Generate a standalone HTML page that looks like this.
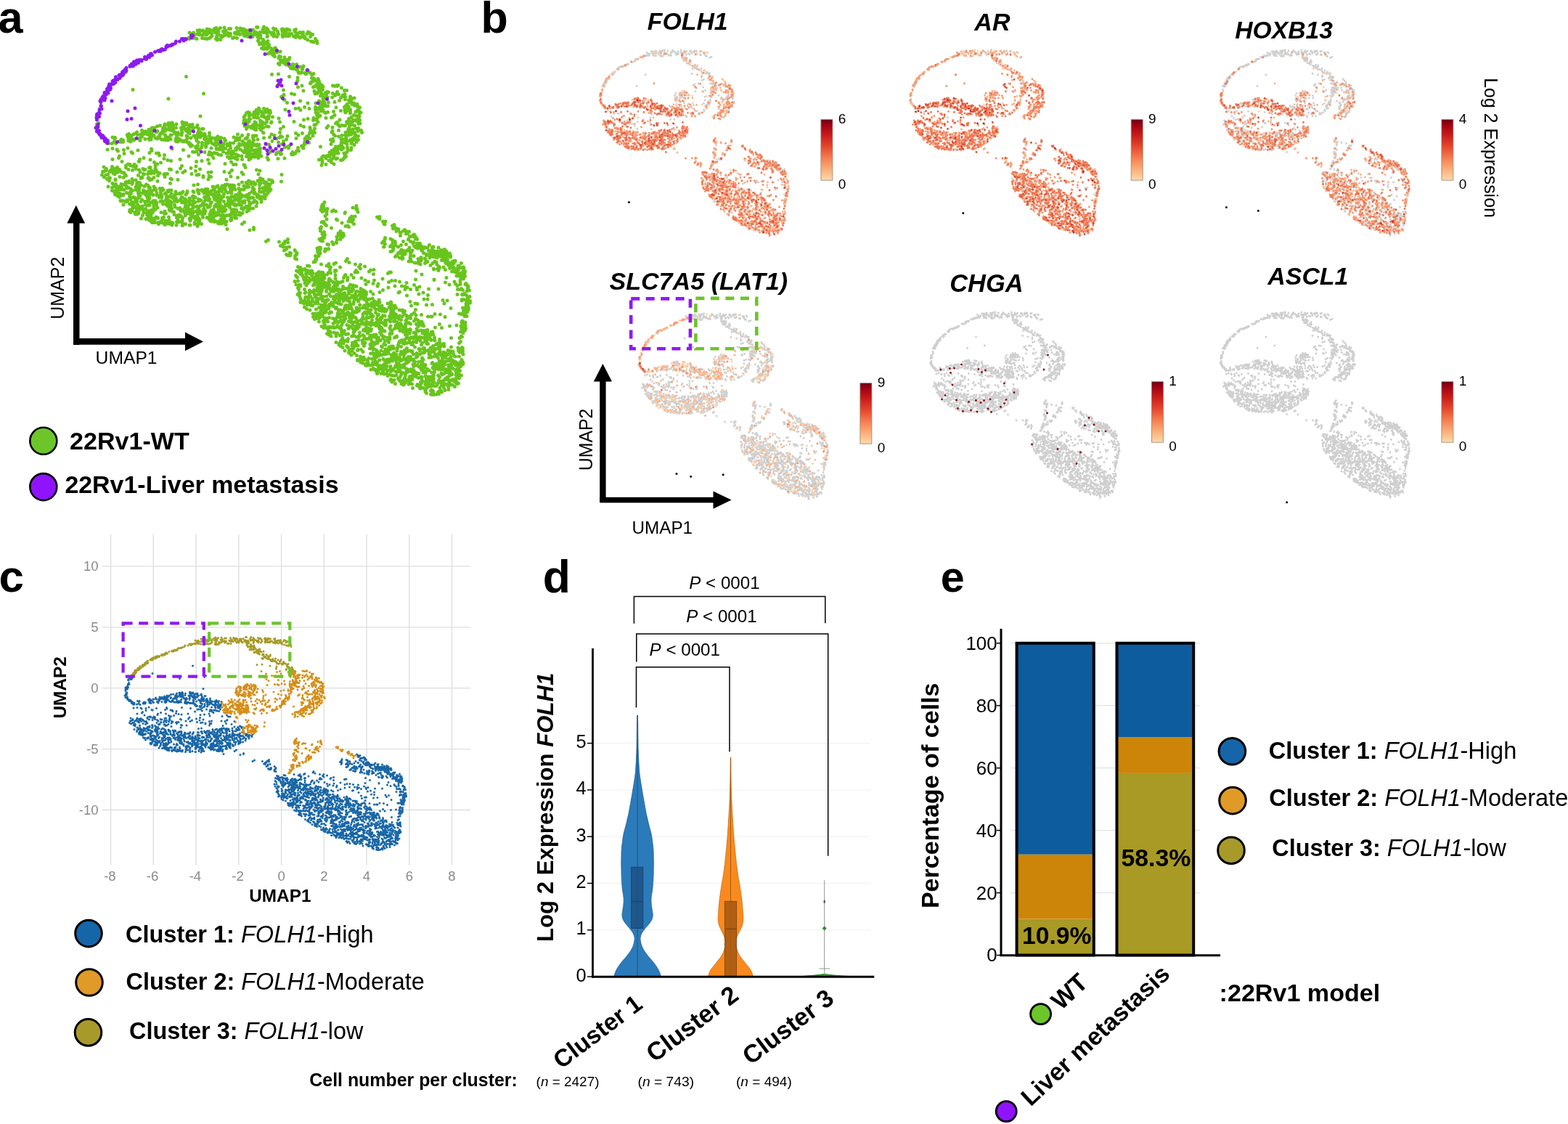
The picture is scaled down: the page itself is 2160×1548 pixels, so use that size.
<!DOCTYPE html>
<html><head><meta charset="utf-8"><title>Figure</title>
<style>html,body{margin:0;padding:0;background:#fff;}svg{display:block;}</style></head>
<body><svg width="2160" height="1548" viewBox="0 0 2160 1548" font-family="&quot;Liberation Sans&quot;, Arial, sans-serif">
<defs><linearGradient id="cbg" x1="0" y1="0" x2="0" y2="1">
<stop offset="0" stop-color="#6A0010"/><stop offset="0.08" stop-color="#9E0014"/><stop offset="0.25" stop-color="#C81A18"/>
<stop offset="0.45" stop-color="#E5482E"/><stop offset="0.62" stop-color="#F47A4E"/><stop offset="0.8" stop-color="#FAAA74"/>
<stop offset="1" stop-color="#FDDAAA"/></linearGradient></defs>
<rect width="2160" height="1548" fill="#fff"/>
<g id="pa" fill="none" stroke-linecap="round">
<path transform="scale(0.5)" stroke="#68C51C" stroke-width="10.0" d="M522 90h0m4 3h0m7-3h0m3 5h0m7-1h0m1-10h0m5 7h0m1-8h0m7 2h0m1-1h0m1 0h0m2 2h0m2 4h0m1 4h0m2-4h0m2 4h0m2-1h0m0-13h0m1 5h0m2 7h0m1-4h0m2 0h0m1-7h0m6 11h0m2-8h0m6-5h0m2 11h0m1-12h0m0 5h0m1-1h0m1-5h0m2 12h0m2 3h0m0-5h0m1-5h0m0 10h0m1-7h0m5-8h0m8 10h0m0-1h0m3-10h0m1 13h0m1 6h0m2-11h0m7 7h0m2-12h0m4 14h0m0-14h0m12 11h0m0 2h0m5-15h0m0 17h0m1-5h0m2-3h0m0 2h0m2 0h0m0 6h0m4 1h0m1-17h0m2 4h0m1 1h0m0-4h0m3 11h0m3-10h0m1 6h0m5-3h0m1 10h0m5-2h0m3-8h0m2 9h0m0-2h0m3-2h0m6-6h0m4 9h0m2 4h0m1-7h0m1 7h0m2-20h0m3 0h0m0 17h0m6-3h0m0 6h0m8-12h0m1 6h0m0-1h0m0-8h0m2-6h0m1 15h0m2 0h0m2-3h0m3-8h0m1 15h0m2-11h0m4 6h0m7 2h0m0 5h0m4-17h0m1 13h0m2 4h0m0-13h0m4-2h0m0 1h0m5 6h0m1 5h0m1 2h0m10-11h0m0-3h0m1 7h0m2-7h0m2 5h0m3-1h0m0 9h0m1-2h0m2-4h0m2-7h0m3 1h0m3 12h0m2-10h0m5 10h0m8-10h0m2 5h0m2-7h0m3 13h0m4-3h0m5-2h0m2 1h0m6-1h0m11 4h0m3-5h0m5 3h0m7 4h0m-341 9h0m0 0h0m2 3h0m8-9h0m3 7h0m3-1h0m6 3h0m8-11h0m0 0h0m7 9h0m1-9h0m5 10h0m2 0h0m4-10h0m2 11h0m6-2h0m4-3h0m3-3h0m11 8h0m2-6h0m1 9h0m0-11h0m4 9h0m6-10h0m0 11h0m2-9h0m3 1h0m0 0h0m1-1h0m3-3h0m0 1h0m5-2h0m8 3h0m1-3h0m3 2h0m7 7h0m4-2h0m8 2h0m19-8h0m2 2h0m9 2h0m10-4h0m1 0h0m2 4h0m14 1h0m1 0h0m0-5h0m0 0h0m0 15h0m1-13h0m0 15h0m1-15h0m0 6h0m1-4h0m1 1h0m3 2h0m0-6h0m4 19h0m3-8h0m1 8h0m4-1h0m6-15h0m0 16h0m1-17h0m1 13h0m16-13h0m9 1h0m15-5h0m1 5h0m8-2h0m5 0h0m5 0h0m12 1h0m2 0h0m2-1h0m2 4h0m7-3h0m4 4h0m6-3h0m1-5h0m3 1h0m2 6h0m2-1h0m1 4h0m7 4h0m7-9h0m2 13h0m4 1h0m3 1h0m5-9h0m4 6h0m1 6h0m-433 19h0m11-2h0m10-9h0m253-5h0m3-1h0m3 12h0m5-8h0m1-4h0m0 14h0m4-3h0m4-11h0m1 10h0m0 4h0m3-12h0m2 5h0m0-5h0m4 20h0m1-10h0m4 9h0m1-1h0m0-3h0m5-5h0m1 1h0m1 6h0m1-8h0m2 10h0m11 0h0m-34 6h0m2-1h0m9-1h0m0 2h0m3 4h0m4-5h0m1 9h0m7-12h0m0 0h0m4 16h0m1-5h0m4 1h0m0 10h0m4 0h0m3 1h0m4-9h0m5 7h0m7-2h0m0 1h0m2-5h0m-31 16h0m3 3h0m5-7h0m8 3h0m5 4h0m3-9h0m0 5h0m1 0h0m4 6h0m1 2h0m4 1h0m0 5h0m2-5h0m2 3h0m1-4h0m1-5h0m0 12h0m3 0h0m1-3h0m5 1h0m1-10h0m9 7h0m7 7h0m1-4h0m2-5h0m-489 17h0m166 12h0m236-6h0m18-1h0m30 7h0m20-19h0m2 0h0m1 22h0m2-15h0m1 2h0m0-1h0m2 0h0m4 1h0m2-2h0m9 2h0m0 0h0m1 2h0m2 1h0m3-11h0m0 6h0m1 0h0m1-5h0m6 6h0m4 5h0m1 10h0m2-10h0m3-2h0m-100 33h0m55-12h0m1-2h0m12 14h0m23-6h0m2-4h0m0 3h0m6-10h0m0-1h0m2 21h0m0-16h0m0-7h0m3 21h0m1-15h0m4 10h0m2-2h0m1-13h0m1 11h0m0-9h0m0 3h0m1 16h0m1-14h0m2 6h0m6 5h0m3 4h0m27-3h0m5 1h0m7-2h0m0 2h0m3-2h0m-566 12h0m195 11h0m220-10h0m1 13h0m0 1h0m21-4h0m8 2h0m10-20h0m15 10h0m27-10h0m3 11h0m2 7h0m5-3h0m1 2h0m2-15h0m3 6h0m3-4h0m1 9h0m1-12h0m1 15h0m0 3h0m4-12h0m0 15h0m7-6h0m3 5h0m2-8h0m4 1h0m12 3h0m6 6h0m2-3h0m4-7h0m4 7h0m8-18h0m3 20h0m5-13h0m0 1h0m1 10h0m5-11h0m-677 32h0m186-9h0m311-5h0m1-1h0m7 9h0m1 0h0m7 8h0m36-5h0m21 6h0m22 0h0m9-6h0m2 8h0m1-5h0m1-17h0m7 9h0m0 7h0m1-11h0m1 4h0m2 9h0m0-12h0m1 17h0m1-18h0m6-1h0m3 14h0m10-14h0m7 13h0m13-4h0m4-8h0m5-3h0m7 1h0m0 7h0m5 13h0m5-11h0m2 6h0m2-15h0m0-1h0m3 5h0m0 7h0m1-7h0m1 16h0m5-3h0m1-14h0m8 17h0m-708 10h0m403 14h0m5-2h0m4 2h0m12-2h0m4 2h0m2-8h0m0 7h0m6-2h0m1-10h0m1 2h0m1 5h0m5 2h0m7-8h0m0 0h0m2 11h0m1-3h0m6-6h0m1 7h0m2 1h0m0 1h0m1-3h0m4-2h0m1 5h0m41-8h0m28-3h0m9-1h0m5 5h0m11-8h0m13 4h0m17-4h0m0 7h0m1 8h0m3-10h0m3 11h0m0-10h0m0-3h0m3 1h0m1-3h0m4 5h0m1 5h0m1-17h0m1 10h0m1-11h0m0 4h0m0 11h0m2 0h0m2-11h0m2 17h0m1-21h0m2 23h0m2-19h0m4 0h0m0 17h0m16-2h0m7-11h0m13 9h0m10-10h0m1 8h0m1 5h0m1 2h0m0-18h0m1 11h0m2-10h0m2-3h0m0 15h0m2-9h0m2-2h0m4 12h0m0-4h0m11-14h0m1 3h0m1-1h0m2 18h0m4-3h0m1-13h0m1 3h0m3 2h0m0 9h0m2-10h0m3 14h0m-442 10h0m120 3h0m0 9h0m3-14h0m1 12h0m8 5h0m2 0h0m0-16h0m0 9h0m1-16h0m2 16h0m1-11h0m9-2h0m0 8h0m3-4h0m0 3h0m0-9h0m5 11h0m0-11h0m4 1h0m0 10h0m6 8h0m1 3h0m3-15h0m1-6h0m1 3h0m4 3h0m2 3h0m6 6h0m3-8h0m2 6h0m1-7h0m3-8h0m7 10h0m17 4h0m42 9h0m27-5h0m11-3h0m15 4h0m1-6h0m7 5h0m2-3h0m0 0h0m0-10h0m2-5h0m1 11h0m2-5h0m4 1h0m16 6h0m15-1h0m3-2h0m6-5h0m14 13h0m22 4h0m3-7h0m1 6h0m3-21h0m3 11h0m4 7h0m1 1h0m2-14h0m5 13h0m0 2h0m2-13h0m3 16h0m2-13h0m1 4h0m2-6h0m0-8h0m1 19h0m-724 11h0m5-3h0m119 20h0m19-2h0m8-4h0m1-1h0m6 5h0m1-5h0m7-4h0m8-2h0m8 7h0m0 0h0m0 5h0m2-5h0m2-7h0m1-4h0m0 16h0m2-4h0m1 3h0m2 0h0m4-12h0m1-6h0m2 12h0m1 6h0m0-17h0m1 18h0m1-11h0m0-7h0m1 10h0m1 4h0m2-12h0m1-4h0m1 2h0m0 9h0m2 4h0m0 5h0m0-13h0m8 7h0m1-10h0m13 10h0m1 6h0m1-3h0m1-19h0m1 5h0m0 0h0m1-3h0m1 9h0m1 5h0m3-7h0m0 10h0m0-16h0m3 20h0m2-20h0m0 3h0m0 0h0m1 13h0m4-1h0m1-7h0m3-3h0m5 6h0m2-7h0m4 9h0m9-2h0m0-1h0m1-4h0m3 9h0m10 1h0m3 0h0m111-16h0m3 8h0m1-10h0m0 10h0m4 8h0m2-13h0m3 7h0m0-1h0m7 1h0m1 3h0m2-2h0m1 2h0m2-8h0m1 5h0m2 6h0m0-8h0m2-11h0m2 3h0m1 19h0m0-20h0m1 16h0m2-9h0m8-1h0m0 8h0m0 1h0m2-1h0m1 6h0m2-4h0m1-11h0m0 10h0m1-17h0m3 15h0m4-11h0m5 8h0m0-12h0m5 13h0m7-11h0m1-2h0m23 0h0m2 19h0m8-6h0m47-4h0m9 4h0m17 2h0m1 5h0m11-12h0m1 10h0m3-11h0m6-7h0m24 16h0m4-5h0m12 4h0m9-11h0m3-3h0m2 0h0m2 7h0m1 15h0m3-11h0m6-3h0m7 1h0m2 0h0m4-10h0m2 2h0m1 1h0m2 17h0m1-19h0m1 15h0m1-7h0m3 14h0m1-17h0m2 2h0m2-8h0m1 20h0m5-10h0m4 8h0m6-1h0m1-12h0m2-1h0m2 0h0m3 19h0m-725 3h0m40 16h0m6 5h0m1-4h0m0 2h0m34-10h0m0 2h0m2 5h0m2-9h0m3 12h0m1-8h0m2 2h0m5 8h0m1-12h0m2-2h0m8-5h0m0 4h0m2 3h0m3 11h0m6-4h0m0-8h0m2 4h0m1-6h0m0 9h0m0-9h0m4-4h0m1 5h0m0-2h0m1 2h0m3-7h0m0 21h0m1-21h0m1 2h0m4 6h0m2-8h0m2 4h0m0 16h0m1-12h0m1 3h0m0-4h0m2-8h0m0 6h0m2-7h0m1 18h0m0-5h0m1-5h0m3-7h0m3 12h0m4 7h0m3-16h0m2 18h0m1-21h0m3 16h0m2-1h0m1-4h0m0 8h0m3-13h0m4 0h0m0-4h0m2 0h0m6 9h0m0-11h0m1 19h0m6-2h0m4 2h0m2 2h0m1 1h0m1 0h0m0-11h0m2 0h0m2-12h0m6 3h0m1 4h0m4 14h0m0-15h0m0 16h0m1-12h0m0 9h0m2-1h0m0-3h0m2-10h0m2 4h0m2 14h0m6-11h0m1-6h0m0 1h0m1-2h0m12 9h0m1-13h0m0 22h0m2-5h0m1-14h0m4 4h0m0-4h0m3-4h0m1 20h0m4-20h0m4 14h0m4 0h0m1 5h0m2 3h0m1 0h0m3-15h0m0 8h0m2-14h0m1 7h0m1-6h0m0 15h0m3 1h0m1-8h0m0-1h0m0 6h0m1-9h0m7 8h0m2-5h0m0 14h0m1-14h0m0 8h0m2 5h0m1 0h0m0-6h0m0 3h0m10-13h0m0 8h0m3 6h0m5 0h0m7 1h0m6-2h0m2-3h0m3 7h0m0-3h0m6-1h0m9 3h0m26-4h0m8 2h0m3-10h0m5 10h0m7-7h0m9 9h0m2 0h0m3-3h0m3-8h0m13 3h0m0 5h0m2-3h0m2-2h0m5 0h0m19-9h0m1 1h0m1 14h0m16-2h0m5-8h0m8 3h0m6 9h0m7-3h0m2-14h0m2 10h0m4 2h0m15-2h0m23-8h0m1 14h0m6-9h0m11-5h0m7 15h0m4-4h0m0-1h0m1 6h0m4-9h0m4-7h0m1-2h0m0 16h0m2-16h0m1-3h0m1 3h0m4-1h0m0 10h0m1-13h0m1 2h0m3 2h0m47-1h0m2-3h0m1 22h0m2-13h0m4 4h0m10 2h0m7 7h0m2-10h0m9-1h0m1-7h0m1 15h0m1 0h0m4-18h0m2 10h0m0-11h0m1 2h0m1 5h0m2 3h0m1-11h0m1 6h0m2-5h0m0 9h0m0-10h0m0 4h0m1 2h0m1-5h0m2 21h0m1-16h0m4 12h0m0-13h0m1 17h0m1-4h0m0-7h0m7-10h0m1 14h0m10-10h0m-704 21h0m1 8h0m4-7h0m1 8h0m9 0h0m6-4h0m5 4h0m11-6h0m2 2h0m2-7h0m3 4h0m2 3h0m0-5h0m15-2h0m0 4h0m2-1h0m4 3h0m9-4h0m17 1h0m26-2h0m4-1h0m29 0h0m5 1h0m7 1h0m5 0h0m3-2h0m19 3h0m2 3h0m1-5h0m3 0h0m1 5h0m3-6h0m4 2h0m5 4h0m3-2h0m2 2h0m4-3h0m0 1h0m3 3h0m6 6h0m0-4h0m2 2h0m1 2h0m1 6h0m3-1h0m1-2h0m10 4h0m3-1h0m0-15h0m3 13h0m2-9h0m8 15h0m1-5h0m1-9h0m0 6h0m10 6h0m0-5h0m0-7h0m1-6h0m0 15h0m5-18h0m1 10h0m1-10h0m3 6h0m3-4h0m4 9h0m5 3h0m3-2h0m1-12h0m1 17h0m0-12h0m1 0h0m1-1h0m0 5h0m2 4h0m3 0h0m3 10h0m3-5h0m0-14h0m1 14h0m1-6h0m1 0h0m3 6h0m1 3h0m1-8h0m0-1h0m4-8h0m1-1h0m5 10h0m0 4h0m5 0h0m0 0h0m3 1h0m0-8h0m9 0h0m6-7h0m1-1h0m4 18h0m1-20h0m1 23h0m0-22h0m2 17h0m1-6h0m0-11h0m5 14h0m4-10h0m3 4h0m2 7h0m2-4h0m1 10h0m4-7h0m0-3h0m4 5h0m1 3h0m0-6h0m0-8h0m1 6h0m1-8h0m1 14h0m0-11h0m3 4h0m2 11h0m2-6h0m1-6h0m0 3h0m2-11h0m1 11h0m0 3h0m0-14h0m8 16h0m1-4h0m2-14h0m1 16h0m3-1h0m0-1h0m19-1h0m8 1h0m9-9h0m17 3h0m10 5h0m4-8h0m0 5h0m3 12h0m5-22h0m3 20h0m5-2h0m24 5h0m10-5h0m2 1h0m5-4h0m1-4h0m1-6h0m4 5h0m3-4h0m1-6h0m3 9h0m32 11h0m28-19h0m1 12h0m3-8h0m3 0h0m7 15h0m2 0h0m7-1h0m2-1h0m0 3h0m4-12h0m1 6h0m1-7h0m1 12h0m1-20h0m6 9h0m3-5h0m3 0h0m0 9h0m1 9h0m7-18h0m2-3h0m2 22h0m0-12h0m2-4h0m6 8h0m2-14h0m4 6h0m5-6h0m-691 27h0m14-3h0m12 3h0m3 4h0m4 14h0m12-17h0m1 10h0m10-15h0m10 11h0m3 3h0m15-8h0m32 7h0m5-11h0m1 5h0m13 7h0m6 0h0m2 6h0m14-1h0m21-17h0m31 3h0m15 17h0m11-12h0m4 1h0m5-11h0m2 10h0m5 8h0m1-15h0m16 8h0m11 7h0m2-7h0m5-11h0m0 14h0m2 6h0m6-7h0m3 1h0m3-13h0m1 2h0m1 12h0m4 3h0m3-14h0m2-1h0m2 16h0m4-17h0m2 8h0m6-9h0m0 0h0m3 13h0m6 0h0m0-8h0m5-6h0m2 15h0m0-3h0m0 6h0m1 2h0m2-11h0m2 0h0m1 6h0m0-5h0m6-9h0m2 4h0m0 12h0m2 2h0m1 3h0m4-1h0m4-17h0m4 18h0m3-14h0m3 4h0m2-4h0m0 0h0m3-6h0m1 9h0m0-10h0m1 22h0m0-15h0m0-7h0m0 12h0m3 6h0m0-2h0m1-16h0m2 7h0m2 2h0m3 5h0m0 5h0m3-18h0m0 3h0m4 11h0m1-10h0m0 17h0m2-16h0m1 15h0m2-15h0m0 4h0m0 11h0m1-2h0m1-15h0m1 1h0m0 12h0m1-1h0m1-2h0m2 8h0m0-18h0m1 11h0m2-3h0m1-11h0m1 16h0m1-5h0m0-5h0m1-7h0m3 21h0m19-13h0m5 2h0m2-8h0m15 14h0m1-4h0m6-2h0m5-1h0m0 7h0m2-1h0m20-16h0m8 16h0m2 2h0m1-7h0m5 5h0m3-2h0m0 0h0m0 0h0m3-6h0m6 0h0m12-8h0m1 0h0m54 22h0m3 0h0m8 0h0m0-1h0m2 1h0m5 1h0m0-11h0m0 6h0m2-6h0m2-1h0m2-4h0m0 3h0m2 6h0m0 2h0m3-3h0m0 5h0m1 3h0m0-20h0m2 4h0m0 5h0m0 0h0m1-9h0m1 7h0m0 3h0m1-1h0m0 2h0m5-10h0m0 5h0m2 5h0m1-13h0m1 0h0m7 3h0m5-4h0m2 14h0m2 3h0m3 5h0m2-10h0m3-6h0m1 0h0m8-1h0m-657 26h0m17-4h0m9 10h0m17 7h0m5 1h0m12 0h0m13-8h0m0-1h0m2-5h0m11-4h0m18 5h0m11 7h0m8 5h0m10-4h0m9-11h0m10 4h0m9 2h0m25-4h0m45 6h0m15-2h0m17-3h0m3 10h0m12-15h0m32 16h0m7-19h0m5 4h0m1-1h0m2-2h0m2 2h0m0 11h0m6-12h0m0 19h0m5-17h0m1-3h0m0 1h0m1 19h0m4-14h0m13 0h0m5 15h0m2 1h0m11-23h0m1 8h0m0-6h0m1-2h0m2 5h0m1-5h0m1 4h0m2-4h0m8 0h0m2 0h0m6 0h0m3 3h0m24-1h0m3 6h0m27-3h0m18-1h0m95 4h0m7 15h0m1-21h0m1 8h0m0 6h0m10 5h0m0-17h0m8 6h0m5-1h0m2-2h0m0 8h0m6-13h0m0 1h0m1 17h0m6-14h0m3-2h0m10 5h0m2 0h0m3-1h0m1-1h0m4-6h0m1 1h0m0-2h0m-667 41h0m3-13h0m1 12h0m3-2h0m3-5h0m0 4h0m9 4h0m3-4h0m3-3h0m1 7h0m0-14h0m1 3h0m2 15h0m4-11h0m0 6h0m0-6h0m1 2h0m0-3h0m4 4h0m0 0h0m2-8h0m1 14h0m5-8h0m2 4h0m1 1h0m4 3h0m6 1h0m1 3h0m4-17h0m0-6h0m7 11h0m5-11h0m6 13h0m1-11h0m6 2h0m2-4h0m0 9h0m1-7h0m8 10h0m3 6h0m8-9h0m1 14h0m2-11h0m3-1h0m7 12h0m3-6h0m1-11h0m3-1h0m1 12h0m1 5h0m1-8h0m0 1h0m8 6h0m2-7h0m1-6h0m0-8h0m2 12h0m5 7h0m5 2h0m15 2h0m6 0h0m6-13h0m4 1h0m17 7h0m9-10h0m4-7h0m3 18h0m6-4h0m16-8h0m2 16h0m11-8h0m1-13h0m11 8h0m23 9h0m8-1h0m36-1h0m14 3h0m6-6h0m1-1h0m27 6h0m10-14h0m31 7h0m9 2h0m-435 12h0m6 6h0m5-6h0m3 11h0m2-12h0m3 13h0m1 4h0m0-8h0m2 0h0m13-10h0m2 16h0m0-2h0m12-7h0m10 2h0m6-7h0m1 2h0m0 17h0m7 2h0m1-4h0m0 4h0m9-10h0m1 10h0m0-4h0m9-3h0m4 6h0m3-19h0m4 20h0m3-12h0m2-3h0m2 1h0m5-9h0m11 11h0m1-2h0m4 7h0m2-2h0m3 0h0m6-5h0m10 10h0m1-15h0m17-4h0m2 7h0m16 5h0m3 2h0m17 1h0m52-13h0m6-1h0m12 4h0m0 3h0m14 6h0m2-9h0m5 2h0m43 8h0m12-9h0m19 3h0m12 13h0m3-22h0m8 23h0m7-5h0m4 2h0m4 3h0m6-1h0m11-4h0m2-18h0m2 21h0m3-4h0m0-6h0m2 2h0m3 3h0m2-2h0m7 7h0m0 1h0m10-7h0m8 2h0m2 5h0m0-2h0m24 0h0m1-19h0m-478 33h0m11 3h0m0 8h0m1-20h0m2 2h0m4 7h0m2 11h0m1-18h0m2 15h0m0-10h0m4 2h0m2 8h0m1-3h0m0 2h0m5-10h0m1 9h0m0-13h0m0 15h0m1-5h0m4-8h0m3 14h0m3-17h0m1 4h0m3 6h0m0 2h0m1-4h0m6 4h0m5 3h0m2 4h0m1-18h0m1 18h0m9-10h0m0 8h0m3-12h0m0-1h0m0-4h0m1 4h0m0 14h0m3-6h0m1 3h0m1 1h0m0 5h0m1-9h0m1-8h0m4 0h0m6 14h0m1 1h0m2-12h0m1 14h0m4-19h0m5 3h0m0 16h0m2-10h0m3 4h0m0-4h0m2 7h0m9-10h0m0 9h0m3-4h0m1 0h0m2 5h0m10-5h0m2 1h0m1 7h0m4-8h0m0 1h0m3 3h0m12 2h0m5-1h0m2-19h0m3 19h0m44 3h0m16 0h0m2-17h0m10 13h0m1-15h0m2 16h0m9-1h0m1 3h0m1-1h0m6 1h0m2-5h0m6 6h0m0-6h0m10 5h0m4-12h0m0 0h0m2 9h0m3 1h0m4-9h0m5-3h0m2 15h0m2-7h0m1 2h0m4-4h0m2 9h0m1-15h0m1 7h0m3-7h0m1 5h0m3-8h0m0 7h0m0 0h0m1 8h0m0-13h0m1 16h0m4-19h0m2 1h0m5 6h0m2-5h0m0 16h0m0-7h0m0 0h0m3 0h0m0 5h0m2-14h0m5 1h0m0 3h0m2 7h0m1 1h0m10-14h0m0 11h0m3 3h0m7 0h0m4 0h0m0-10h0m4 3h0m2 1h0m4-8h0m3 7h0m7-8h0m4 18h0m0-9h0m1 7h0m3-2h0m2-13h0m0-2h0m2 1h0m11 20h0m0-8h0m0-9h0m3-5h0m6 13h0m4-14h0m1 12h0m1 9h0m3-1h0m0-12h0m2-8h0m1 5h0m0 7h0m1 7h0m1-10h0m1 6h0m2 5h0m1-3h0m0-5h0m1 10h0m1-18h0m0-1h0m2 15h0m-430 8h0m1 6h0m1-4h0m3 2h0m2 5h0m0-7h0m0-1h0m0-1h0m2 5h0m1 0h0m3 8h0m0-11h0m3 7h0m1-4h0m6 3h0m1-3h0m9-4h0m1 20h0m5-18h0m2 8h0m2-12h0m0 20h0m0-2h0m2-14h0m1 12h0m6-2h0m4 2h0m1 5h0m1-2h0m1-1h0m0 4h0m1-4h0m5-15h0m1 6h0m0 7h0m1-3h0m1-2h0m0-9h0m2 9h0m5 10h0m2-18h0m1-2h0m7 5h0m1 2h0m2-5h0m0 5h0m2 7h0m0-16h0m0 1h0m3 12h0m2 0h0m1 5h0m1-12h0m4-4h0m0 4h0m5 3h0m10 1h0m0-6h0m0 4h0m7 8h0m1-5h0m3-8h0m2 12h0m0-5h0m1 4h0m8-9h0m5-2h0m0 9h0m0 5h0m3-1h0m0-16h0m1 0h0m0 23h0m5-11h0m4 3h0m0-10h0m6 13h0m1-5h0m3-5h0m1 15h0m1-6h0m0-17h0m1 20h0m2-14h0m9-2h0m0 2h0m2 14h0m3-5h0m0-11h0m2 12h0m1-16h0m7 20h0m1-12h0m3-4h0m7 14h0m0 2h0m9-6h0m0-2h0m1 4h0m2-3h0m0-12h0m4 15h0m8-15h0m1 20h0m1-16h0m3 17h0m11-18h0m1-3h0m0 14h0m4 1h0m0 7h0m1 0h0m2-14h0m2-5h0m0 10h0m2-2h0m3 8h0m1-17h0m0-2h0m5 6h0m4 0h0m2 1h0m0 4h0m1 5h0m0 2h0m2 3h0m1-22h0m1 1h0m1 11h0m2 8h0m0-6h0m2-2h0m0-3h0m4 10h0m0-12h0m5 8h0m1 5h0m2-7h0m2 2h0m2-1h0m0-1h0m2-6h0m0 0h0m10 9h0m1-13h0m6 20h0m1-5h0m0 0h0m1-16h0m1 12h0m1-10h0m3 10h0m7 5h0m0-8h0m1-2h0m2 13h0m6 1h0m0-9h0m1 5h0m0-14h0m2-4h0m2 8h0m1-2h0m1 10h0m4-6h0m4 1h0m6 2h0m2-5h0m4 13h0m1-9h0m2-8h0m1 11h0m3 1h0m3-17h0m3 16h0m3-11h0m2-3h0m5 6h0m1 7h0m1-2h0m0 0h0m1-5h0m4 4h0m2 7h0m3-18h0m1 21h0m1-8h0m2-14h0m6 13h0m0-6h0m0 10h0m1 2h0m3-9h0m5-6h0m-406 21h0m4 1h0m2-1h0m2 11h0m5-10h0m2 2h0m4-2h0m6 8h0m6 2h0m0-8h0m2 18h0m1-3h0m0 2h0m1-15h0m2 0h0m0 8h0m2-9h0m4 15h0m2-18h0m0-1h0m0 0h0m2 10h0m4 5h0m5-13h0m2 16h0m2 3h0m0-6h0m7-13h0m1 9h0m1 11h0m5-9h0m0-11h0m1-3h0m1 13h0m1-13h0m1 13h0m2 0h0m2-7h0m7-4h0m2 8h0m1-9h0m0 16h0m0 5h0m3-19h0m1-1h0m0-1h0m1 9h0m2 2h0m1-5h0m2 13h0m8-17h0m4-2h0m3 9h0m0-6h0m7-4h0m2 1h0m0 10h0m2-6h0m1 10h0m0-5h0m2-2h0m0 2h0m0 0h0m1 5h0m3-8h0m0 10h0m0 0h0m0-9h0m2-6h0m2 14h0m1-9h0m1 16h0m7-21h0m1 10h0m1 6h0m4-18h0m2 3h0m2 19h0m5-22h0m1 21h0m5-17h0m0 2h0m5-4h0m1 4h0m3 12h0m1-7h0m0-8h0m4 12h0m1-12h0m2 12h0m0 5h0m2-15h0m4 6h0m1-10h0m6 13h0m0-3h0m1 9h0m0-11h0m1-8h0m1 2h0m2 14h0m2-12h0m6 11h0m0 3h0m1-2h0m2 4h0m0-4h0m0-15h0m5 13h0m2-15h0m4 10h0m3 4h0m0-1h0m0-6h0m1 16h0m3-23h0m4 12h0m3 7h0m3-19h0m2 18h0m2-4h0m1-5h0m1-3h0m2-1h0m8 11h0m3 0h0m1-5h0m0 6h0m1-3h0m1-1h0m1-1h0m0-11h0m3 15h0m2-14h0m0 5h0m1 11h0m2-10h0m1-7h0m3 18h0m1-3h0m6-13h0m0 18h0m4-9h0m1 3h0m3-1h0m3-7h0m1-7h0m2 11h0m2 8h0m2-13h0m1-4h0m1 8h0m2-8h0m3 7h0m3-9h0m1 0h0m1 14h0m2-3h0m1 3h0m8-12h0m0 8h0m1 2h0m6 10h0m0-9h0m1-10h0m3 3h0m3 15h0m2-20h0m0 5h0m4 10h0m3 4h0m5-2h0m1-1h0m0-4h0m0-9h0m1 4h0m1 14h0m0-11h0m8 11h0m0-16h0m4-6h0m5 16h0m0-12h0m2 3h0m12-3h0m166 18h0m0-3h0m1-3h0m1-4h0m3-1h0m1 12h0m0-4h0m2-14h0m8 18h0m70-3h0m9 3h0m1-3h0m0 3h0m0-8h0m-625 15h0m1-4h0m2 7h0m3-5h0m8 5h0m2 5h0m4-11h0m1 11h0m2-14h0m1 6h0m1 2h0m0 3h0m0-7h0m1-4h0m2 1h0m8 16h0m2-13h0m1 6h0m9-1h0m0 3h0m0 4h0m2-11h0m2 14h0m1-11h0m0 6h0m5-10h0m0 19h0m1-5h0m0-15h0m1 8h0m3-3h0m0 2h0m2-4h0m6-5h0m2 21h0m14-13h0m7 13h0m0 1h0m2-12h0m0 1h0m1-6h0m3 6h0m8 10h0m1-21h0m2 3h0m6 2h0m5 2h0m1 7h0m7 4h0m1 2h0m1-1h0m2 3h0m0-5h0m1-2h0m3 2h0m1-1h0m0-17h0m1 3h0m2 17h0m0-14h0m4-2h0m1-2h0m5 8h0m1 8h0m0-11h0m2 8h0m0-2h0m1-2h0m1-10h0m3 0h0m2 2h0m1 7h0m0 2h0m1-10h0m0-1h0m2 12h0m0-9h0m3 10h0m0 3h0m0-2h0m0-7h0m2 15h0m1-23h0m0 13h0m2-1h0m3 11h0m1-2h0m1-14h0m5 13h0m3-16h0m0 14h0m1-7h0m0-2h0m0 14h0m2-21h0m1 8h0m1-5h0m1 7h0m0-8h0m2 8h0m3-2h0m3 7h0m1 6h0m1-16h0m1-1h0m0-6h0m0 14h0m0-8h0m2-3h0m1 9h0m2-7h0m4 18h0m7-1h0m1-8h0m2-5h0m2 6h0m0 2h0m0-13h0m1 12h0m2 4h0m2-9h0m1-10h0m0 20h0m1-16h0m0 1h0m0 2h0m5 10h0m0-4h0m0-2h0m3-1h0m2 5h0m1-4h0m1-3h0m1-3h0m0-5h0m0-1h0m2 2h0m0 2h0m0 12h0m3 1h0m4-10h0m1-3h0m3 12h0m0 4h0m1 3h0m3-17h0m2 13h0m1-17h0m3 15h0m7 0h0m2-2h0m3 0h0m1-13h0m1 7h0m4-4h0m1-4h0m0 1h0m1 11h0m1 2h0m0 6h0m2-14h0m0 8h0m1-6h0m1 7h0m1-14h0m1 4h0m7 10h0m1-6h0m2 6h0m6-5h0m2-10h0m10 6h0m3-7h0m2 0h0m1 3h0m198-1h0m4 5h0m5-3h0m3 15h0m4-18h0m0 6h0m0 7h0m15-8h0m4-3h0m6 3h0m25 5h0m1-2h0m18 11h0m9 0h0m4-19h0m2-1h0m2 8h0m53 14h0m7-1h0m-657 5h0m13 1h0m4-1h0m4 3h0m1-4h0m1 3h0m3 5h0m0-8h0m2 0h0m2 12h0m2-4h0m1 4h0m0-2h0m1-9h0m1 5h0m0 3h0m2-7h0m0 4h0m1 6h0m8-13h0m0 1h0m1 12h0m1 4h0m5-6h0m3 2h0m1-6h0m1 5h0m0-7h0m0-5h0m1 4h0m0-1h0m3 12h0m3 4h0m1-2h0m2-9h0m4 8h0m1 0h0m0 0h0m2 0h0m1-6h0m1-4h0m4 11h0m4 3h0m0-7h0m2 1h0m10 6h0m1-20h0m0 11h0m3 1h0m0-11h0m0 4h0m0 3h0m4 3h0m8 10h0m0-14h0m0 6h0m1-12h0m0 20h0m8-4h0m11-15h0m0 0h0m0 0h0m0 18h0m2 0h0m0-12h0m1-4h0m11 13h0m0-3h0m0 0h0m3-9h0m5 18h0m1-23h0m0 15h0m1 0h0m0 3h0m1-17h0m0 8h0m1-7h0m1 8h0m0 5h0m1-9h0m5 11h0m16-17h0m6 5h0m3 4h0m2 0h0m2-9h0m1 2h0m3 7h0m0-7h0m3 9h0m3-2h0m7 5h0m0 1h0m2-2h0m1-3h0m0-1h0m1 7h0m3 0h0m0-6h0m1-7h0m1 6h0m1-5h0m1 11h0m1-8h0m1-7h0m1 9h0m1 4h0m1 1h0m0-10h0m1-3h0m4 18h0m2-9h0m11-5h0m1 2h0m1-7h0m1 5h0m10-5h0m3 1h0m16 16h0m6-5h0m213 0h0m4 0h0m0-1h0m2 0h0m1 4h0m2 2h0m4 4h0m1-17h0m27 0h0m2 2h0m13 8h0m10 9h0m6-1h0m2-12h0m3-4h0m1-5h0m4 6h0m1 4h0m1 0h0m3-6h0m2 12h0m69-15h0m2 1h0m9 7h0m3 7h0m2 1h0m2-8h0m19 12h0m5-3h0m-460 12h0m62 3h0m11-7h0m0 5h0m183-3h0m1 7h0m1-6h0m1-5h0m3 19h0m5-5h0m2 8h0m18-19h0m19 15h0m4 4h0m1-8h0m1-2h0m1 10h0m6-4h0m1 1h0m15-19h0m122 5h0m2-1h0m2-4h0m5 12h0m2-7h0m2 3h0m1-2h0m1 1h0m4 8h0m2 1h0m7-5h0m4-3h0m2 3h0m2 8h0m0 0h0m1-6h0m3 5h0m4-5h0m12 9h0m2-1h0m-408 19h0m6-4h0m30 5h0m11 5h0m3 0h0m2-6h0m5-1h0m2 2h0m1-7h0m0 9h0m87-9h0m4-1h0m0 5h0m1-6h0m4 7h0m1-15h0m3 6h0m22 12h0m11 0h0m1 2h0m1-17h0m1 8h0m9-1h0m0-7h0m5 1h0m1-3h0m3-1h0m106 20h0m2-2h0m2-3h0m2-1h0m2-8h0m0 3h0m15 0h0m5 3h0m1 8h0m1-2h0m5-2h0m1 3h0m14-19h0m8 16h0m14-5h0m0-1h0m4-8h0m0 0h0m2 1h0m0 13h0m3-14h0m4 19h0m2-3h0m3-13h0m0-5h0m2 9h0m2-3h0m2 4h0m0 12h0m6-1h0m2 1h0m-384 6h0m7 3h0m3 10h0m6-4h0m0-5h0m8-1h0m15 9h0m1 2h0m61-7h0m1 7h0m4-9h0m0 0h0m2 9h0m2-6h0m0-3h0m12 10h0m1-6h0m4 1h0m2-14h0m3 13h0m0-1h0m0-11h0m13-1h0m139 7h0m1 0h0m3-8h0m14 7h0m1 14h0m2-17h0m2 16h0m2-12h0m1 4h0m0 5h0m1-5h0m0-5h0m6-3h0m7 4h0m6 13h0m2 0h0m0-18h0m1 13h0m3 3h0m3 3h0m2-3h0m5-18h0m0 0h0m3 18h0m2-3h0m3 1h0m1-7h0m4 13h0m1 0h0m3-5h0m5-12h0m5 4h0m2-5h0m3 7h0m1-1h0m2-6h0m2 5h0m1-5h0m1 5h0m3-4h0m0 10h0m2 1h0m0 2h0m2-6h0m1-3h0m2 2h0m2-1h0m0-2h0m7 1h0m1 1h0m3 8h0m2-16h0m3 18h0m1-2h0m0 4h0m4-9h0m0-4h0m3-2h0m1 11h0m5 2h0m5-1h0m1 1h0m0 1h0m2-12h0m4 12h0m3-4h0m0-1h0m1 2h0m7-3h0m2-1h0m5 5h0m-441 9h0m2 1h0m1 1h0m2 0h0m5-7h0m0 8h0m1-3h0m1-3h0m12 14h0m0-7h0m3-4h0m1 0h0m0 13h0m1-17h0m51 8h0m0 11h0m2-8h0m0 8h0m1-4h0m4-16h0m2 9h0m4-7h0m71 21h0m4-6h0m132-6h0m3-3h0m2 1h0m3-8h0m4 13h0m2-12h0m5 15h0m1-12h0m0 3h0m1 7h0m6-13h0m0 2h0m14 10h0m1-12h0m0 6h0m0-8h0m0 17h0m9-8h0m12 8h0m4 6h0m1-2h0m3 1h0m0-9h0m1 3h0m6-15h0m4 15h0m2 4h0m1-16h0m1 3h0m8-2h0m1 6h0m0 3h0m1-10h0m1-2h0m1 4h0m0-6h0m1 0h0m4 0h0m1 10h0m1-8h0m1 2h0m0 8h0m2-7h0m1 4h0m0-2h0m1-2h0m0 4h0m2-9h0m3 14h0m0-4h0m0-10h0m0 2h0m1-1h0m4 6h0m0-3h0m1 3h0m3 3h0m1-2h0m2-2h0m1 15h0m0-16h0m1 14h0m1-18h0m2 19h0m0-8h0m0 5h0m1-9h0m1-1h0m0-2h0m1 13h0m1 5h0m0-22h0m0 12h0m3-6h0m0-3h0m1-3h0m0 22h0m2-8h0m0-11h0m0-4h0m2 20h0m3-12h0m0-1h0m3-5h0m2 6h0m0 4h0m10 11h0m3-1h0m-433 17h0m5 6h0m2-4h0m6 6h0m5-2h0m1 2h0m0-2h0m7-9h0m5 1h0m12-11h0m4-1h0m17 7h0m15 4h0m6 2h0m0-7h0m3 16h0m2-7h0m9-9h0m5-3h0m12 12h0m25-13h0m17 5h0m10 7h0m4-6h0m0 11h0m12-6h0m25 9h0m96-23h0m8 0h0m9 4h0m9-2h0m0 0h0m0 3h0m2 0h0m4 3h0m13-3h0m7-4h0m8 10h0m6-6h0m3 15h0m0 2h0m3-22h0m0 1h0m4 1h0m2 7h0m1 12h0m4-7h0m1 5h0m1-3h0m11 0h0m5 7h0m1-18h0m4 0h0m0-3h0m3 8h0m3-4h0m1 13h0m1-11h0m0-4h0m4 7h0m2-5h0m0 2h0m1-8h0m1 18h0m1-1h0m0-13h0m1 2h0m0-4h0m0 15h0m2 5h0m2-22h0m5 20h0m3-8h0m1 11h0m2-10h0m1 5h0m5-13h0m3 12h0m0 1h0m3-2h0m1 2h0m-463 21h0m2-13h0m2 18h0m3-15h0m3 0h0m3 6h0m3-3h0m0-4h0m1 8h0m1 2h0m2 4h0m2 5h0m5-3h0m0 1h0m1-13h0m0 2h0m2 8h0m3-17h0m4 22h0m0-14h0m2-6h0m2 7h0m3-8h0m0 13h0m3-6h0m1 13h0m6-4h0m3-7h0m0-1h0m5 8h0m0-3h0m1-10h0m0 7h0m2-1h0m5-5h0m1 14h0m2-6h0m2 3h0m0-10h0m3 7h0m1 8h0m7-10h0m4-5h0m6 1h0m12-4h0m0-3h0m1 22h0m0-9h0m2-13h0m21 20h0m3-6h0m2-2h0m6 8h0m10-8h0m6 8h0m4-15h0m2 0h0m1-5h0m4 5h0m11 16h0m21-18h0m4-4h0m8 11h0m40-2h0m4-3h0m4 0h0m69-4h0m16 10h0m46-11h0m22 20h0m15-17h0m6-4h0m2 5h0m3-1h0m2 3h0m0 9h0m2-8h0m1 2h0m0 1h0m0-8h0m2 9h0m4 6h0m0-1h0m2-8h0m2 11h0m3-14h0m0 10h0m1-12h0m1 1h0m4 4h0m1 8h0m0-13h0m0-1h0m-469 28h0m4 9h0m5-10h0m3 11h0m4 0h0m0 3h0m10-17h0m2 9h0m4 6h0m0-2h0m1-11h0m3 7h0m1-1h0m4-4h0m1-3h0m6-2h0m3 16h0m1-15h0m1 1h0m1 9h0m0 3h0m3-15h0m1 0h0m2 7h0m2 3h0m2 7h0m1-9h0m1-9h0m0 9h0m3 3h0m1 3h0m0-14h0m3 19h0m1-11h0m3 13h0m1-18h0m1 8h0m2 3h0m3 6h0m1-10h0m1 8h0m2 3h0m2-2h0m1 2h0m3-18h0m0 7h0m1-11h0m1 17h0m1-12h0m3 0h0m6 4h0m0 14h0m4-6h0m1-7h0m2 1h0m3-3h0m1 5h0m0-4h0m1 8h0m4-7h0m4 0h0m6-3h0m1 14h0m12-17h0m5 18h0m3-6h0m8 4h0m0-2h0m7 2h0m2 1h0m24-17h0m2 11h0m7-7h0m13 5h0m3-9h0m9 16h0m2-6h0m12-14h0m17 9h0m8-4h0m9 15h0m1-15h0m12 3h0m6 12h0m9 1h0m4-10h0m21 6h0m4-15h0m11 20h0m40-20h0m0 1h0m31 7h0m11 6h0m14-8h0m3 6h0m5 5h0m8-4h0m0-11h0m0 7h0m9-11h0m5 15h0m2-2h0m2 4h0m3 2h0m1 4h0m-470 20h0m1-18h0m1 19h0m1-15h0m1 9h0m1 4h0m0-1h0m2-2h0m12-10h0m1 10h0m2-2h0m10 3h0m0 6h0m1-7h0m0-7h0m5 4h0m7-5h0m0 7h0m2 6h0m3-11h0m3 11h0m1-20h0m2 9h0m2-5h0m0 14h0m2-18h0m4 22h0m0-14h0m0-8h0m0 14h0m1-3h0m2-4h0m3-7h0m9 11h0m1-7h0m6-2h0m1 16h0m1-16h0m3 6h0m1 2h0m2-2h0m4-6h0m1 9h0m2-3h0m4 15h0m0-22h0m2 18h0m2-11h0m3-4h0m1 1h0m2 12h0m0-2h0m2 2h0m3-10h0m2 11h0m2-14h0m3-1h0m0 13h0m1-14h0m1 19h0m1-6h0m4 8h0m0-20h0m7 12h0m0 2h0m0-8h0m1-9h0m7 11h0m1-4h0m0 15h0m1-20h0m1 4h0m0-5h0m1 4h0m6 14h0m1-6h0m3-3h0m7 10h0m1-8h0m1 0h0m1 10h0m0 0h0m1-19h0m2 9h0m3 7h0m1-7h0m0 4h0m0-9h0m3 3h0m1-1h0m2 8h0m3 2h0m0-6h0m12-2h0m7 7h0m18-5h0m9-6h0m15-7h0m28 14h0m3-2h0m15-7h0m5 17h0m1-22h0m9 5h0m17-4h0m1 5h0m5 12h0m12-4h0m13 7h0m2-17h0m27 0h0m52 15h0m1-14h0m7 0h0m3-2h0m2 16h0m1 1h0m0 0h0m1-13h0m1 13h0m3-3h0m6 4h0m1-11h0m0 0h0m3-7h0m0-3h0m4 8h0m-467 17h0m2 16h0m0-10h0m1 8h0m0-6h0m3 5h0m5 6h0m2-8h0m1 7h0m1-15h0m1-2h0m1 12h0m0 2h0m1-13h0m3 17h0m1 2h0m1-9h0m1-7h0m0 6h0m4 7h0m2-18h0m1 16h0m3-3h0m1-6h0m7-7h0m0 16h0m0 3h0m2-19h0m0 18h0m2-9h0m3 6h0m0-9h0m1 13h0m3-13h0m5 0h0m5 6h0m0-8h0m1-4h0m5 20h0m3-5h0m0-5h0m1-11h0m4 10h0m1 0h0m3 13h0m4-23h0m2 17h0m4 2h0m2-11h0m1-7h0m2 9h0m1 6h0m2-15h0m2 16h0m2-16h0m2 18h0m0-19h0m0 6h0m1 14h0m0-13h0m2-4h0m1 9h0m0-11h0m1 20h0m1-15h0m2-4h0m1 20h0m3-16h0m3 7h0m2-11h0m0 4h0m3 0h0m0 0h0m4-3h0m0 6h0m1 2h0m1-8h0m0 6h0m1 3h0m5 3h0m2-10h0m1 18h0m8-2h0m0-4h0m0-14h0m1 12h0m1-8h0m6 1h0m1-8h0m4 14h0m5-7h0m5-6h0m4 0h0m1 7h0m4 2h0m0 0h0m1-7h0m4 15h0m2-9h0m2 14h0m3-15h0m6 10h0m2-12h0m2 13h0m3-6h0m7 4h0m0 1h0m3 4h0m3-12h0m2 7h0m22 3h0m9-4h0m1 4h0m52-5h0m14 5h0m6 1h0m18-13h0m10 0h0m13 15h0m29-12h0m4 9h0m8-8h0m40 0h0m1-3h0m5 0h0m6 12h0m1-8h0m0-1h0m3-6h0m1 2h0m1 11h0m2-17h0m0 10h0m2-11h0m1 17h0m0-5h0m-456 17h0m6 5h0m2-11h0m7 14h0m2-14h0m2 1h0m3 1h0m10 10h0m6 11h0m2-16h0m1 15h0m3-15h0m0 13h0m1-4h0m1-16h0m4 1h0m1 6h0m2 14h0m0-9h0m1 0h0m2-12h0m0 15h0m1-10h0m0 16h0m2-3h0m0-16h0m2 10h0m6-2h0m1 13h0m0-19h0m3 16h0m0-18h0m3 18h0m2-19h0m3 0h0m1 3h0m6 6h0m2-3h0m4 15h0m1-9h0m3 2h0m3-1h0m6 8h0m2-6h0m3-6h0m2-7h0m1 8h0m1-10h0m3 5h0m1-4h0m0 20h0m1-2h0m2 2h0m0-21h0m1 9h0m0-2h0m6-2h0m3 16h0m0-9h0m5 8h0m5-4h0m2-9h0m1 12h0m0-12h0m5 5h0m1 3h0m2-16h0m0 10h0m1-10h0m8 8h0m3-6h0m0 4h0m1-4h0m1 18h0m0 2h0m1-20h0m2 18h0m0-11h0m4 0h0m3 7h0m0 1h0m2 5h0m0-20h0m2-2h0m0 18h0m0 0h0m3-5h0m2-10h0m1 0h0m6-2h0m1 7h0m3 4h0m0 9h0m5-21h0m2 12h0m2-1h0m1-7h0m1 11h0m6-13h0m0 15h0m1-9h0m5 7h0m1-4h0m1 7h0m0-7h0m3 4h0m0 2h0m1-2h0m1-1h0m7-7h0m4-6h0m1 2h0m0 9h0m0 2h0m0 8h0m1-2h0m0-7h0m0-8h0m1 12h0m2-4h0m3 8h0m0-8h0m1 9h0m0-19h0m3-1h0m3 6h0m9 6h0m6 1h0m3-1h0m2 8h0m2-2h0m2-3h0m18-15h0m8 20h0m4-9h0m30-13h0m67 9h0m33-1h0m2 9h0m4-3h0m1-2h0m1 5h0m1-4h0m0-9h0m0 14h0m3 2h0m1-7h0m0 5h0m1-17h0m1 12h0m1-4h0m-429 15h0m1 9h0m4 6h0m0-13h0m1 4h0m1-3h0m0-3h0m0 9h0m1-7h0m0 6h0m3-4h0m1 9h0m3-7h0m2 16h0m1-19h0m0 9h0m5-8h0m3 4h0m1-5h0m2 17h0m1-1h0m2 1h0m1-8h0m5 6h0m1-5h0m2 9h0m4-11h0m10 2h0m0 0h0m5 3h0m4-3h0m1 8h0m2-11h0m1-6h0m5-4h0m0 10h0m1 11h0m4-3h0m0-10h0m6 13h0m2-3h0m0 3h0m1-9h0m0-7h0m0-2h0m1-2h0m1 5h0m1 8h0m3-13h0m1 0h0m4 2h0m1 18h0m1-19h0m1 9h0m2-4h0m0 1h0m2 3h0m1 4h0m4-14h0m1 7h0m5 2h0m0 13h0m3-10h0m5 7h0m9-1h0m0-2h0m2 5h0m2-10h0m0 3h0m1-14h0m0 7h0m8 7h0m3-6h0m0 14h0m0-23h0m5 11h0m6-5h0m2-4h0m1 7h0m0 9h0m3-11h0m10 7h0m1 1h0m1-10h0m3-3h0m2 18h0m3-3h0m1-6h0m1 3h0m0-2h0m2-1h0m3-6h0m5 1h0m1 12h0m1 5h0m2-5h0m7-1h0m2-10h0m2 15h0m1-13h0m1 5h0m0-14h0m2 1h0m2 2h0m4 18h0m0-10h0m2-7h0m1 14h0m2-15h0m1-1h0m1 7h0m0-2h0m1 2h0m1 1h0m5 5h0m2-9h0m4 11h0m3-9h0m7-6h0m3 17h0m2-13h0m0-1h0m1 10h0m4-6h0m6-3h0m0 7h0m4-11h0m6 18h0m4-6h0m1-10h0m5 14h0m8 4h0m2-19h0m1 19h0m17-14h0m8 0h0m3 0h0m8-7h0m15 1h0m13 7h0m39-9h0m6 1h0m1 22h0m2-3h0m3-18h0m3 5h0m1-4h0m5 4h0m-400 28h0m6 4h0m1-13h0m2 5h0m5 8h0m4 3h0m0-5h0m0 0h0m1 10h0m1-9h0m3-2h0m3 2h0m6-1h0m0-10h0m3-2h0m0 14h0m3-1h0m4-2h0m1-2h0m2-9h0m4 14h0m5-6h0m0 9h0m1 4h0m1-16h0m2-6h0m5 23h0m7-16h0m4 10h0m2-7h0m3 3h0m2-13h0m2 0h0m2 1h0m1 7h0m1 10h0m1-18h0m5 20h0m1-9h0m4-10h0m1 16h0m0-11h0m2 5h0m1-5h0m1 6h0m6-8h0m4 0h0m2 18h0m1-1h0m0-1h0m2 3h0m1-21h0m2 16h0m0-11h0m1 16h0m2-8h0m4-10h0m0 11h0m4-15h0m0 22h0m1-5h0m3-10h0m1 11h0m0-18h0m6 3h0m0 1h0m5-3h0m2 7h0m1-9h0m2 6h0m0-2h0m2 5h0m3-3h0m1 8h0m1 4h0m2-18h0m1 13h0m3 3h0m1-15h0m1 20h0m1-19h0m4 3h0m1 2h0m3-5h0m0 6h0m11 7h0m2-5h0m0 10h0m4 2h0m7-5h0m3-9h0m4-8h0m1 15h0m1-3h0m3-6h0m1 4h0m2 13h0m0-20h0m0 5h0m0 11h0m2-15h0m1 1h0m2 5h0m3 11h0m2-5h0m5-7h0m0 8h0m0-3h0m0-9h0m2-2h0m1 17h0m3 2h0m0-20h0m2 21h0m1-22h0m1 19h0m1 1h0m2-2h0m1 2h0m0-17h0m16 1h0m1 13h0m1 5h0m3-12h0m0 12h0m1-22h0m1 4h0m6 17h0m1-15h0m2-4h0m2 4h0m0-3h0m2 19h0m0-13h0m7 12h0m4-1h0m21-7h0m12-9h0m6 10h0m22-5h0m19-2h0m12 2h0m1 2h0m0-1h0m1 6h0m0 5h0m1-20h0m3 12h0m1 5h0m3-10h0m1 13h0m0-22h0m1 8h0m0-8h0m1 16h0m-382 15h0m3 0h0m2 3h0m3-9h0m1 2h0m0 2h0m2 9h0m8-10h0m6 3h0m0 7h0m0-8h0m4 0h0m7 6h0m4-10h0m1 21h0m1-14h0m1 10h0m0-17h0m0-2h0m2 3h0m1 0h0m6 6h0m6 12h0m0-13h0m10 6h0m5-11h0m0 8h0m1 2h0m2-12h0m5 15h0m6-1h0m1-2h0m2-9h0m0 10h0m9-3h0m3 11h0m0-8h0m5 7h0m4-20h0m1 4h0m0 1h0m0 16h0m3-2h0m2-2h0m1 0h0m0-1h0m1-5h0m1 7h0m0-19h0m1 21h0m2-5h0m0-4h0m6 4h0m1-6h0m5 0h0m2 10h0m1-3h0m4 1h0m4-14h0m1 0h0m3 6h0m3-10h0m0 13h0m1 7h0m5-20h0m0 16h0m0-16h0m9 18h0m2 4h0m3 0h0m0-4h0m0-9h0m1-3h0m2-1h0m1 2h0m2-1h0m7 12h0m6-4h0m0 2h0m18-14h0m6 8h0m1-7h0m1 17h0m3-4h0m1 2h0m0-10h0m5 15h0m1-17h0m0 0h0m0 15h0m4-4h0m4 0h0m2 3h0m1-16h0m4 10h0m1-9h0m1 5h0m2 8h0m1 0h0m4 1h0m0-19h0m2 17h0m2-1h0m4 2h0m2 0h0m1-12h0m4-3h0m3 12h0m0-6h0m0 14h0m2-1h0m0-5h0m3-11h0m1-4h0m0 8h0m0 12h0m3-6h0m1 6h0m0-13h0m4 11h0m1-9h0m2-8h0m1 3h0m3-4h0m2 8h0m3 13h0m0 0h0m0-5h0m14 5h0m32-4h0m23 0h0m3-17h0m2 12h0m2 2h0m3-11h0m-350 26h0m8 7h0m1-4h0m1-1h0m2 8h0m0-7h0m1-7h0m5 18h0m2-11h0m3-7h0m1 0h0m2 0h0m3 14h0m3-13h0m1 18h0m0-2h0m11-5h0m1 3h0m0-10h0m0 4h0m1 7h0m0-2h0m4 2h0m1-13h0m3-2h0m0 12h0m1-6h0m5 6h0m2-16h0m10 2h0m1 8h0m4 7h0m1-6h0m2-3h0m14 6h0m0-2h0m3 10h0m1-8h0m0-10h0m2 2h0m1 13h0m0-5h0m1-1h0m4-1h0m2-4h0m0 2h0m3-1h0m2-9h0m1 9h0m5-7h0m3 0h0m3 16h0m2 2h0m5-9h0m3-8h0m1 11h0m3-12h0m5 1h0m1 4h0m1 13h0m6-2h0m1 4h0m3-4h0m1 1h0m12 3h0m2-7h0m2-6h0m2-5h0m1 3h0m3 12h0m2-18h0m4 9h0m2-6h0m1 7h0m1-6h0m0-5h0m6 23h0m0-14h0m7-5h0m2 4h0m4 5h0m3 0h0m2-8h0m4 15h0m4-13h0m0-4h0m1-1h0m1-2h0m9 3h0m3 11h0m2-5h0m4 14h0m2 0h0m2-18h0m5 6h0m0-4h0m3 4h0m7 11h0m1 1h0m1-22h0m5 16h0m5-15h0m3 11h0m5-1h0m0-2h0m3 8h0m0-3h0m2-8h0m3 11h0m5-6h0m4-1h0m1 7h0m19 2h0m19 2h0m3-13h0m4-4h0m3 18h0m1-2h0m-323 9h0m11 5h0m1-5h0m1 7h0m3-10h0m2 4h0m0 11h0m2-13h0m3-5h0m3 13h0m7 6h0m2-14h0m1-2h0m7 19h0m2-19h0m5 6h0m19-9h0m2 14h0m6-1h0m0-11h0m0 10h0m0-12h0m1 0h0m3 20h0m1-18h0m2 14h0m0 2h0m2-6h0m2-7h0m2 4h0m1 11h0m1-6h0m1 6h0m2-6h0m5-8h0m2 12h0m1-1h0m5-2h0m1-6h0m0 7h0m3-14h0m2 13h0m0-5h0m3-8h0m1 8h0m0-4h0m1 0h0m1 7h0m1-8h0m3-4h0m4 17h0m0-17h0m4 16h0m1 4h0m2-21h0m0 12h0m5 9h0m2-5h0m2-10h0m9 10h0m2-7h0m3 7h0m5-8h0m0 11h0m1-14h0m3 7h0m1-8h0m0 4h0m1-1h0m1-2h0m2 3h0m3 15h0m4-17h0m1 17h0m1 0h0m4-13h0m1-3h0m3 9h0m8-1h0m1-2h0m1 10h0m4-7h0m1-15h0m3 5h0m0 10h0m1-14h0m7 10h0m2-11h0m2 8h0m0 2h0m4-5h0m6-1h0m3 7h0m0 3h0m2-5h0m1 8h0m3-9h0m0 0h0m1-9h0m5 9h0m2-1h0m0 14h0m2-21h0m1 15h0m3-15h0m3 22h0m2-8h0m1 0h0m3-14h0m0 9h0m0 6h0m0-2h0m1-7h0m4 11h0m2 2h0m1-3h0m0-2h0m3-5h0m1 10h0m4 1h0m1-8h0m0 4h0m1-2h0m4 2h0m1-12h0m2 1h0m2 8h0m3-7h0m1 16h0m3-11h0m3-4h0m1 7h0m3 6h0m3 1h0m8-16h0m2 16h0m0 0h0m1-12h0m2-7h0m1 7h0m6-2h0m0-8h0m1 16h0m-291 15h0m0 2h0m5-2h0m4 7h0m0-8h0m0 5h0m5 5h0m3-16h0m0 8h0m4-2h0m1 13h0m0 3h0m3 1h0m1-7h0m1 1h0m1-7h0m1 6h0m2 5h0m0-18h0m3 19h0m6 0h0m0-17h0m2 10h0m5-13h0m2 18h0m0-10h0m3-10h0m0 17h0m2-2h0m2 8h0m4-15h0m1 15h0m0-15h0m10-3h0m1 15h0m3-11h0m2 8h0m1-6h0m0 6h0m1 4h0m0 2h0m3-17h0m3 7h0m2 1h0m1-8h0m5-3h0m3 7h0m3-9h0m1-1h0m2 6h0m5 6h0m1-4h0m0 12h0m1-15h0m1-5h0m0 17h0m1 4h0m2-18h0m1 16h0m0 2h0m2-20h0m2 9h0m1 13h0m5-16h0m3 14h0m1-19h0m0 21h0m1-1h0m1-3h0m4-10h0m1 7h0m0-12h0m5 9h0m1-12h0m0 10h0m5-4h0m2-1h0m5 14h0m0-11h0m1-3h0m3 10h0m1-4h0m0 10h0m4-22h0m3 22h0m3-9h0m8-2h0m0 9h0m2-18h0m1 14h0m2-9h0m4 14h0m2 0h0m10-20h0m6-1h0m2 17h0m2-2h0m4 8h0m1 0h0m5-5h0m5-16h0m3 9h0m2 7h0m0-7h0m2 0h0m1 1h0m3 2h0m0 7h0m1-19h0m0 6h0m2 2h0m2 4h0m1 5h0m2 1h0m2-19h0m2 10h0m6 11h0m0-1h0m1-16h0m2 5h0m5 9h0m2-10h0m0 5h0m0-6h0m1 9h0m0-1h0m1-6h0m1 0h0m6 12h0m0-9h0m4 3h0m3 7h0m6-3h0m0-6h0m3-3h0m1-4h0m2 13h0m1-7h0m1 5h0m-254 16h0m7-3h0m1 2h0m4 1h0m2 4h0m3-3h0m0 7h0m0 3h0m3-10h0m0 4h0m1-11h0m1 0h0m2-2h0m2 7h0m2 12h0m1-14h0m2-7h0m2 5h0m0 11h0m2-12h0m1 6h0m0 12h0m1 0h0m0 0h0m1-18h0m0 0h0m3 4h0m1 2h0m1 10h0m1-19h0m1 12h0m5-1h0m4-7h0m0-4h0m1 14h0m3-3h0m3 0h0m1-4h0m5-7h0m1-1h0m1 16h0m2 1h0m0-14h0m1-3h0m3 11h0m0 5h0m4-4h0m1-8h0m1 12h0m1-13h0m5 16h0m0-15h0m2-2h0m2-1h0m1 2h0m3 17h0m2-12h0m1 9h0m0-2h0m2-2h0m0-4h0m1 8h0m1-1h0m3-2h0m4-5h0m1 6h0m4-4h0m1-1h0m1 12h0m2-10h0m0-11h0m0 18h0m0 4h0m1-8h0m3 5h0m2 2h0m1-3h0m0 1h0m2 2h0m1-2h0m4 1h0m0-19h0m5 4h0m2 5h0m5-8h0m0 5h0m0 10h0m0-16h0m5 13h0m0-11h0m0 13h0m1 2h0m1-2h0m5-8h0m1 3h0m3 0h0m7 6h0m3-13h0m4 4h0m1 8h0m3-17h0m0 3h0m0 5h0m4-5h0m3 6h0m1-9h0m0 4h0m3-2h0m3 8h0m1-5h0m1 15h0m4-17h0m2 6h0m0 1h0m1 12h0m2-14h0m0 1h0m0 3h0m3 5h0m3-8h0m1 9h0m0-6h0m4-2h0m0-10h0m2 10h0m1-1h0m1 6h0m4-13h0m1 20h0m4-14h0m7 7h0m3-7h0m1 5h0m0 3h0m4-7h0m0 11h0m3-7h0m2-12h0m-201 26h0m5-3h0m3 15h0m1-2h0m0 0h0m2-11h0m1 18h0m0-5h0m5-12h0m1 12h0m6-13h0m5 9h0m1 0h0m1 1h0m2 5h0m1-10h0m3-6h0m1 21h0m2-1h0m0-4h0m6-5h0m2-5h0m1 14h0m0-21h0m2 17h0m4-2h0m4-3h0m0 5h0m0-3h0m2 2h0m0-11h0m1 17h0m1-7h0m2-9h0m0-1h0m3 8h0m4-9h0m5 0h0m2 2h0m6 3h0m5-2h0m1 13h0m3 2h0m0-16h0m0 5h0m0-2h0m1 8h0m9 2h0m0-15h0m3 7h0m1-5h0m3 0h0m0 0h0m1 14h0m0-8h0m1-4h0m1-2h0m1 5h0m0-5h0m2 3h0m2 7h0m3-11h0m1 12h0m1 6h0m1-9h0m2-3h0m0-9h0m1 19h0m11-19h0m2 19h0m0-5h0m2-9h0m2 11h0m2 1h0m2 4h0m1-23h0m4 16h0m2-1h0m3-4h0m5-4h0m1 7h0m0-3h0m4 3h0m1 4h0m0-15h0m1-3h0m3 16h0m3-16h0m3 13h0m3 5h0m0-1h0m5 6h0m0-23h0m1 18h0m0-9h0m1 13h0m4-18h0m2-4h0m1 10h0m6-8h0m-182 23h0m17 0h0m5 3h0m2-1h0m13-1h0m9 0h0m2 11h0m12-7h0m1-3h0m2 4h0m2 1h0m3 5h0m1 1h0m1-11h0m3 9h0m6 1h0m3 3h0m1 7h0m0-20h0m1 15h0m3-6h0m2-2h0m2-5h0m0 4h0m1-6h0m3 0h0m3 17h0m0-12h0m2 10h0m3-12h0m1 15h0m2-14h0m7 0h0m3-5h0m0-1h0m4 21h0m3-10h0m3 8h0m2-15h0m6 7h0m2-9h0m0-2h0m1 2h0m0 16h0m7-17h0m2 7h0m1 8h0m0 0h0m3-17h0m2 4h0m5 0h0m7 5h0m7-8h0m3-1h0m-88 27h0m12 3h0m3 1h0m3-6h0m3 6h0m6-1h0m5-6h0m2 5h0m8-5h0"/>
<path transform="scale(0.5)" stroke="#8C1AF2" stroke-width="10.0" d="M690 83h0m-207 36h0m2-5h0m10 0h0m6-7h0m4 0h0m1 5h0m1-4h0m4-1h0m0 2h0m2-1h0m14-4h0m0-6h0m1 0h0m1 1h0m1-2h0m1 2h0m135 13h0m24-10h0m-263 41h0m8-3h0m3 1h0m4 0h0m0-3h0m4-3h0m3 3h0m6-2h0m0 0h0m3-8h0m3 1h0m0-4h0m8 0h0m1 1h0m5-4h0m0 1h0m1 0h0m287 16h0m-386 27h0m5 1h0m1-1h0m1-1h0m4 2h0m1-1h0m1-1h0m9-3h0m0-5h0m4 6h0m1-5h0m5-5h0m2 1h0m0 4h0m3-4h0m1-6h0m1 4h0m1-4h0m2 4h0m311-3h0m-385 42h0m3-4h0m10-6h0m0 2h0m4-1h0m1-3h0m0-3h0m0 6h0m1-4h0m3 4h0m1-8h0m1-4h0m4 3h0m1 4h0m7-4h0m9-5h0m406 8h0m23 7h0m-500 31h0m0-2h0m9-5h0m2 8h0m0-3h0m1-6h0m2 4h0m4-2h0m0-9h0m0 4h0m0 4h0m1-1h0m1-5h0m1-5h0m0 3h0m0 6h0m2-10h0m1 3h0m3-3h0m2-1h0m499-1h0m-548 46h0m1 0h0m1-7h0m3 0h0m0 4h0m3-3h0m3-9h0m2-2h0m1 9h0m4-11h0m1 7h0m1-10h0m5 2h0m440 19h0m2-16h0m2 10h0m4-6h0m2-6h0m2 16h0m40-6h0m-528 25h0m0 2h0m3 2h0m2 1h0m0-7h0m2-8h0m1 4h0m2 7h0m1-13h0m1 1h0m0 3h0m0-3h0m3 3h0m1-3h0m1-1h0m-29 35h0m2 3h0m0-7h0m4-6h0m2-2h0m0-1h0m1 10h0m2-11h0m1 12h0m2-6h0m18 8h0m471-7h0m29 13h0m68 0h0m25-11h0m-628 37h0m1-8h0m4-11h0m1 1h0m1 8h0m72 6h0m20-8h0m424 9h0m-530 17h0m1-6h0m0-3h0m0 15h0m0-9h0m1-7h0m2 0h0m2 8h0m1-1h0m1-9h0m1 0h0m75 17h0m12-2h0m436-10h0m-534 35h0m3-3h0m0 3h0m0-1h0m3-1h0m0-7h0m117 3h0m289-4h0m-409 20h0m0-1h0m2 0h0m2 1h0m1 4h0m1-6h0m0 6h0m1 1h0m0 3h0m4 4h0m0-3h0m2 8h0m2-6h0m3 3h0m2 3h0m0 2h0m4 1h0m85-1h0m50-21h0m107 2h0m224 19h0m-469 4h0m1 4h0m2-2h0m4 0h0m1 4h0m0 3h0m27-3h0m149 15h0m136-15h0m124 5h0m12 10h0m24-4h0m14-4h0m20-1h0m45-6h0m-293 27h0m174-10h0m8 6h0m2 10h0m14-8h0m8-6h0m16 2h0"/>
</g>
<g fill="#000">
<rect x="101" y="305" width="8.5" height="170"/>
<polygon points="92.4,307.5 117.1,307.5 104.8,282.7"/>
<rect x="101" y="466" width="157" height="8.7"/>
<polygon points="255,457.6 255,483.2 280,470.4"/>
</g>
<text x="88.2" y="439.7" font-size="24.98" transform="rotate(-90 88.2 439.7)">UMAP2</text>
<text x="131.6" y="500.8" font-size="24.67">UMAP1</text>
<circle cx="59.8" cy="607.3" r="18.5" fill="#6CC62A" stroke="#000" stroke-width="2.6"/>
<circle cx="59.8" cy="670.6" r="18.5" fill="#9013FE" stroke="#000" stroke-width="2.6"/>
<text x="96.1" y="618.5" font-size="34.05" font-weight="bold">22Rv1-WT</text>
<text x="89.4" y="678.7" font-size="33.94" font-weight="bold">22Rv1-Liver metastasis</text>
<text x="-2.6" y="45.1" font-size="61.27" font-weight="bold">a</text>
<g fill="none" stroke-linecap="round">
<path transform="scale(0.5)" stroke="#CFCFCF" stroke-width="5.8" d="M1794 142h0m3 0h0m3 1h0m1-1h0m1 1h0m5 0h0m0-3h0m11 0h0m1 1h0m1 0h0m3 2h0m2-4h0m5 4h0m1-5h0m9 2h0m10 3h0m3-4h0m1 2h0m4 2h0m10-1h0m8-4h0m9 2h0m0 2h0m4 1h0m3-2h0m9 0h0m2-1h0m0 1h0m8 1h0m2-2h0m1 3h0m4-3h0m1 1h0m9 1h0m-178 22h0m2 1h0m0-2h0m4 0h0m3-1h0m13-8h0m2 2h0m0-2h0m3 0h0m1 0h0m3-1h0m1 1h0m0-9h0m3 4h0m0 0h0m1 1h0m1 0h0m0-1h0m1 4h0m2-5h0m7 0h0m0 0h0m3 5h0m1-4h0m3 4h0m1-8h0m2 2h0m0 7h0m1-8h0m1-2h0m5 6h0m0-4h0m5 8h0m2-3h0m0 4h0m0-5h0m1-4h0m0 0h0m4 9h0m3-5h0m1-6h0m1 1h0m1 3h0m5 2h0m2-1h0m4 4h0m2-1h0m3-5h0m1-2h0m0 8h0m2-9h0m10 3h0m3-1h0m0 5h0m2-5h0m3 3h0m6-5h0m3 2h0m0 5h0m0-2h0m1 1h0m0 8h0m1-13h0m0 6h0m0 10h0m1-9h0m2 15h0m0-8h0m2-15h0m1 19h0m0-4h0m2-1h0m3-7h0m0-1h0m0 9h0m1 3h0m1 0h0m4-14h0m3 2h0m5-6h0m1 3h0m6-3h0m7 6h0m10 1h0m0-1h0m2 2h0m9-4h0m1 1h0m2 2h0m1 3h0m3 1h0m1-11h0m7 15h0m5-2h0m-260 34h0m2-1h0m1-1h0m2-1h0m0-2h0m4-2h0m4-1h0m3 2h0m0-2h0m0 0h0m6-1h0m5-4h0m0 2h0m2-4h0m2 1h0m9-6h0m2 0h0m7-3h0m0 1h0m142-1h0m1 6h0m6-3h0m3 7h0m1-8h0m1 2h0m5 17h0m2-5h0m2-1h0m1 1h0m1 4h0m4-3h0m1 3h0m2 3h0m0-9h0m0 1h0m11 6h0m-256 24h0m4-5h0m0 6h0m5-10h0m2 2h0m2-6h0m0 2h0m1 2h0m1-5h0m1-1h0m0 2h0m3-2h0m7-6h0m2 0h0m74 14h0m128-3h0m27-6h0m0 11h0m2-7h0m0 0h0m1 0h0m9 2h0m1-3h0m1-2h0m3 3h0m2 3h0m2-1h0m1 7h0m0-8h0m1 10h0m0-3h0m6 6h0m1-2h0m-301 21h0m2-5h0m0 4h0m0-4h0m2 7h0m1-5h0m1-6h0m2 4h0m0-6h0m0-3h0m1 5h0m0-2h0m1-6h0m82 20h0m156-2h0m4-3h0m0 0h0m10-2h0m10-9h0m5-2h0m12-3h0m4 5h0m2 9h0m3 0h0m5 3h0m3-1h0m1 4h0m3 0h0m14-5h0m4 0h0m3 5h0m2-2h0m-335 17h0m199 12h0m3-6h0m10 6h0m1-7h0m1 6h0m0-5h0m2 6h0m2-5h0m0-3h0m5 6h0m0-6h0m1 3h0m0 2h0m2 2h0m2-7h0m4 7h0m0-6h0m0 0h0m1-1h0m23-3h0m21-12h0m6 9h0m15 0h0m2 2h0m1 6h0m1 0h0m0 3h0m1-9h0m0-2h0m5 4h0m1-12h0m1 1h0m5 6h0m1-6h0m4 21h0m28 0h0m0-23h0m8 5h0m3 13h0m0-8h0m2 6h0m-366 26h0m0-6h0m2 6h0m85-7h0m11-1h0m24 7h0m7 0h0m12 5h0m64-11h0m2 4h0m2 8h0m1-21h0m0 9h0m1-6h0m5 5h0m1 2h0m2-7h0m1 12h0m0-11h0m6-2h0m1 1h0m2 1h0m1 14h0m12 2h0m42-1h0m3-18h0m0 9h0m8 9h0m1-5h0m3 4h0m1-2h0m1-8h0m1 4h0m3-13h0m26 7h0m2-2h0m2 3h0m9 1h0m2-5h0m3-4h0m0 18h0m1 3h0m0-18h0m1 19h0m2-3h0m10-12h0m1 0h0m0-5h0m3 14h0m-355 18h0m1-4h0m7 11h0m29-13h0m12-3h0m57 7h0m9 1h0m21-5h0m23 10h0m9 0h0m3-1h0m6-11h0m3 4h0m12 15h0m6-13h0m2 0h0m5-2h0m0-6h0m1 0h0m5 5h0m0 14h0m28-10h0m5-8h0m9 16h0m6 5h0m13-8h0m0 0h0m6-12h0m0 8h0m0-9h0m2 7h0m1-8h0m1 9h0m5-9h0m26 11h0m4 7h0m1 0h0m9-6h0m7-9h0m2 17h0m5-4h0m0-6h0m-324 21h0m8-6h0m10-2h0m2 1h0m24 19h0m13-16h0m16 8h0m35 0h0m3-9h0m19 1h0m20-3h0m13 5h0m0 11h0m11 0h0m9-13h0m11 1h0m14 5h0m11-8h0m7 0h0m16 1h0m2-1h0m2-1h0m37 6h0m7-2h0m1 0h0m2-2h0m6-1h0m1-2h0m10 10h0m5-7h0m0 4h0m-324 36h0m17-15h0m27 2h0m6 6h0m9-7h0m7 0h0m6 1h0m1 4h0m8 9h0m1-19h0m34 1h0m3 19h0m2-13h0m6 2h0m56-3h0m1 16h0m29-5h0m-209 17h0m6 4h0m33-9h0m9 11h0m25-10h0m1 12h0m8 2h0m18-14h0m8 7h0m8-6h0m16 1h0m1 15h0m39-9h0m34-12h0m-174 29h0m1 5h0m20 8h0m38-12h0m11-6h0m3-2h0m8 17h0m2-15h0m19 21h0m11-19h0m17 17h0m132-7h0m35 3h0m7-11h0m0 0h0m-251 23h0m204-4h0m25 17h0m3-1h0m0 3h0m4-14h0m66 4h0m-151 21h0m46 10h0m2-5h0m1 5h0m2-15h0m7 13h0m2-7h0m6-3h0m2 3h0m70 3h0m11-2h0m20-1h0m6 15h0m9-16h0m2 6h0m5 3h0m16-5h0m15 12h0m3-6h0m0 3h0m-182 4h0m29 20h0m27 3h0m120-18h0m10 5h0m5 7h0m1-6h0m1 7h0m3 5h0m2-10h0m5-3h0m5 12h0m-226 5h0m2 6h0m14 14h0m2-18h0m8 15h0m20-17h0m16 7h0m1-4h0m80 12h0m3 2h0m4 2h0m54-6h0m11 1h0m1 5h0m1-20h0m13 19h0m-208 8h0m13 8h0m2 7h0m0 2h0m10-17h0m12 6h0m16 1h0m11 9h0m1-11h0m9 7h0m4 3h0m5-1h0m2-17h0m16 20h0m6-1h0m68-3h0m31-17h0m5 16h0m0-3h0m-194 16h0m30-4h0m23 12h0m24 7h0m9-19h0m4 15h0m2-4h0m26-10h0m21 9h0m43-4h0m-192 20h0m7 4h0m2 3h0m0-9h0m32-2h0m41 7h0m3 2h0m9 2h0m5 6h0m18 0h0m9-7h0m4-2h0m2 0h0m6-8h0m17 20h0m39-9h0m-148 15h0m2 8h0m23-8h0m3 19h0m11-8h0m2-9h0m7 2h0m18 7h0m18 2h0m30 7h0m17-10h0m0 8h0m-114 11h0m18 5h0m6-10h0m1 5h0m1-7h0m32 16h0m12 4h0m8-4h0m19-5h0m5-4h0m9 1h0m14 5h0m3-4h0m-72 19h0m38 9h0m29-3h0"/>
<path transform="scale(0.5)" stroke="#FCD0A8" stroke-width="5.8" d="M1801 142h0m2 11h0m7-9h0m27 2h0m43 5h0m41-4h0m29-1h0m-204 24h0m140-2h0m36 12h0m-236 24h0m3 1h0m1-4h0m241-7h0m8 6h0m19 12h0m-299 26h0m14-16h0m292 6h0m4 10h0m25-16h0m-118 36h0m3-7h0m15 7h0m41-7h0m29-7h0m35 12h0m21-7h0m-368 29h0m2 4h0m215-4h0m38-14h0m2 20h0m38-19h0m3 19h0m10-19h0m54 22h0m-336 10h0m178-1h0m7-5h0m1 15h0m70-18h0m7 18h0m2-13h0m54 13h0m-262 28h0m3-6h0m225-6h0m23-10h0m10 10h0m2-9h0m-299 48h0m71 9h0m78 8h0m124 22h0m2-9h0m1-1h0m-181 24h0m176-6h0m85 31h0m49 5h0m12-3h0m1 12h0m4-2h0m-166 14h0m58 3h0m138-5h0m11 15h0m4-1h0m-223 25h0m2-5h0m17-16h0m34 10h0m14 11h0m151-16h0m-135 39h0m7-9h0m64 6h0m17-6h0m50-6h0m8-6h0m-198 39h0m31-1h0m7-7h0m11 7h0m67 1h0m-124 11h0m45 13h0m7 1h0m7-10h0m20-5h0m12 21h0m17-21h0m29 16h0m-93 12h0m15 16h0m25-15h0m16 0h0m36 3h0m26 7h0m7-14h0m7 9h0m-107 27h0m47-8h0m65 0h0m-41 33h0m5-8h0"/>
<path transform="scale(0.5)" stroke="#FAB28A" stroke-width="5.8" d="M1931 141h0m-174 22h0m7-6h0m55-12h0m11 4h0m51-1h0m5 13h0m1-16h0m3 16h0m0 5h0m11 1h0m1-1h0m36-21h0m3 0h0m-239 44h0m10-5h0m0 0h0m8-3h0m177-6h0m10 6h0m8-2h0m7 12h0m-233 13h0m232 2h0m5-14h0m7 20h0m7-18h0m12 20h0m10-2h0m-300 23h0m2 4h0m13-22h0m284-1h0m0 6h0m4 1h0m1 6h0m3 9h0m5-11h0m16-9h0m6 14h0m2-6h0m1 5h0m0 3h0m10 3h0m-355 22h0m1-1h0m218 3h0m0-3h0m2-1h0m11-6h0m1 6h0m11 5h0m39-9h0m21 3h0m1-13h0m2 20h0m1-11h0m2-10h0m3 9h0m0-6h0m4 0h0m2 2h0m12-5h0m2 7h0m6 5h0m7 2h0m0-3h0m0-5h0m3 1h0m3 5h0m0 3h0m7-10h0m3 0h0m2 7h0m-364 23h0m0-11h0m3 21h0m2 0h0m50-3h0m13-1h0m23 0h0m9-6h0m18 3h0m2-2h0m9 8h0m3-9h0m74-7h0m3 3h0m20 6h0m1-1h0m24-8h0m47 13h0m4-16h0m22 15h0m2 5h0m5-17h0m2 11h0m2-5h0m3-2h0m5 10h0m4-14h0m0 12h0m4 5h0m0-5h0m10-17h0m4 19h0m-363 5h0m1 2h0m6 4h0m3 4h0m88-11h0m7 9h0m1-3h0m19-2h0m2 11h0m1 8h0m2 0h0m60-7h0m3-4h0m4-12h0m3 14h0m6 8h0m4-1h0m0-4h0m1-3h0m6-13h0m5 21h0m8-10h0m5-9h0m10 2h0m8 7h0m3 5h0m4-16h0m60 5h0m2 17h0m1-18h0m0 3h0m3-7h0m2 15h0m2 6h0m2-4h0m3 2h0m0-15h0m1 5h0m0-10h0m1 6h0m3 4h0m3-2h0m0 9h0m8-12h0m3-2h0m0-1h0m4 4h0m-338 41h0m25-4h0m17 4h0m19-22h0m45 21h0m15-10h0m17-11h0m41-1h0m21 0h0m11 7h0m14-6h0m21 1h0m44 3h0m1 0h0m8-5h0m4 2h0m3-2h0m1 1h0m7 10h0m5-5h0m3-6h0m-333 37h0m3-10h0m16-1h0m2 1h0m14 13h0m10 2h0m7 5h0m8-20h0m1-1h0m20 3h0m132 10h0m-192 29h0m1-1h0m4 2h0m1-19h0m4 11h0m8 5h0m6-15h0m1 9h0m2 5h0m6-6h0m11 8h0m15-10h0m5 14h0m17-6h0m9 3h0m9-14h0m14 16h0m3-19h0m2 8h0m10 4h0m7 5h0m1 2h0m7-22h0m8 2h0m0 13h0m0-13h0m1 0h0m5 14h0m5 0h0m3-6h0m11 3h0m1 9h0m2-7h0m9-2h0m5-6h0m7-2h0m2-1h0m-179 29h0m5-6h0m1 12h0m8-4h0m1 8h0m4-8h0m26-8h0m1 7h0m4-9h0m1 3h0m6 12h0m22 5h0m5-12h0m1 4h0m16 1h0m6 0h0m0-11h0m8 20h0m1-2h0m1 1h0m1-4h0m3-16h0m13 17h0m17-9h0m103-3h0m0-3h0m2-3h0m2 5h0m3 4h0m40 7h0m2-12h0m-268 21h0m5 1h0m43 0h0m27-1h0m34 1h0m3-2h0m7 11h0m100-2h0m1-9h0m0 16h0m1 2h0m2-5h0m0 9h0m3-18h0m17 12h0m2-4h0m17-12h0m58 3h0m6 8h0m3 8h0m8-3h0m5 3h0m9 2h0m-181 16h0m0-2h0m2-8h0m1 19h0m3-1h0m9-2h0m29-1h0m4 1h0m3-17h0m3 14h0m80-11h0m14-5h0m4 4h0m7 13h0m4-14h0m6 13h0m6-1h0m21-4h0m8 0h0m1 5h0m6 1h0m5 4h0m0-6h0m3 6h0m1-2h0m-207 7h0m4 19h0m2 0h0m7-3h0m2 4h0m14-18h0m3-5h0m4 23h0m10 0h0m1-8h0m2 0h0m54 7h0m42-20h0m28 4h0m3-3h0m16-2h0m5 1h0m2 18h0m6-15h0m3-3h0m3 8h0m2 3h0m3-12h0m7 21h0m5-6h0m4 0h0m-225 26h0m8-18h0m4 7h0m4-4h0m0 6h0m1-9h0m6 1h0m0-1h0m2 3h0m1-2h0m4 22h0m1-4h0m3-1h0m15 2h0m19-1h0m1-3h0m8 2h0m13-8h0m5 2h0m20 11h0m54-22h0m9 21h0m40-22h0m4 15h0m9-1h0m-233 14h0m2 7h0m6 6h0m1-7h0m3 9h0m3-16h0m9 15h0m4-7h0m3 9h0m2-12h0m3 11h0m1 4h0m1-7h0m2-3h0m13-13h0m4 11h0m1 8h0m8-7h0m0-5h0m4 8h0m2 4h0m1-18h0m3 15h0m2-11h0m3 3h0m3 12h0m5-16h0m1 5h0m2 4h0m0 8h0m0-17h0m6 16h0m26-2h0m3 3h0m38-2h0m14-13h0m41-1h0m13-4h0m4 8h0m0-1h0m-215 31h0m6-1h0m0-7h0m7 11h0m4-1h0m12-16h0m5 12h0m2-10h0m3 17h0m2-6h0m8-2h0m3-5h0m1 2h0m6-9h0m2 23h0m8-2h0m4-21h0m3 21h0m2-10h0m2 6h0m6 3h0m1 2h0m5-7h0m3-5h0m1-6h0m10-2h0m1 4h0m2-3h0m5 17h0m4-9h0m8 12h0m3-2h0m4-10h0m24 1h0m48 9h0m4-12h0m0-7h0m0 18h0m1-17h0m0 2h0m2 1h0m-195 30h0m12-9h0m8 6h0m2 9h0m6-18h0m1 12h0m14-10h0m7 12h0m1-7h0m0 0h0m5 4h0m0 9h0m5-2h0m1-12h0m0 11h0m8 3h0m4-10h0m3-1h0m3 0h0m2-9h0m15 15h0m4 8h0m5-14h0m9-2h0m0 13h0m0-1h0m9 3h0m9-10h0m6 7h0m2 0h0m2-1h0m1-4h0m1 7h0m0-10h0m41-2h0m1-4h0m0 2h0m0-6h0m3 5h0m2-5h0m-170 30h0m8 7h0m4-2h0m1-1h0m0-10h0m1 5h0m2 0h0m25 3h0m1 0h0m0-3h0m1 13h0m1 3h0m10-4h0m2 5h0m6-13h0m0 4h0m2-14h0m0 7h0m3 10h0m1-8h0m3 5h0m5-7h0m1-3h0m7-2h0m18 14h0m11-3h0m2-2h0m8 10h0m2-16h0m2 8h0m3-10h0m3 13h0m1-10h0m1 3h0m3 8h0m1-1h0m4-1h0m11 1h0m6-9h0m2 13h0m4-13h0m1 6h0m0-4h0m-132 17h0m8 10h0m5 2h0m2-3h0m1-1h0m0-9h0m6 19h0m5-5h0m4-4h0m10-2h0m3 2h0m2-2h0m17-2h0m1 12h0m0 4h0m2 0h0m8-21h0m1 12h0m4 3h0m1 0h0m9-12h0m15 5h0m10 3h0m2-3h0m8 6h0m0-3h0m0-8h0m6-3h0m-84 31h0m1-1h0m3 2h0m7-7h0m27 10h0m3-11h0m4 10h0m7-7h0m1-5h0m3 11h0m0-4h0m4 8h0m1-5h0m4-6h0m0 6h0m1 8h0m5-7h0"/>
<path transform="scale(0.5)" stroke="#F5936C" stroke-width="5.8" d="M1769 158h0m6-4h0m58-6h0m46 2h0m22 17h0m15-17h0m-193 29h0m16-9h0m-62 42h0m261-11h0m17 9h0m-287 14h0m3-7h0m131 13h0m113 9h0m14-8h0m28-12h0m14 17h0m1-7h0m9 6h0m4-2h0m14 5h0m5 1h0m3-5h0m5 2h0m-358 26h0m2 1h0m1-1h0m0-6h0m2-9h0m219 16h0m9 0h0m4-8h0m27-13h0m45-2h0m1 21h0m2-7h0m5 2h0m28-3h0m7-1h0m3-7h0m4 1h0m2 15h0m1-7h0m1-5h0m2 12h0m-366 3h0m4 20h0m39 3h0m14-1h0m9 0h0m2-3h0m4-1h0m1 2h0m1 3h0m0-1h0m2-4h0m3 0h0m14 1h0m5-3h0m2-9h0m2 0h0m1 10h0m4-3h0m0-4h0m4 11h0m0 2h0m2-3h0m1 2h0m4-8h0m1 7h0m1-1h0m6-11h0m0-1h0m3 12h0m12-10h0m10 12h0m69-7h0m7-1h0m8-7h0m8-1h0m56 13h0m3-19h0m25 20h0m23-2h0m1-2h0m1-6h0m2 7h0m1 1h0m0 2h0m1-14h0m1 15h0m4-18h0m-350 27h0m0-3h0m0 1h0m1 4h0m3 1h0m11-6h0m1 8h0m2 9h0m5-11h0m4 12h0m6-18h0m18 0h0m15 0h0m0-3h0m5 3h0m5-1h0m6 4h0m9-2h0m3 15h0m8-18h0m26 17h0m1 5h0m1-22h0m2 18h0m2-16h0m0-2h0m7 4h0m0 9h0m0-4h0m4 1h0m10 3h0m0-8h0m1 13h0m0-11h0m2 4h0m5-9h0m3 9h0m0 5h0m9-2h0m1 3h0m7 0h0m1 2h0m4-14h0m5 16h0m5 1h0m0-11h0m4 0h0m0 11h0m0-15h0m4 3h0m1 1h0m0-11h0m1 13h0m6 0h0m8-10h0m7 9h0m2 10h0m3-15h0m3-8h0m34 22h0m11-17h0m39 18h0m1-7h0m3 4h0m3-5h0m0 1h0m2-6h0m6-2h0m4-8h0m2 8h0m1-2h0m6-1h0m4-4h0m-354 43h0m26-7h0m5 5h0m12-2h0m1 4h0m1-1h0m0 4h0m5-11h0m1-2h0m5-3h0m15 7h0m3-13h0m10 8h0m25 10h0m51-16h0m13 3h0m1-5h0m4 3h0m6 3h0m4-3h0m11-4h0m1 3h0m4 6h0m5-4h0m1 1h0m1-1h0m2-2h0m1-1h0m5 3h0m24 3h0m9 0h0m52 6h0m1-3h0m12 3h0m4-9h0m0 11h0m3-7h0m-326 22h0m3-5h0m2-1h0m5 10h0m2-10h0m2 2h0m4 20h0m1-3h0m1-19h0m0 21h0m2 1h0m2-23h0m6 11h0m3 6h0m4-1h0m0 2h0m11 4h0m1-3h0m3 2h0m7-21h0m6 3h0m4 10h0m4-12h0m2-1h0m31 14h0m7-10h0m19 3h0m20-4h0m19 19h0m8-13h0m11 11h0m5-3h0m9-2h0m15 6h0m2-8h0m0 6h0m2-5h0m1-1h0m1 5h0m4 0h0m1 5h0m4-3h0m-220 9h0m7 3h0m2 2h0m1-7h0m3 1h0m8 14h0m2-9h0m3 0h0m1 12h0m0-18h0m0 2h0m3 9h0m1 7h0m1-6h0m1 3h0m0-14h0m2 15h0m1-18h0m1 2h0m1 5h0m0-6h0m6 3h0m4 6h0m1-5h0m1 0h0m1-5h0m1 0h0m1 21h0m1-18h0m3 15h0m1-15h0m2 19h0m1-19h0m1 18h0m0-11h0m0-3h0m4 4h0m2-6h0m2-4h0m1 2h0m3 14h0m2-6h0m0 3h0m1-10h0m1 18h0m2-1h0m0-10h0m2-8h0m5 7h0m3-1h0m4 9h0m3 2h0m0 1h0m1-7h0m0-9h0m4 5h0m0 6h0m5 0h0m1-1h0m4-3h0m2-6h0m14 2h0m1-4h0m1 9h0m3-8h0m1 6h0m3 9h0m1-15h0m1 15h0m1-21h0m2 10h0m0-6h0m4 15h0m4 0h0m1-5h0m0 2h0m3-14h0m1 8h0m0 4h0m3-9h0m7 17h0m1-14h0m0-4h0m0 9h0m2 10h0m8-14h0m0 9h0m1-11h0m5 14h0m9-6h0m0-6h0m5-9h0m2 19h0m3 2h0m1-8h0m3-1h0m2 6h0m5-5h0m1-8h0m1 6h0m3-9h0m2 1h0m0 3h0m0-6h0m77 21h0m-280 4h0m11 0h0m0 8h0m5 5h0m1-9h0m4 6h0m7 1h0m0-3h0m5 2h0m1-2h0m1 12h0m0-7h0m3 5h0m0-7h0m2 11h0m2-20h0m0 3h0m4-6h0m1 5h0m5 6h0m1 11h0m1-2h0m3-8h0m2 11h0m2-23h0m3 3h0m10 16h0m1-2h0m1 4h0m2-6h0m1-10h0m6 7h0m1-12h0m1 12h0m3-7h0m1 15h0m0-13h0m0 5h0m1 1h0m0 7h0m2-6h0m1-7h0m1-7h0m0 13h0m2 4h0m5-5h0m0-1h0m0-2h0m0 7h0m1 4h0m1 0h0m1-11h0m2 3h0m2 6h0m1-17h0m1 7h0m4 10h0m5-17h0m2 18h0m1-2h0m0 3h0m1-11h0m0 3h0m5-11h0m1 10h0m1-4h0m1 2h0m0 6h0m3-5h0m0-6h0m0 17h0m5-20h0m0 9h0m3 5h0m6-8h0m3 0h0m0 1h0m1 9h0m1-7h0m0-8h0m1 9h0m1 8h0m0-11h0m0 2h0m4 5h0m5-8h0m1-2h0m7-1h0m1-3h0m103-1h0m1 8h0m16 1h0m13 2h0m7 8h0m9-12h0m0-5h0m1 4h0m28 12h0m3-1h0m-308 8h0m1 2h0m2-3h0m3 1h0m8 2h0m1-3h0m4 5h0m19-2h0m6 2h0m41-5h0m4 3h0m2-1h0m0 0h0m4-2h0m131 13h0m6 6h0m0-16h0m26 17h0m0-3h0m6-11h0m1-6h0m8 3h0m42 1h0m11 2h0m2 3h0m3 4h0m3-2h0m2 4h0m11 2h0m4 4h0m2-1h0m4 2h0m0-2h0m-207 8h0m18 0h0m9-1h0m8 17h0m6-3h0m1 5h0m32-10h0m8 2h0m5 0h0m76-9h0m14 0h0m0 11h0m7 4h0m4-2h0m0-3h0m0-7h0m2 9h0m4 4h0m1-13h0m3-7h0m0 0h0m3 2h0m0 17h0m16-10h0m1 4h0m3-1h0m0-1h0m2 11h0m3-6h0m6-3h0m1 6h0m1 1h0m1 1h0m1-4h0m4 5h0m3 0h0m0-7h0m1 1h0m2 3h0m1 3h0m1-8h0m2 8h0m2-2h0m-184 11h0m2-7h0m3 21h0m11-8h0m3-3h0m2 8h0m7 2h0m0-1h0m28 2h0m8-5h0m6-3h0m36 9h0m6-22h0m11 2h0m21 6h0m2-2h0m1 5h0m7-7h0m3 3h0m3-6h0m4-2h0m3 0h0m0 8h0m2 0h0m1 4h0m0 6h0m3-1h0m2-16h0m5 3h0m2 6h0m1-3h0m5 4h0m0-2h0m3 1h0m1-2h0m2 12h0m1 2h0m5-3h0m6 2h0m-230 14h0m1 9h0m3-4h0m0-15h0m4 4h0m5 0h0m4 4h0m5-2h0m1 9h0m5-3h0m1-5h0m1 12h0m0 2h0m1-8h0m2 4h0m0-13h0m3 9h0m3-1h0m2 6h0m0-17h0m3 14h0m5-4h0m4 1h0m2 1h0m11-11h0m1-1h0m1 19h0m8 2h0m1-3h0m11 1h0m7-6h0m11-14h0m1 8h0m11-1h0m8 12h0m5-10h0m5 0h0m9 8h0m4 5h0m17-3h0m4-1h0m48-7h0m2 3h0m6-2h0m1-13h0m3 23h0m2-23h0m6 19h0m-229 23h0m1 5h0m0-20h0m2 12h0m0 1h0m3-2h0m0 0h0m2-14h0m0 17h0m1 3h0m0-12h0m1-6h0m0 14h0m5 0h0m4 0h0m0-4h0m2 11h0m2-23h0m0 12h0m1-5h0m0-6h0m2 10h0m5-9h0m6-2h0m0 8h0m1 9h0m2 4h0m1-20h0m2 15h0m1-8h0m2 0h0m1 9h0m0-9h0m0 3h0m2-6h0m0 9h0m0-10h0m1 15h0m1-10h0m1-4h0m1 6h0m3-2h0m0 2h0m1 0h0m0-8h0m0 18h0m1-1h0m1-10h0m10 0h0m4-9h0m4 1h0m5 0h0m1-1h0m3 4h0m7-4h0m1 21h0m2-4h0m5-1h0m7 4h0m13 2h0m39-18h0m39 9h0m20 0h0m1-8h0m2 6h0m6 5h0m0 3h0m-216 12h0m1 5h0m3-3h0m0-1h0m5 10h0m1-9h0m1-4h0m3 4h0m1-4h0m0-4h0m1 19h0m1-15h0m0-3h0m1 2h0m5 9h0m6 8h0m6-1h0m0-14h0m2-3h0m6 0h0m1 15h0m1-10h0m1-8h0m4-1h0m0 19h0m3 1h0m0-6h0m1 2h0m1 4h0m1 1h0m4-16h0m1 9h0m1 9h0m6-5h0m1 4h0m5-16h0m2 14h0m1 3h0m2-16h0m1-2h0m3 8h0m4 8h0m1-15h0m2 5h0m1-9h0m1-1h0m1 17h0m1-1h0m3 4h0m0-21h0m3 11h0m0 12h0m0-18h0m8 8h0m2-8h0m1 5h0m1-3h0m1 12h0m0-5h0m0-7h0m1 3h0m3 2h0m6 11h0m8-7h0m0-5h0m10 7h0m2-3h0m1 8h0m3-2h0m1 2h0m22-14h0m7 14h0m35-20h0m3 9h0m2-12h0m-195 36h0m1 1h0m2-3h0m3-7h0m2 1h0m3 12h0m1-15h0m7 19h0m1-12h0m7 15h0m1-18h0m4 11h0m3-11h0m2 4h0m1 13h0m0-20h0m1 15h0m3-2h0m1 0h0m4 7h0m2-3h0m3-13h0m0 2h0m3-4h0m2 4h0m1 9h0m0-12h0m0 9h0m1-14h0m1 15h0m3-2h0m4 5h0m4 3h0m1 0h0m4-3h0m10-14h0m0 7h0m1-5h0m1 2h0m11-8h0m7 23h0m1-18h0m1 5h0m1 7h0m1-5h0m11-1h0m0 4h0m2 6h0m0-16h0m5 17h0m2-5h0m2-16h0m1 9h0m1 6h0m0-3h0m0 7h0m1-1h0m1-12h0m1 7h0m3-1h0m5-3h0m2 10h0m24-2h0m8-18h0m8 3h0m-170 23h0m15 15h0m12 3h0m3-18h0m3 3h0m9 10h0m2 8h0m1-20h0m0 0h0m2 7h0m1 8h0m0-17h0m3 0h0m1 18h0m0-3h0m1 3h0m10-5h0m8-6h0m12 8h0m1-3h0m4 9h0m1-20h0m2 10h0m0 11h0m1-22h0m1 11h0m2 9h0m2-1h0m2-6h0m0-11h0m4 4h0m10-6h0m2 8h0m5-9h0m3 15h0m0 1h0m2 2h0m1-5h0m3 0h0m6-11h0m3-2h0m0 12h0m2 6h0m4 1h0m4-2h0m2-5h0m6 0h0m4 8h0m5-6h0m2 0h0m-141 10h0m2 2h0m4-1h0m4 7h0m1-3h0m3 3h0m8 6h0m0-7h0m2 11h0m1 2h0m1-6h0m4 6h0m4-13h0m1 4h0m0 9h0m1-15h0m1 0h0m2 18h0m5-6h0m1 5h0m1-7h0m2 7h0m2-12h0m1 12h0m1-4h0m0-8h0m2 4h0m2 1h0m1 2h0m0-7h0m3-10h0m2 7h0m1 3h0m1 9h0m1-2h0m0-4h0m1-8h0m1 9h0m2 2h0m6-15h0m1 14h0m1-10h0m2 14h0m2 0h0m4-7h0m4-1h0m0 2h0m0-13h0m6 15h0m7-11h0m2 18h0m2-9h0m2-3h0m4-4h0m0-4h0m1 0h0m1 17h0m1-15h0m3 2h0m0 14h0m1-6h0m1 3h0m2 1h0m0-5h0m2 1h0m1 9h0m1-2h0m3-17h0m0-3h0m1 1h0m4 6h0m6-1h0m2-7h0m2 6h0m-99 25h0m1-2h0m2 0h0m6-2h0m1 0h0m5 3h0m3-3h0m0-2h0m6 9h0m4 0h0m1 6h0m6-4h0m2 0h0m0-10h0m1 11h0m2 3h0m0-9h0m0 4h0m2-11h0m5 18h0m2-18h0m1 14h0m1-13h0m0-1h0m0 10h0m0-7h0m3 10h0m3-1h0m0-3h0m0-5h0m0 18h0m2-19h0m5 7h0m9 1h0m0-7h0m1 7h0m3-9h0m2 16h0m2-9h0m6-3h0m3 2h0m-34 17h0"/>
<path transform="scale(0.5)" stroke="#EE7452" stroke-width="5.8" d="M1879 153h0m-225 105h0m357-15h0m-357 33h0m1-3h0m1 10h0m48 4h0m12-2h0m1 1h0m2-3h0m5 3h0m4-1h0m2 0h0m13 0h0m2 0h0m1-4h0m2-7h0m0-2h0m10-2h0m1 6h0m1 5h0m12 4h0m2-14h0m13 11h0m6-5h0m0-1h0m2 2h0m1 5h0m2 3h0m5 0h0m7-1h0m163-7h0m44 4h0m-354 8h0m4 5h0m12-3h0m4 18h0m3-14h0m4 1h0m0-2h0m6-7h0m4 4h0m1-3h0m0 8h0m10 12h0m5-21h0m5 5h0m8 1h0m0 13h0m12-19h0m8 3h0m3 0h0m2 1h0m2 1h0m7 2h0m6-2h0m5 3h0m0 13h0m1-12h0m3-2h0m6 8h0m2-1h0m7 1h0m0-7h0m2 2h0m5 0h0m5-5h0m0-4h0m5 5h0m4-2h0m4 0h0m0 8h0m5-8h0m2 16h0m4-5h0m0 4h0m1-7h0m2-4h0m1 11h0m6-8h0m3 11h0m1 0h0m1 1h0m7-8h0m7-5h0m4 3h0m3 3h0m11-1h0m1-2h0m2 0h0m0 6h0m2-1h0m26 5h0m2 0h0m98-2h0m2-12h0m-342 38h0m8-3h0m4 3h0m3-2h0m18-5h0m48-12h0m22 18h0m22-3h0m12-19h0m6 3h0m3-2h0m5 0h0m22 0h0m1 2h0m3 4h0m5-2h0m22-3h0m6 4h0m32-4h0m69 4h0m-311 25h0m0-7h0m2 6h0m2 9h0m5-10h0m10-3h0m1 20h0m5-16h0m2 1h0m9 13h0m7 1h0m0-4h0m4-14h0m1 9h0m5-6h0m4 0h0m4 7h0m2-12h0m8 15h0m39-14h0m35 7h0m10 13h0m8 0h0m1-19h0m14 19h0m34-5h0m2-16h0m0 11h0m8 11h0m2-2h0m2-7h0m-218 11h0m4 4h0m2 4h0m1 3h0m2-9h0m1 5h0m2 2h0m1-9h0m14 14h0m2 6h0m1 1h0m3-6h0m1 3h0m3-8h0m1-5h0m4 2h0m4 12h0m3-13h0m0 13h0m1-2h0m1-5h0m0 0h0m4-3h0m5 10h0m0-18h0m7 18h0m1-12h0m1 6h0m2 6h0m19-2h0m1 2h0m9 2h0m2-2h0m2-12h0m9 7h0m1-2h0m0 7h0m6-3h0m1-8h0m4-5h0m0 2h0m5 12h0m4 1h0m1-2h0m7-1h0m2-3h0m1-13h0m1 13h0m2 9h0m1-6h0m3-10h0m3 7h0m1-12h0m2 5h0m2 8h0m1-6h0m4 0h0m5 10h0m1-15h0m0 9h0m5 8h0m3-9h0m0 4h0m3-3h0m1 0h0m4-1h0m2 6h0m6-11h0m1-1h0m1 4h0m1-6h0m1 4h0m2 7h0m4-8h0m0-4h0m3 11h0m1-6h0m4 9h0m2-15h0m3 3h0m-194 20h0m1 8h0m3-2h0m1-2h0m0 1h0m12-1h0m1 1h0m5 15h0m2 0h0m0-7h0m3-12h0m1 22h0m2-4h0m1-7h0m2 10h0m6-3h0m6 0h0m3-6h0m0-3h0m2-10h0m0 13h0m3-13h0m1 18h0m0 4h0m2-13h0m5 2h0m1 3h0m3 3h0m2-2h0m0 4h0m2-12h0m2 10h0m0-7h0m7 4h0m1-7h0m5 14h0m3-19h0m1 16h0m2-15h0m0 7h0m4 9h0m0-15h0m1 4h0m3-6h0m3 13h0m1-13h0m0 8h0m0 4h0m0-4h0m2 3h0m2-12h0m2 3h0m8 19h0m1-13h0m3-9h0m2 2h0m0 10h0m1-6h0m5 2h0m0-7h0m2 15h0m3-1h0m5-1h0m2 7h0m1-3h0m5-5h0m1 1h0m4-15h0m4 6h0m2 6h0m10-6h0m0-6h0m100 3h0m79 17h0m-315 5h0m1 0h0m12 0h0m5 3h0m10-2h0m6-2h0m1 1h0m6 4h0m17-2h0m5-1h0m2-2h0m3 3h0m13-3h0m12 3h0m2-3h0m9 11h0m217-11h0m1 3h0m18 7h0m11 2h0m2 5h0m10 1h0m-180 22h0m9 3h0m64-13h0m75 12h0m0-7h0m0-11h0m4 11h0m1 2h0m28-8h0m2-5h0m1 12h0m1-11h0m5 9h0m4 10h0m4 1h0m2-8h0m5 4h0m10-5h0m1 11h0m13 0h0m3 0h0m-210 19h0m4 1h0m3-1h0m4 2h0m19-9h0m2 12h0m46-3h0m7-8h0m50-12h0m0 0h0m17 7h0m4 0h0m6 13h0m4-10h0m3-8h0m5 8h0m19 4h0m7-10h0m5-1h0m9 6h0m5 8h0m7-1h0m-227 30h0m7-15h0m4 3h0m1 4h0m8-5h0m12-7h0m3 13h0m5 3h0m2-10h0m6 11h0m5-7h0m2 10h0m3-9h0m3 5h0m12-16h0m3 15h0m33 1h0m15-18h0m9 18h0m61 4h0m27-21h0m5 20h0m3-14h0m-229 20h0m3 12h0m9 5h0m1-9h0m1-4h0m3 14h0m4-18h0m3 10h0m1-7h0m22 11h0m1 5h0m1-14h0m2-1h0m3 11h0m1-7h0m1-3h0m11 4h0m0 1h0m0 10h0m1-2h0m3-11h0m5 9h0m9-12h0m0 4h0m0-4h0m3 1h0m2 4h0m18 4h0m77 4h0m15-7h0m-177 24h0m1-1h0m1 3h0m8-15h0m5 2h0m7 4h0m2 9h0m0 0h0m2 6h0m2-6h0m6 4h0m4-12h0m2 10h0m4-10h0m1-1h0m1 4h0m7 10h0m4-14h0m6 16h0m3-13h0m2-2h0m2-6h0m4 3h0m0 1h0m7 17h0m5-6h0m3-13h0m10 0h0m5 16h0m1-16h0m1 5h0m11-5h0m2 0h0m3 4h0m5 3h0m5 12h0m5-15h0m5 10h0m4 2h0m2 3h0m14-10h0m18 1h0m27-1h0m2-7h0m-187 22h0m9 8h0m2-7h0m1 10h0m2-7h0m0-6h0m4 21h0m2 0h0m0-9h0m6-10h0m7 20h0m13-15h0m1-8h0m3 9h0m2 10h0m3 0h0m11-2h0m1-14h0m0 2h0m1 5h0m1-7h0m1 11h0m9 4h0m1 1h0m1 1h0m9-20h0m2 4h0m10 17h0m1-20h0m0 13h0m23-14h0m54 23h0m2-7h0m-176 8h0m23 6h0m28 9h0m4 1h0m2-5h0m0-10h0m1 12h0m7-6h0m2-5h0m6 13h0m4 7h0m3-17h0m0 16h0m1-1h0m5 1h0m2 1h0m1-1h0m9-9h0m0-1h0m5 1h0m1 8h0m3-17h0m8 14h0m7-9h0m1 0h0m4-6h0m1 0h0m3 12h0m1-7h0m1 6h0m0-4h0m6 8h0m9 5h0m2-20h0m3 17h0m1-3h0m-119 12h0m0-4h0m3 5h0m3 1h0m0-6h0m10 8h0m5 8h0m2-8h0m3-7h0m5 16h0m2 3h0m11-18h0m5 15h0m3 0h0m6-6h0m2-2h0m3-8h0m2 16h0m1-14h0m6 11h0m2-4h0m2 9h0m1 0h0m2-11h0m2 2h0m9 13h0m3-10h0m6 5h0m1-7h0m4-2h0m3 4h0m1-4h0m3 5h0m2 7h0m2-19h0m1 2h0m1 3h0m0 8h0m2-13h0m8-1h0m1 4h0m8 16h0m2-6h0m-96 13h0m20 3h0m8-7h0m0 0h0m7 0h0m8 5h0m11-3h0m0-2h0m1 19h0m1-1h0m12-3h0m12-2h0m11-7h0"/>
<path transform="scale(0.5)" stroke="#DD4D38" stroke-width="5.8" d="M1749 282h0m15-5h0m34 10h0m-129 21h0m5-9h0m5-6h0m26 2h0m7-2h0m14 0h0m23-5h0m5 6h0m10-3h0m18 10h0m10-8h0m19 4h0m4 2h0m5 7h0m1-8h0m1-8h0m2 3h0m11 7h0m26 7h0m11 3h0m-197 25h0m68-9h0m98-14h0m8 3h0m13 2h0m-192 42h0m9-23h0m123 10h0m7-6h0m1 5h0m28-5h0m17 0h0m-162 40h0m7-3h0m0-1h0m20-10h0m68 17h0m7-4h0m23-1h0m6-8h0m15-10h0m1 15h0m6-12h0m16 11h0m25-13h0m-163 25h0m41 14h0m12-6h0m11-5h0m7 18h0m3-10h0m5-7h0m7 12h0m8-15h0m2 0h0m21 11h0m167 10h0m-43 38h0m22-10h0m100 11h0m-120 45h0m1-8h0m0 5h0m23 4h0m3 10h0m129-14h0m-152 35h0m6-15h0m87 13h0m98-5h0m-200 19h0m4 2h0m9 9h0m15-16h0m12 5h0m58 9h0m16 5h0m-100 5h0m107 0h0m2 3h0m13 7h0m10-5h0m7 8h0m-34 26h0m3-8h0m74 10h0m-98 19h0m32-1h0m3 2h0m35-6h0m-19 24h0m22 11h0m8-21h0"/>
<path transform="scale(0.5)" stroke="#BC2A25" stroke-width="5.8" d="M1756 276h0m-59 30h0m11 24h0m27 0h0m368 310h0"/>
</g>
<rect x="1130.9" y="164.7" width="16" height="83.5" fill="url(#cbg)" stroke="#9a8070" stroke-width="0.8"/>
<text x="1154.8" y="170.3" font-size="19.01">6</text>
<text x="1154.8" y="259.8" font-size="19.01">0</text>
<g fill="none" stroke-linecap="round">
<path transform="scale(0.5)" stroke="#CFCFCF" stroke-width="5.8" d="M2655 142h0m1 0h0m1 1h0m15-3h0m2 1h0m3 2h0m32-2h0m13 1h0m18-2h0m15 1h0m2 0h0m11-1h0m5 0h0m1 1h0m11 0h0m-178 22h0m20-9h0m3 0h0m6-1h0m7 0h0m8-5h0m8-3h0m3 2h0m6 3h0m5-5h0m3 10h0m0-5h0m10-5h0m5 1h0m3 3h0m9 4h0m13-6h0m2-1h0m0 5h0m15-2h0m2 2h0m3 16h0m2-23h0m2 14h0m3-7h0m7-3h0m5 18h0m14-16h0m5-3h0m9 5h0m7-7h0m3 0h0m3 6h0m12 8h0m-253 31h0m7-6h0m7 1h0m175-11h0m6 1h0m4-5h0m20 13h0m0-3h0m-232 20h0m0 4h0m246-3h0m-276 37h0m8-14h0m3-1h0m291-7h0m0 6h0m3 1h0m1 10h0m-309 30h0m1-1h0m3-11h0m232 5h0m1-1h0m1 3h0m68 2h0m0-20h0m1 9h0m4-4h0m-314 32h0m0-11h0m2 10h0m0 7h0m0-10h0m204 2h0m12-1h0m3 7h0m9-2h0m25 5h0m46 0h0m3-6h0m2-13h0m0 0h0m-299 26h0m2-1h0m1 1h0m5 6h0m13 11h0m10 1h0m165-21h0m14 14h0m41-2h0m15 11h0m77-2h0m-247 15h0m147-10h0m26-1h0m44 4h0m25 2h0m-335 19h0m230 12h0m-70 26h0m41 1h0m106 4h0m-268 12h0m60-5h0m27-1h0m4 1h0m9 6h0m171 4h0m-229 11h0m221 9h0m2 7h0m4 2h0m2-14h0m98 5h0m13 7h0m40 25h0m12 5h0m-174 1h0m23 20h0m150-16h0m15 16h0m-217 15h0m9-2h0m20-8h0m27 21h0m3-9h0m1 10h0m-8 17h0m34 4h0m116-7h0m6 1h0m23-2h0m-132 26h0m11 8h0m21-14h0m96 0h0m-172 17h0m56 0h0m38 4h0m-26 33h0m9-9h0m10 16h0m4-19h0m-41 34h0m16-1h0m38 3h0m52 9h0m-63 4h0m41 0h0"/>
<path transform="scale(0.5)" stroke="#FCD0A8" stroke-width="5.8" d="M2651 142h0m4 1h0m31-5h0m8 2h0m45 2h0m4 1h0m25 0h0m-157 20h0m8-6h0m10-3h0m11-5h0m1 0h0m1 1h0m13 3h0m1-4h0m7-5h0m0 2h0m1-2h0m11 7h0m2-5h0m4 9h0m3-11h0m8 6h0m5 3h0m24-7h0m11 0h0m6 13h0m45-8h0m11-3h0m4 6h0m7-8h0m-251 45h0m3-2h0m13-6h0m15-6h0m15-7h0m141-2h0m21 21h0m2-5h0m9 4h0m-239 26h0m7-10h0m6-4h0m2-2h0m244 2h0m12 1h0m12 12h0m-298 16h0m0 4h0m8-16h0m0 5h0m293 7h0m-312 30h0m2-1h0m223-3h0m4 0h0m75-6h0m3 8h0m-308 21h0m1 4h0m215-4h0m82 2h0m39-7h0m15-3h0m-345 19h0m7 6h0m321 9h0m-266 31h0m241-13h0m-249 32h0m-15 7h0m9 17h0m15-7h0m117-9h0m50 9h0m-62 23h0m147-4h0m-5 18h0m-8 43h0m9-2h0m84-10h0m-93 77h0m32 7h0m69 2h0m-54 5h0m-30 24h0m185 9h0m-42 18h0"/>
<path transform="scale(0.5)" stroke="#FAB28A" stroke-width="5.8" d="M2648 142h0m32-3h0m4 4h0m20 0h0m4-4h0m5 4h0m18-5h0m15 3h0m11-1h0m9 2h0m17 0h0m-177 23h0m8-3h0m18-8h0m1 0h0m18-6h0m7 5h0m1 0h0m3 1h0m6-8h0m9 0h0m7 4h0m1-1h0m2-1h0m12 4h0m4-7h0m2-1h0m29 7h0m1-6h0m1 7h0m4 11h0m0-4h0m1-14h0m0 16h0m4 0h0m0-2h0m10 8h0m5-23h0m7 0h0m29 5h0m6 6h0m0-11h0m12 13h0m-256 32h0m1-1h0m8-4h0m3-1h0m5-2h0m6-3h0m0 2h0m14-9h0m2 0h0m7-2h0m154 3h0m8 11h0m2 1h0m1-5h0m4 6h0m2 6h0m1 0h0m-246 22h0m9-9h0m3 2h0m2-1h0m0-1h0m1-3h0m0-2h0m1-1h0m235-6h0m4 2h0m3 14h0m1-7h0m6-7h0m12 10h0m1-1h0m1 7h0m1-8h0m0 7h0m2 3h0m5 3h0m-300 19h0m2 5h0m0-10h0m1 7h0m4-7h0m1-6h0m0-3h0m0 5h0m254 5h0m9-9h0m24 9h0m8-2h0m3 8h0m1 2h0m25-16h0m4 4h0m0 5h0m10 6h0m-352 19h0m202 7h0m15-2h0m0 1h0m0-4h0m3 0h0m3-7h0m5 9h0m2-9h0m1 6h0m4 5h0m7 0h0m36-11h0m24 5h0m3 7h0m2-19h0m1-2h0m6 3h0m3 2h0m27 6h0m6 4h0m6-10h0m4-2h0m3 4h0m-366 15h0m1 18h0m2 2h0m0-2h0m1 5h0m2 0h0m60-1h0m47-2h0m96-5h0m2-4h0m1-6h0m0-3h0m10 4h0m5-2h0m4 2h0m55 15h0m8-20h0m3 19h0m6-10h0m2-7h0m41 7h0m4 8h0m1-17h0m0 18h0m1 3h0m0 1h0m2 0h0m0-5h0m10-17h0m2 7h0m0-5h0m3 17h0m-357 12h0m2-1h0m1 4h0m9-2h0m87 0h0m23 14h0m75-20h0m6 18h0m12 1h0m54-22h0m6 18h0m3-13h0m2-2h0m0-1h0m1 7h0m47-4h0m1 15h0m0-10h0m3 8h0m4-10h0m12-5h0m-322 23h0m12 17h0m10-9h0m22 12h0m189-20h0m1 1h0m43 2h0m2 0h0m7-5h0m0 3h0m4-1h0m5-2h0m7 11h0m2-1h0m2-9h0m4-1h0m-333 37h0m3-10h0m4 0h0m6 19h0m5-20h0m17 14h0m16-16h0m9 3h0m1-1h0m4 3h0m40-1h0m21 16h0m7-11h0m54 8h0m25-2h0m1 4h0m7-2h0m-193 9h0m3 7h0m1 4h0m2-4h0m1 12h0m4-6h0m2-11h0m5 8h0m3 5h0m10-16h0m2 3h0m0 18h0m9 0h0m15-17h0m5-1h0m16 2h0m14 7h0m0 0h0m20-2h0m4-3h0m1 13h0m0-15h0m5 9h0m8 7h0m7-22h0m8 13h0m1-5h0m7 10h0m3-2h0m0-7h0m5 12h0m23-9h0m2-5h0m1 11h0m5-5h0m-170 26h0m7-6h0m2 12h0m0-2h0m0-8h0m28-8h0m2 0h0m6-2h0m15-1h0m10 0h0m2 17h0m2 4h0m2-5h0m6-4h0m15 5h0m5-14h0m4 4h0m0 8h0m4 6h0m3-3h0m14-10h0m3 0h0m1 11h0m14-9h0m3-9h0m100 6h0m4-1h0m2 10h0m2-9h0m-196 20h0m45-1h0m2-2h0m6 2h0m25 1h0m3-2h0m110 18h0m1-5h0m1 9h0m19-6h0m76-7h0m7 2h0m-158 19h0m3 7h0m0-2h0m15 8h0m29-3h0m2-5h0m1 8h0m1-18h0m2 1h0m7 5h0m79 3h0m11-10h0m12 17h0m14 2h0m15-10h0m8 2h0m19 4h0m-189 27h0m12-10h0m4-4h0m17 18h0m0-8h0m99-13h0m47-1h0m5 1h0m14 8h0m3 0h0m5 7h0m12-7h0m1 12h0m4-1h0m-222 3h0m9 9h0m3 7h0m2-11h0m4-2h0m3 17h0m2-1h0m18-16h0m3 11h0m16 5h0m2-3h0m4 6h0m3-4h0m13-8h0m13-1h0m12 14h0m17-13h0m38-9h0m9 21h0m40-22h0m1 22h0m5-16h0m-226 22h0m28 7h0m2 9h0m6 3h0m1-7h0m3-3h0m2 9h0m2-14h0m10 9h0m19-16h0m7 7h0m0 4h0m9-3h0m1 12h0m1-8h0m1-9h0m6 8h0m1-11h0m24 17h0m39 0h0m17-6h0m49-6h0m9-6h0m-215 39h0m6-8h0m35 7h0m7 0h0m1-2h0m3-3h0m12 9h0m21 2h0m9-10h0m4 11h0m31 0h0m4-10h0m0 4h0m24-3h0m10-3h0m38 12h0m3-1h0m1-15h0m0 4h0m1-6h0m-201 23h0m18 2h0m2 12h0m25-1h0m6-13h0m0 14h0m6-2h0m1-7h0m7-3h0m5 13h0m12-7h0m23 5h0m17-8h0m1 12h0m10-11h0m2 0h0m12 6h0m0 5h0m47-18h0m1 4h0m4-4h0m-170 30h0m14-6h0m28 5h0m1 3h0m1 10h0m1 3h0m2-1h0m7-15h0m14 11h0m0-8h0m9-2h0m24 0h0m6 2h0m16 12h0m5-8h0m6 3h0m1-16h0m4 17h0m8-6h0m7 5h0m3 4h0m10-7h0m-144 11h0m17 14h0m11-3h0m1-10h0m10 14h0m5-4h0m13 0h0m9-6h0m10 18h0m3 0h0m8-21h0m14 3h0m1-1h0m5 9h0m9-3h0m25-3h0m-82 26h0m1-3h0m10-3h0m17 12h0m8-1h0m17-14h0m2 7h0m6 4h0m3-7h0m2 14h0m5-7h0m2-5h0"/>
<path transform="scale(0.5)" stroke="#F5936C" stroke-width="5.8" d="M2662 143h0m0-3h0m12 1h0m-69 23h0m5-1h0m14-5h0m5-2h0m8-11h0m3 4h0m4-1h0m30 6h0m29-7h0m21 2h0m5-5h0m3 7h0m1-1h0m0 8h0m1-8h0m1-2h0m0 13h0m11-11h0m1 12h0m1 0h0m6-12h0m2 17h0m5-20h0m13 3h0m-214 36h0m6-2h0m1-1h0m10-1h0m7-6h0m10-6h0m9-2h0m150 3h0m3 7h0m6 3h0m7 7h0m17 1h0m-255 23h0m4-4h0m9-6h0m12-10h0m3 0h0m202 11h0m26-6h0m0 15h0m2-11h0m10 2h0m3-5h0m4 16h0m4-4h0m1 2h0m6 0h0m-301 23h0m6-4h0m1-6h0m3-8h0m6 0h0m76 20h0m49-7h0m148-14h0m5 5h0m2-2h0m3 11h0m8 8h0m0-6h0m3 4h0m0-7h0m3-2h0m12 4h0m3-13h0m1 13h0m3 5h0m2-4h0m0 2h0m4 0h0m12 2h0m-357 22h0m0 4h0m5-15h0m202 10h0m11-1h0m0 7h0m2-6h0m1 0h0m0 6h0m3 0h0m5-5h0m0 3h0m3 1h0m1-7h0m0 8h0m4-8h0m1 1h0m44-16h0m1 13h0m5-4h0m16-6h0m1 8h0m2 6h0m1-6h0m2 10h0m2-7h0m0-3h0m2-10h0m2 1h0m5 6h0m9-6h0m2 7h0m7 5h0m5-1h0m1 3h0m0-8h0m0 8h0m4-7h0m3 5h0m0-2h0m1-12h0m1 5h0m0 18h0m5-17h0m3 1h0m2 11h0m0-4h0m2 2h0m-367 20h0m43 11h0m13-3h0m0 2h0m12-3h0m1 0h0m3-1h0m1 2h0m0 3h0m0-1h0m2-4h0m3 0h0m11-7h0m2 8h0m10-6h0m5 1h0m5 9h0m7-9h0m0 2h0m1 5h0m5-4h0m1-9h0m4 14h0m3-9h0m11 9h0m8 0h0m56-16h0m13-1h0m7 9h0m1-9h0m2 9h0m4-7h0m9-1h0m10-6h0m2 6h0m33-3h0m0 9h0m10 7h0m3-1h0m1-18h0m0 19h0m26-1h0m2 5h0m3-15h0m2-2h0m2 11h0m1-5h0m3-2h0m5 10h0m2-15h0m2 11h0m1-12h0m5 2h0m1 15h0m3 2h0m1-20h0m-351 25h0m1 2h0m15-3h0m18 0h0m6 2h0m11-2h0m15 0h0m0-3h0m6 3h0m5-1h0m6 4h0m9-2h0m2-4h0m1 19h0m7-13h0m7 3h0m12-5h0m1 11h0m4 8h0m2-5h0m3-17h0m4 2h0m21 3h0m0 2h0m1 11h0m19-4h0m1 3h0m7 2h0m0-13h0m2 9h0m3-4h0m4-4h0m2 6h0m3 9h0m3-5h0m1-6h0m0 10h0m0-14h0m1 1h0m3 8h0m2-16h0m0 0h0m4 0h0m2 13h0m0-8h0m0 14h0m9-16h0m7 9h0m1-10h0m3 5h0m7-3h0m2 5h0m9 7h0m3-16h0m20 14h0m1 0h0m6-4h0m0-6h0m3 5h0m6-9h0m25 11h0m0-6h0m1 17h0m2-18h0m0 3h0m1 11h0m2 0h0m0 4h0m0-22h0m1 15h0m2 4h0m0 2h0m2-4h0m2-3h0m2-2h0m0-13h0m1 6h0m3 4h0m2-6h0m2 13h0m1-17h0m3 6h0m1 5h0m1 6h0m1-8h0m1-4h0m2-3h0m5 4h0m0-5h0m-354 43h0m16 3h0m5-15h0m10 10h0m8-18h0m3 16h0m1 4h0m1 3h0m1-4h0m4-7h0m7-5h0m9 13h0m5-6h0m3-13h0m1 15h0m2-15h0m32 18h0m13 3h0m11-19h0m4 9h0m14-8h0m3-3h0m6 2h0m13 3h0m2-5h0m4 3h0m17-4h0m9 9h0m10-4h0m1-5h0m12 7h0m13-6h0m3 7h0m60-1h0m1 4h0m0 3h0m8-9h0m5 9h0m3-9h0m0-3h0m1-2h0m0 0h0m2 1h0m8 9h0m4-4h0m0-3h0m-338 28h0m5-6h0m5 10h0m3-10h0m5 22h0m2-3h0m1-19h0m2 22h0m2-23h0m3 3h0m3 8h0m0-7h0m3 13h0m4-1h0m11 6h0m0-3h0m4 2h0m7 2h0m10-10h0m4-12h0m2-1h0m12 5h0m43-4h0m1 6h0m40 15h0m8-13h0m11 11h0m6-14h0m8 9h0m14 6h0m3-8h0m1 1h0m1-1h0m2 5h0m4 0h0m1 5h0m3-3h0m-220 9h0m8 3h0m1 2h0m1-7h0m1 11h0m2-10h0m1 16h0m1-1h0m5 2h0m2-3h0m4-2h0m1-13h0m1 2h0m2 9h0m4 4h0m1 1h0m2-16h0m0-2h0m1 7h0m0-5h0m6 2h0m1 0h0m4 6h0m1-5h0m0 0h0m3-5h0m4 18h0m2 0h0m0-15h0m2 19h0m1-19h0m1 7h0m0-3h0m4 4h0m1-6h0m1 8h0m2-12h0m1 2h0m2 5h0m1 9h0m1-6h0m0 3h0m2 8h0m1 0h0m0-5h0m1 4h0m7-2h0m4-10h0m4 9h0m0-9h0m1 7h0m1 5h0m1-1h0m1-6h0m4-4h0m0 6h0m2-11h0m0 14h0m3-4h0m0 1h0m5-11h0m1 1h0m6 0h0m8 15h0m1-17h0m1-2h0m1 11h0m3-8h0m1 6h0m3 11h0m2-23h0m2 10h0m1-6h0m2 9h0m2 6h0m2 1h0m2-1h0m1-5h0m2-12h0m1 12h0m1-4h0m2-5h0m7 10h0m0-13h0m1 20h0m1-20h0m0 2h0m2 19h0m3-7h0m4 2h0m0-4h0m2-7h0m1 3h0m11 3h0m1-4h0m1 6h0m0 7h0m1-7h0m3-15h0m2 3h0m3 18h0m1-8h0m1 0h0m7-11h0m3 3h0m2 0h0m2-1h0m1-2h0m1 1h0m0-3h0m1 6h0m-204 19h0m12 0h0m5 13h0m4-3h0m1 1h0m0-3h0m5-6h0m1 9h0m0-3h0m5 2h0m3 3h0m2 5h0m1-7h0m1-1h0m1 12h0m2-20h0m0 3h0m3-6h0m7 11h0m1 8h0m0 3h0m1-2h0m2-8h0m3 11h0m1-23h0m2 0h0m5 10h0m7 9h0m0-2h0m1 4h0m3-6h0m0-10h0m0 11h0m7-4h0m2 0h0m2-7h0m1 7h0m1 8h0m0-13h0m0 13h0m1-7h0m1 1h0m2-7h0m1 6h0m5 4h0m1-15h0m0 7h0m1 3h0m0-1h0m1 9h0m0 3h0m1-14h0m0 0h0m1 4h0m4 5h0m1-17h0m1 7h0m3 10h0m5-17h0m1 13h0m1 5h0m0 4h0m1-3h0m1-8h0m1-3h0m2 5h0m3-13h0m1 10h0m0-8h0m1 1h0m1 5h0m2 12h0m1 2h0m0-19h0m1 18h0m3-12h0m1-9h0m1 1h0m1 13h0m6 7h0m1-15h0m3 0h0m1 10h0m1-7h0m0 9h0m0-8h0m2-1h0m4 5h0m5-8h0m1-2h0m7-1h0m101 0h0m1-1h0m0-2h0m3 7h0m3 2h0m26 1h0m6 8h0m3-2h0m5 0h0m1-11h0m1-1h0m0 1h0m32 11h0m-308 10h0m0-2h0m3-1h0m4 2h0m6 1h0m1-3h0m0 3h0m5 2h0m35 1h0m1-3h0m34 0h0m1-1h0m5-2h0m32 12h0m98 1h0m2-12h0m2 0h0m2 2h0m22 10h0m5 4h0m3-11h0m8-5h0m56 5h0m3-2h0m6 7h0m3 9h0m10-3h0m3 3h0m1 1h0m1-1h0m5 2h0m2 0h0m-209 6h0m25 12h0m5-12h0m1 19h0m3-1h0m0-2h0m6-3h0m2 5h0m32-10h0m1 5h0m7-3h0m2 1h0m3-1h0m5-9h0m1 3h0m68-2h0m1-1h0m15 11h0m2-11h0m5 15h0m4-12h0m1 9h0m2-13h0m2 17h0m3-4h0m2-16h0m5 15h0m8-3h0m3-1h0m7 1h0m2 10h0m4-14h0m1 12h0m3-7h0m0-2h0m1 7h0m0-8h0m1 10h0m0-4h0m2 5h0m4-4h0m1 5h0m3 0h0m0-1h0m2-2h0m2 2h0m1-2h0m2 0h0m1-3h0m-211 10h0m4 19h0m2 0h0m10 1h0m12-15h0m5 14h0m3-11h0m1 12h0m10-12h0m2 8h0m1-4h0m6 6h0m28 1h0m0-10h0m7 5h0m12 5h0m30 1h0m36-3h0m5-14h0m2-3h0m16-3h0m3 0h0m3 12h0m2 8h0m5-15h0m1 0h0m1-1h0m1-2h0m2 5h0m0 3h0m3 3h0m3-2h0m0-2h0m1-8h0m4 10h0m0-4h0m1 11h0m1 4h0m1 0h0m1 1h0m2-4h0m0-6h0m2 3h0m4 0h0m-229 28h0m4-4h0m0 2h0m2-15h0m1 2h0m2 17h0m3-5h0m4-10h0m3-4h0m2-3h0m5 1h0m0-1h0m3 22h0m1-21h0m1 13h0m2 9h0m2-9h0m3 4h0m2 1h0m4-3h0m9 4h0m2-8h0m8-1h0m3-9h0m1 19h0m2-11h0m7 13h0m1-3h0m21-8h0m7-11h0m13 7h0m8 12h0m5-10h0m18 8h0m3 2h0m5 2h0m8-2h0m54-5h0m7 0h0m0-15h0m0 13h0m6-13h0m2 14h0m3 7h0m-233 14h0m5 12h0m1-6h0m0-7h0m1 5h0m3 4h0m3-16h0m0 14h0m1 3h0m0-12h0m6 8h0m1 2h0m2-2h0m2-11h0m0 18h0m4-22h0m1 10h0m1-3h0m3 11h0m2-17h0m2 11h0m2 7h0m2-20h0m3 21h0m1-20h0m3 7h0m1-8h0m2 11h0m2-6h0m0 9h0m1-3h0m1-2h0m1-4h0m3 4h0m0 2h0m1-8h0m1 8h0m0 0h0m0 10h0m1-14h0m1 3h0m0 2h0m4 3h0m1 4h0m4-3h0m0-6h0m3-5h0m2-4h0m9 1h0m0 2h0m1 17h0m0-20h0m2 20h0m0-11h0m1-5h0m5 15h0m3 2h0m0-5h0m7 0h0m7 4h0m13 2h0m36-4h0m2-14h0m13 1h0m41-1h0m6 9h0m1-8h0m6-5h0m1 19h0m2-11h0m1-1h0m-218 24h0m3 2h0m6 0h0m0 4h0m6 4h0m0-12h0m0-4h0m0 19h0m2-15h0m2 11h0m0-2h0m4-1h0m1-8h0m8-5h0m5 12h0m0-9h0m1-1h0m3 17h0m9-1h0m3-5h0m1 6h0m1 1h0m0-14h0m2 0h0m3-2h0m0 9h0m1-14h0m2 23h0m6-9h0m3 7h0m3-1h0m1-20h0m1 23h0m2-2h0m2-10h0m1 2h0m0 4h0m5 4h0m8-6h0m4-11h0m1 7h0m0-6h0m8-3h0m1 4h0m3 8h0m0-11h0m1 16h0m4-6h0m0 7h0m4-9h0m2 12h0m6 0h0m1-12h0m11 7h0m3 5h0m3-2h0m17-9h0m12 11h0m35-11h0m1-9h0m0-1h0m3 4h0m-195 30h0m2 1h0m9-10h0m9 6h0m1 9h0m0-10h0m6-8h0m2 23h0m0-11h0m6-12h0m1 5h0m5 12h0m3-2h0m1 0h0m6-8h0m0-1h0m2 0h0m3 5h0m0 9h0m3-15h0m1 13h0m0-4h0m1-14h0m0 6h0m8 12h0m0 2h0m3 1h0m5-12h0m0 9h0m3-9h0m0 0h0m2 13h0m0-22h0m5 4h0m1 2h0m2 2h0m4 9h0m6-16h0m1 22h0m5-14h0m3 1h0m3 2h0m2 8h0m8-5h0m1-4h0m1 11h0m5-5h0m1 5h0m1-22h0m1 12h0m0 5h0m4-1h0m0-3h0m0 7h0m2-13h0m3 12h0m0-6h0m2 5h0m1-4h0m1 7h0m0-10h0m2-1h0m2 10h0m23-2h0m8-18h0m6 9h0m1-2h0m3-1h0m-160 32h0m3-2h0m2-1h0m0-6h0m1 1h0m1 0h0m6 4h0m3 10h0m5 1h0m9-6h0m3-6h0m0-6h0m1 0h0m2 7h0m1 8h0m0-17h0m3 18h0m1-3h0m5 2h0m2 5h0m5-13h0m1 4h0m2-14h0m0 7h0m4 1h0m2-2h0m0 8h0m7-10h0m3 12h0m1-3h0m4 9h0m0-20h0m0 11h0m3-1h0m0-11h0m5 19h0m2-17h0m7 13h0m0-1h0m8-14h0m2 8h0m1 4h0m2-2h0m4 5h0m2 2h0m1-5h0m3 0h0m4-10h0m3 13h0m1-10h0m1 3h0m1 3h0m2 6h0m1-2h0m0-14h0m5 13h0m2 2h0m5 3h0m10-13h0m2 13h0m1-6h0m3-5h0m0-2h0m-138 18h0m5 4h0m0 3h0m1-6h0m3 6h0m8 6h0m0-7h0m2 7h0m0 4h0m2-4h0m2-4h0m2 2h0m3-5h0m1 13h0m0 0h0m1 0h0m1-18h0m1 5h0m12 3h0m2 12h0m0-4h0m1-9h0m1 5h0m2 1h0m2-6h0m0 1h0m3-10h0m1 7h0m1 3h0m1 9h0m0-13h0m2 11h0m9-10h0m1 12h0m1-14h0m4 14h0m5-7h0m1 2h0m5 2h0m0 1h0m1 0h0m3-2h0m8 7h0m7-11h0m2-9h0m1 17h0m0-17h0m7 15h0m4-3h0m0-6h0m1 5h0m3-3h0m0-4h0m1-2h0m1-2h0m5 11h0m1 3h0m0-11h0m2 8h0m4-11h0m2 4h0m-99 25h0m0-2h0m3 0h0m6-2h0m4 5h0m4 2h0m7-6h0m5 12h0m10 0h0m1-9h0m1-7h0m6 7h0m2-7h0m1 0h0m0 3h0m1-2h0m0 9h0m0 3h0m2-11h0m1 11h0m2-1h0m1-3h0m0 13h0m1-10h0m5-2h0m2-5h0m4 6h0m3 4h0m1-4h0m0-1h0m4-8h0m0 8h0m3-1h0m10-1h0m1 2h0"/>
<path transform="scale(0.5)" stroke="#EE7452" stroke-width="5.8" d="M2637 154h0m4-4h0m47-2h0m57 18h0m39-16h0m-206 29h0m167-11h0m31 14h0m-143 24h0m143 0h0m16-5h0m9-1h0m-36 35h0m3-3h0m15-1h0m42 5h0m11-1h0m4-2h0m14 5h0m5 1h0m2-5h0m-129 24h0m39-6h0m45 0h0m6 1h0m3 3h0m45 5h0m1-7h0m2 7h0m0-11h0m-314 37h0m12-1h0m2-3h0m9 2h0m3 0h0m12 0h0m3-2h0m3-11h0m2 8h0m3-9h0m0 3h0m1-3h0m1 10h0m3-5h0m0-6h0m2 11h0m0-7h0m4 11h0m3 1h0m5-2h0m2-6h0m4-5h0m4 11h0m2-3h0m9-4h0m0-1h0m1-2h0m2 9h0m2 3h0m5 0h0m59-13h0m2 14h0m7-11h0m1 3h0m13 5h0m64 1h0m24-7h0m7 6h0m7-14h0m15 12h0m3-8h0m1 7h0m1 1h0m0 2h0m1 0h0m8-2h0m2-10h0m3 9h0m-354 18h0m0-4h0m12-3h0m1 7h0m3 11h0m3-13h0m13-5h0m2 5h0m4-2h0m5 14h0m6-21h0m10 5h0m2 1h0m1 13h0m19-19h0m4 3h0m1 3h0m2-1h0m8 2h0m2-6h0m3 4h0m6 3h0m0 13h0m12-7h0m6 1h0m0-7h0m0 15h0m3-13h0m0 9h0m3-18h0m2 9h0m3-5h0m2 0h0m0 9h0m0-4h0m4 1h0m0-5h0m1 3h0m8-5h0m0 8h0m1 2h0m1-4h0m1 2h0m1-10h0m1 2h0m3 11h0m0-12h0m3 14h0m1-5h0m2 7h0m0-11h0m3 4h0m8 10h0m0 1h0m1-20h0m2 15h0m5-3h0m0-9h0m5 16h0m3 0h0m3-9h0m2 3h0m0-7h0m1 14h0m5-12h0m0 1h0m2 2h0m0-7h0m1-6h0m3 12h0m0 2h0m3 4h0m10-7h0m5 11h0m15 0h0m11-5h0m14 4h0m57-6h0m2-6h0m7-2h0m5 0h0m2 13h0m5-16h0m-345 42h0m7 0h0m0-3h0m4 3h0m4-2h0m7-8h0m14-12h0m32 17h0m5-14h0m7 5h0m23 13h0m21-3h0m12-19h0m6 3h0m3-2h0m22 0h0m6 0h0m0-1h0m1 3h0m2 4h0m3-1h0m0 1h0m5-3h0m7 13h0m4-12h0m0-5h0m1 3h0m4 1h0m4-2h0m0 3h0m2 1h0m0-1h0m2-2h0m1-1h0m1 4h0m5-1h0m10 5h0m17-8h0m1 0h0m5 6h0m13-6h0m49 4h0m6 10h0m3-7h0m-320 22h0m3 16h0m2-8h0m4 4h0m1-14h0m10-3h0m1 20h0m5-16h0m6 12h0m4 2h0m7 1h0m0-4h0m5-14h0m1 9h0m4-6h0m5 0h0m1-3h0m0 9h0m3 1h0m1-12h0m12 4h0m7 5h0m8-10h0m10 14h0m43-5h0m0-5h0m3 5h0m1-6h0m17 19h0m1-19h0m48 14h0m2-5h0m8 11h0m1-2h0m-216 4h0m4 9h0m1-5h0m2 4h0m1 3h0m2-9h0m1 5h0m3-7h0m5 19h0m7-3h0m4 4h0m2 0h0m2-5h0m1 3h0m3-8h0m0-9h0m0 4h0m5 2h0m3-2h0m3 1h0m1 11h0m1-5h0m1 0h0m1 3h0m2-6h0m5 10h0m1-18h0m7 6h0m0 12h0m3 0h0m7-14h0m3 6h0m7-1h0m3 9h0m10 2h0m3-14h0m9 7h0m0 8h0m1-10h0m0 7h0m7-1h0m4-15h0m3 5h0m3 9h0m4 1h0m1-2h0m3 4h0m3-5h0m2 2h0m1-18h0m2 13h0m2 9h0m0-12h0m3 6h0m1-10h0m2 7h0m1-12h0m5 13h0m1-6h0m4 0h0m4 10h0m1-15h0m1 0h0m5 17h0m2-9h0m1 4h0m2-3h0m2 0h0m3 2h0m1-3h0m7-5h0m1-1h0m2 14h0m0-10h0m1-2h0m3 7h0m4-8h0m0-4h0m3 11h0m1-6h0m3-6h0m6 3h0m-194 28h0m0-8h0m4 6h0m0-2h0m0 1h0m5 0h0m2 2h0m6-3h0m1 1h0m4 15h0m2-18h0m0 11h0m1 7h0m4 3h0m1-4h0m2-7h0m1 8h0m1 2h0m5-17h0m0 14h0m9-6h0m1-3h0m1 3h0m1-13h0m4 18h0m1-9h0m6 5h0m0-3h0m4 6h0m1 2h0m1-4h0m3-7h0m1 9h0m5-7h0m1 4h0m3-12h0m3-2h0m1 21h0m3-19h0m0 3h0m1 13h0m1-8h0m6 10h0m0-12h0m2-6h0m4 13h0m1-13h0m0 8h0m0-4h0m1 7h0m3-12h0m1 3h0m3 14h0m6 5h0m0-13h0m1-7h0m3-2h0m2 12h0m1-6h0m4-5h0m1 7h0m1 8h0m3-1h0m6-1h0m2 4h0m0-5h0m1 7h0m5-7h0m0-12h0m1 13h0m4-15h0m3 6h0m2 6h0m10-12h0m103 0h0m45 7h0m0-5h0m1 4h0m28 12h0m-313 7h0m2 0h0m11 0h0m5 3h0m11-2h0m5 3h0m1-5h0m1 1h0m6 4h0m10 0h0m12-3h0m17-2h0m13 3h0m2-3h0m167 18h0m3-1h0m0 3h0m1 0h0m5-14h0m2-6h0m7 3h0m42 0h0m1 1h0m12 5h0m9 6h0m7-3h0m2 5h0m10 1h0m2 2h0m-189 8h0m15 15h0m42-5h0m22-10h0m1 2h0m74 5h0m1-11h0m4 13h0m0-8h0m10 13h0m1-3h0m7-7h0m0 0h0m3-7h0m3 2h0m0 20h0m4-18h0m3 7h0m2-11h0m4 9h0m3 6h0m1-2h0m2-2h0m2 9h0m2-8h0m9 7h0m7-8h0m3 4h0m1 1h0m3 6h0m0-8h0m3 8h0m1-2h0m3 2h0m2 0h0m-209 19h0m4 1h0m2-1h0m5 2h0m10-20h0m2 1h0m9 22h0m5-9h0m13 6h0m28 0h0m0 3h0m6-11h0m6 2h0m43-13h0m1-1h0m1 0h0m8 3h0m8 4h0m14 2h0m2 3h0m1-10h0m6 8h0m1-5h0m2 3h0m11 0h0m3 10h0m2-4h0m2-13h0m9 2h0m8 7h0m0-2h0m1 1h0m13 12h0m0-5h0m4 6h0m-232 24h0m3-21h0m8 4h0m0 5h0m2 4h0m8 9h0m0-14h0m0-2h0m5 6h0m2-5h0m1 12h0m2-2h0m1-13h0m0 7h0m1-10h0m1 2h0m0 5h0m2 6h0m1-2h0m2-11h0m1 16h0m3-10h0m5 4h0m0 7h0m4-6h0m4 0h0m6 5h0m2-15h0m5 3h0m4-4h0m3 15h0m11 4h0m6-6h0m17 3h0m15-18h0m9 18h0m14 5h0m20-4h0m21-10h0m5 13h0m23-10h0m5-10h0m0-1h0m4 20h0m4-14h0m6 12h0m-235 8h0m2 12h0m4 3h0m2-15h0m1 13h0m2 4h0m1-6h0m1 0h0m1-7h0m0-7h0m3 21h0m0-19h0m0 14h0m7-3h0m1-7h0m5 1h0m0-7h0m6 20h0m6-15h0m3 12h0m2 0h0m1 5h0m0-14h0m3-1h0m1-2h0m1 3h0m1 0h0m0 3h0m2-7h0m0 4h0m0 11h0m9 1h0m1-7h0m0 10h0m1-11h0m0 9h0m4-11h0m5 9h0m8-17h0m1 5h0m0 0h0m2 1h0m3 4h0m13 6h0m5-2h0m1 3h0m3-17h0m15 20h0m1-4h0m5 3h0m94-8h0m6-12h0m2 16h0m3 0h0m0-3h0m-219 23h0m4-4h0m2 6h0m1-7h0m2 11h0m2-9h0m2 0h0m3-7h0m2 2h0m1-3h0m7 4h0m2 16h0m0-7h0m0 0h0m2 6h0m2-6h0m3 6h0m0-18h0m0 4h0m6 0h0m1-3h0m1 15h0m1-10h0m0 8h0m1-16h0m3 5h0m0 2h0m0-1h0m2-7h0m3 20h0m1-4h0m2 4h0m6 3h0m5-1h0m2 0h0m0-13h0m5-3h0m0-5h0m3 3h0m0 1h0m1 2h0m1-2h0m5 17h0m3-16h0m2 10h0m1-5h0m1-9h0m1 16h0m0-17h0m1 2h0m1 14h0m2 4h0m0-21h0m3 23h0m4-20h0m3 14h0m2-4h0m1-10h0m1-1h0m0 3h0m1 5h0m1-3h0m1 0h0m0 3h0m1 7h0m3-5h0m3-9h0m1 19h0m2-19h0m2 4h0m5 3h0m11-3h0m2 8h0m0-12h0m3 14h0m2 6h0m2-4h0m2 3h0m32-9h0m29-8h0m1 7h0m2-12h0m-201 28h0m6 8h0m3-2h0m0 1h0m1-8h0m3 0h0m6 8h0m4 3h0m1-13h0m1 6h0m0 13h0m4 2h0m1 0h0m1-9h0m3-8h0m3-2h0m2 13h0m4 7h0m0-14h0m2 13h0m0-20h0m9 20h0m2-3h0m1-11h0m2 0h0m2 1h0m2 10h0m1-2h0m0-9h0m2 11h0m4-6h0m8-3h0m0-5h0m1-2h0m0 18h0m2-7h0m1-7h0m7 11h0m3 2h0m0-9h0m8-11h0m13 23h0m0-2h0m1-18h0m1 3h0m1 11h0m0 0h0m9-7h0m3 3h0m1-8h0m1 16h0m8-21h0m1 8h0m3 11h0m12 1h0m37 3h0m3-20h0m-177 21h0m6 2h0m16 15h0m1-11h0m14-4h0m2 3h0m11 18h0m1-8h0m3-13h0m1 14h0m1-15h0m1 10h0m1-10h0m7 6h0m2 6h0m0-11h0m2 2h0m4 11h0m4 7h0m0-16h0m3 14h0m0 1h0m6 0h0m1 1h0m8-4h0m2-8h0m0 2h0m1-1h0m0 12h0m1-11h0m2 9h0m5-7h0m1-11h0m15 5h0m1 0h0m3-6h0m0-2h0m4 15h0m1-8h0m2 6h0m5 4h0m4 5h0m6 0h0m2-3h0m0-17h0m2 17h0m1-3h0m4-4h0m2 0h0m4 0h0m-129 16h0m0-2h0m1-2h0m2 5h0m4 1h0m9 2h0m6 8h0m1 4h0m1-12h0m5 12h0m3-3h0m3-12h0m1 0h0m2 18h0m0-23h0m5 22h0m0-5h0m1-2h0m5 2h0m1-7h0m2 7h0m4 0h0m3-6h0m2-2h0m2-8h0m1 12h0m1 1h0m2-11h0m1 13h0m2 0h0m3-2h0m0-13h0m1 14h0m1 1h0m3 3h0m2-11h0m1 12h0m0-10h0m6 1h0m0 2h0m1-13h0m2 23h0m3-10h0m6 5h0m1-7h0m5-2h0m3 4h0m1-4h0m1 1h0m1 4h0m0-8h0m3-2h0m0 3h0m0 14h0m1-19h0m1 2h0m0 16h0m1-6h0m0-8h0m0 9h0m1-8h0m2 6h0m0-11h0m1 16h0m3 3h0m4-20h0m0 4h0m4 3h0m5 13h0m2-12h0m2-9h0m-88 27h0m9-2h0m1 6h0m8-7h0m0 0h0m1 10h0m6-10h0m1 12h0m3 1h0m2-2h0m2-6h0m4 5h0m1 8h0m5-16h0m0-2h0m2 19h0m1-1h0m2-14h0m4 9h0m5 2h0m13 3h0m11-12h0m-34 19h0"/>
<path transform="scale(0.5)" stroke="#DD4D38" stroke-width="5.8" d="M2733 153h0m35 79h0m1 7h0m25-20h0m-21 23h0m58 0h0m4 21h0m31-20h0m6 6h0m-301 36h0m7 1h0m21-1h0m1-4h0m2-7h0m2 8h0m14-5h0m8 8h0m15-3h0m9-4h0m3 9h0m12-2h0m86 1h0m-222 13h0m11-3h0m5 1h0m0-2h0m6-7h0m0 18h0m5-17h0m11 4h0m4-3h0m5 3h0m20-5h0m8 3h0m5 1h0m10-1h0m11 6h0m2-2h0m5 6h0m0-3h0m2 5h0m8-10h0m13 0h0m0-4h0m9 3h0m9 1h0m1 15h0m4-1h0m1-4h0m1-3h0m5 3h0m2-1h0m2-3h0m3 11h0m15-12h0m5 2h0m10 10h0m7-9h0m2 5h0m20-18h0m5 23h0m5-21h0m36-1h0m-248 39h0m8 2h0m36-4h0m4-10h0m45 8h0m26-11h0m29 16h0m1-14h0m1 2h0m-183 19h0m3 6h0m10-6h0m14 7h0m25-1h0m20 10h0m9-10h0m9 13h0m20-17h0m25 8h0m21 12h0m22 0h0m14 0h0m22-21h0m-193 33h0m14 5h0m4 7h0m15-2h0m3 0h0m41-2h0m31-1h0m0-8h0m5-3h0m33 0h0m5-6h0m1 15h0m7-3h0m41 4h0m3-15h0m-163 24h0m27 21h0m11-6h0m4-9h0m2 3h0m7-3h0m16 12h0m3-6h0m5 1h0m17-11h0m47 3h0m120 3h0m60 11h0m-257 7h0m7-3h0m3 3h0m36 8h0m173-11h0m62 13h0m-155 14h0m147 15h0m1-9h0m3 2h0m20 4h0m11-15h0m2 7h0m9 13h0m7-3h0m3 0h0m12 6h0m-38 8h0m9 3h0m1-3h0m15-5h0m9 6h0m28 9h0m-213 14h0m9 2h0m128 9h0m66-2h0m18 7h0m-214 12h0m7-8h0m10 9h0m24 6h0m6-7h0m25 0h0m19 9h0m81 0h0m17-2h0m-179 19h0m0-1h0m6-6h0m4-6h0m6 19h0m17 0h0m12-9h0m12-4h0m11 1h0m35 12h0m24-3h0m5 6h0m30-10h0m-145 15h0m1 5h0m15-4h0m36-4h0m8 15h0m10 2h0m1-14h0m13 16h0m4-8h0m9-7h0m3-4h0m8 1h0m0 13h0m25-4h0m0-9h0m7 15h0m46 0h0m-147 10h0m30 11h0m1 6h0m44-7h0m1 8h0m11-3h0m13-15h0m2 12h0m3-5h0m9-7h0m30 12h0m0 6h0m-131 4h0m5 7h0m14-6h0m14 14h0m4-13h0m3 20h0m19-5h0m8-7h0m2 9h0m2 0h0m29-9h0m21-9h0m10 14h0m-96 13h0m25 6h0m14 2h0m0-10h0m32 19h0m4-17h0m4-4h0m1 13h0"/>
<path transform="scale(0.5)" stroke="#BC2A25" stroke-width="5.8" d="M2611 276h0m17-5h0m-105 37h0m7-2h0m3-13h0m136 6h0m5 7h0m41 1h0m-64 36h0m42-3h0m17 0h0m-78 40h0m274 28h0m79 65h0m25 24h0m-52 143h0"/>
</g>
<rect x="1558.2" y="164.7" width="16" height="83.5" fill="url(#cbg)" stroke="#9a8070" stroke-width="0.8"/>
<text x="1582.1" y="170.3" font-size="19.01">9</text>
<text x="1582.1" y="259.8" font-size="19.01">0</text>
<g fill="none" stroke-linecap="round">
<path transform="scale(0.5)" stroke="#CFCFCF" stroke-width="5.8" d="M3504 142h0m3 0h0m3 1h0m1-1h0m0 0h0m1 1h0m5 0h0m0-3h0m11 0h0m1 1h0m1 0h0m3 2h0m2-4h0m5 4h0m1-5h0m9 2h0m10 3h0m3-4h0m1 2h0m4 2h0m10-1h0m8-4h0m9 2h0m0 2h0m4 1h0m3-2h0m9 0h0m2-1h0m0 1h0m8 1h0m2-2h0m1 3h0m4-3h0m1 1h0m9 1h0m3-1h0m-181 23h0m2 1h0m0-2h0m4 0h0m1 0h0m2-1h0m5-5h0m8-3h0m2 2h0m0-2h0m1 0h0m2 0h0m1 0h0m3-1h0m1 1h0m0-9h0m3 4h0m0 0h0m1 1h0m1 0h0m0-1h0m1 4h0m2-5h0m7 0h0m0 0h0m3 5h0m1-4h0m2 4h0m1 0h0m1-8h0m2 2h0m0 7h0m1-8h0m1-2h0m1 0h0m4 6h0m0-4h0m5 8h0m0-9h0m2 6h0m0 4h0m0-5h0m1-4h0m0 0h0m4 9h0m3-5h0m1-6h0m0 5h0m1-4h0m1 3h0m1 0h0m4 2h0m0-4h0m2 3h0m4 4h0m2-1h0m3-5h0m1 6h0m2-9h0m10 3h0m3-1h0m0 5h0m2-5h0m3 3h0m6-5h0m3 2h0m0 5h0m0-2h0m1 1h0m0 3h0m1-2h0m0-6h0m0 6h0m0 10h0m1-13h0m0 4h0m2 15h0m0-8h0m2-15h0m1 17h0m0-2h0m1-14h0m1 13h0m2 3h0m0 5h0m1-15h0m0-1h0m0 9h0m1 3h0m1 0h0m4-14h0m3 2h0m1 17h0m0 0h0m1-1h0m3-22h0m1 3h0m6-3h0m4 6h0m3 0h0m2-3h0m8 4h0m0-1h0m2 2h0m7-7h0m2 3h0m1-3h0m2 6h0m1 3h0m3 1h0m1-11h0m2 2h0m5 13h0m5-2h0m-260 34h0m2-1h0m0-1h0m3-1h0m0-2h0m4-2h0m3 0h0m0 0h0m1-1h0m3 2h0m0-2h0m0 0h0m4-2h0m2 1h0m1-3h0m4-1h0m0 2h0m2-4h0m2 1h0m9-6h0m6-1h0m3-2h0m0 1h0m137-1h0m5 0h0m1 6h0m5 1h0m1-4h0m3 7h0m1-8h0m1 2h0m4 9h0m3 3h0m2-1h0m1 1h0m1 4h0m1-9h0m3 6h0m1 3h0m2 3h0m0-9h0m0 1h0m1 8h0m0-11h0m10 9h0m-255 23h0m3-4h0m0 6h0m6-10h0m1 2h0m2-1h0m0-3h0m0 2h0m1 0h0m0-3h0m1-2h0m1-1h0m0 2h0m3-2h0m7-6h0m2 0h0m74 14h0m128-3h0m15 3h0m5-14h0m5 2h0m2 3h0m0 15h0m0-4h0m2-7h0m0 0h0m1 0h0m2 0h0m1-1h0m1-6h0m6 6h0m1-2h0m5 16h0m0-10h0m2-1h0m1 7h0m0 0h0m0-8h0m1 10h0m0-3h0m2 3h0m4 3h0m1-2h0m-304 25h0m3-4h0m0 1h0m2-6h0m0 4h0m0 6h0m0-10h0m2 7h0m2-11h0m0-1h0m2-1h0m0-3h0m1-3h0m0 6h0m1-6h0m1 5h0m4-5h0m77 20h0m156-2h0m4-3h0m0 0h0m1 7h0m9-9h0m15-11h0m12-3h0m4 5h0m2-2h0m0 11h0m3 0h0m1-14h0m4 7h0m0 5h0m0 5h0m1-4h0m3 9h0m0 0h0m0-2h0m2 0h0m1-7h0m9 6h0m9-17h0m3 18h0m1-14h0m2 10h0m2-6h0m1 5h0m0 3h0m5 5h0m5-2h0m3-1h0m-353 11h0m1 4h0m202 6h0m11 4h0m0-3h0m2-1h0m1 1h0m2 0h0m0-3h0m1-4h0m4 4h0m3 7h0m0-11h0m1 6h0m1-2h0m4 1h0m1-1h0m1 3h0m49-9h0m15 0h0m0 7h0m1-13h0m1 8h0m1 12h0m0-6h0m1 0h0m0-5h0m0 8h0m1-9h0m0-2h0m0-9h0m1 2h0m0 2h0m0 17h0m2-7h0m1-9h0m1 8h0m1-12h0m1 1h0m1 3h0m0 11h0m4-8h0m1-6h0m9 0h0m2 7h0m12 4h0m0 3h0m1 0h0m0-8h0m3 1h0m3 8h0m0-5h0m2 11h0m0-23h0m5 6h0m0 1h0m2 14h0m1-14h0m0-2h0m1 4h0m2 9h0m0-8h0m1-1h0m1 7h0m-362 31h0m45 0h0m5-3h0m1 2h0m9 0h0m2-3h0m4-1h0m17-7h0m7 7h0m4-11h0m0 3h0m7 7h0m0-7h0m12 11h0m0-5h0m1 4h0m6-12h0m8 10h0m7-8h0m2 9h0m64-13h0m0 5h0m4 12h0m1-12h0m1-6h0m3 9h0m2-4h0m1 2h0m2-7h0m1 12h0m0-11h0m5 8h0m3 1h0m2 5h0m3-13h0m8-1h0m11-6h0m1 6h0m1 14h0m33-17h0m8 18h0m0-1h0m1-4h0m1 3h0m2 1h0m1-2h0m0-18h0m0 19h0m1-9h0m1 4h0m2-11h0m1-2h0m0 0h0m13 13h0m7 6h0m1-2h0m2 5h0m3-15h0m2-2h0m2 3h0m0 8h0m2-5h0m7-2h0m1 10h0m1-15h0m2 13h0m1-12h0m0 13h0m1 3h0m0-12h0m0-6h0m2 13h0m1 6h0m0-3h0m6-17h0m0 20h0m5-15h0m-355 20h0m3 3h0m7 4h0m1 7h0m5-7h0m2 9h0m15-2h0m3-14h0m4 1h0m11-2h0m1-3h0m5 5h0m5 0h0m3 14h0m1-19h0m24 6h0m2-1h0m1-5h0m8 6h0m1-5h0m7 8h0m1 12h0m15 2h0m4 0h0m2-13h0m10-9h0m6 8h0m8 5h0m0-8h0m1 12h0m2-16h0m2 3h0m6 7h0m3 7h0m10 3h0m1-19h0m3 4h0m5 5h0m0-6h0m4-6h0m1 22h0m1-12h0m1 4h0m2 5h0m1 4h0m0-11h0m3 10h0m1 1h0m3-6h0m1-3h0m1-13h0m1 6h0m0-6h0m4 0h0m2 13h0m3 8h0m8-10h0m4 1h0m1-10h0m1 20h0m9-18h0m2 5h0m5-8h0m4 15h0m5 1h0m6 5h0m8-23h0m1 22h0m4-7h0m0 0h0m2 3h0m2-13h0m2-2h0m0 8h0m0-9h0m1 3h0m1 4h0m1-8h0m1 9h0m30-4h0m2 17h0m1-18h0m0 3h0m2 11h0m1 0h0m0-18h0m1 15h0m3 4h0m3-4h0m2 4h0m0-7h0m0-3h0m0-5h0m2 1h0m1 12h0m3-10h0m2 0h0m1 13h0m1-21h0m2 8h0m1 13h0m0-15h0m1 11h0m1-8h0m4-7h0m4-1h0m-354 43h0m16 3h0m5-15h0m5 5h0m3-11h0m2 16h0m6-2h0m7 4h0m6-8h0m6-5h0m2 16h0m16-22h0m1 15h0m34 3h0m20 0h0m3-16h0m28 0h0m13 3h0m22 11h0m4-12h0m5 4h0m0-5h0m5 1h0m2 0h0m2-2h0m2 2h0m1-5h0m11 7h0m2 3h0m11-8h0m3 6h0m3-6h0m1 0h0m5 6h0m11-5h0m2-1h0m2-1h0m38 10h0m2-6h0m4 0h0m1 0h0m3-5h0m2 14h0m4-9h0m0-5h0m2 0h0m7 11h0m1-1h0m4-4h0m0-5h0m1 2h0m0 4h0m-338 24h0m3-5h0m2-1h0m1-1h0m2 6h0m1 17h0m1-20h0m0 12h0m5-10h0m3 18h0m1-3h0m5-20h0m2 22h0m0-20h0m2 1h0m2 8h0m3-4h0m4 11h0m5 2h0m0-4h0m10 5h0m2-9h0m4-6h0m1 17h0m0-17h0m4 0h0m1 6h0m1-9h0m8-2h0m2-1h0m2 16h0m10-6h0m1-5h0m18 9h0m7-10h0m3-2h0m16 5h0m9 3h0m10-1h0m10 13h0m9-19h0m9 6h0m15-5h0m1 13h0m3 5h0m21-1h0m2-8h0m2 1h0m1-1h0m6 8h0m0 2h0m-216 2h0m7 7h0m6-7h0m5 19h0m6-19h0m1 15h0m2-1h0m3-1h0m2 1h0m0 3h0m1-2h0m0-12h0m4-1h0m1 5h0m0-5h0m0 3h0m3 11h0m6-6h0m1 0h0m1-5h0m1 12h0m0-12h0m1-5h0m1 0h0m1 21h0m2-12h0m3-6h0m4 7h0m5 9h0m1-14h0m5 3h0m1 9h0m4 0h0m9-7h0m3 7h0m1 2h0m6 1h0m0 1h0m1-16h0m4 14h0m10-7h0m2-6h0m6 12h0m8-10h0m2-6h0m0 15h0m2-7h0m1-5h0m1 6h0m0 7h0m1-2h0m1-9h0m1 15h0m5-19h0m0 11h0m0 1h0m7 4h0m0-4h0m0-6h0m1 12h0m0-3h0m1-3h0m1-10h0m4-5h0m1-1h0m3 14h0m1-6h0m4-6h0m1 0h0m0 2h0m0 9h0m4 5h0m1-2h0m0-4h0m5 8h0m0-11h0m0 9h0m0-4h0m1-7h0m2 4h0m0 4h0m3-3h0m9 3h0m5-10h0m0-5h0m2 19h0m0-16h0m3 18h0m1-8h0m3-7h0m0-4h0m7 11h0m2-2h0m3-9h0m1 2h0m1-4h0m-203 25h0m11 0h0m6 4h0m3 2h0m1 4h0m0-2h0m7 3h0m5 8h0m0-18h0m1 7h0m1 12h0m3-9h0m19-2h0m2-10h0m0 23h0m3-23h0m2 3h0m1 6h0m5 2h0m1-10h0m3 15h0m2 3h0m0 2h0m2-6h0m0 1h0m0-9h0m8 3h0m2-3h0m4 13h0m1-20h0m2 7h0m1 6h0m1 5h0m2-15h0m2 14h0m2 2h0m0-10h0m0 7h0m3-7h0m1-7h0m3 13h0m6 3h0m1-14h0m2 14h0m3 5h0m2-3h0m1-8h0m1-2h0m1-7h0m2 0h0m4 6h0m0 6h0m3-5h0m0 13h0m1-21h0m2 15h0m2-7h0m8 12h0m1-8h0m3-7h0m1 10h0m1-15h0m1 13h0m1 4h0m0-9h0m7-4h0m2 6h0m110-9h0m1-2h0m1-1h0m1 8h0m0-2h0m2 10h0m1-6h0m0 4h0m1-7h0m1-1h0m11 3h0m13 2h0m7 8h0m2-2h0m5 0h0m3-11h0m-285 19h0m1 0h0m7 0h0m1 2h0m5-2h0m14 1h0m6-2h0m7 5h0m5-2h0m17 3h0m0-4h0m5 1h0m13-3h0m16 3h0m2-1h0m5 9h0m21-8h0m109 10h0m1-3h0m2 9h0m0-18h0m2-1h0m0 14h0m0 9h0m1-4h0m0-16h0m2 2h0m19 8h0m4 4h0m1 3h0m0-3h0m6-11h0m6-5h0m3 2h0m53 3h0m6 4h0m13 7h0m12 5h0m-179 16h0m0-2h0m6 7h0m0 3h0m38-3h0m0-2h0m2-5h0m0 0h0m2 2h0m0 6h0m1-18h0m5 15h0m2-2h0m8-10h0m6 1h0m75-6h0m4 11h0m0 5h0m1-3h0m2-8h0m8 3h0m7 0h0m0 0h0m3-7h0m3 2h0m0 17h0m18 0h0m2-8h0m2 9h0m3-4h0m6-3h0m1 3h0m6 1h0m2 5h0m2 0h0m0-7h0m5-1h0m4 6h0m5 2h0m-210 19h0m0 4h0m4-3h0m3-1h0m12-9h0m2-1h0m2-3h0m3-5h0m4 11h0m7 3h0m3 9h0m1-8h0m1 4h0m1-4h0m6 6h0m0-1h0m36-8h0m12 10h0m36-21h0m19 6h0m15-1h0m1 6h0m10-4h0m7-8h0m3 0h0m2 8h0m1-6h0m0 10h0m0 6h0m9-14h0m1 0h0m2 6h0m1-3h0m1 3h0m2 3h0m2-2h0m8 11h0m1 1h0m1-6h0m7-1h0m4 5h0m-231 25h0m2-6h0m0 2h0m5-11h0m0 2h0m1 13h0m2-5h0m1-12h0m8-5h0m2 16h0m5-3h0m1-5h0m0-7h0m1 21h0m0-21h0m3 19h0m1 3h0m0-11h0m1-8h0m0 5h0m2 6h0m1 3h0m6-10h0m9 5h0m4 9h0m3-9h0m6-10h0m2 18h0m4-2h0m3-17h0m1 21h0m1-1h0m11-1h0m11-9h0m8-3h0m4 9h0m15-18h0m5 10h0m5 0h0m9 8h0m4 5h0m21-4h0m20-10h0m6 13h0m22-10h0m5-11h0m0 21h0m1-20h0m4 19h0m4-21h0m5 21h0m-232 18h0m4 3h0m1-1h0m0 6h0m9-21h0m7 11h0m1-7h0m3 5h0m3-10h0m2 10h0m3 8h0m11-2h0m1-16h0m0 21h0m2-6h0m1-9h0m3 11h0m0-7h0m1 0h0m2 0h0m2-6h0m5 6h0m0-8h0m2 7h0m0 2h0m1 0h0m5 7h0m1-18h0m7 11h0m1-4h0m7 0h0m1-4h0m1 8h0m2 9h0m0-11h0m9 12h0m7-5h0m54 1h0m17-12h0m0 6h0m27 2h0m21-1h0m8 4h0m3-3h0m-215 20h0m8 0h0m2-10h0m0 10h0m1-4h0m5 9h0m1 4h0m4-13h0m3 9h0m1 7h0m1-1h0m2-20h0m3 6h0m7 0h0m0 13h0m4-19h0m4-1h0m2 12h0m1 8h0m4 0h0m10 2h0m2-8h0m7-14h0m1 23h0m4-12h0m2 2h0m7 9h0m1-20h0m2 16h0m0-15h0m2 12h0m2-15h0m2 4h0m1 7h0m9-8h0m1 2h0m1-3h0m1 5h0m1 12h0m0-12h0m1 3h0m3 10h0m4-17h0m2 20h0m0-20h0m6 20h0m7-1h0m5-4h0m0-11h0m2 8h0m1 8h0m4 0h0m18-11h0m4-3h0m7 14h0m7-10h0m27-1h0m1-3h0m0-7h0m1 1h0m0 2h0m2 7h0m-203 14h0m3 2h0m7 8h0m12-11h0m3 3h0m1 10h0m2-5h0m1 11h0m1-2h0m7-6h0m5 4h0m5-7h0m1-7h0m4 13h0m0 1h0m1-1h0m5-1h0m2-6h0m1-8h0m3 11h0m0-2h0m2 10h0m2-2h0m0-3h0m1 4h0m1-12h0m0 9h0m8 5h0m4 1h0m0-11h0m3-1h0m1 9h0m2-9h0m6 10h0m2-8h0m1 0h0m0-5h0m1 2h0m4 9h0m2-17h0m5 23h0m7 0h0m1-20h0m1 7h0m1-4h0m0 11h0m13-4h0m6 9h0m3-22h0m1 1h0m8 12h0m1 5h0m2 3h0m0-10h0m2-1h0m3 10h0m23-2h0m-154 8h0m3 5h0m12 10h0m1-6h0m0-10h0m6 1h0m22 21h0m1-20h0m2 7h0m1 8h0m2-17h0m1 12h0m1 6h0m1 0h0m4-1h0m1-11h0m1 16h0m4-19h0m2 6h0m2-10h0m0 7h0m3 10h0m3-11h0m8 16h0m2-6h0m5 2h0m1-16h0m2 9h0m2 1h0m2 9h0m1-9h0m1 8h0m3-17h0m5 13h0m1-1h0m3-6h0m4-8h0m3 12h0m2-2h0m2-11h0m5 18h0m1-5h0m6 4h0m3-15h0m0 14h0m5 2h0m1-1h0m1-1h0m2 3h0m2-4h0m1 1h0m1 1h0m1-6h0m4 1h0m0 8h0m3-8h0m1 4h0m3 4h0m3-13h0m4 7h0m2-7h0m1 6h0m-136 17h0m0-6h0m4 2h0m4 12h0m6-7h0m3 1h0m0 12h0m3-19h0m2 19h0m1-8h0m2 5h0m2-6h0m0 9h0m2-18h0m2 13h0m0-15h0m5 17h0m2-15h0m5 20h0m1-12h0m11-4h0m1 13h0m1-2h0m0-16h0m0 12h0m1-8h0m1 9h0m1-11h0m1 13h0m6-15h0m1 14h0m0-5h0m0 9h0m3 0h0m2-11h0m2 12h0m3-18h0m1 12h0m2-1h0m2 3h0m4-1h0m0-2h0m6 5h0m0-13h0m1-1h0m2 18h0m8-20h0m1 0h0m2 2h0m3 2h0m0-2h0m1 10h0m0-7h0m1 10h0m1-15h0m3 6h0m1 15h0m1-10h0m2-7h0m6 2h0m2 8h0m0-3h0m2 0h0m0 8h0m4-21h0m2 6h0m-99 25h0m1-2h0m12 4h0m2-3h0m2 4h0m7-7h0m3-3h0m7 0h0m5 16h0m3-11h0m5 2h0m2-7h0m2 1h0m6 11h0m0-8h0m0 18h0m1-10h0m4 1h0m7-2h0m0 10h0m4-17h0m0 11h0m4-13h0m1 2h0m3 5h0m9-3h0m-34 19h0"/>
<path transform="scale(0.5)" stroke="#FCD0A8" stroke-width="5.8" d="M3618 189h0m42 12h0m-91 62h0m25-3h0m8 2h0m45-22h0m-283 42h0m100-5h0m111-11h0m74 19h0m83-1h0m-353 15h0m71-9h0m18 17h0m6-10h0m238 8h0m-288 17h0m211-8h0m38 8h0m14-7h0m-249 24h0m1-1h0m4 41h0m12-17h0m25 8h0m34-5h0m36 17h0m8 10h0m18-7h0m100 6h0m123 37h0m-157 24h0m123-13h0m79 22h0m28 17h0m-148 20h0m145-3h0m2-9h0m-217 28h0m24-2h0m58 13h0m37 2h0m-47 1h0m70 21h0m28-9h0m-130 16h0m41 2h0m90 13h0m-111 19h0m6-8h0m28 3h0m5 12h0m7-15h0m85-4h0m-60 33h0m76 19h0"/>
<path transform="scale(0.5)" stroke="#FAB28A" stroke-width="5.8" d="M3559 145h0m30 13h0m7 5h0m-144 8h0m203 32h0m17 9h0m-160 18h0m132-9h0m38 15h0m2-9h0m12 4h0m9 3h0m-341 25h0m220 3h0m24 0h0m18-10h0m19-1h0m32 0h0m6-4h0m20 7h0m7-1h0m6 1h0m12 0h0m-366 24h0m3 4h0m67 1h0m5 3h0m18-3h0m15-5h0m4 9h0m7-9h0m6 3h0m6 5h0m3-9h0m76 2h0m19-11h0m3 2h0m58 6h0m5-11h0m48 9h0m9-9h0m0 17h0m2 5h0m2-5h0m10-17h0m1 2h0m-359 24h0m6 4h0m21 2h0m59-3h0m38-2h0m2 11h0m1 8h0m5-5h0m2-17h0m4 2h0m0-2h0m50 19h0m1-4h0m7-8h0m7-5h0m1 15h0m2-6h0m1-3h0m2 12h0m50-20h0m61 11h0m7 4h0m2 6h0m6-12h0m0-10h0m4 10h0m11-5h0m3-2h0m4 3h0m-313 37h0m4 4h0m26-9h0m1 8h0m50 0h0m15-10h0m51-8h0m7-4h0m46 1h0m65 4h0m13-3h0m1 0h0m2-2h0m1 1h0m10 9h0m5-10h0m-333 37h0m5-12h0m2 2h0m6 19h0m32-4h0m7-18h0m14 5h0m57-4h0m11 8h0m79 6h0m7 2h0m-199 27h0m5 1h0m1-19h0m4 11h0m2-4h0m13 3h0m15-8h0m3 15h0m4-15h0m15 11h0m2 8h0m2-1h0m2-18h0m22 2h0m0 14h0m3-3h0m5-4h0m1-7h0m7 1h0m17 14h0m1-15h0m13 8h0m7-9h0m8 3h0m10 8h0m3-6h0m3 11h0m23-9h0m2-5h0m0 11h0m7-13h0m2-1h0m-174 23h0m9 8h0m1 8h0m4-8h0m13 11h0m4-10h0m9-9h0m6 1h0m14-4h0m6 13h0m2 1h0m2-14h0m2 17h0m2 4h0m5-12h0m1 4h0m2-1h0m3-11h0m10 0h0m1 13h0m1 5h0m5-16h0m8 1h0m19 6h0m17 0h0m2-6h0m101 0h0m49 1h0m0 1h0m-268 20h0m5 1h0m43 0h0m27-1h0m12-2h0m25 1h0m7 11h0m101 5h0m23 0h0m10-11h0m73 6h0m-158 19h0m4-3h0m1 19h0m11-1h0m37-19h0m7 5h0m77-3h0m1 6h0m12-10h0m8 19h0m3-2h0m1-3h0m2 2h0m1-13h0m3 17h0m3-4h0m6-1h0m12-4h0m2-2h0m7 2h0m8 7h0m1-8h0m1 10h0m10-5h0m3 7h0m4-6h0m-210 10h0m15 20h0m17-1h0m4 1h0m47-11h0m62-10h0m26 7h0m5-6h0m16-2h0m13 4h0m3-3h0m6 8h0m1-1h0m1-8h0m3 16h0m2-10h0m-211 20h0m5-3h0m4 7h0m4-4h0m0 6h0m5-4h0m2-4h0m0-1h0m2 3h0m2 11h0m10 5h0m12 1h0m0-17h0m2 11h0m8-3h0m6-1h0m25 0h0m12-9h0m12 7h0m32 10h0m7 4h0m16-21h0m9 21h0m40-22h0m-220 28h0m2 7h0m10 8h0m3-16h0m1 5h0m8 10h0m2-6h0m1-7h0m4 15h0m6 3h0m1-7h0m2-3h0m2 7h0m0 2h0m2-22h0m7 8h0m2-8h0m1 17h0m2-3h0m2 5h0m5-10h0m1 2h0m0 10h0m6-6h0m6 1h0m2-11h0m6 15h0m6-11h0m1 12h0m1-8h0m0-9h0m6 16h0m0-8h0m2-11h0m1 16h0m26 4h0m38-2h0m64-13h0m8-6h0m-215 39h0m6-1h0m0-7h0m11 10h0m17-4h0m2-10h0m12 11h0m4 6h0m0-13h0m0-5h0m6 12h0m7 4h0m4 3h0m6-7h0m11 6h0m13 1h0m8-15h0m2-3h0m5 10h0m19-2h0m0 4h0m71-7h0m5 12h0m1-15h0m2 1h0m-195 30h0m3 1h0m1-11h0m8 1h0m1 13h0m15-16h0m8 0h0m1 15h0m6-13h0m8 5h0m0 0h0m6-3h0m3 1h0m1-5h0m1 17h0m20-17h0m1 22h0m5-18h0m12-3h0m15 6h0m0 13h0m0-1h0m9 3h0m3-14h0m2 9h0m4-5h0m3 4h0m0-3h0m3 1h0m5 0h0m42-5h0m1-4h0m0-4h0m2 10h0m3-10h0m-158 35h0m2-7h0m2 1h0m8 14h0m5 1h0m13-15h0m1 13h0m1 3h0m18-8h0m6-5h0m3 5h0m5-7h0m1-3h0m8 9h0m4-12h0m34 12h0m2-8h0m2 8h0m3-10h0m3 13h0m1-10h0m1 3h0m27 11h0m5-11h0m-144 15h0m10 8h0m1-3h0m16 6h0m1-1h0m25-1h0m3 6h0m2-6h0m17-2h0m1 16h0m1-18h0m1 18h0m14-6h0m14-4h0m4-2h0m6-1h0m12 0h0m8-5h0m4 2h0m2-5h0m-94 27h0m11 3h0m28 7h0m8-1h0m1-14h0m0 13h0m3-11h0m11 3h0m1-5h0m8 11h0m4-1h0m1 8h0m5-7h0"/>
<path transform="scale(0.5)" stroke="#F5936C" stroke-width="5.8" d="M3589 150h0m62-1h0m-238 40h0m-27 24h0m9-9h0m-15 25h0m259 2h0m32-9h0m7 10h0m17 1h0m5-2h0m9 7h0m8-4h0m-352 24h0m1 5h0m1-1h0m0-6h0m215 7h0m1-7h0m1 1h0m2 6h0m2 0h0m5-2h0m1-3h0m3 5h0m4-8h0m1 1h0m26-14h0m19 11h0m72-8h0m2-2h0m5 11h0m3 7h0m-366 3h0m1 13h0m0-11h0m3 16h0m0 5h0m39 0h0m21-1h0m7 0h0m2-2h0m1 3h0m2-5h0m1 3h0m2-3h0m11 3h0m3-2h0m2-11h0m3 8h0m4-9h0m1 10h0m2-11h0m1 6h0m5 9h0m2-1h0m1 2h0m7-8h0m5-5h0m3 11h0m2-3h0m9-5h0m3 10h0m2 0h0m6 0h0m69-7h0m9-10h0m2 9h0m104-8h0m16 10h0m4 2h0m0 2h0m1-14h0m8 12h0m1-10h0m-359 17h0m5 5h0m0-3h0m1 5h0m2 3h0m1-4h0m10 2h0m1-6h0m4 19h0m8-1h0m6-18h0m8 4h0m6 14h0m19-18h0m5 0h0m20 1h0m41 15h0m9-14h0m0 9h0m0-4h0m4 1h0m9 1h0m2 7h0m0-11h0m2 4h0m5-9h0m3 9h0m0 5h0m2-9h0m7 7h0m1 3h0m7 0h0m4-3h0m8 7h0m6-13h0m1-1h0m4 3h0m1 1h0m1 2h0m1-13h0m5 5h0m0 14h0m1-1h0m7-15h0m12 4h0m3-8h0m8 23h0m3-11h0m42-11h0m31 22h0m6-5h0m1-3h0m9-11h0m7 7h0m-333 33h0m4 3h0m3-2h0m20-21h0m2 1h0m2 15h0m2 3h0m20 1h0m12-19h0m1 3h0m6 5h0m1-5h0m62-1h0m4 1h0m3-3h0m17 0h0m3 0h0m4 3h0m6 2h0m0 1h0m15-7h0m1 3h0m10 3h0m4-4h0m5 3h0m85 9h0m0-7h0m17 9h0m3-7h0m-316 26h0m10-10h0m2 22h0m3-21h0m6 2h0m2 13h0m4-1h0m11 6h0m1-3h0m4-16h0m16-2h0m0 12h0m26 6h0m38 1h0m19-17h0m19 19h0m19-2h0m7-14h0m7 9h0m14 2h0m2-5h0m1 7h0m4-1h0m4 0h0m5 2h0m-220 9h0m4 0h0m2 4h0m1 3h0m2-2h0m1-7h0m0 11h0m0-6h0m2 2h0m1-6h0m2 15h0m6-1h0m2-9h0m4 12h0m0-18h0m0 2h0m3 17h0m3-4h0m2 1h0m1-18h0m1 10h0m1-9h0m5 3h0m1 0h0m1 1h0m4 1h0m0 13h0m2-7h0m9 10h0m2-1h0m0-14h0m4 4h0m3 2h0m2-10h0m0 16h0m5-8h0m1-7h0m1 18h0m2-11h0m6 8h0m4-10h0m4 9h0m1-2h0m3-2h0m2 7h0m2-11h0m0 6h0m6-1h0m6-3h0m7-4h0m6 13h0m3-8h0m9 7h0m1-21h0m2 10h0m2 3h0m2 6h0m8-17h0m1 8h0m0 4h0m0-1h0m3-7h0m7 9h0m0-13h0m0 13h0m3 8h0m3-20h0m2 15h0m14-4h0m0-3h0m3 2h0m1-4h0m0 13h0m2-7h0m2-9h0m2 3h0m4 5h0m1-1h0m8-11h0m3 3h0m6-2h0m0 3h0m-195 18h0m3 9h0m2-4h0m3 9h0m5-2h0m5-7h0m1 10h0m1-6h0m5 2h0m2 3h0m1-13h0m1 22h0m1-4h0m2 4h0m2-20h0m0 3h0m4-6h0m1 5h0m1 14h0m4-8h0m2 8h0m0 1h0m7-20h0m2 18h0m0 4h0m4-12h0m4 4h0m3 5h0m1-2h0m4-9h0m0-3h0m6 7h0m2 2h0m0-2h0m3-7h0m1 15h0m0-13h0m0 5h0m12 0h0m0-1h0m0-9h0m0 2h0m1 16h0m0 3h0m0-15h0m6 10h0m1-8h0m0 0h0m1-2h0m1 5h0m11 4h0m1-8h0m3 5h0m1-13h0m1 0h0m1 10h0m0-8h0m1 4h0m0 0h0m1-3h0m3 17h0m1 0h0m0-12h0m1 13h0m1-4h0m2-17h0m1 1h0m2 13h0m6 6h0m0-14h0m3 1h0m2 11h0m1-8h0m5 4h0m5-8h0m1-2h0m9-5h0m148 2h0m32 15h0m-305 7h0m2 1h0m9 2h0m1-3h0m4 5h0m6 0h0m60-5h0m2 0h0m4 2h0m137-1h0m29 19h0m8-20h0m4 0h0m58 10h0m1-6h0m6 7h0m3 9h0m10-3h0m4 4h0m2-1h0m6 2h0m-209 6h0m18 0h0m17 16h0m6-3h0m34 0h0m7-3h0m5 0h0m7-6h0m4-4h0m64 2h0m15-1h0m11 13h0m10-17h0m0 14h0m11-3h0m3 1h0m5 3h0m1-2h0m3-1h0m2 10h0m4-14h0m1 12h0m4-9h0m3 10h0m1-4h0m4 5h0m4-1h0m2-2h0m1 2h0m1-2h0m3 0h0m-206 26h0m9-3h0m15-19h0m10 23h0m8-12h0m11 9h0m26 2h0m1-2h0m0 3h0m7-6h0m6-3h0m36 9h0m8-23h0m9 3h0m22 7h0m9-5h0m13 3h0m5 12h0m0-6h0m3-13h0m19 17h0m0 2h0m1 2h0m4-9h0m1 6h0m1-3h0m3-6h0m1 6h0m1 5h0m3 1h0m-233 13h0m1 9h0m7-15h0m9 4h0m5-2h0m1 16h0m7-3h0m3-2h0m0-13h0m1-3h0m1 17h0m1-5h0m3-1h0m2-11h0m1 16h0m2-2h0m5-4h0m6 0h0m3 1h0m5 5h0m4-16h0m6 14h0m4 4h0m18-5h0m24 8h0m7-3h0m9-2h0m18 2h0m13 0h0m54-5h0m7-15h0m8 14h0m-225 13h0m2 12h0m3-4h0m1-4h0m1-7h0m0 17h0m1 3h0m1-4h0m5 0h0m4 0h0m2 7h0m2-23h0m6 20h0m2-18h0m2 11h0m4-5h0m1 9h0m2 4h0m5-16h0m1 3h0m1 0h0m2-3h0m0-1h0m0 4h0m1 11h0m1-10h0m5 2h0m2 9h0m1-13h0m1 16h0m1-2h0m3-11h0m5 0h0m4-9h0m4 1h0m1 5h0m4-5h0m1-1h0m3 4h0m10 13h0m7 1h0m5 2h0m9-3h0m5 0h0m5 3h0m33-16h0m33 8h0m20-8h0m7 1h0m2 6h0m4-11h0m4 8h0m0-1h0m-218 24h0m1 5h0m3-4h0m4-1h0m1 11h0m1-9h0m1-4h0m4-4h0m1 16h0m0 3h0m1-15h0m1-1h0m1-3h0m4 12h0m3-8h0m9 15h0m2-17h0m7 10h0m0 5h0m1-10h0m5 10h0m3-5h0m1 2h0m2-7h0m0 12h0m2-14h0m2-2h0m1 1h0m3 17h0m6-14h0m6 11h0m2-15h0m1 16h0m1-16h0m3 12h0m4 4h0m3-5h0m0-5h0m4 6h0m3 4h0m1-11h0m2 13h0m0-18h0m3-2h0m5 10h0m1-11h0m2 8h0m2 4h0m2 3h0m2-5h0m4-1h0m5-4h0m5 4h0m0-1h0m16 11h0m3-2h0m14-7h0m44 9h0m4-18h0m5-3h0m-195 32h0m2 3h0m4-8h0m12 4h0m0-6h0m2 7h0m7 15h0m8-18h0m2 18h0m1-1h0m1-5h0m8 5h0m5-16h0m0 2h0m2 12h0m3-12h0m6 5h0m4 5h0m2-17h0m2 20h0m1-11h0m1-7h0m5 6h0m17 6h0m9-6h0m3-4h0m0 9h0m3 3h0m0-5h0m9-2h0m2 1h0m0 4h0m2-7h0m0 13h0m0-16h0m7 12h0m3-7h0m1 10h0m1-1h0m1-12h0m1 12h0m2-3h0m8 4h0m32-20h0m6 7h0m2-4h0m1 3h0m-155 24h0m8 4h0m9-5h0m9 10h0m2-6h0m1-6h0m2-1h0m1 14h0m0-15h0m4 15h0m9-3h0m2 1h0m3 1h0m5-7h0m2-3h0m6 16h0m5-8h0m3-11h0m1 20h0m3-10h0m0 0h0m0 11h0m6-3h0m2-6h0m0-11h0m4 4h0m12 2h0m8 6h0m0 1h0m2-9h0m1 14h0m3-8h0m9-13h0m0 12h0m12 0h0m-122 16h0m0-4h0m0 2h0m3 3h0m1-4h0m8 7h0m6 4h0m2 2h0m1 2h0m1 2h0m1-4h0m1 0h0m8 6h0m0-13h0m1 13h0m1-15h0m1 0h0m1 2h0m1 16h0m2-8h0m2-4h0m2 11h0m1-7h0m4-5h0m1 7h0m1 1h0m2-4h0m3 3h0m0-7h0m3-10h0m2 7h0m1 3h0m4 7h0m11 2h0m3 0h0m4-7h0m4-1h0m0-11h0m2 17h0m1 6h0m19-13h0m1-4h0m2 13h0m1-12h0m2-5h0m2 13h0m3 3h0m0-5h0m2 1h0m5-10h0m0-3h0m1 1h0m11 7h0m-87 18h0m1 0h0m8 0h0m6 1h0m5 12h0m9-3h0m2 3h0m0-9h0m0 4h0m2-11h0m5 18h0m4-8h0m0-7h0m2-1h0m1 11h0m3-4h0m2-6h0m5 7h0m5-3h0m4 4h0m1-1h0m5 8h0m11-10h0m1 2h0"/>
<path transform="scale(0.5)" stroke="#EE7452" stroke-width="5.8" d="M3479 158h0m-30 12h0m-50 30h0m-22 31h0m4-6h0m-17 33h0m0 4h0m326 1h0m-326 13h0m1 0h0m0-3h0m1 10h0m1 1h0m59 1h0m3-2h0m9 2h0m18-4h0m2-7h0m8 2h0m8 1h0m8 8h0m21-8h0m5 10h0m5-1h0m60-13h0m34 13h0m113-1h0m12-4h0m-354 16h0m1 11h0m10-15h0m0-1h0m7 4h0m4-1h0m6-7h0m5 9h0m11-4h0m4-3h0m13 4h0m12-6h0m8 0h0m0 3h0m3 0h0m2 1h0m15 1h0m5 3h0m1 1h0m3-2h0m4 6h0m4 1h0m7 1h0m0-7h0m7 2h0m3-5h0m7 1h0m8-2h0m3 6h0m2-6h0m2 16h0m1-5h0m3 0h0m0 4h0m6-7h0m0 3h0m4-4h0m3 11h0m20-9h0m3 3h0m7 6h0m4-7h0m3-2h0m28 10h0m106-18h0m-346 42h0m8 0h0m60-5h0m8-4h0m27 8h0m22-10h0m12-12h0m9 1h0m5 0h0m22 0h0m1-1h0m0 3h0m3 4h0m5-4h0m0 2h0m22-3h0m6 4h0m101 0h0m-311 25h0m8 12h0m4-19h0m13 6h0m18 15h0m0-4h0m18-4h0m19-7h0m10-6h0m39 7h0m13-3h0m21 18h0m8-18h0m7 18h0m36-21h0m8 22h0m4-9h0m-214 20h0m5-7h0m16 14h0m4 4h0m2 0h0m3-2h0m8-11h0m4 12h0m5-7h0m1 3h0m8 4h0m0-18h0m8 6h0m36 0h0m9 7h0m0 8h0m1-3h0m6-3h0m5-13h0m0 2h0m18 12h0m2-18h0m1 13h0m2 9h0m16-22h0m1 8h0m6-5h0m12 9h0m6 5h0m10-10h0m9 6h0m1-6h0m3-6h0m1 15h0m2-15h0m81 20h0m-271 11h0m3-2h0m1-2h0m12 0h0m6 16h0m2-7h0m6 6h0m1-7h0m1 8h0m1 2h0m15-9h0m2 0h0m15 4h0m2-2h0m4 2h0m0-7h0m10-8h0m6 0h0m1 3h0m2 5h0m6 10h0m2-7h0m4-11h0m0 12h0m14 9h0m6-10h0m11 3h0m5-1h0m3 4h0m5-5h0m5-14h0m16 6h0m148 0h0m29 12h0m2 2h0m-297 8h0m17-3h0m17 4h0m13-5h0m28 3h0m169 15h0m60-15h0m1 1h0m13 5h0m8 6h0m7-3h0m2 5h0m12 3h0m-182 20h0m2-13h0m146 15h0m0-7h0m2-2h0m26 14h0m5-18h0m4-4h0m0 6h0m5 3h0m10 3h0m5 4h0m3 3h0m7-8h0m4 5h0m4 6h0m2 0h0m4 0h0m-196 21h0m12-19h0m112-1h0m21 7h0m6 13h0m5-13h0m2-5h0m5 8h0m7-8h0m13 15h0m11-14h0m7 7h0m1-2h0m1 1h0m-213 16h0m9 9h0m1 4h0m8-5h0m28 10h0m11 4h0m9-17h0m8 11h0m133-1h0m11 1h0m4-4h0m4 10h0m1-16h0m7 12h0m-236 8h0m10 13h0m2 4h0m1-6h0m0 0h0m4 7h0m4-18h0m9 9h0m1-5h0m18 1h0m11 3h0m7 2h0m9 6h0m9-12h0m0 4h0m20 9h0m3-4h0m20 6h0m57-2h0m17-2h0m24-4h0m7-13h0m2 19h0m3-3h0m-215 20h0m1-1h0m1 3h0m11-12h0m11 12h0m4 0h0m6 4h0m5-15h0m1 13h0m4-9h0m0-1h0m1-1h0m1 4h0m19 12h0m3-15h0m2-1h0m0-5h0m4 3h0m1 3h0m6 15h0m3-16h0m4-5h0m14 16h0m2 2h0m2-11h0m12 14h0m9-6h0m12-13h0m3 14h0m6 5h0m-130 5h0m3 7h0m10 1h0m9 11h0m2 0h0m0-9h0m4-8h0m2-2h0m19 16h0m10 0h0m11-2h0m1-14h0m0 2h0m3 9h0m1-7h0m8 11h0m2 2h0m11-16h0m3-4h0m7 21h0m1-20h0m23-1h0m2 8h0m52 15h0m2-7h0m-176 8h0m37 2h0m14 13h0m6-4h0m1-10h0m9 1h0m10 20h0m3-1h0m1-1h0m8 1h0m26-4h0m7-9h0m1 0h0m4-6h0m1 0h0m3 12h0m2-5h0m10 13h0m5 0h0m24-2h0m-126 11h0m15-6h0m20 21h0m6-5h0m6-6h0m2-2h0m9 7h0m2-2h0m1 0h0m5 5h0m4-9h0m19 1h0m4-2h0m3 4h0m1-4h0m3 5h0m2 7h0m3-1h0m8 1h0m3-20h0m1 4h0m10 10h0m-77 10h0m1 6h0m5 3h0m3-10h0m1 10h0m9 2h0m0-10h0m16-2h0m1 19h0m1-1h0m12-3h0m10-15h0m2 13h0"/>
<path transform="scale(0.5)" stroke="#DD4D38" stroke-width="5.8" d="M3455 285h0m29-14h0m21 7h0m15 7h0m-147 5h0m27 7h0m11-8h0m62 6h0m1-4h0m18 7h0m2 5h0m8-10h0m13 0h0m9-1h0m1 7h0m23 3h0m6 9h0m33-10h0m4 5h0m-173 24h0m49-6h0m90 5h0m-106 12h0m69 4h0m-58 21h0m32 39h0m19-15h0m3-5h0m209 6h0m-226 20h0m263-3h0m18 13h0m24 5h0m3 6h0m53 35h0m-173 42h0m70-3h0m-57 25h0m26 20h0m-36 4h0m83 27h0m21 4h0m52-8h0m3 17h0m19-5h0m-121 18h0m26 20h0m36 8h0m12-2h0"/>
<path transform="scale(0.5)" stroke="#BC2A25" stroke-width="5.8" d="M3805 616h0m32-6h0"/>
</g>
<rect x="1985.9" y="164.7" width="16" height="83.5" fill="url(#cbg)" stroke="#9a8070" stroke-width="0.8"/>
<text x="2009.8" y="170.3" font-size="19.01">4</text>
<text x="2009.8" y="259.8" font-size="19.01">0</text>
<g fill="none" stroke-linecap="round">
<path transform="scale(0.5)" stroke="#CFCFCF" stroke-width="5.8" d="M1889 879h0m1 1h0m0-9h0m6 8h0m2-5h0m4-6h0m3 6h0m0-6h0m0 6h0m3 5h0m0-10h0m1-1h0m0 0h0m1 1h0m1 10h0m1 0h0m1-8h0m2-2h0m0 4h0m0 7h0m0-14h0m1 6h0m2-2h0m4 6h0m0-4h0m4-6h0m1 14h0m0-13h0m0 4h0m1-4h0m1 10h0m0 4h0m0-5h0m1-4h0m0 0h0m1-3h0m2-4h0m1 16h0m3-5h0m1-6h0m0-1h0m0 6h0m1-4h0m0-7h0m1 10h0m1 0h0m4 2h0m0-4h0m2 3h0m4 4h0m2-1h0m3-5h0m1 6h0m2-9h0m2-5h0m1 2h0m4 2h0m3 4h0m3-1h0m0 5h0m2-5h0m2-4h0m1 7h0m6-5h0m1-6h0m2 8h0m0 5h0m0-2h0m1 1h0m0 0h0m0 3h0m0 5h0m1-7h0m0-6h0m0 6h0m0 10h0m1-13h0m0 4h0m2 7h0m2-15h0m0-4h0m0 2h0m1 19h0m0-2h0m1-14h0m1 13h0m1-15h0m1 18h0m1-10h0m0-1h0m0 9h0m1-18h0m5 7h0m3 2h0m1-9h0m2-1h0m0 1h0m2 3h0m1 3h0m5-5h0m1 2h0m1-4h0m1 3h0m2 7h0m2-10h0m1 1h0m0 9h0m2-3h0m8 4h0m0-1h0m2-9h0m0 11h0m7-7h0m2 3h0m1 1h0m0-4h0m2 6h0m1 3h0m3 1h0m1-11h0m2 2h0m5 13h0m5-2h0m-233 21h0m4-1h0m18-8h0m134-2h0m3-4h0m0 5h0m4-2h0m1 2h0m1-6h0m0 12h0m1-12h0m4 13h0m1-4h0m3-4h0m0 0h0m0 11h0m1-12h0m0 4h0m1 2h0m4 9h0m3 3h0m2-1h0m1 1h0m2-5h0m3 6h0m3-3h0m0 1h0m1-3h0m-233 22h0m3-4h0m8-7h0m2 1h0m76 14h0m128-3h0m2-14h0m6-1h0m5 0h0m2 3h0m0 15h0m1-15h0m9 3h0m1-5h0m1 8h0m0 11h0m2-7h0m0 0h0m1 0h0m2 0h0m1-1h0m1-6h0m5 9h0m1-3h0m1-2h0m3 3h0m2 3h0m2-1h0m1-1h0m-285 21h0m2-6h0m1 5h0m129 8h0m112 2h0m0 0h0m10-2h0m5 1h0m4-19h0m1 9h0m5-2h0m12-3h0m1-2h0m3-4h0m0 11h0m1-9h0m1 7h0m0 11h0m1-18h0m2 18h0m1-14h0m0 6h0m1-7h0m0-3h0m1 1h0m2 10h0m0 5h0m0 5h0m3-1h0m4-3h0m2-2h0m12 4h0m4 0h0m4-9h0m4 4h0m1 5h0m-245 6h0m108 20h0m11-1h0m1 1h0m1 0h0m4-6h0m4 4h0m4 2h0m1-2h0m4 1h0m0 0h0m18-21h0m8 7h0m17 9h0m2 2h0m6-4h0m15 0h0m0 7h0m1-13h0m1 8h0m1 6h0m1-5h0m1-1h0m0-2h0m0-9h0m1 2h0m0 2h0m2 10h0m1-3h0m0-6h0m1 8h0m1-15h0m0 3h0m0-5h0m1 6h0m1 3h0m0 11h0m0-20h0m1 0h0m1 11h0m2 1h0m12 1h0m6-13h0m0 18h0m6-1h0m0-19h0m0 22h0m0-18h0m1 10h0m3 1h0m1-10h0m2 15h0m0 3h0m2-17h0m1 5h0m0-8h0m2 6h0m2 3h0m0 1h0m3-2h0m0 9h0m1-5h0m2 1h0m2 6h0m-367 20h0m3-14h0m91 12h0m3 6h0m2-9h0m0 3h0m2-3h0m1 5h0m0 5h0m2-11h0m1 6h0m1 2h0m0 3h0m0-7h0m11 4h0m88-15h0m3 16h0m1-6h0m2 2h0m1-6h0m3 9h0m2-4h0m1 2h0m1-15h0m0-3h0m2 23h0m0-11h0m1-7h0m2-5h0m0 5h0m3 5h0m1 1h0m1 10h0m1-1h0m0-18h0m2 2h0m1 1h0m20 1h0m35 3h0m0 9h0m5-11h0m4 15h0m4-16h0m1 10h0m1 4h0m2-11h0m1-2h0m0 0h0m1-2h0m1-3h0m11 18h0m13-6h0m2-2h0m0 0h0m2 3h0m0 8h0m2-5h0m3-2h0m9-4h0m0-5h0m0 15h0m1-6h0m0-6h0m2 13h0m1-18h0m1 7h0m5-3h0m1-6h0m3 4h0m0 7h0m1-11h0m0-3h0m0 14h0m0-5h0m3 14h0m-368 1h0m3 0h0m3 9h0m7 8h0m0-4h0m7 4h0m4-2h0m1-6h0m7 5h0m10-9h0m5 10h0m3-10h0m1 8h0m11-7h0m0-3h0m5-2h0m0 10h0m1-10h0m4 10h0m1-7h0m1-1h0m2 6h0m2-9h0m3 9h0m5-1h0m1-2h0m2-3h0m2 0h0m1-2h0m0 11h0m3-6h0m3 3h0m2 1h0m9 3h0m1-8h0m1 7h0m2-8h0m5-1h0m1 12h0m5-2h0m4 6h0m0-17h0m5-2h0m5 11h0m1 3h0m1-7h0m2-3h0m2 5h0m2 7h0m3-5h0m2 0h0m0 9h0m4-3h0m1-14h0m1 12h0m3-5h0m5 10h0m0-8h0m3-4h0m2 3h0m2 10h0m1-12h0m2 12h0m6-3h0m3 2h0m6-11h0m3 4h0m2 9h0m2-1h0m1-9h0m7 8h0m6 2h0m2-7h0m3 2h0m1-10h0m1 0h0m1 0h0m5 5h0m1 7h0m6-17h0m4 16h0m4 1h0m1-10h0m4 5h0m14 4h0m3 5h0m4-16h0m15-1h0m5 15h0m0 0h0m4-10h0m2-2h0m0-1h0m1 3h0m1 4h0m1-8h0m1 9h0m1-13h0m2-2h0m2 1h0m0 5h0m1-7h0m0 1h0m24 11h0m1 6h0m0-16h0m1-2h0m1 11h0m0 3h0m1-9h0m2 2h0m2 15h0m5-1h0m0 1h0m2-3h0m0-8h0m1 5h0m1-4h0m4-10h0m0 12h0m2 0h0m0 9h0m2-17h0m0-6h0m0 1h0m1 3h0m1 10h0m0-9h0m1 7h0m1-12h0m0 5h0m2-2h0m0 8h0m3-3h0m0 3h0m4 1h0m0-5h0m0-7h0m5 2h0m-353 24h0m6-2h0m8 4h0m1 10h0m7-11h0m1 5h0m8 14h0m2-16h0m2 1h0m7-4h0m3 13h0m5-3h0m10-12h0m5 19h0m3-13h0m1 15h0m2-15h0m1 3h0m6 5h0m1-5h0m9 8h0m17-15h0m13 2h0m2 0h0m3-5h0m0 18h0m3-9h0m5 9h0m4-12h0m6 3h0m4 1h0m4-3h0m5 2h0m10-8h0m3 11h0m5-2h0m0-4h0m0 3h0m2-5h0m4 8h0m0 11h0m1-21h0m3 8h0m7 13h0m1-19h0m2-3h0m1 5h0m2-6h0m1 4h0m2 11h0m5-4h0m1 1h0m3-3h0m2 2h0m1-5h0m2-2h0m1 7h0m8 2h0m2 3h0m3-11h0m8 3h0m6 0h0m6 6h0m10-6h0m1-3h0m0 4h0m2-1h0m2-1h0m5-3h0m28 12h0m4 4h0m0-7h0m1 4h0m1-6h0m1 0h0m5 0h0m3 1h0m2 8h0m1-15h0m3 6h0m0-10h0m0 5h0m2 0h0m3-4h0m0 2h0m2-4h0m2 17h0m1-15h0m0 14h0m2 0h0m3-7h0m2-3h0m6-3h0m-346 34h0m2-11h0m1 6h0m2-1h0m1 6h0m0-8h0m0 1h0m1 13h0m1-7h0m2-3h0m0 8h0m2-10h0m2-2h0m0 4h0m1 2h0m3-5h0m0-1h0m2 2h0m1-4h0m3 3h0m2 2h0m2 1h0m2 8h0m1-5h0m0-2h0m2-10h0m0 13h0m4 9h0m5 0h0m4-20h0m1-2h0m0 1h0m0 4h0m6 4h0m5 3h0m1-6h0m0 6h0m1-7h0m3 7h0m1 6h0m1-9h0m2-7h0m0 17h0m1-11h0m1-1h0m4 4h0m0-4h0m1-3h0m0-4h0m1 6h0m2 16h0m3-11h0m6 1h0m1 4h0m1-5h0m18 9h0m3-16h0m2-3h0m5 7h0m8-4h0m6 3h0m2 6h0m9 2h0m0 1h0m8-1h0m2 0h0m1-6h0m18 0h0m9 6h0m15-5h0m1 13h0m2-11h0m7 9h0m14 2h0m2-16h0m0 14h0m1-2h0m6 4h0m5-3h0m-223 9h0m5 2h0m0-6h0m0 10h0m4 0h0m0 5h0m1-14h0m1 13h0m0-11h0m1 10h0m1-9h0m1 4h0m0 7h0m1-7h0m0 11h0m0-6h0m2-10h0m1 6h0m0-3h0m7 1h0m3 7h0m0-15h0m1 19h0m0-12h0m1 16h0m2-14h0m0 12h0m0-10h0m1-9h0m2 18h0m3 2h0m0-12h0m2-9h0m0 2h0m2 14h0m0-8h0m1 5h0m0-14h0m0 9h0m0-1h0m0 4h0m1 6h0m2 5h0m2-12h0m1 0h0m1-6h0m3 12h0m1-5h0m0 1h0m2 6h0m1 3h0m0-15h0m2 3h0m1 6h0m3-6h0m3 0h0m1 7h0m0-3h0m6 0h0m1 6h0m1-12h0m1 2h0m2 5h0m3 6h0m1-10h0m3 7h0m2-8h0m5 7h0m3-1h0m5 0h0m3 5h0m0-9h0m4 5h0m0 6h0m2-9h0m0-2h0m3 11h0m1-1h0m4-3h0m0 0h0m1-7h0m1 7h0m0-6h0m6 10h0m0-10h0m1 2h0m4-5h0m0 2h0m3 3h0m2 5h0m0-11h0m3 3h0m2 11h0m1-9h0m2-2h0m2-6h0m2 10h0m0-6h0m0 11h0m0 1h0m2-3h0m1-13h0m1 13h0m3 3h0m2 0h0m1-10h0m2-4h0m1 8h0m0 4h0m0-1h0m2-15h0m1 7h0m2 9h0m1-6h0m3-8h0m1 15h0m0-13h0m0 6h0m0-6h0m1 0h0m0 6h0m0-4h0m4-6h0m1 18h0m5-7h0m0-13h0m0 18h0m1-7h0m2 4h0m0-1h0m4 2h0m1-14h0m3 16h0m0-3h0m2 6h0m2-2h0m0-6h0m4-3h0m1-1h0m0-5h0m1 9h0m1-6h0m4 10h0m0 0h0m3-7h0m0-4h0m0-5h0m0 15h0m2-5h0m0-12h0m2 12h0m1-5h0m1-8h0m1 19h0m0-12h0m1 4h0m1 0h0m0 6h0m0-12h0m1 2h0m0-7h0m1 3h0m0 7h0m0-5h0m1 3h0m1 2h0m1-1h0m0 3h0m0-6h0m1-4h0m-206 24h0m2 5h0m2-5h0m1 1h0m2-3h0m3 6h0m1 8h0m3-2h0m1-2h0m0 1h0m1-7h0m1-1h0m1-3h0m1 0h0m2 1h0m1 12h0m1 4h0m0 1h0m0-3h0m4-5h0m1 1h0m0-2h0m2 9h0m0-3h0m5 2h0m0 2h0m0-17h0m1-2h0m1 17h0m0 3h0m1-13h0m1-3h0m1 14h0m2-1h0m0 1h0m1-17h0m1 8h0m2-7h0m0 3h0m2 1h0m0-2h0m1 7h0m5 6h0m3-15h0m2 17h0m0-3h0m1-16h0m1 6h0m0 13h0m2-13h0m1-1h0m0 0h0m0 1h0m2-2h0m0 5h0m1 6h0m1-6h0m1 7h0m3-14h0m1 5h0m0 13h0m1-10h0m2-10h0m2 21h0m2 1h0m0-9h0m1 1h0m0-3h0m1 12h0m0-7h0m1-13h0m0 1h0m3 0h0m1 14h0m2 0h0m1-5h0m0-11h0m2 6h0m0 3h0m1 2h0m0 5h0m1 1h0m2 1h0m1-7h0m1-5h0m0-2h0m0 13h0m1-8h0m0-6h0m2 4h0m0 7h0m2 7h0m2-6h0m0-2h0m0-5h0m0 12h0m1-21h0m0 13h0m1 1h0m1 4h0m0-4h0m1 4h0m0-11h0m1 10h0m2 3h0m1-13h0m0 12h0m0-13h0m0-3h0m1 10h0m0-2h0m3-5h0m2 3h0m1-9h0m3 2h0m0 4h0m1 13h0m1-17h0m1 20h0m1-8h0m0 3h0m1-2h0m1-16h0m1 9h0m1-2h0m0 2h0m1-2h0m0-6h0m1 8h0m0 10h0m1-6h0m0 0h0m0-9h0m1-2h0m0 8h0m0 11h0m1-17h0m0-3h0m2 9h0m1 5h0m0-7h0m4 8h0m1 6h0m0-14h0m2 13h0m3 0h0m3-8h0m0 7h0m2-15h0m1 8h0m1-13h0m0 23h0m1-7h0m0-8h0m1 9h0m1-17h0m0 14h0m0 2h0m3-14h0m0-2h0m1 21h0m3-9h0m2-9h0m0 10h0m1-2h0m8-7h0m1 8h0m0-6h0m6-5h0m3 2h0m90 10h0m1-4h0m3 5h0m0-2h0m2 10h0m1-6h0m0 4h0m1-7h0m1-1h0m11 3h0m13 2h0m9 6h0m7-10h0m0-2h0m0 1h0m0 0h0m0-4h0m1 4h0m31 11h0m-323 3h0m2 1h0m2 2h0m1-4h0m1 0h0m1 6h0m1 0h0m0-5h0m7 5h0m1 2h0m2-3h0m2 1h0m0-3h0m1-3h0m0 1h0m2 6h0m2 2h0m1-5h0m4 1h0m4 5h0m1-3h0m5 3h0m1-10h0m1 6h0m1-6h0m0 2h0m10 6h0m5-7h0m1 0h0m1 1h0m4-3h0m3 3h0m3 9h0m0-4h0m1-6h0m0 7h0m1-3h0m0-4h0m3 7h0m8-9h0m5 6h0m2-5h0m1 1h0m1 3h0m6 3h0m2 1h0m0-3h0m2 0h0m1-1h0m0-2h0m1 0h0m2 5h0m0 0h0m4-2h0m6-2h0m1-1h0m0-2h0m7 0h0m8 8h0m3-2h0m7 11h0m99 1h0m1-3h0m1-9h0m0 16h0m1-16h0m2-1h0m1 3h0m25 14h0m1 0h0m3-11h0m8-6h0m1 1h0m3 2h0m32-9h0m21 12h0m1 4h0m1-6h0m3 9h0m3-1h0m9 0h0m2 5h0m0 0h0m2 0h0m-197 11h0m18 0h0m7 12h0m1-9h0m1-4h0m1 11h0m0-2h0m2-8h0m42 13h0m2-5h0m0 0h0m1 5h0m1-3h0m1-12h0m2-7h0m0 8h0m2-4h0m1-4h0m0 22h0m2-2h0m2-7h0m1 6h0m5-9h0m2 3h0m4-4h0m0 2h0m6-12h0m3 2h0m55 10h0m1-1h0m1 6h0m2-4h0m7-7h0m2 9h0m2 2h0m0 5h0m10-20h0m1 19h0m2 2h0m5-9h0m0 0h0m2 9h0m1-16h0m0 0h0m0 14h0m2-19h0m1 1h0m0 6h0m2-7h0m2-2h0m1 11h0m1-9h0m1 4h0m1-2h0m1 3h0m0 6h0m2 6h0m3-3h0m2 0h0m0 6h0m1-2h0m3-1h0m0-1h0m3 0h0m2 5h0m4 0h0m2-3h0m1-3h0m0 6h0m7-5h0m4 5h0m4-2h0m-214 4h0m0 3h0m1-2h0m6 7h0m1-5h0m1-2h0m23 13h0m2-1h0m2-7h0m2-6h0m1 5h0m3-4h0m1 15h0m7 3h0m3-3h0m1 4h0m2 0h0m42-3h0m6 2h0m44-14h0m0 0h0m4 2h0m2-8h0m6 3h0m5 10h0m2-8h0m2 8h0m10 3h0m1-3h0m1 5h0m1-10h0m3-6h0m2 14h0m1-5h0m1-6h0m0-2h0m2 11h0m3-11h0m4-2h0m1 6h0m1-4h0m1 1h0m0 10h0m1-14h0m1 14h0m1-6h0m1-8h0m1 5h0m0 15h0m1-15h0m0 18h0m2-18h0m1-1h0m2 7h0m0-9h0m1 3h0m1 0h0m0-3h0m1 6h0m1-3h0m0 11h0m1-14h0m0 11h0m1-4h0m2-4h0m0 14h0m2-2h0m1-10h0m4 8h0m5 8h0m1-4h0m5-3h0m1 6h0m0 0h0m-229 19h0m1-13h0m2-4h0m0 4h0m1 18h0m0-15h0m3 2h0m0-8h0m1 10h0m1 4h0m1-14h0m2 4h0m0 18h0m0-17h0m1 5h0m0 5h0m1-14h0m0 18h0m3-5h0m3-6h0m0 6h0m1-9h0m1 9h0m0-2h0m1 9h0m4-16h0m1 13h0m1-5h0m0-10h0m0 3h0m0 2h0m1-2h0m1 13h0m2-15h0m1 3h0m0 10h0m1-8h0m0 5h0m0-10h0m2 16h0m2-2h0m2-11h0m2-3h0m1 9h0m1-13h0m7 2h0m0-1h0m1 17h0m0-10h0m1-7h0m1 18h0m0-2h0m3 1h0m2 0h0m3-2h0m4-9h0m2 8h0m1-4h0m5-4h0m3 15h0m2-19h0m1 1h0m13 11h0m1 5h0m4-3h0m7-11h0m1 8h0m11-1h0m8-8h0m4-1h0m6 11h0m29-14h0m8 5h0m17 8h0m4-15h0m2 2h0m22-2h0m0 2h0m0 16h0m1-14h0m1 0h0m0 17h0m1-16h0m1 1h0m0 17h0m1-16h0m1-6h0m2 20h0m0-2h0m2-7h0m1-8h0m1-1h0m2 3h0m1-2h0m2 16h0m-234 6h0m1 7h0m0-5h0m2 13h0m1 4h0m5 2h0m0-19h0m0 5h0m1 7h0m1 5h0m0 1h0m3-2h0m0-3h0m1-4h0m1-4h0m0-3h0m0 17h0m1-9h0m1-6h0m0 14h0m4-17h0m1 17h0m2-3h0m2 3h0m0-4h0m2-16h0m0 2h0m0 13h0m2-11h0m1 7h0m0-13h0m0 2h0m1 3h0m1 9h0m0-13h0m0 16h0m3-17h0m2 22h0m1-21h0m1 18h0m0 0h0m0-19h0m2 11h0m2-5h0m0 8h0m1 9h0m2 0h0m1-16h0m0-6h0m1 13h0m2-1h0m0 1h0m1-3h0m1 3h0m0-8h0m1 17h0m0-9h0m1-10h0m0 13h0m1 3h0m0-10h0m0 4h0m1 3h0m1-2h0m1-10h0m0 6h0m2-11h0m2 15h0m0 2h0m1 0h0m0 0h0m0-8h0m2 7h0m0-3h0m0-10h0m1 15h0m0 1h0m3 2h0m0-20h0m1 15h0m2-9h0m2-5h0m1 20h0m0-6h0m2-5h0m1-11h0m1 7h0m0 11h0m1-4h0m3-6h0m1 5h0m0 4h0m0-4h0m3 1h0m1-6h0m0 2h0m1 8h0m0-11h0m2 3h0m0 6h0m6 2h0m3 5h0m7-1h0m0 1h0m9-18h0m16-5h0m10 0h0m4 5h0m1-5h0m3 2h0m4 2h0m12 7h0m1-10h0m11 11h0m0 6h0m15-14h0m12 16h0m15-16h0m5-1h0m1 9h0m0 7h0m8 4h0m0-20h0m1-2h0m1 14h0m0-9h0m1 17h0m-231 1h0m5 2h0m4 0h0m1 1h0m2 11h0m1 5h0m2 2h0m1-5h0m0-1h0m0 4h0m1-19h0m0 18h0m1 3h0m2-7h0m1-9h0m0 15h0m0-7h0m1 3h0m1-4h0m1 4h0m0-14h0m2 4h0m0 10h0m1-4h0m0-4h0m2-6h0m0 10h0m0-11h0m0 8h0m1-4h0m0 6h0m1-3h0m1 13h0m3-1h0m0-18h0m0 2h0m2 8h0m1 0h0m2-9h0m1 1h0m3 17h0m0-14h0m3-7h0m0 13h0m1-4h0m1 10h0m1-18h0m1 0h0m0 8h0m3 4h0m1-3h0m1 13h0m0-3h0m1-5h0m0-12h0m1 4h0m0-5h0m2 12h0m0-1h0m1-1h0m0-9h0m1 3h0m0 10h0m1 4h0m1-2h0m1-17h0m0 19h0m2-7h0m0-5h0m1 7h0m1-14h0m3 10h0m1 9h0m4-18h0m4 18h0m1-5h0m2-12h0m0 0h0m1 0h0m1 9h0m0-5h0m2-1h0m2 4h0m0 1h0m1-9h0m1 9h0m1 6h0m1-13h0m1 15h0m0 4h0m1-23h0m2 2h0m2 10h0m2 10h0m0-5h0m1-16h0m1 6h0m1 2h0m1 14h0m1-2h0m1-18h0m1 3h0m2 4h0m1 7h0m0-6h0m3-2h0m2-9h0m3 19h0m1-15h0m0 4h0m0 1h0m1 3h0m0-12h0m0 14h0m0-3h0m1 5h0m0-8h0m1 1h0m1 11h0m0-7h0m1 3h0m1 7h0m2-4h0m0-1h0m4-9h0m0 8h0m2-8h0m3 4h0m5 9h0m0-5h0m0-1h0m5 1h0m0 4h0m7 0h0m0-21h0m0 9h0m3 14h0m0-22h0m14 17h0m4 0h0m2 0h0m17-18h0m1 19h0m23-5h0m5-5h0m0 6h0m1-4h0m2 1h0m1-10h0m-207 23h0m6 9h0m1-10h0m4 18h0m1-17h0m1 17h0m0-9h0m0 5h0m1 5h0m1-2h0m0-9h0m1 8h0m1-7h0m2 0h0m2-6h0m0 7h0m2-1h0m1 13h0m1-15h0m1 10h0m0-14h0m2 7h0m1 10h0m0-19h0m2 12h0m0-6h0m0 8h0m2-13h0m0 12h0m2-13h0m2 18h0m2-13h0m1 12h0m1-7h0m0-10h0m3 1h0m1 20h0m1-20h0m1 4h0m0-3h0m1 18h0m0-19h0m4 21h0m1-18h0m1 3h0m1 13h0m1 0h0m2-17h0m1-4h0m1 4h0m1 16h0m1-7h0m0 0h0m0-1h0m1 2h0m2-2h0m0 2h0m2 3h0m0-15h0m0 13h0m1-10h0m0 5h0m2-7h0m0 11h0m1 9h0m0-12h0m0 9h0m1-14h0m1 6h0m0 11h0m3-4h0m0-15h0m2-1h0m2-1h0m1 2h0m1 3h0m1 16h0m1-23h0m0 9h0m0 2h0m1 5h0m0 0h0m1-7h0m1 11h0m1-5h0m0-2h0m0-10h0m3 2h0m0 10h0m2-12h0m6-2h0m0 16h0m1 0h0m0-5h0m1 2h0m3-13h0m1 22h0m2-17h0m1 15h0m0-19h0m1 8h0m2-3h0m2-3h0m1 1h0m3 10h0m3-4h0m0-2h0m0-4h0m0 15h0m1-4h0m1-4h0m1 11h0m0-20h0m0 15h0m3-5h0m6 3h0m0-16h0m2 17h0m1-12h0m0 14h0m1-5h0m0-3h0m2 3h0m0-11h0m1 2h0m2-4h0m2 5h0m0-2h0m0 19h0m1-17h0m0 12h0m1-4h0m1 2h0m1 6h0m2-9h0m1 7h0m2 2h0m1-3h0m2 1h0m3-4h0m34-10h0m6 7h0m0-6h0m1 15h0m0-19h0m1 6h0m0 8h0m1-5h0m2-5h0m0-5h0m-173 30h0m3 5h0m2-9h0m2 0h0m3 1h0m1 15h0m4-2h0m0 5h0m1-6h0m0-10h0m1 5h0m0-1h0m2 1h0m2-8h0m1 4h0m8-4h0m0 4h0m2-7h0m1 10h0m4-9h0m2-1h0m3 20h0m0-20h0m2 14h0m0 6h0m1-6h0m0-3h0m0-3h0m0 0h0m2 7h0m0-8h0m1 14h0m0-15h0m2 10h0m0-10h0m1 0h0m0 12h0m0-17h0m1 20h0m2-19h0m1 0h0m2 9h0m1 1h0m1-13h0m1 8h0m1 11h0m2-9h0m0 10h0m1-16h0m1 12h0m1 5h0m0-21h0m1 6h0m0-5h0m0 12h0m1-11h0m3 12h0m2-2h0m0-1h0m1 9h0m5-7h0m1-3h0m3 12h0m1-3h0m3-11h0m1 11h0m1-14h0m0 3h0m0-5h0m2 15h0m0-1h0m0 1h0m1-11h0m1 11h0m3-16h0m0-1h0m3 19h0m0-11h0m1 0h0m3 4h0m2-9h0m0 18h0m1-19h0m0 18h0m2 2h0m3-19h0m2 3h0m2 8h0m0-1h0m1 0h0m0 5h0m1-17h0m1-1h0m0 16h0m2-16h0m0 7h0m0-2h0m1 2h0m1-7h0m1 20h0m0 1h0m1-22h0m0 20h0m1-7h0m1 6h0m0 0h0m0-16h0m0 12h0m2-4h0m1 8h0m1-17h0m0 17h0m2 4h0m1-14h0m2-1h0m0 14h0m3-7h0m0-9h0m0 12h0m3 5h0m1-1h0m0-14h0m1 0h0m3 13h0m1 1h0m1 1h0m1-6h0m1 1h0m3 0h0m1-18h0m2 18h0m1 4h0m6-9h0m2 7h0m2 0h0m0-15h0m2 8h0m1 6h0m0-4h0m-144 15h0m1-4h0m1 8h0m0-4h0m0 2h0m4-1h0m2 5h0m0-6h0m2 8h0m1-3h0m1-3h0m1 5h0m1 1h0m2 6h0m2-15h0m2-4h0m0 17h0m1-14h0m1-4h0m1 22h0m1-19h0m1 17h0m0-6h0m1-13h0m1 0h0m0 16h0m1-1h0m0-9h0m3 11h0m0-18h0m2 5h0m0 18h0m1-10h0m1 4h0m1-6h0m1-3h0m1 5h0m1 8h0m0-15h0m2 15h0m3-17h0m0 19h0m2-2h0m0-13h0m1-5h0m1-1h0m2 14h0m1 7h0m1-7h0m1-13h0m0 12h0m1 5h0m0 3h0m1-19h0m1-1h0m1 20h0m0-7h0m1-1h0m2-9h0m0 11h0m2-13h0m0 11h0m0-2h0m0-13h0m1 16h0m0-4h0m2 11h0m0-16h0m0 12h0m1-8h0m1 9h0m1-11h0m1 13h0m2-20h0m0 0h0m2 18h0m1 0h0m1-7h0m0-6h0m1 15h0m0-1h0m0-5h0m1-5h0m4 3h0m2 2h0m2 2h0m2 2h0m2-1h0m2 4h0m4-2h0m4-21h0m1 3h0m1 8h0m1 6h0m0-7h0m4 5h0m0 4h0m2-3h0m2-12h0m0 11h0m0 2h0m1-1h0m1-4h0m0-4h0m1 0h0m0 12h0m1-20h0m1 4h0m0 6h0m0 3h0m1 3h0m1-8h0m1-7h0m0 11h0m0-2h0m1 10h0m0 1h0m1-20h0m0 22h0m1-15h0m1 11h0m2 1h0m0-6h0m2 5h0m1-17h0m1 14h0m0-4h0m1-5h0m0 0h0m1 4h0m4 3h0m2 8h0m0-11h0m2 8h0m1-17h0m0 0h0m1 11h0m0 8h0m1-6h0m1-7h0m0-2h0m2 6h0m-120 12h0m1 2h0m5 0h0m5 0h0m0 0h0m4 3h0m6-1h0m0 9h0m3-9h0m3 0h0m1-4h0m2 9h0m4 6h0m1-1h0m1-2h0m2 4h0m1-9h0m1-6h0m5 8h0m0 7h0m3-10h0m1 10h0m1 6h0m2-21h0m0 4h0m2 0h0m0-4h0m1 0h0m0 5h0m0-5h0m1 17h0m1-17h0m1 17h0m0-10h0m1-6h0m0 17h0m2 3h0m0-9h0m0 4h0m2-6h0m0-5h0m0 15h0m5-8h0m0-8h0m0 11h0m2-10h0m1 14h0m1-13h0m0-1h0m0 10h0m0 3h0m2-11h0m0-2h0m1 2h0m0 11h0m2-19h0m1 18h0m0-3h0m0-5h0m1 8h0m1-9h0m0-5h0m3 15h0m2-3h0m3 5h0m2-20h0m0 16h0m1-14h0m3 14h0m0-7h0m1 7h0m3-11h0m0-6h0m0 8h0m1 2h0m0 6h0m1 3h0m1-14h0m1 10h0m0-12h0m3 14h0m3-5h0m3 2h0m0-2h0m1 4h0m2-13h0m-46 21h0m7 1h0m1-1h0m1 7h0m1-3h0m12-1h0m10-3h0m0 0h0"/>
<path transform="scale(0.5)" stroke="#FCD0A8" stroke-width="5.8" d="M1872 883h0m10-3h0m11-5h0m2 1h0m0-1h0m14 0h0m8-5h0m31-4h0m9 5h0m1-2h0m78-1h0m-212 41h0m0 0h0m11-3h0m15-9h0m4-1h0m6-5h0m5-2h0m2-1h0m-73 42h0m1 2h0m2-1h0m1-4h0m1-2h0m1 1h0m3-2h0m7-9h0m1 0h0m223 3h0m30 17h0m-292 20h0m0 4h0m0-4h0m6 0h0m0-9h0m6-7h0m4 1h0m286 15h0m30 3h0m-337 6h0m3-4h0m4 2h0m212 19h0m8-4h0m7 4h0m44-15h0m25 17h0m7-19h0m26-4h0m5 19h0m16-6h0m2 7h0m2-5h0m-367 15h0m1-5h0m0 7h0m1-8h0m1 5h0m86 12h0m12 2h0m18 3h0m2-2h0m3 3h0m2-8h0m0-1h0m5 9h0m2-4h0m8-3h0m71-8h0m9-4h0m2-4h0m8 12h0m8-8h0m2-4h0m14 12h0m91 4h0m2-5h0m-321 30h0m7-2h0m10-6h0m7 2h0m5-9h0m1 2h0m5 5h0m4-5h0m6-4h0m1 2h0m1 3h0m2-5h0m1 6h0m15-5h0m10 9h0m2-4h0m7-3h0m0 12h0m2-13h0m17 2h0m1 6h0m2 11h0m12-14h0m6-3h0m16 10h0m2 4h0m8 0h0m0 5h0m9-2h0m13-3h0m4-4h0m0-8h0m7 3h0m3 9h0m3 5h0m1-3h0m2 0h0m4-13h0m2 13h0m28-4h0m3-14h0m30 1h0m6 14h0m5-15h0m45 4h0m4 10h0m9-16h0m5 9h0m1-4h0m-332 21h0m7 17h0m17 3h0m7-4h0m45-17h0m35 4h0m24 2h0m3-6h0m14 6h0m3 0h0m3-7h0m7 0h0m11 6h0m4-1h0m1 4h0m3-4h0m3-2h0m8 5h0m27-1h0m37-7h0m33 11h0m3-2h0m1-3h0m4 2h0m1 0h0m2-3h0m0 1h0m1 1h0m11-7h0m1 12h0m0-5h0m5-4h0m-309 44h0m10-22h0m24 8h0m2 10h0m44-9h0m18-9h0m89 17h0m3 2h0m1-1h0m-206 10h0m22 10h0m6 6h0m2-17h0m2 3h0m2-4h0m9 14h0m3-5h0m1-5h0m0 12h0m15-1h0m2-6h0m8 6h0m19 5h0m24-21h0m10 9h0m3 6h0m2 1h0m17 2h0m4-16h0m1 3h0m1-1h0m8 15h0m1-2h0m10 3h0m14-3h0m3 2h0m-178 4h0m12 6h0m0-4h0m0 12h0m5 5h0m1-9h0m10 10h0m7-6h0m8-14h0m0 11h0m15 6h0m5-18h0m13 23h0m3-22h0m0 20h0m8-15h0m0 10h0m1 4h0m11 3h0m5-5h0m0-10h0m25 12h0m3-3h0m2-2h0m3 1h0m5-9h0m8-3h0m4 10h0m19 2h0m2-6h0m1-3h0m16-7h0m84 10h0m2-3h0m45 16h0m-286 2h0m4 4h0m14 2h0m7 2h0m1 0h0m48-9h0m12 5h0m15 4h0m1-5h0m1-4h0m16 1h0m124 19h0m3-9h0m17 12h0m2-4h0m14-18h0m67 16h0m-143 30h0m135-16h0m4 4h0m8 3h0m3-4h0m12 12h0m4-18h0m8 14h0m12-3h0m5 3h0m12 4h0m7 1h0m-220 6h0m39 6h0m54 7h0m8 5h0m52-21h0m3-2h0m14 2h0m11 13h0m2-3h0m3-3h0m15-3h0m3 0h0m3 12h0m7-7h0m2-7h0m1 6h0m4 6h0m3 0h0m1-1h0m4 8h0m2-10h0m7 9h0m-209 15h0m9-2h0m2-4h0m9 13h0m8 2h0m5-4h0m24 4h0m27-18h0m31 12h0m102-13h0m-231 31h0m2-10h0m25 11h0m4-4h0m7 1h0m12 14h0m1-20h0m3 15h0m2-6h0m10 7h0m8-13h0m1-1h0m15 11h0m2 4h0m1-8h0m7-4h0m24-5h0m40 0h0m16 2h0m40 7h0m9 1h0m0 6h0m4-11h0m4 7h0m-229 15h0m4-4h0m27 22h0m17-13h0m21 3h0m4-7h0m16 14h0m13-12h0m7 8h0m10-13h0m1 2h0m61 10h0m42-7h0m1 1h0m0 2h0m-201 21h0m4-5h0m41 8h0m7-6h0m0 17h0m8-19h0m28 12h0m2-9h0m6 4h0m35 11h0m6 2h0m7-4h0m9-2h0m12-12h0m29 10h0m1-4h0m-165 13h0m21 16h0m18-16h0m8 0h0m15 20h0m5 3h0m1-8h0m11-10h0m9 11h0m18-1h0m27 7h0m1-10h0m-105 15h0m16 17h0m0-7h0m4 7h0m11-9h0m6 6h0m13 4h0m0-4h0m30-9h0m5 14h0m1 1h0m37-13h0m1-2h0m4-6h0m2 17h0m-102 7h0m12 9h0m2 0h0m7-2h0m8 0h0m6 1h0m15 12h0m12-13h0m14 2h0m1-5h0m3 7h0m4 8h0m1-5h0"/>
<path transform="scale(0.5)" stroke="#FAB28A" stroke-width="5.8" d="M1877 884h0m3-4h0m3 0h0m2 0h0m1 0h0m7-5h0m-76 35h0m3 0h0m0 0h0m1-1h0m3 2h0m4-4h0m2 1h0m1-3h0m6-3h0m10-6h0m1 1h0m-60 37h0m5-4h0m4 0h0m1 0h0m12-14h0m2 2h0m1-4h0m-37 36h0m3-7h0m0 8h0m0-2h0m6-6h0m0-5h0m308 21h0m5-15h0m-333 38h0m2-9h0m3-12h0m2 4h0m251 0h0m1 13h0m60-10h0m5-7h0m4 7h0m15 14h0m7-22h0m5 2h0m-358 41h0m0-15h0m94 10h0m16 5h0m10-6h0m19 6h0m0-1h0m2 2h0m65-8h0m0 5h0m12-12h0m2 6h0m6 9h0m3-17h0m1-3h0m4 13h0m10-9h0m82 1h0m-325 19h0m35 13h0m6-7h0m4 4h0m1-3h0m11 4h0m5-7h0m2-3h0m5 3h0m5 8h0m1-9h0m19 6h0m0-9h0m7 11h0m10-4h0m3 4h0m4-9h0m1 12h0m8 2h0m4 4h0m7 1h0m2-5h0m1-15h0m2 4h0m0-1h0m5 0h0m2 7h0m0 5h0m5-4h0m5 5h0m3 1h0m3-2h0m2-6h0m7 8h0m2-4h0m3 7h0m4-4h0m19-1h0m4 3h0m0-1h0m2-13h0m1 10h0m1-1h0m5 4h0m1-5h0m4 8h0m1-2h0m9-9h0m11-6h0m4 2h0m3 5h0m7-3h0m75 14h0m15-12h0m2-10h0m5 23h0m0-6h0m0-15h0m0 0h0m-311 22h0m99 1h0m17 6h0m7-7h0m5 2h0m4-1h0m11 6h0m2-3h0m2 9h0m3 0h0m2-4h0m0 2h0m8-7h0m5 7h0m5-1h0m4-2h0m3 3h0m3 1h0m1-10h0m1-1h0m2-1h0m25 14h0m1-9h0m2 0h0m1 3h0m10-8h0m64 22h0m1-21h0m2 14h0m12-2h0m-328 32h0m4-19h0m4 3h0m7 3h0m24 15h0m47-17h0m-75 36h0m5-2h0m13 6h0m17-8h0m3-2h0m15-4h0m17 4h0m4-11h0m32 20h0m34-17h0m2 12h0m9-4h0m13-3h0m0 0h0m0 9h0m8 3h0m3-3h0m17-5h0m2 7h0m7-1h0m5 3h0m-184 5h0m5-2h0m12 1h0m3 6h0m18-6h0m19 15h0m4 5h0m0 1h0m1-21h0m11 0h0m7 4h0m5-4h0m13 14h0m0 0h0m2 3h0m1-19h0m7 5h0m6 4h0m12 14h0m16-3h0m1 1h0m4-15h0m118 0h0m2-3h0m-249 23h0m11 2h0m6-3h0m15-1h0m0 4h0m11 2h0m7 5h0m11 0h0m11-10h0m1 4h0m15-5h0m25 17h0m168-5h0m1-6h0m42-4h0m6 4h0m1 3h0m1 1h0m13 5h0m4 1h0m4 5h0m-104 23h0m26-18h0m69 9h0m1 8h0m31-1h0m16 1h0m18 3h0m-174 8h0m104-6h0m7 7h0m11 2h0m42-7h0m10 5h0m9-4h0m5 2h0m2 11h0m1-2h0m-207 23h0m1-13h0m23 11h0m33-2h0m15-7h0m146 4h0m4 7h0m-216 31h0m8-11h0m4 3h0m5 6h0m30-1h0m26-14h0m23-3h0m3 8h0m88 11h0m38 1h0m-191 25h0m0 0h0m20-16h0m6 17h0m7-10h0m11 1h0m7 0h0m27 10h0m6-10h0m3-10h0m26 10h0m25-11h0m45 16h0m6-12h0m-188 22h0m23 5h0m7 6h0m1-7h0m13-2h0m9 15h0m39-15h0m8 1h0m2 16h0m23-16h0m-122 23h0m9-4h0m14 10h0m4-7h0m50 7h0m26 6h0m35-16h0m-100 33h0m13 3h0m10-7h0m37-2h0m2 18h0m2-20h0m2 19h0m18-5h0m0-11h0m6 13h0m14 0h0m10-6h0m-55 24h0m8-7h0m46-4h0"/>
<path transform="scale(0.5)" stroke="#F5936C" stroke-width="5.8" d="M1882 882h0m12-6h0m-37 18h0m1-4h0m2-1h0m4 0h0m-67 37h0m16-14h0m-38 45h0m1-6h0m287-15h0m-295 41h0m231 4h0m115-3h0m-354 26h0m2-20h0m92 23h0m127-2h0m23-9h0m68-9h0m-307 26h0m2 2h0m0-2h0m5 4h0m1 5h0m1-1h0m2 0h0m1 4h0m10-6h0m0-1h0m11 5h0m26-7h0m38 4h0m10-3h0m8-6h0m3 12h0m9 6h0m21-14h0m13 3h0m176 6h0m15-1h0m-266 29h0m101-15h0m28-1h0m-76 33h0m13-3h0m29 0h0m19 56h0m-68 15h0m328 47h0m19 2h0m14 7h0m-6 29h0m13-14h0m4 36h0m2-15h0m5 2h0m1 35h0m-79 10h0m-27 78h0"/>
<path transform="scale(0.5)" stroke="#EE7452" stroke-width="5.8" d="M1763 999h0m1 10h0m1 1h0m7 10h0m0-2h0m4 5h0m47 51h0m347 95h0"/>
<path transform="scale(0.5)" stroke="#DD4D38" stroke-width="5.8" d="M1763 1002h0m8 14h0"/>
</g>
<rect x="1184.9" y="527.7" width="16" height="83.5" fill="url(#cbg)" stroke="#9a8070" stroke-width="0.8"/>
<text x="1208.8" y="533.3" font-size="19.01">9</text>
<text x="1208.8" y="622.8" font-size="19.01">0</text>
<g fill="none" stroke-linecap="round">
<path transform="scale(0.5)" stroke="#CFCFCF" stroke-width="5.8" d="M2718 862h0m11 0h0m1 1h0m1 0h0m5-2h0m6-1h0m9 2h0m13-1h0m1 2h0m22-3h0m9 2h0m7 1h0m9 0h0m2-1h0m0 1h0m10-1h0m5 0h0m1 1h0m12 0h0m-181 23h0m2 1h0m0-2h0m4 0h0m1 0h0m2-1h0m5-5h0m5 1h0m3-4h0m2 2h0m0-2h0m1 0h0m2 0h0m1 0h0m3-1h0m1 1h0m0-9h0m3 4h0m0 0h0m1 1h0m1 0h0m0-1h0m1 4h0m2-5h0m4-6h0m3 6h0m0-6h0m0 6h0m3 5h0m0-10h0m1-1h0m0 7h0m0-7h0m1 1h0m1 10h0m1 0h0m1-8h0m2-2h0m0 4h0m0 7h0m1-8h0m1-2h0m1 0h0m4 6h0m0-4h0m5 8h0m0-9h0m2 6h0m0 4h0m0-5h0m1-4h0m0 0h0m1-3h0m3 12h0m3-5h0m1-6h0m0-1h0m0 6h0m1-4h0m1 3h0m1 0h0m4 2h0m0-4h0m2 3h0m4 4h0m2-1h0m3-5h0m1-2h0m0 8h0m1-10h0m1 1h0m7-1h0m3 4h0m3-1h0m0 5h0m2-5h0m2-4h0m1 7h0m6-5h0m3 2h0m0 5h0m0-2h0m1 1h0m0 0h0m0 3h0m0 5h0m1-7h0m0-6h0m0 6h0m0 10h0m1-13h0m0 4h0m2 7h0m2-15h0m0-2h0m1 19h0m0 2h0m0-4h0m1-14h0m1 13h0m1-15h0m1 18h0m1-10h0m0-1h0m0 9h0m1 3h0m1 0h0m4-14h0m3 2h0m5-6h0m1 3h0m5-5h0m1 2h0m2-1h0m2 7h0m3 0h0m2-3h0m7-5h0m1 9h0m0-1h0m2 2h0m7-7h0m2 3h0m1 1h0m0-4h0m2 6h0m1 3h0m3 1h0m1-11h0m2 2h0m5 13h0m5-2h0m-258 32h0m1 0h0m2-1h0m0-2h0m4-2h0m3 0h0m0 0h0m1-1h0m3 2h0m0-2h0m0 0h0m4-2h0m2 1h0m1-3h0m4-1h0m0 2h0m2-4h0m2 1h0m8-7h0m1 1h0m2 0h0m4-1h0m3-2h0m0 1h0m134-2h0m3 1h0m4-2h0m1 2h0m1 6h0m5 1h0m1-4h0m3-4h0m0 0h0m0 11h0m1-12h0m0 4h0m1 2h0m4 9h0m1 8h0m2-5h0m2-1h0m1 1h0m1 4h0m1-9h0m3 6h0m1 3h0m2-6h0m0 1h0m1-3h0m10 9h0m-256 24h0m1-1h0m3-4h0m5-4h0m1 0h0m1 2h0m2-1h0m0-5h0m0 2h0m0 2h0m1 0h0m0-3h0m1-2h0m1-1h0m0 2h0m3-2h0m5-7h0m2 1h0m0-2h0m2 2h0m74 14h0m128-3h0m15-12h0m0 15h0m1-15h0m4 1h0m5 2h0m2 3h0m0 15h0m0-4h0m2-7h0m0 0h0m1 0h0m2 0h0m1-1h0m1-6h0m5 9h0m1-3h0m1-2h0m3 3h0m2 3h0m2-1h0m1 7h0m0 0h0m0-8h0m1 10h0m0-3h0m2 3h0m4 0h0m1 1h0m-301 21h0m0 1h0m2-6h0m0 4h0m0-4h0m2 7h0m1-5h0m1-6h0m0-1h0m2 5h0m0-6h0m0-3h0m1-3h0m0 8h0m0-2h0m1-6h0m1 5h0m4-5h0m3-3h0m74 23h0m48-7h0m108 5h0m4-3h0m0 0h0m10-2h0m5 1h0m5-10h0m5-2h0m12-3h0m1-2h0m3 7h0m2-2h0m0 11h0m3 0h0m1-14h0m0 6h0m1-7h0m3 8h0m0 5h0m0 5h0m1-4h0m2 3h0m1 4h0m2 0h0m1 0h0m0-7h0m2-2h0m7 8h0m4-2h0m1-2h0m4-13h0m0 13h0m3 5h0m1-14h0m1 12h0m1-2h0m2-6h0m1 5h0m0 3h0m8 0h0m2 3h0m3-1h0m-358 22h0m0 1h0m1-1h0m2-2h0m2-9h0m0-9h0m1 13h0m4-12h0m198 18h0m11 4h0m0-5h0m0 2h0m1-1h0m1 0h0m1 1h0m2 0h0m0-3h0m1-4h0m4 10h0m0-6h0m1 3h0m0 2h0m2-9h0m1 6h0m1-2h0m3 0h0m1 1h0m0 0h0m1-1h0m1 3h0m21-19h0m1 13h0m2-10h0m17 9h0m2-11h0m0 13h0m6-4h0m15 0h0m0 7h0m1-13h0m1 8h0m1 6h0m1 0h0m0-5h0m0 8h0m1-9h0m0-2h0m0-9h0m1 2h0m0 2h0m0 17h0m2-7h0m1-3h0m0-6h0m1 8h0m1-15h0m0 3h0m0-3h0m1 4h0m1 3h0m0 11h0m2-9h0m2 1h0m1-6h0m9 0h0m2 7h0m6 5h0m6-1h0m0 3h0m0-18h0m1 18h0m0-3h0m0-5h0m3 1h0m1-10h0m2 15h0m0 3h0m0-5h0m2-12h0m1 5h0m2-2h0m2 3h0m0 1h0m2 14h0m1-14h0m0-2h0m0 9h0m1-5h0m1 5h0m1 7h0m0-3h0m0-8h0m1-1h0m1 7h0m-369 22h0m1-14h0m1 12h0m0 1h0m0 5h0m0-16h0m0-4h0m1 20h0m0-6h0m0-3h0m1 10h0m0-20h0m1 21h0m0-22h0m0 20h0m52 2h0m7 1h0m3-2h0m2 0h0m1 0h0m3-1h0m1 2h0m2 1h0m1-3h0m1 3h0m2-3h0m10-7h0m1 10h0m2 0h0m0-2h0m1 0h0m0-2h0m2-7h0m0-2h0m1 10h0m2-2h0m2-9h0m0 3h0m1 3h0m1-6h0m1 5h0m0 5h0m2-11h0m1 6h0m1 2h0m0 3h0m0-7h0m4 11h0m0-8h0m2 7h0m5-6h0m1 7h0m0 0h0m0-5h0m1 4h0m1-6h0m0-7h0m3 10h0m2-8h0m0-1h0m3 12h0m2-3h0m2-4h0m1 5h0m6-5h0m0-1h0m1-2h0m1 4h0m1 5h0m14 2h0m49-22h0m1 7h0m0 5h0m2 4h0m1-6h0m2-7h0m0 9h0m1-6h0m3 9h0m2-4h0m1 2h0m0-13h0m1 16h0m1-10h0m0-7h0m1 19h0m0-11h0m1-7h0m2 0h0m2 15h0m1-10h0m1 1h0m1 10h0m1-9h0m0 8h0m1 6h0m1-22h0m1 1h0m1 8h0m4-9h0m4 8h0m2-8h0m9 2h0m1 6h0m1 14h0m30 1h0m3-18h0m0 9h0m5-11h0m3 20h0m0-1h0m1-4h0m1 3h0m2 1h0m1-2h0m0-18h0m0 19h0m1-9h0m1 4h0m2-11h0m1-2h0m0 0h0m1-2h0m12 15h0m7 6h0m0-21h0m1 19h0m5-10h0m2-2h0m0 0h0m2 3h0m0 8h0m2-5h0m3-2h0m4 0h0m1 10h0m1-15h0m2 13h0m1-12h0m0-5h0m0 15h0m0 2h0m0 1h0m1-9h0m0-6h0m2 13h0m1 1h0m0 2h0m0-21h0m0 19h0m0 2h0m1-14h0m1 15h0m4-18h0m3 15h0m1-17h0m0 7h0m1 0h0m0-5h0m3 14h0m0 3h0m-365 3h0m2 2h0m0-2h0m1 4h0m3-1h0m1 4h0m0-3h0m0 1h0m1 4h0m1-1h0m1 4h0m0-4h0m1 2h0m0-2h0m1 4h0m0 9h0m5-9h0m1 7h0m3-9h0m1-6h0m0 2h0m0-1h0m1 7h0m2 9h0m4-12h0m1 1h0m3 0h0m0-2h0m1 14h0m5-22h0m0 1h0m1 3h0m0 15h0m3-14h0m1-3h0m0 8h0m3-4h0m0-6h0m1 8h0m5-9h0m1 23h0m1-16h0m3-2h0m1-3h0m0 2h0m1-4h0m2 0h0m2 7h0m3-7h0m2 7h0m1-6h0m0-1h0m2 8h0m0 13h0m1-16h0m0-3h0m5 3h0m5-1h0m1-2h0m5 6h0m3-6h0m0 3h0m3 0h0m2 3h0m0-2h0m1 0h0m1 1h0m1-5h0m1 19h0m5-12h0m1 2h0m0-10h0m0 4h0m1 3h0m1-5h0m1-3h0m2 7h0m4 4h0m1-1h0m0 13h0m1-12h0m3-2h0m4 6h0m0-3h0m1-12h0m1 17h0m0-11h0m2 11h0m0-1h0m6-9h0m0 13h0m1-3h0m0-7h0m1-7h0m1 9h0m1 9h0m0-21h0m2 5h0m0-4h0m0-1h0m0 3h0m2 9h0m3-12h0m0 7h0m1-7h0m1 7h0m0 0h0m0 9h0m0-13h0m0 9h0m4 1h0m1-5h0m1 3h0m3-5h0m1 7h0m3-7h0m0 8h0m1 2h0m0-8h0m1 12h0m0 1h0m0-11h0m1 2h0m1 2h0m0-10h0m1 2h0m1 1h0m1 15h0m1-5h0m1-12h0m2 12h0m0 4h0m1-7h0m0 0h0m0 5h0m2-9h0m1 11h0m2-7h0m0 3h0m3-1h0m1 1h0m0-4h0m1 7h0m4-15h0m3 15h0m0-11h0m1 13h0m1-4h0m2-1h0m1-3h0m0-6h0m4 2h0m0-8h0m2 10h0m1 4h0m2 5h0m1-6h0m0-1h0m1-9h0m1 15h0m0-19h0m1 17h0m0-7h0m1 3h0m0-4h0m1 1h0m2 12h0m0-4h0m1-6h0m0 3h0m1-2h0m0-11h0m1 13h0m0-7h0m0-6h0m1 0h0m3 14h0m0-14h0m1 12h0m1 1h0m0-8h0m0 14h0m1-7h0m0 6h0m2-1h0m5-14h0m3 8h0m4 1h0m1-10h0m3-5h0m1 10h0m3-8h0m3 5h0m2 5h0m5-8h0m1 10h0m3 5h0m4-16h0m1 17h0m14-18h0m5 15h0m0 0h0m2 3h0m2-13h0m2-2h0m0 8h0m0-9h0m1 3h0m1 4h0m1-8h0m1 9h0m5-9h0m25 5h0m1 6h0m2-7h0m0 3h0m1-9h0m1 20h0m1 0h0m0-18h0m1 15h0m1 0h0m2 4h0m2-2h0m1-3h0m0 1h0m2 4h0m0-7h0m0-3h0m0-5h0m1 5h0m0-10h0m1 6h0m1 12h0m2-8h0m1-2h0m1-4h0m1 4h0m0 9h0m1 4h0m1-21h0m1-2h0m1 10h0m0-9h0m1 22h0m0-15h0m1 11h0m0-6h0m0-12h0m1 10h0m1-4h0m3-2h0m0-1h0m0 3h0m1-6h0m3 7h0m0-5h0m-354 43h0m12 0h0m7 1h0m1-23h0m1 10h0m5 5h0m3-11h0m2 16h0m6-2h0m2-16h0m2 1h0m0 18h0m2-3h0m1 4h0m1-2h0m0 1h0m5-7h0m1-2h0m5-3h0m9 13h0m6-6h0m1 4h0m2-17h0m1 15h0m2-15h0m1 3h0m2 10h0m4-5h0m1-5h0m9 8h0m15 7h0m15-20h0m2 0h0m3 20h0m0-7h0m1-13h0m2 4h0m5 9h0m4-12h0m6 3h0m3-2h0m1 3h0m3-3h0m1 0h0m5 2h0m11-2h0m2 5h0m1-5h0m3 0h0m1 3h0m0-4h0m0 3h0m1-5h0m1 0h0m1 9h0m0-8h0m3 7h0m0 1h0m0 10h0m2-14h0m0 2h0m2-1h0m6-6h0m1 2h0m0 17h0m1-19h0m3 7h0m0-6h0m0 1h0m1 3h0m2-5h0m1 1h0m1 10h0m0-5h0m4-2h0m1-4h0m0 7h0m1 1h0m1-1h0m2-2h0m1 3h0m0-4h0m1 3h0m1-5h0m2-2h0m1 7h0m8 2h0m2 3h0m3-11h0m8 3h0m1-1h0m2 7h0m1-9h0m2 0h0m0 3h0m1 0h0m5 6h0m10-6h0m1-3h0m0 4h0m2-1h0m2-1h0m5-3h0m28 12h0m4 4h0m0-7h0m1 4h0m1-6h0m1 0h0m4 0h0m1 0h0m2-2h0m1 3h0m0-6h0m2 14h0m1-15h0m1 3h0m1 0h0m1 3h0m0 11h0m0-16h0m1-1h0m0 1h0m1 0h0m0 1h0m1 8h0m2-11h0m4 13h0m1-1h0m2 0h0m2-4h0m0-5h0m1 2h0m0 4h0m2-7h0m-340 31h0m3-5h0m2-1h0m1 6h0m0-8h0m0 1h0m1 13h0m1-7h0m2-3h0m0 12h0m0-4h0m2-10h0m2 18h0m0-20h0m0 4h0m1 2h0m3-5h0m0-1h0m0 0h0m1 21h0m1-19h0m4-1h0m1 2h0m1 0h0m2 1h0m2 8h0m1-5h0m0-2h0m2 13h0m0-10h0m4 9h0m0 2h0m5 2h0m0-4h0m5-17h0m2 20h0m0 2h0m0-4h0m3 4h0m0-3h0m1-15h0m1 9h0m4-6h0m1-6h0m0 6h0m1-7h0m3 7h0m1 6h0m1-9h0m2 0h0m0 10h0m1-11h0m1-1h0m0 12h0m4-8h0m0-4h0m1-3h0m1 2h0m2 16h0m3-11h0m6 1h0m1 4h0m1-5h0m7 14h0m1-19h0m10 14h0m3-16h0m4 6h0m3-2h0m8-4h0m6 3h0m2 6h0m1 13h0m2-13h0m6 2h0m0 1h0m7-6h0m1 5h0m2 0h0m1-6h0m18 0h0m7 1h0m2 5h0m11 11h0m4-16h0m1 13h0m2-11h0m7 9h0m14 2h0m1 4h0m1-20h0m0 14h0m0-3h0m1 1h0m0 6h0m2-5h0m1-1h0m1 5h0m2-1h0m2 1h0m1 3h0m2-7h0m2 6h0m-225 3h0m5 2h0m0 4h0m4 0h0m0 5h0m0-11h0m2 10h0m0-11h0m1 14h0m0-4h0m1-9h0m1 4h0m0 7h0m1-7h0m0 11h0m0-6h0m2-10h0m0 12h0m1-6h0m0-3h0m1 19h0m1-1h0m3 1h0m1 1h0m1-19h0m1 16h0m2-9h0m1 4h0m0-12h0m1 16h0m0-1h0m1-7h0m1 12h0m0-18h0m0 12h0m0-10h0m2 16h0m1-7h0m1 7h0m1-6h0m0 3h0m1-2h0m0 2h0m0-14h0m1-6h0m0 21h0m1 0h0m1-18h0m1 10h0m0-8h0m1 5h0m0-5h0m0-1h0m0 4h0m1 6h0m2 5h0m1-9h0m1-3h0m1 0h0m1 1h0m0-7h0m1 21h0m1-9h0m1 0h0m1-5h0m0 1h0m0 13h0m1-2h0m0-12h0m1-5h0m0 12h0m0 0h0m1 3h0m0-15h0m2 3h0m1 6h0m2 9h0m1 0h0m0-15h0m2 16h0m0-18h0m1 2h0m1 7h0m0-3h0m4 4h0m1 8h0m1-14h0m0 2h0m1 6h0m1-12h0m1 2h0m0 16h0m2-11h0m1 9h0m2-6h0m0 3h0m1-9h0m0-1h0m1 13h0m2-6h0m2-8h0m4 16h0m1-9h0m3-1h0m0 8h0m1 2h0m3-1h0m1-2h0m0-7h0m2 11h0m1-6h0m0-9h0m4 14h0m0-9h0m0 6h0m2-9h0m0-2h0m0 14h0m3-3h0m1-1h0m4-3h0m0 0h0m1 2h0m0-9h0m1 7h0m0 7h0m0-13h0m6 10h0m0-10h0m0 12h0m1-10h0m4-5h0m0 2h0m3 3h0m1-4h0m1 9h0m0-11h0m0 15h0m2-7h0m1-5h0m1 6h0m0 7h0m1-2h0m1-9h0m1 13h0m1-15h0m1 15h0m1-21h0m2 10h0m0-6h0m0 11h0m0 1h0m1 2h0m1-5h0m1-13h0m1 13h0m0 6h0m1-21h0m2 22h0m0-4h0m0-6h0m1 9h0m1-5h0m0 2h0m1-10h0m2-4h0m1 8h0m0-12h0m0 16h0m0-1h0m1-12h0m1-1h0m0-2h0m1 8h0m0-1h0m2 9h0m1-6h0m3-8h0m1 15h0m0-13h0m0 13h0m0-7h0m0-6h0m1 0h0m0 6h0m0-4h0m0 9h0m4-15h0m0 20h0m1-2h0m0-13h0m0 0h0m0 9h0m2 6h0m3-2h0m0 4h0m0-11h0m0 9h0m0-4h0m1-7h0m2 4h0m0 4h0m0-5h0m3 2h0m0 9h0m1-9h0m1-14h0m3 16h0m0-3h0m2 6h0m1-4h0m1 2h0m0-6h0m2 6h0m2-9h0m1-1h0m0-5h0m1 9h0m1 10h0m0-16h0m1 4h0m2 14h0m0-7h0m1-1h0m0 0h0m3-7h0m0-4h0m0 10h0m2-5h0m0 11h0m1-5h0m1-6h0m1-5h0m2 11h0m0-12h0m1 4h0m0 11h0m1-11h0m0 6h0m0-12h0m1 2h0m1 3h0m0-5h0m1 3h0m1 2h0m1-1h0m0 3h0m0-6h0m77 21h0m-280 4h0m8-1h0m1 8h0m2-7h0m0 8h0m1-3h0m1-2h0m0 1h0m1-7h0m2 16h0m1-9h0m3 2h0m1 4h0m0 1h0m0-3h0m4-5h0m1 1h0m0-2h0m1 12h0m1-3h0m0-3h0m3 11h0m2-9h0m0 9h0m0-18h0m0 11h0m1-4h0m1 12h0m0-10h0m0 3h0m1 5h0m0-18h0m1-3h0m1 21h0m0-7h0m1 7h0m1-8h0m0 1h0m1 8h0m1-17h0m0 3h0m2-7h0m2 1h0m0-2h0m1 7h0m1 14h0m4-8h0m2 8h0m0 1h0m3-8h0m0 1h0m0-3h0m2-10h0m0 13h0m2-13h0m1-1h0m0 0h0m0 1h0m1 18h0m1-20h0m0 5h0m1 6h0m1-6h0m1 7h0m3 1h0m1-10h0m0 13h0m1-10h0m2 15h0m0-3h0m0 1h0m1 0h0m1-2h0m0 4h0m0 2h0m2-6h0m0 1h0m0-9h0m1 1h0m0-3h0m1 12h0m0-7h0m1-12h0m3 0h0m1 14h0m1-12h0m0 10h0m1 4h0m0-2h0m1-5h0m2-5h0m0 3h0m1 15h0m0-13h0m0 5h0m1 1h0m0 7h0m1 1h0m0-21h0m1 14h0m1-7h0m1-5h0m0-2h0m0 13h0m1 5h0m0-13h0m0-6h0m1 18h0m1-14h0m0 7h0m1 11h0m1-4h0m2 2h0m0-7h0m0-1h0m0-9h0m0 7h0m0-5h0m0 12h0m1 4h0m0-12h0m1 12h0m0-11h0m1 4h0m0-4h0m1 4h0m0-11h0m1 10h0m2 6h0m0-3h0m1-13h0m0 8h0m0 4h0m0-13h0m0 9h0m0-12h0m1 10h0m0-2h0m1 7h0m2-12h0m1 17h0m1-14h0m2 14h0m2-17h0m0-2h0m1 15h0m1 5h0m1-2h0m0 3h0m1-11h0m0 3h0m1-2h0m1-7h0m1 11h0m0-11h0m1-2h0m0 2h0m1-2h0m1 10h0m0-8h0m0 10h0m1-6h0m0 0h0m0-9h0m1 11h0m0-5h0m0 11h0m1-17h0m2 12h0m0-6h0m0 17h0m1 0h0m0-12h0m0-7h0m2 16h0m0-1h0m2-16h0m0 9h0m1 6h0m0-14h0m2 13h0m3 0h0m2-17h0m1 23h0m0-14h0m0 12h0m0-5h0m2-15h0m1 8h0m0 1h0m1 9h0m1-7h0m0 4h0m0 5h0m0-17h0m1 13h0m0-4h0m1 8h0m0-11h0m0 2h0m3-10h0m1 15h0m3-9h0m2 1h0m0 5h0m1-7h0m5 5h0m2-6h0m1-6h0m0 3h0m1 5h0m0-6h0m99 7h0m0-3h0m1-1h0m1-2h0m1-1h0m1 8h0m0-2h0m2 10h0m1-6h0m0 4h0m1-7h0m1-1h0m11 3h0m13 2h0m7 8h0m2-2h0m5 0h0m2-10h0m0-2h0m0 1h0m0 0h0m0-4h0m1 4h0m28 12h0m2 2h0m1-3h0m-319 6h0m3 2h0m0-2h0m1 2h0m1-3h0m6 3h0m1 2h0m2-3h0m2 1h0m0-3h0m1 3h0m2 1h0m2 2h0m1-5h0m2 4h0m1 0h0m1-3h0m0-2h0m4 7h0m1-3h0m5 3h0m1-5h0m1 1h0m6 4h0m5-2h0m6 2h0m6-2h0m5 3h0m0-4h0m1-3h0m0 4h0m1-3h0m3 3h0m13-3h0m1-1h0m3 0h0m6 3h0m2 1h0m0-3h0m2 0h0m1-1h0m1 4h0m1-5h0m1 4h0m0 0h0m4-2h0m1 11h0m5-13h0m16 5h0m3-2h0m7 11h0m99 1h0m1-3h0m1-9h0m0 16h0m1 2h0m0-18h0m2-1h0m0 14h0m1 5h0m0-16h0m2 2h0m17 12h0m2-4h0m1 5h0m3-1h0m0 3h0m1 0h0m0-3h0m3-11h0m3 0h0m1-6h0m4 0h0m1 1h0m3 2h0m40-3h0m1 3h0m1 1h0m11 2h0m1 4h0m1-6h0m0 5h0m3 4h0m1-3h0m2 1h0m0 1h0m2 3h0m1 5h0m6-8h0m2 5h0m0 0h0m2 0h0m3 3h0m1 1h0m2-1h0m2-2h0m2 2h0m-207 8h0m18 0h0m7 12h0m1-9h0m1-4h0m1 11h0m0-2h0m2-8h0m4 15h0m1 1h0m6-3h0m2 3h0m29-1h0m0-2h0m2-5h0m0 0h0m1 5h0m1-3h0m0 6h0m1-18h0m2 1h0m2-4h0m1 18h0m0-3h0m2 1h0m2-7h0m1 6h0m5-9h0m2 3h0m4-4h0m0 2h0m64 0h0m1-1h0m1 6h0m2-4h0m7 11h0m0-7h0m0-11h0m2 9h0m1-8h0m1 4h0m0 6h0m0 5h0m1-3h0m2-8h0m4 15h0m3-2h0m1 0h0m0-3h0m0-7h0m2 9h0m1-13h0m3 17h0m1-13h0m0 0h0m2 9h0m1-16h0m0 0h0m0 14h0m3-12h0m0 17h0m2-4h0m3-11h0m1-7h0m1 2h0m1-2h0m0 14h0m1-11h0m0 6h0m2 6h0m3-3h0m0 2h0m2-2h0m0 6h0m1-2h0m1 6h0m2-7h0m0-1h0m2 9h0m1-9h0m1 1h0m1 4h0m1-8h0m1 12h0m2-4h0m2 2h0m0-5h0m0-2h0m1 8h0m0-9h0m0 6h0m1 4h0m2-3h0m3 0h0m1-6h0m3 4h0m1 0h0m0 1h0m2 3h0m2 0h0m0-5h0m3 2h0m0 3h0m1 1h0m-221 2h0m3-1h0m7 5h0m1-5h0m5 20h0m4 1h0m3 0h0m0-1h0m4 2h0m8-11h0m2-1h0m1-8h0m1 1h0m0 4h0m3-5h0m4 11h0m7 3h0m3-3h0m1 4h0m1 4h0m1-4h0m6 6h0m0-1h0m2 0h0m26-8h0m1 8h0m7-8h0m0 5h0m6-3h0m42-13h0m2-1h0m0 0h0m4 2h0m5 1h0m8 4h0m2-8h0m2 8h0m6 13h0m3-11h0m1 1h0m1-4h0m0 1h0m1 5h0m1-10h0m1 1h0m4 7h0m1-5h0m1-6h0m2 9h0m3-6h0m4-2h0m1 1h0m2-1h0m0-2h0m0 10h0m2 0h0m1-6h0m0 10h0m0 6h0m2-19h0m0 21h0m0-6h0m1-15h0m0 18h0m2-18h0m0 2h0m1-3h0m1 7h0m1 0h0m1-6h0m0-1h0m0 6h0m1-5h0m0 5h0m1-2h0m1-3h0m0 11h0m1-3h0m1-4h0m0 7h0m2-11h0m0 14h0m1-3h0m1 1h0m0-2h0m1-10h0m0 2h0m2 9h0m1 7h0m0-9h0m1 3h0m0-2h0m1 9h0m0 2h0m0-13h0m4 10h0m1-4h0m1 6h0m1-3h0m3-6h0m1 6h0m0 0h0m1 5h0m3 0h0m-233 14h0m1 9h0m0-22h0m2 0h0m1 18h0m0-15h0m0 17h0m3-15h0m1 2h0m1 2h0m0 2h0m3-10h0m0 18h0m0-17h0m1 5h0m0 5h0m1 4h0m2-7h0m1 2h0m3-6h0m0 6h0m1-9h0m1 9h0m0-2h0m1 9h0m2-11h0m2-4h0m0-1h0m1 13h0m1-5h0m0-10h0m0 3h0m0 2h0m1 17h0m0-19h0m1 13h0m2 4h0m0-13h0m0-6h0m0 21h0m1-18h0m0 10h0m1-8h0m0 5h0m0-10h0m0 20h0m1-5h0m1 1h0m1 3h0m1-5h0m2 6h0m0-17h0m1 16h0m1-19h0m1 9h0m0 8h0m5-4h0m1 7h0m3-6h0m0 7h0m0-17h0m2 11h0m0-2h0m3 1h0m2 0h0m3-2h0m0 7h0m3-15h0m1-1h0m1 19h0m1-11h0m1-4h0m2 13h0m1-3h0m2-14h0m2 18h0m1-3h0m2-19h0m1 20h0m0-19h0m7 22h0m6-11h0m1 5h0m4-3h0m1-14h0m6 3h0m1 8h0m4 9h0m7-10h0m8-8h0m0 20h0m4-21h0m1 11h0m4 8h0m1-8h0m9 8h0m5 0h0m3 2h0m13 0h0m4-1h0m3-18h0m17 8h0m21 7h0m7-4h0m1-14h0m1 0h0m0 17h0m1-16h0m1 1h0m0 17h0m1-16h0m1 1h0m2 13h0m0-2h0m1-13h0m1 6h0m0 15h0m1-23h0m2 9h0m1-7h0m1-2h0m2 16h0m2 7h0m1-2h0m-236 8h0m0-5h0m0 6h0m2 7h0m1 4h0m4 3h0m1-1h0m0-19h0m0 5h0m1 7h0m1 5h0m0 1h0m2 4h0m0-1h0m1-5h0m0-3h0m0 3h0m1-7h0m1-4h0m0-3h0m0 17h0m1 3h0m0-12h0m1 13h0m0-19h0m0 14h0m4-17h0m0 4h0m1 13h0m2 2h0m0-5h0m1-7h0m1 10h0m0-4h0m1-7h0m1-7h0m0 13h0m2-11h0m0 12h0m1-5h0m0-6h0m0 19h0m1-21h0m1 9h0m0 3h0m3 9h0m0-1h0m2-3h0m0-14h0m2 11h0m0 0h0m2-8h0m0 15h0m2-20h0m0 8h0m1 9h0m2 4h0m0-4h0m1-16h0m1 7h0m1 8h0m1-9h0m0 1h0m1-3h0m1 3h0m0-8h0m1 18h0m0-1h0m0-9h0m0 3h0m1-13h0m0 13h0m1-6h0m0 9h0m0-10h0m0 4h0m1 3h0m0 8h0m1-10h0m0 10h0m1-20h0m0 6h0m1 6h0m3-2h0m0 2h0m1 0h0m0 0h0m0-8h0m0 18h0m1-1h0m1-10h0m0 2h0m0-5h0m1 5h0m0 1h0m1 8h0m2-6h0m1-5h0m1 9h0m1-18h0m1-2h0m1-1h0m1 21h0m0-3h0m0-6h0m2-5h0m2-4h0m0 11h0m1-4h0m3-6h0m0 18h0m1-13h0m0 4h0m0-4h0m3 1h0m1-6h0m0 2h0m1 5h0m0 3h0m0-11h0m1 20h0m0 0h0m1-8h0m0 8h0m0-17h0m0 6h0m1-5h0m5 15h0m0-8h0m2-11h0m1 16h0m2 1h0m2 2h0m3-4h0m0 1h0m2 2h0m2-17h0m3 19h0m2-22h0m7 19h0m3 3h0m2-3h0m5 3h0m13-22h0m8-1h0m7 20h0m3 1h0m2-14h0m12 1h0m0 6h0m1-14h0m5 22h0m9-22h0m6 15h0m2 5h0m4-4h0m14-9h0m1-7h0m5 16h0m1-8h0m0 7h0m1-14h0m1 7h0m0 6h0m4-11h0m0 0h0m2 16h0m0 3h0m2-11h0m0-1h0m0-8h0m1 17h0m0-3h0m-230 9h0m11 9h0m1 5h0m2 2h0m1-5h0m0-1h0m0 4h0m1-1h0m1 3h0m2-7h0m1-9h0m0 15h0m0 5h0m0-12h0m1 3h0m1-4h0m1 4h0m2-10h0m0 10h0m1-4h0m0-4h0m1 16h0m0 3h0m1-15h0m0-3h0m1-4h0m0 6h0m1-3h0m1 15h0m0-2h0m1 4h0m2-5h0m0-16h0m2 8h0m1 0h0m2 9h0m0 0h0m1-17h0m1 23h0m2-6h0m0-14h0m3 20h0m0-14h0m1-4h0m1 10h0m0-9h0m1 15h0m1-16h0m3 4h0m0 13h0m1-16h0m1 13h0m0-3h0m0 5h0m1-10h0m1-8h0m2-2h0m0 9h0m0-1h0m1-1h0m1-6h0m0 19h0m0-9h0m1 4h0m1-2h0m1 8h0m0-6h0m1 2h0m1 4h0m0-13h0m0-5h0m1 7h0m0 12h0m1-1h0m1-13h0m2-2h0m1 1h0m0 8h0m1-14h0m6 18h0m1-4h0m1-5h0m2-2h0m0 14h0m2-15h0m0-5h0m2 19h0m0-20h0m2 4h0m0 10h0m0-9h0m1 2h0m0 14h0m1-16h0m1 6h0m1-13h0m1 15h0m0 4h0m4 4h0m1-15h0m1 14h0m1-4h0m0-5h0m1-9h0m1-1h0m1 17h0m0-15h0m1 14h0m1-2h0m2 6h0m0-21h0m1 10h0m1-6h0m1 7h0m0-6h0m2 16h0m1-18h0m3 14h0m2 2h0m0-6h0m1-15h0m0 4h0m0-3h0m0 4h0m1 3h0m0 2h0m0-3h0m1 5h0m0-8h0m1 5h0m0-4h0m1 16h0m0-5h0m0-7h0m1 3h0m1 7h0m2-4h0m0-1h0m0 8h0m4-17h0m0 8h0m2-8h0m3 4h0m5 9h0m0-5h0m0-1h0m1 11h0m4-10h0m0 4h0m5 3h0m0-11h0m2 8h0m0-12h0m3 14h0m1 4h0m3-2h0m10-7h0m4 0h0m2 0h0m4-3h0m14 4h0m23-5h0m1 13h0m3-9h0m1-9h0m0 6h0m0-7h0m0 18h0m1-17h0m0 2h0m0 0h0m2 7h0m0-6h0m2-6h0m-205 26h0m3 2h0m5 8h0m2 0h0m0-9h0m0 5h0m1 5h0m1-2h0m0-9h0m1 8h0m1-7h0m2 0h0m1-5h0m1 6h0m2-1h0m1 13h0m1-15h0m1 10h0m2-7h0m1 10h0m2-7h0m0-6h0m0 8h0m1 11h0m1-2h0m0-10h0m4 5h0m2-13h0m1 12h0m1-7h0m2-2h0m2 13h0m2-16h0m1 15h0m0-10h0m2 4h0m1-7h0m1 15h0m1-18h0m1 3h0m1-3h0m0 16h0m0 1h0m1-1h0m2-17h0m2 0h0m1 16h0m1-7h0m0 12h0m0-12h0m0-1h0m1 2h0m1-8h0m1 6h0m0 2h0m2 3h0m0-2h0m0 11h0m1-21h0m0 5h0m1 15h0m1-11h0m1 9h0m0-12h0m0 9h0m1 4h0m0-18h0m0 19h0m1-13h0m0 11h0m0-2h0m3-2h0m0-15h0m4 20h0m1-20h0m0 22h0m1-19h0m1 16h0m1 4h0m0-18h0m0 2h0m1 16h0m0-11h0m0 0h0m1-7h0m1 11h0m1-5h0m0-2h0m1 11h0m2-9h0m0-10h0m0 10h0m2-9h0m3 18h0m1 1h0m1 1h0m1-16h0m0 7h0m1 0h0m0-5h0m1 2h0m4 9h0m2-17h0m1 15h0m1-11h0m2-3h0m1-1h0m1-2h0m1 1h0m3 10h0m2 12h0m1-20h0m0 4h0m0-2h0m0-4h0m0 15h0m1-4h0m1-4h0m0 11h0m1 0h0m0-5h0m3-5h0m0 13h0m0-1h0m1-21h0m5 12h0m2 1h0m0 4h0m1-16h0m0 14h0m1-5h0m0 13h0m0-16h0m2 3h0m1-9h0m1 18h0m3-17h0m0-2h0m0 19h0m1-17h0m0 12h0m1-4h0m0-7h0m1 9h0m1 6h0m0-3h0m0 7h0m1-1h0m1-12h0m1 7h0m0 5h0m2 0h0m0-3h0m1-3h0m1 5h0m1-4h0m1 7h0m0-10h0m2-1h0m2 10h0m1 0h0m7-21h0m16 19h0m8-18h0m5 9h0m1-4h0m0 2h0m0-6h0m1 15h0m1-13h0m0 8h0m1-5h0m2-5h0m-180 23h0m7 2h0m3 5h0m2-9h0m2 0h0m3 1h0m1 15h0m4-2h0m0 5h0m1-6h0m0-5h0m0-5h0m1 5h0m0-1h0m2 1h0m1-7h0m1-1h0m1 4h0m2 8h0m3 10h0m3-22h0m0 4h0m2 19h0m1-16h0m9 10h0m2-6h0m0 6h0m1-6h0m0-3h0m0-3h0m0 0h0m1 16h0m1-9h0m0-8h0m1 14h0m0 2h0m0-17h0m2 10h0m0-10h0m0 20h0m1-20h0m0 12h0m1 6h0m0-3h0m1 3h0m4-13h0m0 12h0m1-11h0m2-5h0m1 11h0m2-9h0m0 10h0m1-16h0m1 12h0m0 4h0m1 1h0m1-15h0m0 7h0m3 10h0m0-11h0m1 2h0m0 1h0m2-3h0m0-1h0m0 16h0m1-1h0m0-6h0m5 7h0m0-14h0m1-3h0m2-5h0m0 22h0m1-5h0m1-3h0m3-11h0m1 11h0m0 5h0m1-19h0m0 3h0m2 8h0m0 2h0m0-1h0m0 1h0m1-11h0m1 11h0m2 9h0m1-9h0m1 8h0m0 0h0m2-6h0m0-11h0m1 0h0m3 4h0m2-9h0m0 18h0m1-1h0m2 2h0m1-8h0m2-11h0m2 3h0m2 8h0m0-1h0m1 0h0m0 5h0m2-2h0m2-9h0m0-2h0m1 2h0m2 13h0m0 1h0m1-2h0m1-7h0m0 11h0m1 3h0m0-8h0m0 0h0m0-4h0m2-4h0m1 8h0m1 0h0m2 4h0m1-14h0m2-1h0m0 14h0m1 0h0m1-10h0m1 3h0m0-9h0m0 12h0m2 6h0m1-1h0m1-1h0m0-14h0m1 0h0m1 17h0m2 0h0m0-4h0m1 1h0m1 1h0m1-6h0m1 1h0m3 0h0m0 8h0m3-8h0m1 4h0m3 4h0m3-13h0m2 13h0m0-6h0m0 6h0m2-6h0m0-15h0m2 8h0m1 6h0m0-4h0m-144 15h0m2 4h0m0-4h0m0 2h0m3 3h0m1-4h0m2 5h0m0-6h0m2 8h0m1-3h0m1-3h0m1 5h0m1 1h0m2 6h0m2-6h0m0-9h0m2 13h0m1-14h0m1 16h0m0-7h0m1 9h0m1 2h0m1-4h0m0-6h0m0 12h0m1-6h0m1-3h0m1-10h0m0 9h0m0-9h0m2 19h0m1-8h0m2-13h0m0 18h0m1 3h0m0-13h0m1 4h0m0 9h0m0 0h0m1-15h0m1-3h0m0 3h0m1 2h0m1 8h0m0-15h0m2 15h0m2-4h0m1-13h0m0 19h0m2-2h0m0-13h0m4 8h0m1 7h0m1 1h0m0-8h0m1-1h0m1 5h0m0 3h0m1-19h0m1 17h0m0-4h0m1 6h0m0-7h0m1-1h0m2-9h0m0 11h0m2-13h0m0 11h0m0-2h0m1 3h0m0-4h0m1 13h0m1-20h0m0 18h0m0-16h0m0 12h0m1-8h0m1 12h0m0-3h0m1-11h0m1 13h0m2 0h0m2-2h0m1 0h0m1-7h0m0-6h0m1 15h0m0-1h0m0-5h0m0 9h0m1-14h0m1 14h0m1 0h0m0 0h0m2 0h0m0-11h0m2 12h0m0-10h0m2 2h0m1-10h0m1 12h0m2-3h0m0 2h0m0-13h0m2 16h0m0 1h0m1 0h0m3-2h0m0-2h0m6 5h0m0-13h0m1 6h0m0-7h0m4 5h0m0 4h0m2-3h0m1 3h0m1-15h0m0 11h0m0 2h0m1-1h0m1-4h0m0-4h0m1 0h0m0 12h0m1 5h0m1-21h0m0 6h0m0 3h0m0 14h0m1-11h0m1-8h0m1 4h0m0-2h0m0 16h0m1-6h0m0-7h0m0 8h0m1 2h0m1-15h0m1 16h0m0-5h0m2 1h0m0-6h0m2 5h0m0 8h0m2-11h0m0-4h0m1-5h0m0 3h0m0-3h0m1 1h0m0 3h0m4 3h0m2 8h0m0-3h0m0-8h0m2 8h0m0 8h0m2-14h0m0 8h0m1-6h0m1-7h0m0-2h0m2 6h0m-105 17h0m5 5h0m1-6h0m0 9h0m1-2h0m2 0h0m0-7h0m3 0h0m3 5h0m1 0h0m3 6h0m1-1h0m1-2h0m2 4h0m1-7h0m0-2h0m1 6h0m5-4h0m0 7h0m0-6h0m3-4h0m0 0h0m1 10h0m1 6h0m2-17h0m2 0h0m1 1h0m1 12h0m2 0h0m0-10h0m1 11h0m1 3h0m1 0h0m0-9h0m0 4h0m2-6h0m0-5h0m0 15h0m5-8h0m0-8h0m0 19h0m0-8h0m2-10h0m1 14h0m1-13h0m0-1h0m0 10h0m0 3h0m0-10h0m2-1h0m0-2h0m1 2h0m0 17h0m0-6h0m1 5h0m2-6h0m0-3h0m0-5h0m1 8h0m1-9h0m0-5h0m3 15h0m2-3h0m1-5h0m1-5h0m1 15h0m2-4h0m0-4h0m0 14h0m4-10h0m0-7h0m0 11h0m1-4h0m0-1h0m3-10h0m0 2h0m1 2h0m0 6h0m1 3h0m0 5h0m0 0h0m1-19h0m1 10h0m3 2h0m3-5h0m3 2h0m0-2h0m1 4h0m-35 15h0m1-3h0"/>
<path transform="scale(0.5)" stroke="#8B0A12" stroke-width="5.8" d="M2887 978h0m-238 26h0m-57 14h0m25-3h0m2 12h0m10-13h0m67 3h0m9 8h0m10-5h0m161-2h0m-252 42h0m143-4h0m-172 44h0m9-11h0m31 13h0m54 1h0m22 0h0m17-3h0m44 1h0m22-20h0m-155 44h0m30-18h0m33 2h0m20 17h0m35-5h0m10-10h0m-114 22h0m22-3h0m17 4h0m39 1h0m154 3h0m115 13h0m-11 21h0m25-2h0m13 18h0m19 0h0m-203 36h0m71 13h0m63 9h0m-11 31h0"/>
</g>
<rect x="1586.4" y="525.7" width="16" height="83.5" fill="url(#cbg)" stroke="#9a8070" stroke-width="0.8"/>
<text x="1610.3" y="531.3" font-size="19.01">1</text>
<text x="1610.3" y="620.8" font-size="19.01">0</text>
<g fill="none" stroke-linecap="round">
<path transform="scale(0.5)" stroke="#CFCFCF" stroke-width="5.8" d="M3517 862h0m11 0h0m1 1h0m1 0h0m5-2h0m6-1h0m9 2h0m13-1h0m1 2h0m22-3h0m9 2h0m7 1h0m9 0h0m2-1h0m0 1h0m10-1h0m5 0h0m1 1h0m12 0h0m-181 23h0m2 1h0m0-2h0m4 0h0m1 0h0m2-1h0m5-5h0m5 1h0m3-4h0m2 2h0m0-2h0m1 0h0m2 0h0m1 0h0m3-1h0m1 1h0m0-9h0m3 4h0m0 0h0m1 1h0m1 0h0m0-1h0m1 4h0m2-5h0m4-6h0m3 6h0m0-6h0m0 6h0m3 5h0m0-10h0m1-1h0m0 7h0m0-7h0m1 1h0m1 10h0m1 0h0m1-8h0m2-2h0m0 4h0m0 7h0m1-8h0m1-2h0m1 0h0m4 6h0m0-4h0m5 8h0m0-9h0m2 6h0m0 4h0m0-5h0m1-4h0m0 0h0m1-3h0m3 12h0m3-5h0m1-6h0m0-1h0m0 6h0m1-4h0m1 3h0m1 0h0m4 2h0m0-4h0m2 3h0m4 4h0m2-1h0m3-5h0m1-2h0m0 8h0m1-10h0m1 1h0m7-1h0m3 4h0m3-1h0m0 5h0m2-5h0m2-4h0m1 7h0m6-5h0m3 2h0m0 5h0m0-2h0m1 1h0m0 0h0m0 3h0m0 5h0m1-7h0m0-6h0m0 6h0m0 10h0m1-13h0m0 4h0m2 7h0m2-15h0m0-2h0m1 19h0m0 2h0m0-4h0m1-14h0m1 13h0m1-15h0m1 18h0m1-10h0m0-1h0m0 9h0m1 3h0m1 0h0m4-14h0m3 2h0m5-6h0m1 3h0m5-5h0m1 2h0m2-1h0m2 7h0m3 0h0m2-3h0m7-5h0m1 9h0m0-1h0m2 2h0m7-7h0m2 3h0m1 1h0m0-4h0m2 6h0m1 3h0m3 1h0m1-11h0m2 2h0m5 13h0m5-2h0m-258 32h0m1 0h0m2-1h0m0-2h0m4-2h0m3 0h0m0 0h0m1-1h0m3 2h0m0-2h0m0 0h0m4-2h0m2 1h0m1-3h0m4-1h0m0 2h0m2-4h0m2 1h0m8-7h0m1 1h0m2 0h0m4-1h0m3-2h0m0 1h0m134-2h0m3 1h0m4-2h0m1 2h0m1 6h0m5 1h0m1-4h0m3-4h0m0 0h0m0 11h0m1-12h0m0 4h0m1 2h0m4 9h0m1 8h0m2-5h0m2-1h0m1 1h0m1 4h0m1-9h0m3 6h0m1 3h0m2-6h0m0 1h0m1-3h0m10 9h0m-256 24h0m1-1h0m3-4h0m5-4h0m1 0h0m1 2h0m2-1h0m0-5h0m0 2h0m0 2h0m1 0h0m0-3h0m1-2h0m1-1h0m0 2h0m3-2h0m5-7h0m2 1h0m0-2h0m2 2h0m74 14h0m128-3h0m15-12h0m0 15h0m1-15h0m4 1h0m5 2h0m2 3h0m0 15h0m0-4h0m2-7h0m0 0h0m1 0h0m2 0h0m1-1h0m1-6h0m5 9h0m1-3h0m1-2h0m3 3h0m2 3h0m2-1h0m1 7h0m0 0h0m0-8h0m1 10h0m0-3h0m2 3h0m4 0h0m1 1h0m-301 21h0m0 1h0m2-6h0m0 4h0m0-4h0m2 7h0m1-5h0m1-6h0m0-1h0m2 5h0m0-6h0m0-3h0m1-3h0m0 8h0m0-2h0m1-6h0m1 5h0m4-5h0m3-3h0m74 23h0m48-7h0m108 5h0m4-3h0m0 0h0m10-2h0m5 1h0m5-10h0m5-2h0m12-3h0m1-2h0m3 7h0m2-2h0m0 11h0m3 0h0m1-14h0m0 6h0m1-7h0m3 8h0m0 5h0m0 5h0m1-4h0m2 3h0m1 4h0m2 0h0m1 0h0m0-7h0m2-2h0m7 8h0m4-2h0m1-2h0m4-13h0m0 13h0m3 5h0m1-14h0m1 12h0m1-2h0m2-6h0m1 5h0m0 3h0m8 0h0m2 3h0m3-1h0m-358 22h0m0 1h0m1-1h0m2-2h0m2-9h0m0-9h0m1 13h0m4-12h0m198 18h0m11 4h0m0-5h0m0 2h0m1-1h0m1 0h0m1 1h0m2 0h0m0-3h0m1-4h0m4 10h0m0-6h0m1 3h0m0 2h0m2-9h0m1 6h0m1-2h0m3 0h0m1 1h0m0 0h0m1-1h0m1 3h0m21-19h0m1 13h0m2-10h0m17 9h0m2-11h0m0 13h0m6-4h0m15 0h0m0 7h0m1-13h0m1 8h0m1 6h0m1 0h0m0-5h0m0 8h0m1-9h0m0-2h0m0-9h0m1 2h0m0 2h0m0 17h0m2-7h0m1-3h0m0-6h0m1 8h0m1-15h0m0 3h0m0-3h0m1 4h0m1 3h0m0 11h0m2-9h0m2 1h0m1-6h0m9 0h0m2 7h0m6 5h0m6-1h0m0 3h0m0-18h0m1 18h0m0-3h0m0-5h0m3 1h0m1-10h0m2 15h0m0 3h0m0-5h0m2-12h0m1 5h0m2-2h0m2 3h0m0 1h0m2 14h0m1-14h0m0-2h0m0 9h0m1-5h0m1 5h0m1 7h0m0-3h0m0-8h0m1-1h0m1 7h0m-369 22h0m1-14h0m1 12h0m0 1h0m0 5h0m0-16h0m0-4h0m1 20h0m0-6h0m0-3h0m1 10h0m0-20h0m1 21h0m0-22h0m0 20h0m52 2h0m7 1h0m3-2h0m2 0h0m1 0h0m3-1h0m1 2h0m2 1h0m1-3h0m1 3h0m2-3h0m10-7h0m1 10h0m2 0h0m0-2h0m1 0h0m0-2h0m2-7h0m0-2h0m1 10h0m2-2h0m2-9h0m0 3h0m1 3h0m1-6h0m1 5h0m0 5h0m2-11h0m1 6h0m1 2h0m0 3h0m0-7h0m4 11h0m0-8h0m2 7h0m5-6h0m1 7h0m0 0h0m0-5h0m1 4h0m1-6h0m0-7h0m3 10h0m2-8h0m0-1h0m3 12h0m2-3h0m2-4h0m1 5h0m6-5h0m0-1h0m1-2h0m1 4h0m1 5h0m14 2h0m49-22h0m1 7h0m0 5h0m2 4h0m1-6h0m2-7h0m0 9h0m1-6h0m3 9h0m2-4h0m1 2h0m0-13h0m1 16h0m1-10h0m0-7h0m1 19h0m0-11h0m1-7h0m2 0h0m2 15h0m1-10h0m1 1h0m1 10h0m1-9h0m0 8h0m1 6h0m1-22h0m1 1h0m1 8h0m4-9h0m4 8h0m2-8h0m9 2h0m1 6h0m1 14h0m30 1h0m3-18h0m0 9h0m5-11h0m3 20h0m0-1h0m1-4h0m1 3h0m2 1h0m1-2h0m0-18h0m0 19h0m1-9h0m1 4h0m2-11h0m1-2h0m0 0h0m1-2h0m12 15h0m7 6h0m0-21h0m1 19h0m5-10h0m2-2h0m0 0h0m2 3h0m0 8h0m2-5h0m3-2h0m4 0h0m1 10h0m1-15h0m2 13h0m1-12h0m0-5h0m0 15h0m0 2h0m0 1h0m1-9h0m0-6h0m2 13h0m1 1h0m0 2h0m0-21h0m0 19h0m0 2h0m1-14h0m1 15h0m4-18h0m3 15h0m1-17h0m0 7h0m1 0h0m0-5h0m3 14h0m0 3h0m-365 3h0m2 2h0m0-2h0m1 4h0m3-1h0m1 4h0m0-3h0m0 1h0m1 4h0m1-1h0m1 4h0m0-4h0m1 2h0m0-2h0m1 4h0m0 9h0m5-9h0m1 7h0m3-9h0m1-6h0m0 2h0m0-1h0m1 7h0m2 9h0m4-12h0m1 1h0m3 0h0m0-2h0m1 14h0m5-22h0m0 1h0m1 3h0m0 15h0m3-14h0m1-3h0m0 8h0m3-4h0m0-6h0m1 8h0m5-9h0m1 23h0m1-16h0m3-2h0m1-3h0m0 2h0m1-4h0m2 0h0m2 7h0m3-7h0m2 7h0m1-6h0m0-1h0m2 8h0m0 13h0m1-16h0m0-3h0m5 3h0m5-1h0m1-2h0m5 6h0m3-6h0m0 3h0m3 0h0m2 3h0m0-2h0m1 0h0m1 1h0m1-5h0m1 19h0m5-12h0m1 2h0m0-10h0m0 4h0m1 3h0m1-5h0m1-3h0m2 7h0m4 4h0m1-1h0m0 13h0m1-12h0m3-2h0m4 6h0m0-3h0m1-12h0m1 17h0m0-11h0m2 11h0m0-1h0m6-9h0m0 13h0m1-3h0m0-7h0m1-7h0m1 9h0m1 9h0m0-21h0m2 5h0m0-4h0m0-1h0m0 3h0m2 9h0m3-12h0m0 7h0m1-7h0m1 7h0m0 0h0m0 9h0m0-13h0m0 9h0m4 1h0m1-5h0m1 3h0m3-5h0m1 7h0m3-7h0m0 8h0m1 2h0m0-8h0m1 12h0m0 1h0m0-11h0m1 2h0m1 2h0m0-10h0m1 2h0m1 1h0m1 15h0m1-5h0m1-12h0m2 12h0m0 4h0m1-7h0m0 0h0m0 5h0m2-9h0m1 11h0m2-7h0m0 3h0m3-1h0m1 1h0m0-4h0m1 7h0m4-15h0m3 15h0m0-11h0m1 13h0m1-4h0m2-1h0m1-3h0m0-6h0m4 2h0m0-8h0m2 10h0m1 4h0m2 5h0m1-6h0m0-1h0m1-9h0m1 15h0m0-19h0m1 17h0m0-7h0m1 3h0m0-4h0m1 1h0m2 12h0m0-4h0m1-6h0m0 3h0m1-2h0m0-11h0m1 13h0m0-7h0m0-6h0m1 0h0m3 14h0m0-14h0m1 12h0m1 1h0m0-8h0m0 14h0m1-7h0m0 6h0m2-1h0m5-14h0m3 8h0m4 1h0m1-10h0m3-5h0m1 10h0m3-8h0m3 5h0m2 5h0m5-8h0m1 10h0m3 5h0m4-16h0m1 17h0m14-18h0m5 15h0m0 0h0m2 3h0m2-13h0m2-2h0m0 8h0m0-9h0m1 3h0m1 4h0m1-8h0m1 9h0m5-9h0m25 5h0m1 6h0m2-7h0m0 3h0m1-9h0m1 20h0m1 0h0m0-18h0m1 15h0m1 0h0m2 4h0m2-2h0m1-3h0m0 1h0m2 4h0m0-7h0m0-3h0m0-5h0m1 5h0m0-10h0m1 6h0m1 12h0m2-8h0m1-2h0m1-4h0m1 4h0m0 9h0m1 4h0m1-21h0m1-2h0m1 10h0m0-9h0m1 22h0m0-15h0m1 11h0m0-6h0m0-12h0m1 10h0m1-4h0m3-2h0m0-1h0m0 3h0m1-6h0m3 7h0m0-5h0m-354 43h0m12 0h0m7 1h0m1-23h0m1 10h0m5 5h0m3-11h0m2 16h0m6-2h0m2-16h0m2 1h0m0 18h0m2-3h0m1 4h0m1-2h0m0 1h0m5-7h0m1-2h0m5-3h0m9 13h0m6-6h0m1 4h0m2-17h0m1 15h0m2-15h0m1 3h0m2 10h0m4-5h0m1-5h0m9 8h0m15 7h0m15-20h0m2 0h0m3 20h0m0-7h0m1-13h0m2 4h0m5 9h0m4-12h0m6 3h0m3-2h0m1 3h0m3-3h0m1 0h0m5 2h0m11-2h0m2 5h0m1-5h0m3 0h0m1 3h0m0-4h0m0 3h0m1-5h0m1 0h0m1 9h0m0-8h0m3 7h0m0 1h0m0 10h0m2-14h0m0 2h0m2-1h0m6-6h0m1 2h0m0 17h0m1-19h0m3 7h0m0-6h0m0 1h0m1 3h0m2-5h0m1 1h0m1 10h0m0-5h0m4-2h0m1-4h0m0 7h0m1 1h0m1-1h0m2-2h0m1 3h0m0-4h0m1 3h0m1-5h0m2-2h0m1 7h0m8 2h0m2 3h0m3-11h0m8 3h0m1-1h0m2 7h0m1-9h0m2 0h0m0 3h0m1 0h0m5 6h0m10-6h0m1-3h0m0 4h0m2-1h0m2-1h0m5-3h0m28 12h0m4 4h0m0-7h0m1 4h0m1-6h0m1 0h0m4 0h0m1 0h0m2-2h0m1 3h0m0-6h0m2 14h0m1-15h0m1 3h0m1 0h0m1 3h0m0 11h0m0-16h0m1-1h0m0 1h0m1 0h0m0 1h0m1 8h0m2-11h0m4 13h0m1-1h0m2 0h0m2-4h0m0-5h0m1 2h0m0 4h0m2-7h0m-340 31h0m3-5h0m2-1h0m1 6h0m0-8h0m0 1h0m1 13h0m1-7h0m2-3h0m0 12h0m0-4h0m2-10h0m2 18h0m0-20h0m0 4h0m1 2h0m3-5h0m0-1h0m0 0h0m1 21h0m1-19h0m4-1h0m1 2h0m1 0h0m2 1h0m2 8h0m1-5h0m0-2h0m2 13h0m0-10h0m4 9h0m0 2h0m5 2h0m0-4h0m5-17h0m2 20h0m0 2h0m0-4h0m3 4h0m0-3h0m1-15h0m1 9h0m4-6h0m1-6h0m0 6h0m1-7h0m3 7h0m1 6h0m1-9h0m2 0h0m0 10h0m1-11h0m1-1h0m0 12h0m4-8h0m0-4h0m1-3h0m1 2h0m2 16h0m3-11h0m6 1h0m1 4h0m1-5h0m7 14h0m1-19h0m10 14h0m3-16h0m4 6h0m3-2h0m8-4h0m6 3h0m2 6h0m1 13h0m2-13h0m6 2h0m0 1h0m7-6h0m1 5h0m2 0h0m1-6h0m18 0h0m7 1h0m2 5h0m11 11h0m4-16h0m1 13h0m2-11h0m7 9h0m14 2h0m1 4h0m1-20h0m0 14h0m0-3h0m1 1h0m0 6h0m2-5h0m1-1h0m1 5h0m2-1h0m2 1h0m1 3h0m2-7h0m2 6h0m-225 3h0m5 2h0m0 4h0m4 0h0m0 5h0m0-11h0m2 10h0m0-11h0m1 14h0m0-4h0m1-9h0m1 4h0m0 7h0m1-7h0m0 11h0m0-6h0m2-10h0m0 12h0m1-6h0m0-3h0m1 19h0m1-1h0m3 1h0m1 1h0m1-19h0m1 16h0m2-9h0m1 4h0m0-12h0m1 16h0m0-1h0m1-7h0m1 12h0m0-18h0m0 12h0m0-10h0m2 16h0m1-7h0m1 7h0m1-6h0m0 3h0m1-2h0m0 2h0m0-14h0m1-6h0m0 21h0m1 0h0m1-18h0m1 10h0m0-8h0m1 5h0m0-5h0m0-1h0m0 4h0m1 6h0m2 5h0m1-9h0m1-3h0m1 0h0m1 1h0m0-7h0m1 21h0m1-9h0m1 0h0m1-5h0m0 1h0m0 13h0m1-2h0m0-12h0m1-5h0m0 12h0m0 0h0m1 3h0m0-15h0m2 3h0m1 6h0m2 9h0m1 0h0m0-15h0m2 16h0m0-18h0m1 2h0m1 7h0m0-3h0m4 4h0m1 8h0m1-14h0m0 2h0m1 6h0m1-12h0m1 2h0m0 16h0m2-11h0m1 9h0m2-6h0m0 3h0m1-9h0m0-1h0m1 13h0m2-6h0m2-8h0m4 16h0m1-9h0m3-1h0m0 8h0m1 2h0m3-1h0m1-2h0m0-7h0m2 11h0m1-6h0m0-9h0m4 14h0m0-9h0m0 6h0m2-9h0m0-2h0m0 14h0m3-3h0m1-1h0m4-3h0m0 0h0m1 2h0m0-9h0m1 7h0m0 7h0m0-13h0m6 10h0m0-10h0m0 12h0m1-10h0m4-5h0m0 2h0m3 3h0m1-4h0m1 9h0m0-11h0m0 15h0m2-7h0m1-5h0m1 6h0m0 7h0m1-2h0m1-9h0m1 13h0m1-15h0m1 15h0m1-21h0m2 10h0m0-6h0m0 11h0m0 1h0m1 2h0m1-5h0m1-13h0m1 13h0m0 6h0m1-21h0m2 22h0m0-4h0m0-6h0m1 9h0m1-5h0m0 2h0m1-10h0m2-4h0m1 8h0m0-12h0m0 16h0m0-1h0m1-12h0m1-1h0m0-2h0m1 8h0m0-1h0m2 9h0m1-6h0m3-8h0m1 15h0m0-13h0m0 13h0m0-7h0m0-6h0m1 0h0m0 6h0m0-4h0m0 9h0m4-15h0m0 20h0m1-2h0m0-13h0m0 0h0m0 9h0m2 6h0m3-2h0m0 4h0m0-11h0m0 9h0m0-4h0m1-7h0m2 4h0m0 4h0m0-5h0m3 2h0m0 9h0m1-9h0m1-14h0m3 16h0m0-3h0m2 6h0m1-4h0m1 2h0m0-6h0m2 6h0m2-9h0m1-1h0m0-5h0m1 9h0m1 10h0m0-16h0m1 4h0m2 14h0m0-7h0m1-1h0m0 0h0m3-7h0m0-4h0m0 10h0m2-5h0m0 11h0m1-5h0m1-6h0m1-5h0m2 11h0m0-12h0m1 4h0m0 11h0m1-11h0m0 6h0m0-12h0m1 2h0m1 3h0m0-5h0m1 3h0m1 2h0m1-1h0m0 3h0m0-6h0m77 21h0m-280 4h0m8-1h0m1 8h0m2-7h0m0 8h0m1-3h0m1-2h0m0 1h0m1-7h0m2 16h0m1-9h0m3 2h0m1 4h0m0 1h0m0-3h0m4-5h0m1 1h0m0-2h0m1 12h0m1-3h0m0-3h0m3 11h0m2-9h0m0 9h0m0-18h0m0 11h0m1-4h0m1 12h0m0-10h0m0 3h0m1 5h0m0-18h0m1-3h0m1 21h0m0-7h0m1 7h0m1-8h0m0 1h0m1 8h0m1-17h0m0 3h0m2-7h0m2 1h0m0-2h0m1 7h0m1 14h0m4-8h0m2 8h0m0 1h0m3-8h0m0 1h0m0-3h0m2-10h0m0 13h0m2-13h0m1-1h0m0 0h0m0 1h0m1 18h0m1-20h0m0 5h0m1 6h0m1-6h0m1 7h0m3 1h0m1-10h0m0 13h0m1-10h0m2 15h0m0-3h0m0 1h0m1 0h0m1-2h0m0 4h0m0 2h0m2-6h0m0 1h0m0-9h0m1 1h0m0-3h0m1 12h0m0-7h0m1-12h0m3 0h0m1 14h0m1-12h0m0 10h0m1 4h0m0-2h0m1-5h0m2-5h0m0 3h0m1 15h0m0-13h0m0 5h0m1 1h0m0 7h0m1 1h0m0-21h0m1 14h0m1-7h0m1-5h0m0-2h0m0 13h0m1 5h0m0-13h0m0-6h0m1 18h0m1-14h0m0 7h0m1 11h0m1-4h0m2 2h0m0-7h0m0-1h0m0-9h0m0 7h0m0-5h0m0 12h0m1 4h0m0-12h0m1 12h0m0-11h0m1 4h0m0-4h0m1 4h0m0-11h0m1 10h0m2 6h0m0-3h0m1-13h0m0 8h0m0 4h0m0-13h0m0 9h0m0-12h0m1 10h0m0-2h0m1 7h0m2-12h0m1 17h0m1-14h0m2 14h0m2-17h0m0-2h0m1 15h0m1 5h0m1-2h0m0 3h0m1-11h0m0 3h0m1-2h0m1-7h0m1 11h0m0-11h0m1-2h0m0 2h0m1-2h0m1 10h0m0-8h0m0 10h0m1-6h0m0 0h0m0-9h0m1 11h0m0-5h0m0 11h0m1-17h0m2 12h0m0-6h0m0 17h0m1 0h0m0-12h0m0-7h0m2 16h0m0-1h0m2-16h0m0 9h0m1 6h0m0-14h0m2 13h0m3 0h0m2-17h0m1 23h0m0-14h0m0 12h0m0-5h0m2-15h0m1 8h0m0 1h0m1 9h0m1-7h0m0 4h0m0 5h0m0-17h0m1 13h0m0-4h0m1 8h0m0-11h0m0 2h0m3-10h0m1 15h0m3-9h0m2 1h0m0 5h0m1-7h0m5 5h0m2-6h0m1-6h0m0 3h0m1 5h0m0-6h0m99 7h0m0-3h0m1-1h0m1-2h0m1-1h0m1 8h0m0-2h0m2 10h0m1-6h0m0 4h0m1-7h0m1-1h0m11 3h0m13 2h0m7 8h0m2-2h0m5 0h0m2-10h0m0-2h0m0 1h0m0 0h0m0-4h0m1 4h0m28 12h0m2 2h0m1-3h0m-319 6h0m3 2h0m0-2h0m1 2h0m1-3h0m6 3h0m1 2h0m2-3h0m2 1h0m0-3h0m1 3h0m2 1h0m2 2h0m1-5h0m2 4h0m1 0h0m1-3h0m0-2h0m4 7h0m1-3h0m5 3h0m1-5h0m1 1h0m6 4h0m5-2h0m6 2h0m6-2h0m5 3h0m0-4h0m1-3h0m0 4h0m1-3h0m3 3h0m13-3h0m1-1h0m3 0h0m6 3h0m2 1h0m0-3h0m2 0h0m1-1h0m1 4h0m1-5h0m1 4h0m0 0h0m4-2h0m1 11h0m5-13h0m16 5h0m3-2h0m7 11h0m99 1h0m1-3h0m1-9h0m0 16h0m1 2h0m0-18h0m2-1h0m0 14h0m1 5h0m0-16h0m2 2h0m17 12h0m2-4h0m1 5h0m3-1h0m0 3h0m1 0h0m0-3h0m3-11h0m3 0h0m1-6h0m4 0h0m1 1h0m3 2h0m40-3h0m1 3h0m1 1h0m11 2h0m1 4h0m1-6h0m0 5h0m3 4h0m1-3h0m2 1h0m0 1h0m2 3h0m1 5h0m6-8h0m2 5h0m0 0h0m2 0h0m3 3h0m1 1h0m2-1h0m2-2h0m2 2h0m-207 8h0m18 0h0m7 12h0m1-9h0m1-4h0m1 11h0m0-2h0m2-8h0m4 15h0m1 1h0m6-3h0m2 3h0m29-1h0m0-2h0m2-5h0m0 0h0m1 5h0m1-3h0m0 6h0m1-18h0m2 1h0m2-4h0m1 18h0m0-3h0m2 1h0m2-7h0m1 6h0m5-9h0m2 3h0m4-4h0m0 2h0m64 0h0m1-1h0m1 6h0m2-4h0m7 11h0m0-7h0m0-11h0m2 9h0m1-8h0m1 4h0m0 6h0m0 5h0m1-3h0m2-8h0m4 15h0m3-2h0m1 0h0m0-3h0m0-7h0m2 9h0m1-13h0m3 17h0m1-13h0m0 0h0m2 9h0m1-16h0m0 0h0m0 14h0m3-12h0m0 17h0m2-4h0m3-11h0m1-7h0m1 2h0m1-2h0m0 14h0m1-11h0m0 6h0m2 6h0m3-3h0m0 2h0m2-2h0m0 6h0m1-2h0m1 6h0m2-7h0m0-1h0m2 9h0m1-9h0m1 1h0m1 4h0m1-8h0m1 12h0m2-4h0m2 2h0m0-5h0m0-2h0m1 8h0m0-9h0m0 6h0m1 4h0m2-3h0m3 0h0m1-6h0m3 4h0m1 0h0m0 1h0m2 3h0m2 0h0m0-5h0m3 2h0m0 3h0m1 1h0m-221 2h0m3-1h0m7 5h0m1-5h0m5 20h0m4 1h0m3 0h0m0-1h0m4 2h0m8-11h0m2-1h0m1-8h0m1 1h0m0 4h0m3-5h0m4 11h0m7 3h0m3-3h0m1 4h0m1 4h0m1-4h0m6 6h0m0-1h0m2 0h0m26-8h0m1 8h0m7-8h0m0 5h0m6-3h0m42-13h0m2-1h0m0 0h0m4 2h0m5 1h0m8 4h0m2-8h0m2 8h0m6 13h0m3-11h0m1 1h0m1-4h0m0 1h0m1 5h0m1-10h0m1 1h0m4 7h0m1-5h0m1-6h0m2 9h0m3-6h0m4-2h0m1 1h0m2-1h0m0-2h0m0 10h0m2 0h0m1-6h0m0 10h0m0 6h0m2-19h0m0 21h0m0-6h0m1-15h0m0 18h0m2-18h0m0 2h0m1-3h0m1 7h0m1 0h0m1-6h0m0-1h0m0 6h0m1-5h0m0 5h0m1-2h0m1-3h0m0 11h0m1-3h0m1-4h0m0 7h0m2-11h0m0 14h0m1-3h0m1 1h0m0-2h0m1-10h0m0 2h0m2 9h0m1 7h0m0-9h0m1 3h0m0-2h0m1 9h0m0 2h0m0-13h0m4 10h0m1-4h0m1 6h0m1-3h0m3-6h0m1 6h0m0 0h0m1 5h0m3 0h0m-233 14h0m1 9h0m0-22h0m2 0h0m1 18h0m0-15h0m0 17h0m3-15h0m1 2h0m1 2h0m0 2h0m3-10h0m0 18h0m0-17h0m1 5h0m0 5h0m1 4h0m2-7h0m1 2h0m3-6h0m0 6h0m1-9h0m1 9h0m0-2h0m1 9h0m2-11h0m2-4h0m0-1h0m1 13h0m1-5h0m0-10h0m0 3h0m0 2h0m1 17h0m0-19h0m1 13h0m2 4h0m0-13h0m0-6h0m0 21h0m1-18h0m0 10h0m1-8h0m0 5h0m0-10h0m0 20h0m1-5h0m1 1h0m1 3h0m1-5h0m2 6h0m0-17h0m1 16h0m1-19h0m1 9h0m0 8h0m5-4h0m1 7h0m3-6h0m0 7h0m0-17h0m2 11h0m0-2h0m3 1h0m2 0h0m3-2h0m0 7h0m3-15h0m1-1h0m1 19h0m1-11h0m1-4h0m2 13h0m1-3h0m2-14h0m2 18h0m1-3h0m2-19h0m1 20h0m0-19h0m7 22h0m6-11h0m1 5h0m4-3h0m1-14h0m6 3h0m1 8h0m4 9h0m7-10h0m8-8h0m0 20h0m4-21h0m1 11h0m4 8h0m1-8h0m9 8h0m5 0h0m3 2h0m13 0h0m4-1h0m3-18h0m17 8h0m21 7h0m7-4h0m1-14h0m1 0h0m0 17h0m1-16h0m1 1h0m0 17h0m1-16h0m1 1h0m2 13h0m0-2h0m1-13h0m1 6h0m0 15h0m1-23h0m2 9h0m1-7h0m1-2h0m2 16h0m2 7h0m1-2h0m-236 8h0m0-5h0m0 6h0m2 7h0m1 4h0m4 3h0m1-1h0m0-19h0m0 5h0m1 7h0m1 5h0m0 1h0m2 4h0m0-1h0m1-5h0m0-3h0m0 3h0m1-7h0m1-4h0m0-3h0m0 17h0m1 3h0m0-12h0m1 13h0m0-19h0m0 14h0m4-17h0m0 4h0m1 13h0m2 2h0m0-5h0m1-7h0m1 10h0m0-4h0m1-7h0m1-7h0m0 13h0m2-11h0m0 12h0m1-5h0m0-6h0m0 19h0m1-21h0m1 9h0m0 3h0m3 9h0m0-1h0m2-3h0m0-14h0m2 11h0m0 0h0m2-8h0m0 15h0m2-20h0m0 8h0m1 9h0m2 4h0m0-4h0m1-16h0m1 7h0m1 8h0m1-9h0m0 1h0m1-3h0m1 3h0m0-8h0m1 18h0m0-1h0m0-9h0m0 3h0m1-13h0m0 13h0m1-6h0m0 9h0m0-10h0m0 4h0m1 3h0m0 8h0m1-10h0m0 10h0m1-20h0m0 6h0m1 6h0m3-2h0m0 2h0m1 0h0m0 0h0m0-8h0m0 18h0m1-1h0m1-10h0m0 2h0m0-5h0m1 5h0m0 1h0m1 8h0m2-6h0m1-5h0m1 9h0m1-18h0m1-2h0m1-1h0m1 21h0m0-3h0m0-6h0m2-5h0m2-4h0m0 11h0m1-4h0m3-6h0m0 18h0m1-13h0m0 4h0m0-4h0m3 1h0m1-6h0m0 2h0m1 5h0m0 3h0m0-11h0m1 20h0m0 0h0m1-8h0m0 8h0m0-17h0m0 6h0m1-5h0m5 15h0m0-8h0m2-11h0m1 16h0m2 1h0m2 2h0m3-4h0m0 1h0m2 2h0m2-17h0m3 19h0m2-22h0m7 19h0m3 3h0m2-3h0m5 3h0m13-22h0m8-1h0m7 20h0m3 1h0m2-14h0m12 1h0m0 6h0m1-14h0m5 22h0m9-22h0m6 15h0m2 5h0m4-4h0m14-9h0m1-7h0m5 16h0m1-8h0m0 7h0m1-14h0m1 7h0m0 6h0m4-11h0m0 0h0m2 16h0m0 3h0m2-11h0m0-1h0m0-8h0m1 17h0m0-3h0m-230 9h0m11 9h0m1 5h0m2 2h0m1-5h0m0-1h0m0 4h0m1-1h0m1 3h0m2-7h0m1-9h0m0 15h0m0 5h0m0-12h0m1 3h0m1-4h0m1 4h0m2-10h0m0 10h0m1-4h0m0-4h0m1 16h0m0 3h0m1-15h0m0-3h0m1-4h0m0 6h0m1-3h0m1 15h0m0-2h0m1 4h0m2-5h0m0-16h0m2 8h0m1 0h0m2 9h0m0 0h0m1-17h0m1 23h0m2-6h0m0-14h0m3 20h0m0-14h0m1-4h0m1 10h0m0-9h0m1 15h0m1-16h0m3 4h0m0 13h0m1-16h0m1 13h0m0-3h0m0 5h0m1-10h0m1-8h0m2-2h0m0 9h0m0-1h0m1-1h0m1-6h0m0 19h0m0-9h0m1 4h0m1-2h0m1 8h0m0-6h0m1 2h0m1 4h0m0-13h0m0-5h0m1 7h0m0 12h0m1-1h0m1-13h0m2-2h0m1 1h0m0 8h0m1-14h0m6 18h0m1-4h0m1-5h0m2-2h0m0 14h0m2-15h0m0-5h0m2 19h0m0-20h0m2 4h0m0 10h0m0-9h0m1 2h0m0 14h0m1-16h0m1 6h0m1-13h0m1 15h0m0 4h0m4 4h0m1-15h0m1 14h0m1-4h0m0-5h0m1-9h0m1-1h0m1 17h0m0-15h0m1 14h0m1-2h0m2 6h0m0-21h0m1 10h0m1-6h0m1 7h0m0-6h0m2 16h0m1-18h0m3 14h0m2 2h0m0-6h0m1-15h0m0 4h0m0-3h0m0 4h0m1 3h0m0 2h0m0-3h0m1 5h0m0-8h0m1 5h0m0-4h0m1 16h0m0-5h0m0-7h0m1 3h0m1 7h0m2-4h0m0-1h0m0 8h0m4-17h0m0 8h0m2-8h0m3 4h0m5 9h0m0-5h0m0-1h0m1 11h0m4-10h0m0 4h0m5 3h0m0-11h0m2 8h0m0-12h0m3 14h0m1 4h0m3-2h0m10-7h0m4 0h0m2 0h0m4-3h0m14 4h0m23-5h0m1 13h0m3-9h0m1-9h0m0 6h0m0-7h0m0 18h0m1-17h0m0 2h0m0 0h0m2 7h0m0-6h0m2-6h0m-205 26h0m3 2h0m5 8h0m2 0h0m0-9h0m0 5h0m1 5h0m1-2h0m0-9h0m1 8h0m1-7h0m2 0h0m1-5h0m1 6h0m2-1h0m1 13h0m1-15h0m1 10h0m2-7h0m1 10h0m2-7h0m0-6h0m0 8h0m1 11h0m1-2h0m0-10h0m4 5h0m2-13h0m1 12h0m1-7h0m2-2h0m2 13h0m2-16h0m1 15h0m0-10h0m2 4h0m1-7h0m1 15h0m1-18h0m1 3h0m1-3h0m0 16h0m0 1h0m1-1h0m2-17h0m2 0h0m1 16h0m1-7h0m0 12h0m0-12h0m0-1h0m1 2h0m1-8h0m1 6h0m0 2h0m2 3h0m0-2h0m0 11h0m1-21h0m0 5h0m1 15h0m1-11h0m1 9h0m0-12h0m0 9h0m1 4h0m0-18h0m0 19h0m1-13h0m0 11h0m0-2h0m3-2h0m0-15h0m4 20h0m1-20h0m0 22h0m1-19h0m1 16h0m1 4h0m0-18h0m0 2h0m1 16h0m0-11h0m0 0h0m1-7h0m1 11h0m1-5h0m0-2h0m1 11h0m2-9h0m0-10h0m0 10h0m2-9h0m3 18h0m1 1h0m1 1h0m1-16h0m0 7h0m1 0h0m0-5h0m1 2h0m4 9h0m2-17h0m1 15h0m1-11h0m2-3h0m1-1h0m1-2h0m1 1h0m3 10h0m2 12h0m1-20h0m0 4h0m0-2h0m0-4h0m0 15h0m1-4h0m1-4h0m0 11h0m1 0h0m0-5h0m3-5h0m0 13h0m0-1h0m1-21h0m5 12h0m2 1h0m0 4h0m1-16h0m0 14h0m1-5h0m0 13h0m0-16h0m2 3h0m1-9h0m1 18h0m3-17h0m0-2h0m0 19h0m1-17h0m0 12h0m1-4h0m0-7h0m1 9h0m1 6h0m0-3h0m0 7h0m1-1h0m1-12h0m1 7h0m0 5h0m2 0h0m0-3h0m1-3h0m1 5h0m1-4h0m1 7h0m0-10h0m2-1h0m2 10h0m1 0h0m7-21h0m16 19h0m8-18h0m5 9h0m1-4h0m0 2h0m0-6h0m1 15h0m1-13h0m0 8h0m1-5h0m2-5h0m-180 23h0m7 2h0m3 5h0m2-9h0m2 0h0m3 1h0m1 15h0m4-2h0m0 5h0m1-6h0m0-5h0m0-5h0m1 5h0m0-1h0m2 1h0m1-7h0m1-1h0m1 4h0m2 8h0m3 10h0m3-22h0m0 4h0m2 19h0m1-16h0m9 10h0m2-6h0m0 6h0m1-6h0m0-3h0m0-3h0m0 0h0m1 16h0m1-9h0m0-8h0m1 14h0m0 2h0m0-17h0m2 10h0m0-10h0m0 20h0m1-20h0m0 12h0m1 6h0m0-3h0m1 3h0m4-13h0m0 12h0m1-11h0m2-5h0m1 11h0m2-9h0m0 10h0m1-16h0m1 12h0m0 4h0m1 1h0m1-15h0m0 7h0m3 10h0m0-11h0m1 2h0m0 1h0m2-3h0m0-1h0m0 16h0m1-1h0m0-6h0m5 7h0m0-14h0m1-3h0m2-5h0m0 22h0m1-5h0m1-3h0m3-11h0m1 11h0m0 5h0m1-19h0m0 3h0m2 8h0m0 2h0m0-1h0m0 1h0m1-11h0m1 11h0m2 9h0m1-9h0m1 8h0m0 0h0m2-6h0m0-11h0m1 0h0m3 4h0m2-9h0m0 18h0m1-1h0m2 2h0m1-8h0m2-11h0m2 3h0m2 8h0m0-1h0m1 0h0m0 5h0m2-2h0m2-9h0m0-2h0m1 2h0m2 13h0m0 1h0m1-2h0m1-7h0m0 11h0m1 3h0m0-8h0m0 0h0m0-4h0m2-4h0m1 8h0m1 0h0m2 4h0m1-14h0m2-1h0m0 14h0m1 0h0m1-10h0m1 3h0m0-9h0m0 12h0m2 6h0m1-1h0m1-1h0m0-14h0m1 0h0m1 17h0m2 0h0m0-4h0m1 1h0m1 1h0m1-6h0m1 1h0m3 0h0m0 8h0m3-8h0m1 4h0m3 4h0m3-13h0m2 13h0m0-6h0m0 6h0m2-6h0m0-15h0m2 8h0m1 6h0m0-4h0m-144 15h0m2 4h0m0-4h0m0 2h0m3 3h0m1-4h0m2 5h0m0-6h0m2 8h0m1-3h0m1-3h0m1 5h0m1 1h0m2 6h0m2-6h0m0-9h0m2 13h0m1-14h0m1 16h0m0-7h0m1 9h0m1 2h0m1-4h0m0-6h0m0 12h0m1-6h0m1-3h0m1-10h0m0 9h0m0-9h0m2 19h0m1-8h0m2-13h0m0 18h0m1 3h0m0-13h0m1 4h0m0 9h0m0 0h0m1-15h0m1-3h0m0 3h0m1 2h0m1 8h0m0-15h0m2 15h0m2-4h0m1-13h0m0 19h0m2-2h0m0-13h0m4 8h0m1 7h0m1 1h0m0-8h0m1-1h0m1 5h0m0 3h0m1-19h0m1 17h0m0-4h0m1 6h0m0-7h0m1-1h0m2-9h0m0 11h0m2-13h0m0 11h0m0-2h0m1 3h0m0-4h0m1 13h0m1-20h0m0 18h0m0-16h0m0 12h0m1-8h0m1 12h0m0-3h0m1-11h0m1 13h0m2 0h0m2-2h0m1 0h0m1-7h0m0-6h0m1 15h0m0-1h0m0-5h0m0 9h0m1-14h0m1 14h0m1 0h0m0 0h0m2 0h0m0-11h0m2 12h0m0-10h0m2 2h0m1-10h0m1 12h0m2-3h0m0 2h0m0-13h0m2 16h0m0 1h0m1 0h0m3-2h0m0-2h0m6 5h0m0-13h0m1 6h0m0-7h0m4 5h0m0 4h0m2-3h0m1 3h0m1-15h0m0 11h0m0 2h0m1-1h0m1-4h0m0-4h0m1 0h0m0 12h0m1 5h0m1-21h0m0 6h0m0 3h0m0 14h0m1-11h0m1-8h0m1 4h0m0-2h0m0 16h0m1-6h0m0-7h0m0 8h0m1 2h0m1-15h0m1 16h0m0-5h0m2 1h0m0-6h0m2 5h0m0 8h0m2-11h0m0-4h0m1-5h0m0 3h0m0-3h0m1 1h0m0 3h0m4 3h0m2 8h0m0-3h0m0-8h0m2 8h0m0 8h0m2-14h0m0 8h0m1-6h0m1-7h0m0-2h0m2 6h0m-105 17h0m5 5h0m1-6h0m0 9h0m1-2h0m2 0h0m0-7h0m3 0h0m3 5h0m1 0h0m3 6h0m1-1h0m1-2h0m2 4h0m1-7h0m0-2h0m1 6h0m5-4h0m0 7h0m0-6h0m3-4h0m0 0h0m1 10h0m1 6h0m2-17h0m2 0h0m1 1h0m1 12h0m2 0h0m0-10h0m1 11h0m1 3h0m1 0h0m0-9h0m0 4h0m2-6h0m0-5h0m0 15h0m5-8h0m0-8h0m0 19h0m0-8h0m2-10h0m1 14h0m1-13h0m0-1h0m0 10h0m0 3h0m0-10h0m2-1h0m0-2h0m1 2h0m0 17h0m0-6h0m1 5h0m2-6h0m0-3h0m0-5h0m1 8h0m1-9h0m0-5h0m3 15h0m2-3h0m1-5h0m1-5h0m1 15h0m2-4h0m0-4h0m0 14h0m4-10h0m0-7h0m0 11h0m1-4h0m0-1h0m3-10h0m0 2h0m1 2h0m0 6h0m1 3h0m0 5h0m0 0h0m1-19h0m1 10h0m3 2h0m3-5h0m3 2h0m0-2h0m1 4h0m-35 15h0m1-3h0"/>
</g>
<rect x="1985.9" y="525.7" width="16" height="83.5" fill="url(#cbg)" stroke="#9a8070" stroke-width="0.8"/>
<text x="2009.8" y="531.3" font-size="19.01">1</text>
<text x="2009.8" y="620.8" font-size="19.01">0</text>
<g fill="#000"><circle cx="866.4" cy="278.4" r="1.5"/><circle cx="1326.8" cy="293.4" r="1.5"/><circle cx="1689.4" cy="285.6" r="1.5"/><circle cx="1733.4" cy="290.2" r="1.5"/><circle cx="932" cy="652.6" r="1.5"/><circle cx="951.6" cy="656.3" r="1.5"/><circle cx="996.2" cy="653.8" r="1.5"/><circle cx="1772.6" cy="691.8" r="1.5"/></g>
<text x="891.8" y="40.9" font-size="33.84" font-weight="bold" font-style="italic">FOLH1</text>
<text x="1342.3" y="42.2" font-size="34.07" font-weight="bold" font-style="italic">AR</text>
<text x="1701.3" y="53.2" font-size="33.63" font-weight="bold" font-style="italic">HOXB13</text>
<text x="839.4" y="399.1" font-size="34.12" font-weight="bold" font-style="italic">SLC7A5 (LAT1)</text>
<text x="1308.3" y="402.3" font-size="34.36" font-weight="bold" font-style="italic">CHGA</text>
<text x="1746.3" y="391.7" font-size="33.90" font-weight="bold" font-style="italic">ASCL1</text>
<text x="2044.8" y="107.2" font-size="24.95" transform="rotate(90 2044.8 107.2)">Log 2 Expression</text>
<text x="662.5" y="45.3" font-size="60.96" font-weight="bold">b</text>
<g fill="none" stroke-width="4.6" stroke-dasharray="12 8.5">
<rect x="869.2" y="411.4" width="81.7" height="68.8" stroke="#8E1AF0"/>
<rect x="958.4" y="410.9" width="83.9" height="69.3" stroke="#6CC42A"/>
</g>
<g fill="#000">
<rect x="826.2" y="523" width="8.4" height="169"/>
<polygon points="817.8,525.5 843,525.5 830.4,500.9"/>
<rect x="826.2" y="684.8" width="158" height="7.6"/>
<polygon points="982.5,676.4 982.5,700.8 1007.6,688.6"/>
</g>
<text x="815.9" y="648.2" font-size="24.86" transform="rotate(-90 815.9 648.2)">UMAP2</text>
<text x="870.5" y="734.7" font-size="24.28">UMAP1</text>
<g stroke="#DDDDDD" stroke-width="1.3">
<line x1="152.6" y1="735.7" x2="152.6" y2="1191.6"/>
<line x1="211.3" y1="735.7" x2="211.3" y2="1191.6"/>
<line x1="270.1" y1="735.7" x2="270.1" y2="1191.6"/>
<line x1="328.8" y1="735.7" x2="328.8" y2="1191.6"/>
<line x1="387.6" y1="735.7" x2="387.6" y2="1191.6"/>
<line x1="446.3" y1="735.7" x2="446.3" y2="1191.6"/>
<line x1="505.0" y1="735.7" x2="505.0" y2="1191.6"/>
<line x1="563.8" y1="735.7" x2="563.8" y2="1191.6"/>
<line x1="622.5" y1="735.7" x2="622.5" y2="1191.6"/>
<line x1="140.5" y1="779.9" x2="648" y2="779.9"/>
<line x1="140.5" y1="863.8" x2="648" y2="863.8"/>
<line x1="140.5" y1="947.7" x2="648" y2="947.7"/>
<line x1="140.5" y1="1031.6" x2="648" y2="1031.6"/>
<line x1="140.5" y1="1115.5" x2="648" y2="1115.5"/>
</g>
<g fill="none" stroke-linecap="round">
<path transform="scale(0.5)" stroke="#1866A7" stroke-width="6.0" d="M531 1834h0m-177 37h0m4-4h0m1-1h0m0 0h0m1 5h0m1-6h0m1 6h0m2-3h0m56-13h0m75 14h0m72-8h0m-221 33h0m1 0h0m1-1h0m3 0h0m0-2h0m1-4h0m1-14h0m0 11h0m0 9h0m1-19h0m0 0h0m1 7h0m0 0h0m1 4h0m-12 31h0m2-2h0m0-18h0m0 4h0m0 15h0m0 0h0m0-12h0m1 7h0m0-12h0m1 13h0m1 3h0m1-6h0m0-10h0m1 0h0m102 20h0m7-2h0m0 0h0m5 2h0m1-2h0m5-3h0m6-1h0m6 4h0m0 0h0m0 3h0m1-3h0m2-4h0m1-2h0m0 9h0m1-2h0m1 2h0m2-1h0m3-10h0m0 3h0m1 4h0m1-6h0m1 10h0m1-5h0m0-1h0m0 6h0m0-10h0m2 8h0m1-7h0m1-3h0m1 2h0m0 5h0m1 2h0m0 3h0m0-8h0m6 4h0m1-5h0m9 6h0m2 2h0m0 1h0m1-13h0m0 3h0m1-1h0m0 1h0m1 3h0m0 4h0m3-5h0m0 6h0m0-9h0m4 0h0m0 2h0m0 0h0m1 7h0m3-4h0m0 4h0m3-6h0m4 3h0m1-4h0m3 6h0m6-2h0m1 0h0m1-2h0m1 5h0m4-20h0m4 20h0m2 0h0m-220 4h0m0 0h0m2 0h0m0 0h0m1 0h0m1 2h0m1 1h0m0-4h0m0 4h0m0 2h0m3 2h0m1-1h0m1 4h0m1-3h0m3 1h0m1 2h0m0 1h0m1 3h0m1 2h0m1-4h0m1 3h0m1-1h0m1 1h0m0 4h0m1-2h0m0 2h0m2 0h0m0-4h0m7 4h0m2-9h0m3 7h0m1-5h0m1-2h0m0 1h0m2 9h0m8-4h0m1 1h0m2-4h0m2 2h0m1 2h0m1-3h0m8-7h0m1-2h0m1 5h0m1-6h0m0 9h0m0 2h0m1 0h0m1-4h0m1-4h0m1 9h0m1-8h0m4 4h0m1-7h0m1 9h0m0-9h0m6-4h0m0 3h0m2 1h0m2 7h0m3 3h0m1-5h0m0-5h0m2 2h0m0 2h0m0-5h0m1-5h0m0 5h0m3-3h0m0 3h0m0 0h0m1 0h0m2-4h0m0 12h0m1-12h0m1 1h0m2 4h0m2-5h0m2 2h0m0 10h0m1-7h0m0 2h0m0 7h0m0-10h0m1-1h0m1-3h0m1-1h0m0 14h0m1-3h0m0-3h0m1-3h0m2-4h0m2 7h0m3 4h0m3-9h0m1 10h0m0-12h0m3 9h0m2 0h0m0-3h0m0 5h0m2-8h0m2 10h0m2-10h0m0-2h0m1 0h0m1 12h0m3-7h0m1 5h0m0-11h0m1 14h0m3 0h0m1-4h0m2 3h0m0-2h0m2 1h0m1 0h0m1 1h0m0-7h0m1 0h0m2-7h0m4 2h0m1 2h0m2 12h0m1-4h0m0-8h0m0 9h0m1 4h0m0-11h0m0 5h0m1-1h0m0 5h0m0-6h0m2-6h0m0 12h0m1-10h0m0 13h0m2-4h0m0 0h0m3 1h0m2-11h0m0 3h0m0-2h0m1-2h0m0 14h0m2-1h0m2 1h0m3-17h0m0 16h0m1 0h0m1-8h0m1-7h0m0 13h0m0 4h0m1-7h0m1-8h0m2 19h0m0-3h0m1-14h0m0-3h0m0 18h0m1 2h0m1-22h0m1 12h0m3-12h0m3 8h0m3 0h0m1 3h0m1 2h0m1 0h0m0 4h0m2-13h0m0 5h0m2-8h0m0 18h0m1-14h0m0-4h0m0 9h0m3 1h0m0-5h0m0 0h0m0 3h0m1-5h0m2 15h0m0 4h0m3-14h0m1 4h0m1-7h0m0 4h0m1-5h0m1 8h0m0 6h0m1-6h0m0 10h0m0-14h0m0 2h0m0 5h0m4-2h0m1 6h0m1-6h0m1-10h0m0 4h0m1 9h0m2-5h0m0 3h0m3 5h0m0-8h0m4 10h0m2-10h0m0 9h0m1-7h0m1 3h0m1-1h0m0 1h0m0 2h0m1-8h0m1 11h0m0-13h0m2 3h0m0 10h0m1-9h0m3 4h0m1-6h0m1 10h0m0 0h0m4 0h0m1 0h0m1-8h0m1 3h0m-243 14h0m10-1h0m0 17h0m10-16h0m2 2h0m1 12h0m2-3h0m9-4h0m0-6h0m8-3h0m8 7h0m2 1h0m11-5h0m4 15h0m8-3h0m12-8h0m2 11h0m2-17h0m1 3h0m10 4h0m4 0h0m2 3h0m9 6h0m1-6h0m6 8h0m9-18h0m17 17h0m7-15h0m12 9h0m3-15h0m2 0h0m1-1h0m1 10h0m3 0h0m3-9h0m1 3h0m2-3h0m0 9h0m2-10h0m2 6h0m0 8h0m5-11h0m2-2h0m5 9h0m2-8h0m1-1h0m4 21h0m2-7h0m1-4h0m4-7h0m0 8h0m1 4h0m4 3h0m1-7h0m2 0h0m1-12h0m1 4h0m1 2h0m1 7h0m3 1h0m2-11h0m1 3h0m1 0h0m1-5h0m0 14h0m1-14h0m2 4h0m1-4h0m0 9h0m1-8h0m-251 45h0m2-5h0m1-8h0m1 7h0m3-1h0m1 7h0m1-10h0m0 2h0m3 7h0m3-4h0m3-2h0m2-3h0m1 5h0m0-7h0m0-1h0m2 10h0m3-7h0m0 4h0m0 5h0m0-9h0m1 2h0m0-2h0m3 2h0m0 0h0m1-4h0m1 8h0m4-5h0m2 3h0m0 0h0m3-15h0m0 17h0m5 2h0m0-2h0m2 4h0m1-12h0m0-3h0m5 6h0m0-8h0m4 2h0m0-2h0m5 9h0m1-6h0m3-3h0m1 4h0m2-2h0m0 1h0m0 4h0m5 10h0m1-8h0m1-14h0m0 0h0m2 17h0m6-5h0m1 8h0m1-7h0m0 8h0m2-8h0m5 7h0m2-4h0m1-6h0m3-1h0m0 8h0m1 3h0m1-5h0m0 0h0m6 4h0m0-17h0m1 13h0m1-4h0m1 3h0m0-7h0m3-3h0m2 14h0m3 1h0m3-17h0m6 19h0m2-1h0m5 0h0m5-8h0m2 1h0m1-14h0m12 18h0m7-6h0m3-4h0m2 11h0m5-3h0m12-4h0m2 9h0m7-5h0m1-7h0m1-8h0m1 22h0m5-1h0m2-8h0m3-14h0m14 19h0m1-15h0m5 14h0m27 0h0m2-13h0m8 14h0m5-3h0m0-14h0m1 13h0m3-9h0m5 0h0m12 13h0m-285 7h0m7 3h0m2 12h0m1-11h0m0-3h0m1 5h0m1-5h0m4 20h0m1-4h0m0-7h0m2 1h0m3 4h0m2-10h0m0-1h0m1 7h0m1 9h0m0-6h0m3 1h0m2 3h0m0 2h0m0 0h0m2-21h0m2 15h0m0 5h0m0-8h0m0 9h0m2-3h0m2-4h0m1-12h0m2 19h0m2-9h0m0 2h0m1-15h0m1 10h0m1 8h0m0 2h0m1-3h0m2-6h0m1-3h0m0 3h0m1 8h0m4 2h0m2-16h0m0 8h0m1-2h0m0 12h0m0-15h0m7 10h0m0 4h0m0-15h0m2 8h0m0 0h0m0-2h0m0 2h0m1 8h0m0-13h0m2 12h0m0-3h0m2 3h0m0-2h0m1-5h0m0-4h0m2-7h0m1 11h0m1-13h0m1 1h0m2 20h0m3-6h0m3-3h0m4 2h0m0-12h0m1-1h0m1 16h0m2 2h0m0-2h0m0-12h0m1 16h0m0-17h0m3 0h0m4 12h0m0-15h0m1 19h0m2-2h0m0 0h0m2 3h0m3-23h0m0 9h0m4 11h0m2 1h0m3 0h0m1-1h0m2 2h0m3-21h0m9 22h0m2-11h0m1-7h0m1 18h0m1-17h0m13 0h0m33 9h0m7 8h0m1-9h0m1 9h0m7-1h0m3-22h0m0 2h0m5 19h0m5 0h0m1-15h0m1-5h0m4 0h0m4 17h0m0-1h0m1 5h0m2 1h0m4-5h0m4-2h0m3 5h0m0 1h0m3-3h0m2-3h0m1 4h0m3-1h0m0-3h0m2-2h0m0 4h0m1 5h0m0-5h0m0-2h0m2-9h0m2 7h0m1 0h0m4 4h0m1 2h0m1-19h0m0 14h0m0 5h0m2 0h0m0 3h0m1-8h0m4 1h0m0 1h0m2 4h0m0 1h0m6-19h0m2 11h0m0 6h0m2 2h0m4-12h0m2 12h0m2 0h0m1-6h0m3 2h0m1-7h0m0 8h0m3-5h0m2 4h0m1-10h0m2 1h0m3 4h0m1-2h0m-284 16h0m0 3h0m1-6h0m0 4h0m3 1h0m1 3h0m0-5h0m0 0h0m0-1h0m2 3h0m0 0h0m3 5h0m0-6h0m2 12h0m0-8h0m1-2h0m2 11h0m1-1h0m1-9h0m1-2h0m0 17h0m4-5h0m1 1h0m2-15h0m1 14h0m0-2h0m4-11h0m1 5h0m0 12h0m1-19h0m0 12h0m0-2h0m2-8h0m1 18h0m0-4h0m0-7h0m0-11h0m3 19h0m1-9h0m1 9h0m0 4h0m2-12h0m0 7h0m1-4h0m1-2h0m0 1h0m0 2h0m1-2h0m1 4h0m0-1h0m0 0h0m1 6h0m2-18h0m1 3h0m0 3h0m0 1h0m1-3h0m0-5h0m0-2h0m2 7h0m1 9h0m2-3h0m2-10h0m1-2h0m1-2h0m2 1h0m1 16h0m0 5h0m1-17h0m1 1h0m1-2h0m0 3h0m1-5h0m0 15h0m1-6h0m0-10h0m1 22h0m0-8h0m0-14h0m1 8h0m0 14h0m0-8h0m1-6h0m1 14h0m0-11h0m1-7h0m1 14h0m2-16h0m0 2h0m3 11h0m1-9h0m0 14h0m1-5h0m3 1h0m0 0h0m0-1h0m1 5h0m2 1h0m0-3h0m0-12h0m0-3h0m0 2h0m5 5h0m1-3h0m2-7h0m0 16h0m1-14h0m1 7h0m0-3h0m1 3h0m0 6h0m2 5h0m0-4h0m4-13h0m1 11h0m1 7h0m1-19h0m0 13h0m0-8h0m1 10h0m0-7h0m1-10h0m0-1h0m0 21h0m1-10h0m0 10h0m1-20h0m0 19h0m0-6h0m0 7h0m2-2h0m0 1h0m1-12h0m1 8h0m2 3h0m0-15h0m1 6h0m4 2h0m0-3h0m1 8h0m1 5h0m1-16h0m0 8h0m1-12h0m1 11h0m0-2h0m1 4h0m1-10h0m1 12h0m5-2h0m0-11h0m0 1h0m2 8h0m2 5h0m0-8h0m0 9h0m0-15h0m2 7h0m0-10h0m2 16h0m1 2h0m3 3h0m0-5h0m0-11h0m0 7h0m2-9h0m1-3h0m0 16h0m3 1h0m2-6h0m0 1h0m2 3h0m0 5h0m4 2h0m0-14h0m0-1h0m1 3h0m0 10h0m0-20h0m0 20h0m1-5h0m1-7h0m0 8h0m0-15h0m3 8h0m0 8h0m6-16h0m1 12h0m0 2h0m0-12h0m2 10h0m3 1h0m2-14h0m1 20h0m0-21h0m2 23h0m0 0h0m0-3h0m1-16h0m1-4h0m0 2h0m0 8h0m1 5h0m2-5h0m0 5h0m0 0h0m1 7h0m1-15h0m1-3h0m1-3h0m0 8h0m1-1h0m0 7h0m2-2h0m1-10h0m0-1h0m1 21h0m1-4h0m0 1h0m1-19h0m1 4h0m0 13h0m3-12h0m1 0h0m0 2h0m1 3h0m0 1h0m2-11h0m0 13h0m1-12h0m1 7h0m0 13h0m1-9h0m0 10h0m0-13h0m0 13h0m1-1h0m0-6h0m1-7h0m0-3h0m2-5h0m0 18h0m1-2h0m0-5h0m0-7h0m2 15h0m0-4h0m2-6h0m0 3h0m2-4h0m0-8h0m1 9h0m2 0h0m0-1h0m1-4h0m0 12h0m0-12h0m3 17h0m1-21h0m2 22h0m1-12h0m1-8h0m1 16h0m1-4h0m1 7h0m2-7h0m1 4h0m0-19h0m0 12h0m0 0h0m0-9h0m1 14h0m0 4h0m0-12h0m1 7h0m0-12h0m2 6h0m1 11h0m2-6h0m1 0h0m1-7h0m1 4h0m0 10h0m0-15h0m2 7h0m4 1h0m0-6h0m1 3h0m0 5h0m0-13h0m0 17h0m1 1h0m0-20h0m2 5h0m1-1h0m1 17h0m0-12h0m1 6h0m2-9h0m0 10h0m3-10h0m1 8h0m0 3h0m3-9h0m1-3h0m3 7h0m1-5h0m1-5h0m1 16h0m0 3h0m0-5h0m1-7h0m0 10h0m2-10h0m2-10h0m2 10h0m0 8h0m3-4h0m4 3h0m1-12h0m0 4h0m1 9h0m0-10h0m0 0h0m1-3h0m3 2h0m1 5h0m3 1h0m0 4h0m1-9h0m6 0h0m0 2h0m1 2h0m2-6h0m-282 25h0m1-2h0m1 4h0m2-2h0m2-4h0m0-1h0m1-1h0m4 9h0m1 2h0m1-10h0m2 4h0m0 6h0m2-8h0m1 5h0m0-2h0m1-3h0m0 7h0m0-4h0m1-8h0m1 6h0m3 14h0m1-18h0m1 2h0m0-3h0m1 14h0m2-4h0m0-3h0m4 13h0m0-17h0m3 7h0m0-11h0m0 12h0m0 2h0m1 6h0m0-12h0m2 8h0m1 6h0m0-12h0m0 3h0m1 9h0m0-2h0m2-13h0m0 11h0m1-3h0m0-8h0m0 12h0m1 0h0m0-8h0m2-1h0m0 1h0m2 9h0m0-11h0m1 14h0m0-22h0m0 3h0m1 19h0m1-2h0m1-15h0m2 12h0m3-15h0m1 16h0m0 1h0m6-10h0m1 13h0m1-4h0m1 3h0m0 0h0m0-1h0m2-3h0m0 0h0m2-6h0m0 0h0m1-3h0m2 3h0m3-12h0m2 0h0m1 18h0m0-12h0m1-5h0m0 21h0m1-21h0m1 7h0m1-8h0m2 5h0m1 4h0m4 5h0m0-4h0m2-8h0m4 17h0m0-3h0m0 1h0m1 0h0m1-13h0m0 15h0m0 3h0m1-8h0m0 4h0m0-3h0m2 1h0m1-1h0m0-12h0m0 2h0m1 2h0m2 10h0m0-8h0m2 14h0m1-3h0m0-14h0m0 2h0m4 3h0m1 5h0m0-7h0m0-8h0m1 13h0m0-1h0m1-1h0m1-6h0m0-6h0m2 6h0m1-6h0m0 3h0m1 4h0m1-1h0m0 0h0m0 5h0m0 1h0m1 8h0m0 0h0m0 0h0m0-13h0m1 5h0m0 11h0m1-2h0m0-8h0m0 2h0m1-1h0m0-4h0m1 8h0m1-13h0m0 8h0m1-1h0m1-9h0m2 15h0m0-1h0m1-8h0m1-8h0m2 21h0m1-5h0m2-17h0m0 7h0m0-5h0m0 14h0m1 3h0m0-8h0m0-1h0m0 9h0m0-18h0m2 2h0m0 17h0m0-19h0m0 19h0m0-14h0m1 5h0m0-3h0m1 4h0m0-4h0m0 15h0m1-11h0m0-12h0m3 11h0m2 4h0m1 3h0m0-9h0m1 0h0m0-4h0m0 8h0m0-4h0m1-2h0m0-3h0m1 8h0m2-4h0m3 10h0m1-16h0m0 17h0m4-1h0m0 4h0m0-20h0m1 11h0m1-3h0m2 4h0m0 1h0m0-7h0m1 6h0m0 5h0m1-2h0m0 3h0m2-3h0m0 3h0m0-8h0m1-6h0m0 2h0m0 0h0m0 2h0m2-9h0m2 15h0m0-3h0m0-1h0m0-11h0m1 0h0m1 11h0m2 3h0m0-3h0m1-2h0m0-10h0m1 9h0m0-3h0m0-1h0m1 1h0m0 2h0m0-6h0m0 12h0m3 1h0m1 6h0m1-12h0m0-7h0m1 20h0m0-22h0m1 23h0m0-16h0m1 8h0m0 4h0m1-2h0m1 4h0m0-3h0m0-15h0m1 17h0m1-11h0m1 7h0m1-9h0m0-7h0m2 15h0m5 0h0m1-13h0m1 12h0m0 8h0m1 1h0m1-4h0m0-5h0m1 8h0m0-16h0m1 4h0m2-2h0m1-2h0m1 0h0m0 7h0m1 1h0m0 3h0m1-8h0m0 5h0m0-14h0m1 19h0m0-9h0m1 4h0m0-14h0m1 20h0m0-13h0m0 2h0m6 5h0m0-3h0m2 4h0m2-11h0m3 7h0m1-5h0m1-2h0m5-4h0m2 3h0m0 6h0m2-4h0m1 0h0m1 2h0m0-5h0m1-1h0m1 3h0m6 0h0m7-4h0m-219 24h0m4 2h0m1-2h0m1 3h0m0-1h0m1-1h0m2 2h0m7 0h0m1 2h0m4-4h0m2 2h0m1-1h0m3 2h0m3 2h0m0-1h0m2-5h0m3 4h0m0 1h0m1-1h0m1 0h0m1-3h0m4 4h0m3 1h0m0-3h0m1 0h0m8 4h0m1-6h0m2 1h0m0-2h0m3 2h0m6 5h0m0-4h0m1 4h0m6-2h0m8 2h0m1 0h0m9-2h0m0-2h0m0 0h0m6 5h0m1-5h0m1-3h0m0 4h0m0 1h0m2-4h0m0 3h0m4 1h0m19-4h0m2-1h0m5 0h0m1 2h0m3-2h0m5 3h0m0 1h0m2-3h0m0 1h0m0-1h0m1 4h0m3 0h0m0-4h0m1-1h0m2 4h0m1-4h0m1 3h0m1 0h0m4 3h0m1-5h0m2 12h0m30-8h0m5-3h0m11 13h0m9-4h0m0 2h0m312 1h0m2 2h0m1 4h0m1 1h0m0-4h0m2 3h0m3-3h0m10 5h0m1 0h0m-307 11h0m5-3h0m22 3h0m4 7h0m4 1h0m0-5h0m3 0h0m0 11h0m2-15h0m2 13h0m0-3h0m1-10h0m2 1h0m0-4h0m0 5h0m3 7h0m12 6h0m0 0h0m181-12h0m1-1h0m2 7h0m0-9h0m0 9h0m1-9h0m1 5h0m0-10h0m0 2h0m11 12h0m1-12h0m2 10h0m1-9h0m1 5h0m0 6h0m1 2h0m0-9h0m0 12h0m1-3h0m0-2h0m3-8h0m1 1h0m1 5h0m5 2h0m6 5h0m0-8h0m4-5h0m6 4h0m1 0h0m3 9h0m1-16h0m0-1h0m1 18h0m1-22h0m0 17h0m1-18h0m1 1h0m1 7h0m2-8h0m1 23h0m1-11h0m2-2h0m1 6h0m1-14h0m1-2h0m1 5h0m1-2h0m0 16h0m1-4h0m1-10h0m0 7h0m2 7h0m0 1h0m2-5h0m0-4h0m1 7h0m1-6h0m0 4h0m1 2h0m2-2h0m0 6h0m1 0h0m2-2h0m1-1h0m1 1h0m1-2h0m1 1h0m5-1h0m1 1h0m3-5h0m6 4h0m1 3h0m1-4h0m11 1h0m5 4h0m1 1h0m0 0h0m6-1h0m1-1h0m-327 8h0m1 1h0m1 1h0m1 0h0m4-4h0m0 4h0m1-2h0m0-2h0m9 9h0m0-4h0m3-2h0m1-1h0m0-2h0m0 10h0m22 10h0m28-2h0m16 0h0m11 0h0m3-2h0m22-3h0m2-3h0m4 5h0m13 3h0m11 0h0m62-20h0m3-1h0m7 9h0m2-2h0m1 1h0m3-5h0m3 8h0m1-7h0m0-3h0m1 0h0m3-1h0m0 6h0m0 7h0m1-6h0m1 4h0m1-10h0m1-1h0m2 4h0m0 1h0m5-5h0m3 16h0m2-5h0m1-7h0m0 3h0m0-4h0m0 9h0m1-10h0m1 0h0m1 14h0m4-8h0m2 10h0m7-1h0m0-5h0m0 6h0m0 1h0m2 1h0m1-4h0m1-1h0m1 6h0m1-6h0m0-5h0m1 2h0m1-12h0m3 3h0m3 9h0m0 7h0m2-5h0m0-9h0m1 1h0m2 11h0m3-17h0m1 5h0m1 4h0m0 2h0m1 12h0m0-18h0m1 1h0m0-3h0m0-2h0m0 1h0m1-2h0m0 3h0m0 0h0m3 0h0m0 16h0m1-10h0m1-5h0m0-4h0m0 10h0m1-5h0m1 1h0m1 2h0m0-3h0m0 3h0m0-1h0m0 10h0m0 0h0m1-16h0m1 2h0m1 14h0m1-7h0m0-2h0m0-5h0m0 1h0m0 18h0m1-22h0m0 3h0m1-2h0m0 1h0m2 5h0m0-2h0m1 1h0m1-5h0m1 6h0m0 2h0m2-3h0m1 8h0m0-9h0m1-2h0m0 10h0m2 1h0m0-4h0m0 2h0m1-6h0m0 1h0m0-1h0m1 7h0m1 3h0m0-13h0m0 7h0m2-3h0m0-2h0m0 15h0m1-17h0m0 13h0m1-16h0m0 11h0m1-6h0m0 14h0m0-16h0m0 15h0m1-4h0m2-7h0m0 0h0m0 15h0m2-2h0m1-16h0m0 17h0m0-2h0m1-12h0m0 2h0m2 14h0m1-3h0m1 1h0m1-4h0m1 2h0m1 1h0m0-4h0m0 2h0m2-2h0m1 0h0m5 7h0m8-3h0m-343 19h0m1-8h0m2 11h0m2-17h0m0 8h0m2 0h0m1-4h0m1-3h0m1 11h0m2-2h0m0-2h0m1 4h0m1 1h0m0-8h0m1 11h0m1 3h0m1 2h0m1-17h0m1 1h0m0-1h0m1 13h0m0 0h0m1-7h0m0 1h0m2 5h0m0 6h0m1-16h0m4 13h0m0-8h0m0-12h0m1 8h0m1 14h0m1-10h0m2-5h0m0 8h0m1 6h0m1-10h0m1 8h0m1 3h0m1 0h0m3-1h0m0 0h0m0-4h0m2-4h0m0-1h0m4 5h0m0 3h0m0-11h0m0 4h0m0 2h0m1-2h0m3 8h0m2-3h0m0-8h0m1 4h0m2 2h0m0 6h0m0-12h0m3 4h0m1 5h0m4-6h0m0-13h0m3 11h0m1 12h0m0-22h0m1 19h0m2 3h0m0-17h0m1-4h0m0 9h0m1 12h0m8-15h0m0-1h0m1 12h0m0-5h0m1-7h0m9-5h0m7 16h0m2-3h0m2-1h0m4 8h0m1-3h0m7-5h0m5 4h0m2-8h0m2-3h0m0 3h0m4 0h0m3-9h0m3 3h0m2 15h0m7-19h0m0 23h0m9-14h0m2-2h0m7-2h0m0 8h0m1 9h0m18-2h0m11-9h0m3-1h0m2 0h0m2 13h0m8 0h0m42-2h0m1-14h0m12 6h0m24-9h0m1 1h0m0 16h0m0 1h0m7-17h0m2 2h0m1-6h0m1 3h0m0-2h0m9 0h0m3 4h0m3 13h0m6-16h0m5 6h0m2-6h0m1 0h0m0-1h0m1 5h0m1-2h0m1 4h0m2 0h0m1 1h0m1 5h0m0-11h0m1 7h0m1 1h0m0 1h0m0-5h0m1-2h0m0 7h0m2-10h0m0-3h0m1 17h0m1 6h0m0-7h0m1-5h0m2 7h0m1-16h0m0 1h0m1 6h0m0 1h0m0 5h0m1-6h0m1 11h0m0-18h0m1 1h0m1 9h0m1 4h0m0-7h0m0-1h0m-352 16h0m2 6h0m4 15h0m0-21h0m0 11h0m1 10h0m1-8h0m1-7h0m0 12h0m0 2h0m1 0h0m1-1h0m1-13h0m0 2h0m8 5h0m0 6h0m1-16h0m1 15h0m2-11h0m0-2h0m3-2h0m0 0h0m3 17h0m0-20h0m0 23h0m1-4h0m0-4h0m3 2h0m4-10h0m1 7h0m0 4h0m1-13h0m1-2h0m0 19h0m2-7h0m1-14h0m2 9h0m0 12h0m1-19h0m0 13h0m1-14h0m0 4h0m1 6h0m0 8h0m0-19h0m2 9h0m1-5h0m0-2h0m1 12h0m0 3h0m1 5h0m0-15h0m0 2h0m1 6h0m0-14h0m1 12h0m1-5h0m1 1h0m1-7h0m2 2h0m2 4h0m0-7h0m1 5h0m1 10h0m1-4h0m0-4h0m1-1h0m1 1h0m2-6h0m1 8h0m0 10h0m0-15h0m0 5h0m3 4h0m0 1h0m2-1h0m3-14h0m0 10h0m1 6h0m0-7h0m1 5h0m2-9h0m0-4h0m1 1h0m1 20h0m0-12h0m1 10h0m1-17h0m0-3h0m0 14h0m1-9h0m0-5h0m2 12h0m1 0h0m1 7h0m0-18h0m0 17h0m1 1h0m2-18h0m1 12h0m1 6h0m2-7h0m0-13h0m0 8h0m2 4h0m0 7h0m1-8h0m1 12h0m0-4h0m3 4h0m0-11h0m5 7h0m1 1h0m0-5h0m0-6h0m1 1h0m2-5h0m2 12h0m1-3h0m1-3h0m0 12h0m1-9h0m0-6h0m0 3h0m1-4h0m0 6h0m4 8h0m1-13h0m0 10h0m2-2h0m0-7h0m5 13h0m1-5h0m1 0h0m1 6h0m0 0h0m1-11h0m1 5h0m2 4h0m1-4h0m0 2h0m0-5h0m2 2h0m1-1h0m2 5h0m1 1h0m0-16h0m1 13h0m4-17h0m5 16h0m5 3h0m0-16h0m9 4h0m1-4h0m3 13h0m7-3h0m12-13h0m0 9h0m13-2h0m8 10h0m2-17h0m0 16h0m4-9h0m7 5h0m0-5h0m3-6h0m1 21h0m1-13h0m6 3h0m8-7h0m5 4h0m1 3h0m4 7h0m1-11h0m7 9h0m10 4h0m2-10h0m20 0h0m14-10h0m9 3h0m10-4h0m2 3h0m4 17h0m0-14h0m1 6h0m5-8h0m0 8h0m0-10h0m2 9h0m2 9h0m1 1h0m0-8h0m0 7h0m1 1h0m2-2h0m3-15h0m1-1h0m1 18h0m1-16h0m0 10h0m0 0h0m2-4h0m0-2h0m0-3h0m1 2h0m2 6h0m-351 10h0m1 9h0m1-5h0m0-1h0m1 5h0m1-1h0m5 4h0m1 5h0m0-10h0m1 4h0m0-9h0m1-1h0m1 7h0m0 1h0m1 11h0m0-18h0m2 12h0m0-3h0m0 2h0m1-6h0m1-4h0m0 4h0m3 15h0m0-11h0m1-11h0m1 14h0m1 1h0m0-5h0m1-2h0m1 7h0m1-11h0m4 6h0m0 1h0m1-11h0m1 1h0m0 10h0m1 10h0m1-15h0m2 3h0m0-5h0m1 7h0m2 7h0m0-14h0m3 14h0m0 5h0m1-19h0m0 10h0m3-7h0m0-4h0m1-3h0m0 15h0m0 3h0m2 3h0m0 0h0m2-7h0m0-2h0m0 10h0m1-5h0m1-8h0m0-3h0m0 9h0m1-15h0m1 21h0m2-15h0m1 0h0m1 14h0m1-7h0m0 3h0m3-16h0m0 15h0m2-5h0m1 4h0m1-3h0m1 4h0m1 1h0m0-11h0m1-4h0m1 5h0m1 3h0m2-9h0m0 20h0m1-10h0m0 8h0m2-18h0m1 11h0m0 0h0m0-11h0m0 4h0m1 0h0m0 18h0m1-20h0m1 5h0m0 16h0m0-23h0m1 3h0m0 9h0m1 10h0m1-21h0m0 12h0m3-10h0m2 20h0m0-16h0m2-6h0m0 3h0m1 16h0m1-17h0m0 1h0m0 11h0m1 5h0m1-6h0m1-12h0m0 3h0m1-3h0m0 4h0m0 11h0m1-12h0m0 10h0m1-8h0m1 8h0m0 4h0m1 1h0m1-11h0m1-6h0m1 10h0m1 5h0m2 3h0m3-9h0m0-2h0m0-8h0m1 6h0m1-4h0m4 1h0m0 13h0m1-18h0m0 19h0m3-11h0m1 13h0m1 2h0m1-9h0m0 6h0m1-16h0m0 10h0m4-14h0m2 19h0m1-18h0m1 4h0m0 10h0m0 3h0m1-3h0m1-10h0m0 1h0m1 9h0m0-13h0m1 17h0m2-9h0m1 9h0m1-14h0m1 18h0m1-10h0m1-8h0m0 10h0m1-1h0m2 7h0m2-5h0m0-5h0m0 4h0m2-11h0m1 7h0m2-3h0m0 6h0m1 4h0m2 3h0m2-11h0m1 0h0m1 4h0m1 7h0m0-8h0m2 7h0m0-14h0m1 10h0m0 6h0m0-12h0m5 5h0m1 4h0m3 3h0m1-2h0m1 0h0m2 3h0m1 0h0m1-1h0m2-10h0m3 6h0m3-3h0m0 6h0m1-5h0m0-6h0m0 12h0m1-10h0m0 9h0m0-4h0m2 4h0m2 1h0m1-6h0m2-1h0m3 3h0m6 4h0m4 0h0m3 0h0m4 1h0m12-15h0m2 7h0m8-3h0m1 9h0m3-9h0m14-8h0m6 10h0m2-9h0m9 8h0m22-7h0m3 5h0m6-4h0m7 12h0m23-12h0m1-2h0m2 14h0m2-14h0m2 17h0m1-1h0m1 1h0m0-6h0m0-4h0m1-4h0m0-1h0m2 14h0m0-17h0m1 10h0m0-9h0m1 6h0m0 8h0m0 2h0m1-14h0m1-6h0m1 0h0m1 9h0m0-3h0m-326 21h0m1 5h0m3 3h0m0-7h0m1 1h0m0 1h0m1-2h0m0-1h0m0 5h0m0 0h0m3-3h0m0 5h0m2-8h0m1 4h0m1 9h0m1-10h0m0 5h0m0-8h0m2-1h0m1 4h0m3 2h0m0-2h0m2 10h0m1-1h0m0-13h0m0 17h0m1-3h0m1 6h0m0-20h0m0 8h0m2-10h0m2 14h0m0-3h0m2 6h0m3-7h0m0-7h0m2-2h0m2 1h0m4 9h0m0 0h0m1 8h0m2-1h0m0-5h0m3-2h0m1 5h0m1-7h0m1-3h0m1 12h0m0-15h0m3 1h0m0 5h0m1 7h0m3-2h0m0 9h0m0-15h0m1 13h0m2-18h0m0 15h0m1-2h0m2-2h0m0-3h0m0 5h0m0-9h0m1-3h0m0 1h0m1 2h0m1 5h0m2-8h0m1 18h0m0-18h0m1-2h0m0 1h0m2 0h0m0 3h0m1-1h0m0 11h0m1-6h0m1-2h0m1 0h0m1 9h0m0-7h0m1 2h0m1 5h0m1 1h0m0-15h0m1 1h0m0 18h0m0-13h0m1 9h0m1-16h0m2 7h0m0 8h0m2-17h0m1 11h0m1-10h0m1 17h0m1-3h0m0 6h0m2 0h0m5-6h0m0 5h0m0-6h0m1 2h0m2 4h0m0-9h0m0 2h0m1-9h0m0 4h0m3-6h0m0 16h0m1-17h0m1 21h0m1-21h0m0 12h0m2-4h0m0 8h0m0-13h0m2 16h0m1-20h0m1 10h0m1-7h0m1 15h0m0-17h0m0-1h0m2 22h0m1-4h0m0-11h0m1-2h0m1 4h0m0 5h0m2-6h0m1 12h0m0 0h0m3-1h0m1-17h0m1 21h0m0-6h0m2 4h0m0-1h0m0-7h0m0-1h0m1-5h0m1 16h0m1-18h0m1 16h0m1-6h0m2-1h0m0 3h0m1-7h0m1 2h0m0-1h0m1-11h0m0 10h0m1 8h0m1 1h0m0-13h0m3 15h0m1 1h0m0-15h0m0-7h0m1 14h0m0 3h0m1 2h0m0-19h0m1 14h0m0 8h0m6-14h0m0 6h0m2 2h0m1-4h0m0-3h0m0-5h0m1-2h0m1-1h0m0-1h0m1 4h0m1 1h0m2-3h0m0 8h0m1 6h0m0-13h0m1 3h0m1 8h0m1-9h0m1 0h0m0 17h0m1-13h0m0-1h0m1 2h0m0-1h0m1 9h0m3 3h0m1 2h0m0-11h0m1 10h0m0-15h0m1 12h0m1 1h0m1 0h0m0-7h0m2-4h0m2-7h0m2-1h0m1 4h0m2 18h0m0-8h0m0 6h0m1-1h0m1-13h0m0-1h0m1 6h0m1 7h0m2-10h0m1 9h0m3-11h0m0 13h0m0-9h0m3-6h0m5 11h0m0-13h0m3 9h0m0-6h0m1 14h0m3-6h0m2 4h0m1 2h0m4-3h0m1 5h0m0-17h0m1 14h0m0-3h0m2 6h0m0-2h0m2 3h0m8-15h0m6 0h0m3 0h0m6-4h0m9 17h0m2-16h0m10 4h0m10 14h0m14-1h0m5-18h0m4 19h0m0-19h0m1 13h0m1 2h0m1-4h0m2-15h0m0 5h0m2 3h0m1 15h0m0-18h0m0 13h0m1 4h0m0-22h0m0 17h0m1-17h0m2 8h0m1-6h0m0-2h0m-302 24h0m5 2h0m6 0h0m1 10h0m2-8h0m0 7h0m0-10h0m0 0h0m0 6h0m1 6h0m0-11h0m2 6h0m0-7h0m1 9h0m0 1h0m2 5h0m0-14h0m4-1h0m2 9h0m1-8h0m2 0h0m1 10h0m0 4h0m0-5h0m2-11h0m0 1h0m1 10h0m4-9h0m2 12h0m1 9h0m1-17h0m0-2h0m1 5h0m0 12h0m1-8h0m1 6h0m0-10h0m0-2h0m1 2h0m1 0h0m2 14h0m0-16h0m1 16h0m1 0h0m1-11h0m4 8h0m0-8h0m1-9h0m2-3h0m2 1h0m3 15h0m3-7h0m0-5h0m1 10h0m0 1h0m2-7h0m1-3h0m1-5h0m2 17h0m2-13h0m1-4h0m1 21h0m0-6h0m0 1h0m1-15h0m1 9h0m0 5h0m5 8h0m2-9h0m1-8h0m0 0h0m1 14h0m0-15h0m0 11h0m1-9h0m2-3h0m1 3h0m0 13h0m2-18h0m1 6h0m0 12h0m1-10h0m0 1h0m0-8h0m2 16h0m1-1h0m0-11h0m1 11h0m0-14h0m0 13h0m1-3h0m1 4h0m0-10h0m1-3h0m0 14h0m1-2h0m0-2h0m4 2h0m1-4h0m4 0h0m1 6h0m1-2h0m0 4h0m3-3h0m2 4h0m0-21h0m0 3h0m1 6h0m1-9h0m0 21h0m0-12h0m2 3h0m1-10h0m1 5h0m0-2h0m1 9h0m0 4h0m4-11h0m0 9h0m0-9h0m1 15h0m3 0h0m2-5h0m1 5h0m1-3h0m2 0h0m1-18h0m0 16h0m0-7h0m0 1h0m1-12h0m0 5h0m1 5h0m1 2h0m1-5h0m0 4h0m5-7h0m0 14h0m5-2h0m0 1h0m1-15h0m1-1h0m4 6h0m1-3h0m3 18h0m0-22h0m2 6h0m1 2h0m1-5h0m2 19h0m1-18h0m1-2h0m0 11h0m1-4h0m1-4h0m0 14h0m1-2h0m1-11h0m0 12h0m0-6h0m2-5h0m1-2h0m1 6h0m0-5h0m0 15h0m1-10h0m0 8h0m0-14h0m1 1h0m2 11h0m3 0h0m1 2h0m1-9h0m3 5h0m1-5h0m0 3h0m1 10h0m1-1h0m0-4h0m0-14h0m1 3h0m0 14h0m0-3h0m2-18h0m0 7h0m1 12h0m0-11h0m1 9h0m2 0h0m1 6h0m1-17h0m1 12h0m1 0h0m1-7h0m2-4h0m1 2h0m2 7h0m0-3h0m0 8h0m1-1h0m1-3h0m1-11h0m1 5h0m1-3h0m0 5h0m0 7h0m1-14h0m1 11h0m1 3h0m0-7h0m3 6h0m1-5h0m1-5h0m0 13h0m1-11h0m2-2h0m2 4h0m2 8h0m0 0h0m0-3h0m1 4h0m1-20h0m8 19h0m5-19h0m19 17h0m18-1h0m2-9h0m1-9h0m1 4h0m0 2h0m0-5h0m0 15h0m1 0h0m2-14h0m0 8h0m1-6h0m3 2h0m1-3h0m-268 22h0m6 4h0m1-2h0m1-1h0m1 5h0m0-4h0m5 7h0m2-7h0m3 12h0m3-8h0m3 3h0m0-1h0m0-9h0m1 17h0m1-2h0m1 4h0m2-6h0m2 2h0m0 6h0m1-15h0m1 8h0m0-6h0m0-6h0m0 3h0m1 3h0m0 3h0m0-4h0m3 12h0m0-11h0m1-7h0m2-1h0m0 6h0m1-3h0m1 19h0m1-8h0m1-8h0m1 7h0m6 0h0m3-10h0m1 14h0m2-10h0m1-3h0m1-2h0m10 9h0m1-5h0m0-2h0m1 15h0m1-9h0m1-5h0m0-5h0m1 1h0m1 7h0m0 11h0m0-7h0m0-7h0m0 13h0m0-7h0m1 0h0m0-6h0m2 18h0m1-10h0m0-9h0m1-2h0m1 18h0m0 2h0m0-19h0m1 15h0m0-16h0m2 12h0m1 9h0m0-21h0m0 14h0m2 7h0m0-3h0m2 0h0m4-12h0m0 7h0m1 7h0m1-1h0m0-12h0m3-5h0m1 13h0m0 3h0m0 1h0m2-8h0m1-7h0m1 14h0m0-3h0m2-4h0m1 4h0m0-3h0m1 5h0m0-4h0m1-13h0m0 12h0m1-5h0m2 3h0m2 9h0m1-13h0m0 4h0m1-2h0m2-2h0m0 0h0m0 13h0m1-3h0m1-7h0m3 12h0m2-2h0m1-6h0m2-5h0m1-4h0m1-4h0m2-2h0m0 2h0m1 18h0m2-12h0m0 8h0m2 5h0m2-18h0m2 11h0m0-14h0m0 16h0m0 6h0m1-22h0m0 4h0m1 14h0m1-2h0m1-3h0m0 3h0m1-2h0m0-3h0m0-8h0m2 13h0m4-16h0m1 15h0m1-13h0m2 3h0m2 10h0m0 2h0m1-12h0m1 16h0m0-21h0m3 9h0m3 11h0m1-18h0m0 17h0m4 1h0m1-8h0m2 3h0m0 6h0m0-9h0m3-6h0m2 12h0m0-15h0m3 9h0m0-1h0m1 0h0m0 5h0m0 2h0m1-18h0m2 14h0m2-10h0m0-3h0m2 3h0m1 10h0m1 6h0m1-2h0m1-1h0m1-7h0m0 12h0m2-11h0m0 6h0m0 0h0m1-5h0m3-5h0m0 9h0m2 0h0m2-4h0m1 9h0m1-16h0m1 7h0m3-8h0m0 16h0m0-17h0m1 17h0m1-12h0m0-2h0m1 11h0m0 2h0m0-18h0m1 11h0m0 9h0m0-6h0m2-7h0m1 14h0m2-1h0m0-1h0m0 3h0m0-19h0m3 19h0m0-19h0m0 13h0m1-9h0m3 11h0m0 2h0m1-1h0m3 1h0m1-7h0m1 1h0m2 4h0m2-4h0m2-6h0m1 9h0m2-2h0m1 4h0m2 3h0m8-13h0m1 5h0m1-12h0m1 14h0m1-4h0m1 4h0m0-16h0m2 10h0m1-2h0m1 7h0m0-5h0m1 9h0m-219 9h0m1 1h0m3-1h0m2-5h0m1 10h0m0-3h0m1-3h0m3 7h0m2-10h0m0 5h0m3-2h0m1 8h0m0 2h0m2 0h0m1-4h0m1 1h0m1-1h0m0-3h0m2 6h0m0-10h0m2 11h0m2 7h0m3-7h0m0-10h0m1 6h0m2 9h0m1 1h0m1-18h0m1 19h0m0-9h0m1-5h0m1 16h0m1-22h0m0 10h0m1-1h0m0 11h0m1-7h0m1 7h0m1-4h0m1 1h0m1-12h0m0 8h0m0 2h0m1-10h0m1 14h0m2-1h0m2-4h0m1 3h0m1-14h0m0 13h0m0-4h0m1 8h0m2-4h0m0 0h0m0-11h0m1 5h0m1-4h0m0 13h0m0-9h0m1 10h0m0-8h0m0 2h0m1 1h0m1 7h0m0-19h0m2 5h0m2 13h0m0-13h0m1-5h0m2 14h0m0-2h0m2-13h0m1 19h0m1-15h0m1 15h0m0-22h0m1 20h0m0-18h0m1-1h0m2 4h0m1 11h0m1-1h0m1-7h0m0 9h0m1-13h0m0 2h0m0 7h0m1-2h0m0 4h0m1-14h0m0 12h0m0 8h0m2-9h0m0-9h0m1 11h0m1 8h0m0-20h0m0 15h0m1-10h0m1 8h0m0 2h0m4-12h0m0 12h0m1-1h0m1-3h0m1-11h0m0 13h0m0-1h0m0 1h0m1 2h0m1-5h0m2-6h0m1 4h0m0-6h0m0 16h0m1 0h0m1 3h0m2-16h0m0-6h0m0 8h0m1-7h0m0 21h0m3-22h0m0-1h0m1 5h0m0 15h0m1-15h0m2 16h0m1 0h0m0-14h0m1 6h0m0-9h0m1 18h0m0-6h0m1-6h0m1 4h0m1-6h0m2-7h0m2-1h0m1 14h0m2-5h0m1 7h0m4 3h0m0-11h0m1 13h0m0-8h0m1-10h0m1 7h0m1 7h0m0 3h0m0-4h0m1-11h0m3 8h0m0 4h0m1-4h0m4 7h0m1 2h0m2 0h0m1-20h0m4-1h0m1 10h0m2 7h0m0-8h0m3-10h0m0 21h0m0-7h0m1 0h0m2 1h0m0 2h0m0 2h0m2-8h0m1 6h0m1-16h0m1 19h0m1-18h0m0 13h0m0 2h0m2-1h0m0-8h0m1 4h0m0-5h0m1 14h0m1-14h0m0 1h0m1 10h0m2-16h0m0 7h0m0 4h0m0-7h0m1 11h0m1-10h0m1 13h0m0 1h0m0-12h0m1 3h0m1 8h0m0 0h0m0 2h0m1-9h0m0-13h0m1 2h0m2 18h0m0-13h0m1 15h0m3-1h0m0-7h0m0 1h0m0-2h0m1-9h0m0 17h0m1-14h0m1 13h0m2-19h0m1 15h0m0-4h0m1-3h0m1-3h0m0 5h0m0-5h0m0 5h0m1-4h0m1 0h0m0 13h0m4-6h0m0-14h0m1 9h0m2 10h0m1 4h0m0-12h0m2 4h0m1 5h0m1-20h0m0 0h0m1 22h0m1-10h0m0-3h0m1 7h0m2-8h0m0-3h0m2 4h0m0 4h0m1-1h0m-178 13h0m0 2h0m2-3h0m6 3h0m4-3h0m2 4h0m1 0h0m1 0h0m3-1h0m3 4h0m4-2h0m2 8h0m1-13h0m0 13h0m0 0h0m1-7h0m1 11h0m0-3h0m4 0h0m0-7h0m3 12h0m1-19h0m1 6h0m1-5h0m2-1h0m1 11h0m1 1h0m0-1h0m2 4h0m1-14h0m0 8h0m1-4h0m1 14h0m0-1h0m2-1h0m0-2h0m1-13h0m1 19h0m2-1h0m1-8h0m1-9h0m0 2h0m0 4h0m1 8h0m1-2h0m1-14h0m0-1h0m2 1h0m1 12h0m0-13h0m1 20h0m1-8h0m0 1h0m1 2h0m1-1h0m0-6h0m1 6h0m0 4h0m1-18h0m1 8h0m0 0h0m1 12h0m1-8h0m2-9h0m1-1h0m0 3h0m0 2h0m1-7h0m2 3h0m1 1h0m0 3h0m1-5h0m0 1h0m1 5h0m1 13h0m0-19h0m0 2h0m0 18h0m2 1h0m1-13h0m0-7h0m1 20h0m3-14h0m0 7h0m0 5h0m2-9h0m0-2h0m1 7h0m0-2h0m0-7h0m3-7h0m3-1h0m0 1h0m1 0h0m0 15h0m0-14h0m0 6h0m0 12h0m2-9h0m1-3h0m2 1h0m1-1h0m0 14h0m0-6h0m0-4h0m1-3h0m0-1h0m0 12h0m2-9h0m0 10h0m0-13h0m1 2h0m1 4h0m2-13h0m1 7h0m0 7h0m1 7h0m0-4h0m1-5h0m1 10h0m0-17h0m1 11h0m0-5h0m1-11h0m3 22h0m3-3h0m0-1h0m1-13h0m2 11h0m0-3h0m1-5h0m2 6h0m1 1h0m1-13h0m1 19h0m0-4h0m1-13h0m3 9h0m0-10h0m1 9h0m1 8h0m0-1h0m1 1h0m0-10h0m1-10h0m3 8h0m0-8h0m1 12h0m0-2h0m0 9h0m3-7h0m1 2h0m0-8h0m0-2h0m1-5h0m0 19h0m1 2h0m0-7h0m3-9h0m0 16h0m0-17h0m2 8h0m2 3h0m0-1h0m4-9h0m1 13h0m0-18h0m0 15h0m0-5h0m1 8h0m1 1h0m0-18h0m2 6h0m1 12h0m0-14h0m0-3h0m1 8h0m4-4h0m-100 20h0m15 0h0m0 1h0m3-1h0m5 0h0m2 2h0m1 4h0m1-3h0m2-3h0m0 8h0m1-9h0m2-1h0m5 6h0m0-6h0m0 12h0m2-7h0m1 8h0m2-4h0m0-2h0m2 6h0m4-1h0m4-3h0m2-1h0m0 4h0m2-10h0m2 4h0m2 3h0m4-7h0m2 4h0m8-6h0m0 5h0m0 0h0m13-5h0"/>
<path transform="scale(0.5)" stroke="#D68E17" stroke-width="6.0" d="M720 1849h0m8 17h0m1 0h0m4-10h0m0 7h0m0 1h0m1 7h0m0 0h0m15-10h0m6 1h0m8-11h0m8-2h0m3 7h0m20-5h0m2-1h0m0 7h0m2-8h0m0 12h0m4 0h0m0-2h0m2-7h0m1-2h0m1 6h0m2-3h0m1 5h0m0 7h0m1-5h0m0 2h0m0-11h0m3 4h0m1 15h0m0-7h0m0-13h0m1 18h0m1 2h0m1-2h0m2 0h0m0-8h0m2 3h0m2-5h0m0 9h0m3-8h0m7 8h0m1-7h0m0-12h0m4 1h0m1 15h0m1-2h0m3-13h0m1-1h0m0 10h0m2-10h0m1 15h0m4 5h0m2-16h0m1 14h0m1-3h0m4-7h0m0 6h0m0-5h0m1 9h0m0 4h0m3-14h0m7 11h0m1-1h0m2 3h0m1 0h0m5-1h0m-223 24h0m3-1h0m3 1h0m1 0h0m1 3h0m7-1h0m1-3h0m1 2h0m1-1h0m2-5h0m0 5h0m1 1h0m2 0h0m1-3h0m1-6h0m1 1h0m1 3h0m4 1h0m1 5h0m1 1h0m3-10h0m0 0h0m1 7h0m1-2h0m5-4h0m0 4h0m2 1h0m0 0h0m1-2h0m2 4h0m0-5h0m1 4h0m31-5h0m4-12h0m17 10h0m7 0h0m3-12h0m1 14h0m8-4h0m7-7h0m2 9h0m13-2h0m0 4h0m1 4h0m0-14h0m2 8h0m2 7h0m0-7h0m1 7h0m0-6h0m2-1h0m0-12h0m1 5h0m0 5h0m1-8h0m1 11h0m2 3h0m0-10h0m1 6h0m0-4h0m1-2h0m0 8h0m1 0h0m1-13h0m1 7h0m1-6h0m0 16h0m1-12h0m0-1h0m2 14h0m1-11h0m3 0h0m0 10h0m2-16h0m10 15h0m2 5h0m0-20h0m4 8h0m6-11h0m3 17h0m7-6h0m1 4h0m1 3h0m1 1h0m0-4h0m0-6h0m2 0h0m1-3h0m0 2h0m1 8h0m1-5h0m1-11h0m0 10h0m2-7h0m1 14h0m0 3h0m1-5h0m2-14h0m1 5h0m4 17h0m0-19h0m1 3h0m1 1h0m1 0h0m1 10h0m3-12h0m0 11h0m1-8h0m1 1h0m1 7h0m1 4h0m0-9h0m1-1h0m2 8h0m-243 17h0m1-4h0m1-5h0m1-3h0m0 17h0m0 0h0m1-10h0m0 4h0m3 10h0m1-7h0m2 4h0m1-8h0m0 7h0m1-7h0m0-9h0m0 5h0m3 0h0m0 12h0m2 2h0m1-1h0m1 1h0m1-5h0m1 3h0m1-1h0m0-14h0m1 18h0m1-20h0m0 9h0m0-8h0m2 10h0m0 11h0m0-12h0m1 9h0m1-17h0m0 13h0m3-13h0m3 17h0m1-12h0m0 7h0m0 5h0m1-10h0m0 10h0m1 3h0m1-22h0m0 20h0m1-7h0m0 6h0m1-9h0m2 8h0m1-18h0m1 2h0m1 10h0m4-7h0m0 11h0m0-7h0m2-9h0m1 4h0m1 13h0m1-17h0m4 10h0m1-1h0m2-8h0m13 3h0m2 5h0m1 11h0m6-3h0m22-8h0m13 6h0m7-9h0m1 11h0m7-13h0m5 14h0m1 3h0m6-18h0m0 3h0m2 8h0m1 6h0m3-7h0m0-7h0m1-2h0m0 0h0m0-5h0m2 3h0m0 7h0m2-10h0m3 1h0m12 3h0m1 16h0m4-3h0m7-14h0m2-1h0m0 17h0m7-6h0m2-2h0m1 0h0m2 4h0m3-8h0m0 10h0m4-1h0m6 0h0m1 0h0m3-6h0m2 2h0m0 0h0m1 10h0m0-13h0m1-4h0m1 6h0m0 8h0m0-10h0m1 6h0m2 8h0m1-9h0m1-11h0m1 12h0m1-5h0m1-2h0m0-1h0m0 15h0m4-6h0m2-9h0m0 1h0m1 13h0m0-20h0m2 9h0m2 10h0m0-18h0m1 3h0m0 8h0m1-12h0m0 12h0m1-6h0m1 5h0m-279 28h0m4 5h0m6-1h0m7 0h0m1-10h0m3 6h0m1-1h0m2-3h0m2 2h0m0-8h0m0 8h0m3 7h0m0-6h0m0-3h0m3 11h0m3-6h0m0-9h0m2 11h0m4 2h0m0-8h0m2 0h0m1 10h0m0-2h0m1-10h0m3 11h0m0-5h0m0-10h0m1 14h0m1-5h0m1 2h0m2 2h0m3 0h0m0 3h0m1-2h0m1 0h0m0-6h0m0-7h0m0 1h0m0 2h0m1 12h0m0-8h0m1-7h0m4 0h0m2 14h0m1 1h0m0-9h0m3 9h0m0-1h0m9-19h0m0 1h0m1 8h0m4 9h0m6 1h0m2-11h0m4-5h0m1 11h0m5-9h0m4 5h0m4 6h0m1-8h0m2-8h0m1 6h0m3 1h0m1 12h0m2-5h0m0 3h0m6-6h0m3-5h0m17-5h0m0 9h0m5-6h0m8-3h0m4 19h0m1-3h0m1-3h0m0-4h0m2 7h0m1-9h0m0-1h0m1 3h0m1 4h0m1-3h0m0-6h0m2 11h0m1-15h0m1-1h0m0 9h0m2-11h0m0 2h0m1 0h0m3 0h0m0 5h0m1-7h0m0 1h0m3 1h0m33 12h0m1 7h0m1-19h0m1 14h0m1-16h0m0 13h0m1 3h0m1-11h0m3 2h0m8-8h0m0 9h0m5 10h0m0-6h0m1 10h0m0-15h0m1 10h0m1-4h0m4 5h0m1-12h0m1-4h0m1 9h0m0 0h0m0 4h0m2 1h0m0 5h0m1-21h0m2 6h0m0-6h0m1 1h0m1 3h0m1 11h0m0-10h0m0-6h0m1 4h0m0 11h0m2-14h0m0 19h0m0-14h0m0-6h0m0 3h0m1 1h0m0-3h0m1 17h0m1-5h0m1-9h0m2 19h0m1-9h0m0-4h0m0-7h0m0 10h0m1-2h0m0-4h0m2 11h0m3-17h0m1 14h0m0-6h0m6-9h0m2 3h0m-283 26h0m0-1h0m3 8h0m1-12h0m1 18h0m2-6h0m0-4h0m1-8h0m0 20h0m0-20h0m1 20h0m1-19h0m0 17h0m1-14h0m1 16h0m0-7h0m0-2h0m1 5h0m0-2h0m1-5h0m2 10h0m0-10h0m1 4h0m0-3h0m4 8h0m0-14h0m0 16h0m0-1h0m1-12h0m1 7h0m1 1h0m1 2h0m0 5h0m0-21h0m2 2h0m1 13h0m0-15h0m3 5h0m3 11h0m1 5h0m1-13h0m3-9h0m0 11h0m1-2h0m0 0h0m2-6h0m0 2h0m1 5h0m0-5h0m0 0h0m1 12h0m0-8h0m0 2h0m2 4h0m0-1h0m1-10h0m0-4h0m1 2h0m1 21h0m0-5h0m0-8h0m0 9h0m0-10h0m1 9h0m0-18h0m2 13h0m0 5h0m0 3h0m0-6h0m1 5h0m1-15h0m0 13h0m0-11h0m0-4h0m4 10h0m0-6h0m0 10h0m1-9h0m1 10h0m0-1h0m1 1h0m0-1h0m1-9h0m0 2h0m1 6h0m1-9h0m0 0h0m0 7h0m1-13h0m0 13h0m1 4h0m0-5h0m1 4h0m0-10h0m1 13h0m0-7h0m1-2h0m1-6h0m1 6h0m0 3h0m1-10h0m0 5h0m2 8h0m12 2h0m3 3h0m0-13h0m3 1h0m2-4h0m11 8h0m1-2h0m3 9h0m1-11h0m4 0h0m0 4h0m1-1h0m8 7h0m0-17h0m5-1h0m3 2h0m1-4h0m5 13h0m2-3h0m0 4h0m4-1h0m2-1h0m0 0h0m0 0h0m3-3h0m2-6h0m2 6h0m6-9h0m1 1h0m2 3h0m1 0h0m32 19h0m3-21h0m3 17h0m3-2h0m2 0h0m4 3h0m1-3h0m0-1h0m2 0h0m4 2h0m0-7h0m0 4h0m2 8h0m0-12h0m1-1h0m1 12h0m0-14h0m1 2h0m1 3h0m0 1h0m2 5h0m0-6h0m0 6h0m0-4h0m1 2h0m0-11h0m1 2h0m0 3h0m0 0h0m1-5h0m0 6h0m1-2h0m1 1h0m0-9h0m0 10h0m1-10h0m0 20h0m1-2h0m1-13h0m0 2h0m2 3h0m0-7h0m1-4h0m1 3h0m1-4h0m0 2h0m2 21h0m2-17h0m0 17h0m1-21h0m1 20h0m0 0h0m2-18h0m1 8h0m1 6h0m0-4h0m0 5h0m0-1h0m3-1h0m1-6h0m1-8h0m1 5h0m1-1h0m6 0h0m1-4h0m-224 42h0m1-14h0m2 0h0m1 3h0m24 5h0m4 6h0m3-5h0m45 6h0m83-15h0m1-7h0m0 3h0m7 3h0m6-6h0m6 3h0m5 2h0m-168 42h0m0-5h0m2-7h0m1 11h0m1-8h0m0-1h0m2 0h0m4-5h0m3 7h0m0-5h0m1 10h0m1-13h0m1-3h0m0 8h0m1-7h0m2 2h0m1 13h0m1-14h0m2 6h0m1 7h0m2-9h0m0 0h0m1 13h0m0-7h0m2-2h0m0 5h0m0-7h0m1 11h0m1-7h0m1 4h0m1-14h0m1 15h0m0-3h0m0 5h0m2-9h0m0-1h0m1 9h0m2-15h0m1 2h0m1 1h0m18-1h0m-59 15h0m2 5h0m2-2h0m10-2h0m2 1h0m4-1h0m4 5h0m1-6h0m6 4h0m4-4h0m109 22h0m2-1h0m2-3h0m-7 12h0m1-2h0m0-2h0m1 7h0m0-9h0m4 4h0m0-2h0m1 5h0m2 9h0m3-10h0m0 3h0m0 12h0m0-8h0m2-9h0m9 5h0m3-2h0m5 1h0m1 13h0m2 1h0m15-10h0m1-2h0m9 13h0m1-4h0m3 4h0m0-6h0m3 5h0m0-19h0m5 14h0m2-11h0m0-2h0m0-4h0m1 3h0m0 1h0m1 1h0m1 5h0m40 8h0m4 2h0m1-3h0m0 4h0m-123 15h0m1 4h0m1-3h0m1-3h0m1-8h0m1 18h0m1 3h0m0-21h0m0-1h0m2 0h0m0 16h0m1-13h0m1 18h0m0-17h0m3 2h0m11 4h0m14 9h0m3 2h0m1-6h0m0 2h0m1 4h0m2-19h0m2 17h0m2 0h0m4-12h0m4 0h0m2-7h0m1 8h0m6-7h0m0-1h0m4 4h0m60-4h0m3 4h0m1 0h0m2-4h0m13 7h0m2 4h0m2-6h0m0 6h0m1-2h0m4 6h0m2-3h0m1 1h0m1-1h0m0 1h0m3 4h0m2 1h0m5-3h0m-178 28h0m4-2h0m0 0h0m1-13h0m2 15h0m0-16h0m0 15h0m1-12h0m1-3h0m2 4h0m4-5h0m1 17h0m4 1h0m1-8h0m2 7h0m1 1h0m0-7h0m7-4h0m2 3h0m6-3h0m1 1h0m1-10h0m1 5h0m6-1h0m0-4h0m4 1h0m1-2h0m2 0h0m117 0h0m-179 42h0m3-1h0m0-9h0m0 6h0m2-4h0m0 4h0m1-2h0m2-12h0m1 3h0m1 5h0m3-8h0m1 4h0m9-4h0"/>
<path transform="scale(0.5)" stroke="#A69A27" stroke-width="6.0" d="M522 1774h0m3 0h0m2 0h0m2 1h0m1-1h0m1 0h0m5-2h0m0 0h0m2 2h0m0-10h0m3 8h0m0-6h0m1 3h0m0 0h0m1 0h0m1-1h0m0 1h0m1 0h0m1-5h0m0 9h0m2-1h0m0-5h0m5 7h0m1-7h0m0-7h0m4 5h0m1 2h0m0-7h0m0 7h0m5 6h0m0-12h0m1 0h0m0 7h0m0-8h0m2 2h0m1 2h0m0 9h0m2 0h0m0-7h0m1-2h0m2 3h0m0-1h0m1-5h0m0 5h0m0 8h0m0-16h0m2 7h0m1-2h0m1 0h0m1 10h0m0-14h0m3 12h0m2-2h0m0-4h0m1-4h0m5-3h0m1 6h0m1 10h0m0-17h0m0 3h0m1 0h0m1 10h0m0-14h0m1 13h0m0-6h0m2-3h0m0 5h0m0-3h0m0 3h0m1 9h0m0-13h0m3-4h0m1 18h0m1-6h0m1 1h0m2 0h0m0 1h0m1-1h0m1-8h0m0 0h0m1 7h0m1-5h0m0-8h0m0 12h0m2-1h0m1-6h0m0 6h0m5-2h0m1 5h0m0-12h0m1 10h0m2 1h0m1-3h0m0-8h0m4 15h0m3-1h0m2-8h0m0 1h0m3-8h0m1 6h0m0 10h0m0-6h0m1-5h0m1 1h0m1 0h0m0 3h0m3 1h0m1-10h0m1 2h0m1 1h0m0-2h0m2 6h0m3-6h0m0 3h0m1 7h0m1 2h0m2-10h0m1 6h0m3-1h0m0 5h0m3-10h0m1 5h0m0-1h0m2-4h0m1 3h0m1 5h0m1 0h0m1 2h0m2-11h0m3 5h0m1 3h0m1-4h0m0 4h0m2-12h0m2 0h0m0 10h0m0 6h0m1 0h0m0-3h0m0 0h0m1 1h0m0 0h0m0 4h0m1-3h0m1 1h0m0-7h0m1 3h0m1 5h0m0-3h0m4-9h0m1 4h0m0-6h0m1 5h0m0 12h0m1-11h0m0-9h0m2 8h0m2-1h0m2-5h0m0 14h0m1-5h0m0 4h0m1-10h0m3 3h0m5 1h0m0 3h0m3-10h0m1 7h0m0 6h0m1-3h0m1-8h0m2 0h0m1-1h0m2 12h0m2-8h0m0 3h0m1 1h0m7-6h0m1 2h0m0 5h0m0-9h0m1 12h0m1-12h0m1 3h0m2 0h0m0 5h0m1-1h0m1 4h0m1-7h0m1-4h0m2 1h0m0 10h0m3 0h0m0-3h0m1-6h0m4 6h0m4 4h0m2 0h0m0-10h0m1 9h0m1-6h0m1-4h0m0 13h0m2-5h0m3-2h0m0 5h0m3 2h0m1-8h0m1 0h0m3 6h0m0-2h0m2-5h0m1 5h0m1 4h0m2 2h0m0-3h0m4-5h0m2-3h0m4 2h0m1 5h0m4-3h0m7 7h0m-342 24h0m2 0h0m7-3h0m7-2h0m1 1h0m3-2h0m1 2h0m0-2h0m3-2h0m2 2h0m2-2h0m2 1h0m1 0h0m2-5h0m2 0h0m0-1h0m1 1h0m5-2h0m1 1h0m4-2h0m0 0h0m0 0h0m5-2h0m2-3h0m8 0h0m8-1h0m69-1h0m85 1h0m1 1h0m2 4h0m2 0h0m3 7h0m0-9h0m3 4h0m0-5h0m1 3h0m0 8h0m2-11h0m1 9h0m3-6h0m0 6h0m1-9h0m0 11h0m1-12h0m0 19h0m1-14h0m1 3h0m0-3h0m0 14h0m3-2h0m1-6h0m2 8h0m0 1h0m1-4h0m1 0h0m0-2h0m3-3h0m0 8h0m1-8h0m1 4h0m1-5h0m1 6h0m2 1h0m1 1h0m6-2h0m57-18h0m6 2h0m4 0h0m2 1h0m6-2h0m1 4h0m-397 41h0m2-2h0m7-3h0m0 1h0m3-1h0m1-1h0m0-2h0m1 1h0m0 3h0m2-1h0m1-5h0m1-1h0m3 1h0m1 2h0m2-6h0m3 4h0m1-4h0m0 1h0m1-2h0m3 2h0m1-1h0m1 1h0m0-2h0m6-2h0m0-2h0m3 3h0m1-3h0m4-2h0m1 0h0m0 3h0m3-3h0m1-1h0m3 0h0m250 0h0m4 2h0m7 11h0m1-9h0m1-2h0m0 13h0m2-13h0m1 6h0m1 3h0m2-3h0m2 1h0m2-6h0m0 10h0m4 2h0m0-8h0m2 3h0m0 3h0m0 0h0m3 3h0m1-9h0m0 0h0m1 10h0m0-13h0m2 14h0m0 3h0m2-3h0m2 2h0m0-3h0m1-2h0m0 6h0m2 0h0m1-1h0m3 0h0m1-6h0m1 9h0m1 0h0m5-5h0m5 4h0m2-2h0m1-3h0m7 6h0m-409 23h0m2 0h0m2 1h0m3-5h0m1-2h0m1 6h0m3-7h0m1 4h0m0-5h0m1-2h0m0-1h0m3 4h0m3-7h0m1 3h0m1-4h0m0 5h0m2-3h0m3-1h0m0-5h0m0 2h0m0 3h0m1-1h0m1-3h0m0-3h0m0 2h0m0 3h0m1-5h0m2 1h0m2-1h0m1-1h0m0 3h0m301 4h0m14-1h0m22 4h0m17 7h0m0 1h0m1-6h0m1-9h0m1 1h0m0-1h0m1 1h0m4 0h0m1-1h0m6 1h0m1 2h0m0-2h0m2 2h0m2-3h0m1-3h0m0 3h0m5 1h0m1 17h0m1-2h0m0 1h0m1-13h0m1 5h0m1-5h0m2 8h0m0-1h0m0-9h0m1 8h0m1 4h0m2-1h0m4 6h0m1-1h0m1-7h0m1 6h0m0-5h0m0 1h0m1 2h0m1 3h0m-445 15h0m0 0h0m2 2h0m2 0h0m0-4h0m1-4h0m1 2h0m2 4h0m0-7h0m1 0h0m0-3h0m0 0h0m0 5h0m0-2h0m2 2h0m1-7h0m0 5h0m1-1h0m437-4h0"/>
</g>
<g fill="none" stroke-width="4.2" stroke-dasharray="13 8.5">
<rect x="169.6" y="858.3" width="111.2" height="73.4" stroke="#8E1AF0"/>
<rect x="288.2" y="858.3" width="111.1" height="73.4" stroke="#6CC42A"/>
</g>
<g fill="#8A8A8A">
<text x="135.7" y="786.4" font-size="18.59" text-anchor="end">10</text>
<text x="135.7" y="870.3" font-size="18.59" text-anchor="end">5</text>
<text x="135.7" y="954.2" font-size="18.59" text-anchor="end">0</text>
<text x="135.7" y="1038.1" font-size="18.59" text-anchor="end">-5</text>
<text x="135.7" y="1122.0" font-size="18.59" text-anchor="end">-10</text>
<text x="151.4" y="1212.5" font-size="18.59" text-anchor="middle">-8</text>
<text x="210.1" y="1212.5" font-size="18.59" text-anchor="middle">-6</text>
<text x="268.9" y="1212.5" font-size="18.59" text-anchor="middle">-4</text>
<text x="327.6" y="1212.5" font-size="18.59" text-anchor="middle">-2</text>
<text x="387.6" y="1212.5" font-size="18.59" text-anchor="middle">0</text>
<text x="446.3" y="1212.5" font-size="18.59" text-anchor="middle">2</text>
<text x="505.0" y="1212.5" font-size="18.59" text-anchor="middle">4</text>
<text x="563.8" y="1212.5" font-size="18.59" text-anchor="middle">6</text>
<text x="622.5" y="1212.5" font-size="18.59" text-anchor="middle">8</text>
</g>
<text x="90.6" y="989.5" font-size="24.41" font-weight="bold" transform="rotate(-90 90.6 989.5)">UMAP2</text>
<text x="343.2" y="1242.4" font-size="24.37" font-weight="bold">UMAP1</text>
<text x="-1.4" y="815.2" font-size="62.00" font-weight="bold">c</text>
<circle cx="122" cy="1285.6" r="18.3" fill="#1565A8" stroke="#000" stroke-width="3"/>
<circle cx="123" cy="1353" r="18.3" fill="#E09A27" stroke="#000" stroke-width="3"/>
<circle cx="121.5" cy="1421.9" r="18.3" fill="#A89A2A" stroke="#000" stroke-width="3"/>
<text x="172.9" y="1297.5" font-size="32.54" font-weight="bold">Cluster 1: <tspan font-style="italic" font-weight="normal">FOLH1</tspan><tspan font-weight="normal">-High</tspan></text>
<text x="173.5" y="1362.7" font-size="32.48" font-weight="bold">Cluster 2: <tspan font-style="italic" font-weight="normal">FOLH1</tspan><tspan font-weight="normal">-Moderate</tspan></text>
<text x="178.0" y="1431.4" font-size="32.43" font-weight="bold">Cluster 3: <tspan font-style="italic" font-weight="normal">FOLH1</tspan><tspan font-weight="normal">-low</tspan></text>
<g stroke="#F0F0F0" stroke-width="1">
<line x1="818" y1="1280.8" x2="1199" y2="1280.8"/>
<line x1="818" y1="1216.5" x2="1199" y2="1216.5"/>
<line x1="818" y1="1152.2" x2="1199" y2="1152.2"/>
<line x1="818" y1="1087.9" x2="1199" y2="1087.9"/>
<line x1="818" y1="1023.6" x2="1199" y2="1023.6"/>
</g>
<polygon points="877.8,985.0 877.8,986.8 877.7,988.6 877.7,990.4 877.7,992.2 877.6,994.0 877.6,995.9 877.5,997.7 877.5,999.5 877.5,1001.3 877.5,1003.1 877.4,1004.9 877.4,1006.7 877.4,1008.5 877.4,1010.3 877.3,1012.1 877.3,1014.0 877.3,1015.8 877.3,1017.6 877.2,1019.4 877.2,1021.2 877.2,1023.0 877.2,1024.8 877.1,1026.6 877.1,1028.4 877.1,1030.2 877.0,1032.0 876.9,1033.9 876.9,1035.7 876.8,1037.5 876.7,1039.3 876.7,1041.1 876.6,1042.9 876.5,1044.7 876.4,1046.5 876.4,1048.3 876.3,1050.1 876.2,1052.0 876.0,1053.8 875.9,1055.6 875.8,1057.4 875.7,1059.2 875.6,1061.0 875.4,1062.8 875.3,1064.6 875.0,1066.4 874.8,1068.2 874.6,1070.0 874.3,1071.9 874.0,1073.7 873.8,1075.5 873.5,1077.3 873.2,1079.1 872.9,1080.9 872.6,1082.7 872.3,1084.5 872.0,1086.3 871.7,1088.1 871.4,1090.0 871.1,1091.8 870.8,1093.6 870.5,1095.4 870.2,1097.2 869.9,1099.0 869.5,1100.8 869.2,1102.6 868.9,1104.4 868.6,1106.2 868.3,1108.0 867.9,1109.9 867.6,1111.7 867.3,1113.5 866.9,1115.3 866.6,1117.1 866.3,1118.9 865.9,1120.7 865.5,1122.5 865.1,1124.3 864.7,1126.1 864.2,1128.0 863.8,1129.8 863.4,1131.6 863.0,1133.4 862.5,1135.2 862.1,1137.0 861.6,1138.8 861.1,1140.6 860.6,1142.4 860.1,1144.2 859.7,1146.0 859.2,1147.9 858.8,1149.7 858.5,1151.5 858.2,1153.3 858.0,1155.1 857.7,1156.9 857.5,1158.7 857.3,1160.5 857.1,1162.3 856.8,1164.1 856.6,1166.0 856.4,1167.8 856.3,1169.6 856.1,1171.4 856.1,1173.2 856.0,1175.0 856.0,1176.8 856.0,1178.6 855.9,1180.4 855.9,1182.2 855.9,1184.1 855.9,1185.9 855.8,1187.7 855.8,1189.5 855.8,1191.3 855.9,1193.1 855.9,1194.9 855.9,1196.7 856.0,1198.5 856.0,1200.3 856.0,1202.1 856.1,1204.0 856.1,1205.8 856.2,1207.6 856.2,1209.4 856.3,1211.2 856.4,1213.0 856.6,1214.8 856.7,1216.6 856.8,1218.4 857.0,1220.2 857.1,1222.1 857.3,1223.9 857.5,1225.7 857.8,1227.5 858.1,1229.3 858.4,1231.1 858.7,1232.9 858.9,1234.7 859.1,1236.5 859.2,1238.3 859.2,1240.1 859.2,1242.0 859.1,1243.8 858.9,1245.6 858.7,1247.4 858.5,1249.2 858.2,1251.0 857.9,1252.8 857.7,1254.6 857.4,1256.4 857.1,1258.2 857.0,1260.1 857.1,1261.9 857.4,1263.7 857.9,1265.5 858.7,1267.3 859.8,1269.1 861.0,1270.9 862.4,1272.7 863.9,1274.5 865.4,1276.3 867.0,1278.1 868.4,1280.0 869.8,1281.8 871.1,1283.6 872.2,1285.4 873.0,1287.2 873.6,1289.0 874.0,1290.8 874.2,1292.6 874.1,1294.4 873.8,1296.2 873.5,1298.1 873.0,1299.9 872.5,1301.7 871.9,1303.5 871.1,1305.3 870.1,1307.1 869.1,1308.9 867.9,1310.7 866.6,1312.5 865.3,1314.3 863.9,1316.1 862.4,1318.0 860.8,1319.8 859.2,1321.6 857.6,1323.4 856.2,1325.2 854.8,1327.0 853.5,1328.8 852.3,1330.6 851.0,1332.4 849.9,1334.2 849.0,1336.1 848.1,1337.9 847.4,1339.7 846.8,1341.5 846.3,1343.3 846.0,1345.1 910.2,1345.1 909.9,1343.3 909.4,1341.5 908.8,1339.7 908.1,1337.9 907.2,1336.1 906.3,1334.2 905.2,1332.4 903.9,1330.6 902.7,1328.8 901.4,1327.0 900.0,1325.2 898.6,1323.4 897.0,1321.6 895.4,1319.8 893.8,1318.0 892.3,1316.1 890.9,1314.3 889.6,1312.5 888.3,1310.7 887.1,1308.9 886.1,1307.1 885.1,1305.3 884.3,1303.5 883.7,1301.7 883.2,1299.9 882.7,1298.1 882.4,1296.2 882.1,1294.4 882.0,1292.6 882.2,1290.8 882.6,1289.0 883.2,1287.2 884.0,1285.4 885.1,1283.6 886.4,1281.8 887.8,1280.0 889.2,1278.1 890.8,1276.3 892.3,1274.5 893.8,1272.7 895.2,1270.9 896.4,1269.1 897.5,1267.3 898.3,1265.5 898.8,1263.7 899.1,1261.9 899.2,1260.1 899.1,1258.2 898.8,1256.4 898.5,1254.6 898.3,1252.8 898.0,1251.0 897.7,1249.2 897.5,1247.4 897.3,1245.6 897.1,1243.8 897.0,1242.0 897.0,1240.1 897.0,1238.3 897.1,1236.5 897.3,1234.7 897.5,1232.9 897.8,1231.1 898.1,1229.3 898.4,1227.5 898.7,1225.7 898.9,1223.9 899.1,1222.1 899.2,1220.2 899.4,1218.4 899.5,1216.6 899.6,1214.8 899.8,1213.0 899.9,1211.2 900.0,1209.4 900.0,1207.6 900.1,1205.8 900.1,1204.0 900.2,1202.1 900.2,1200.3 900.2,1198.5 900.3,1196.7 900.3,1194.9 900.3,1193.1 900.4,1191.3 900.4,1189.5 900.4,1187.7 900.3,1185.9 900.3,1184.1 900.3,1182.2 900.3,1180.4 900.2,1178.6 900.2,1176.8 900.2,1175.0 900.1,1173.2 900.1,1171.4 899.9,1169.6 899.8,1167.8 899.6,1166.0 899.4,1164.1 899.1,1162.3 898.9,1160.5 898.7,1158.7 898.5,1156.9 898.2,1155.1 898.0,1153.3 897.7,1151.5 897.4,1149.7 897.0,1147.9 896.5,1146.0 896.1,1144.2 895.6,1142.4 895.1,1140.6 894.6,1138.8 894.1,1137.0 893.7,1135.2 893.2,1133.4 892.8,1131.6 892.4,1129.8 892.0,1128.0 891.5,1126.1 891.1,1124.3 890.7,1122.5 890.3,1120.7 889.9,1118.9 889.6,1117.1 889.3,1115.3 888.9,1113.5 888.6,1111.7 888.3,1109.9 887.9,1108.0 887.6,1106.2 887.3,1104.4 887.0,1102.6 886.7,1100.8 886.3,1099.0 886.0,1097.2 885.7,1095.4 885.4,1093.6 885.1,1091.8 884.8,1090.0 884.5,1088.1 884.2,1086.3 883.9,1084.5 883.6,1082.7 883.3,1080.9 883.0,1079.1 882.7,1077.3 882.4,1075.5 882.2,1073.7 881.9,1071.9 881.6,1070.0 881.4,1068.2 881.2,1066.4 880.9,1064.6 880.8,1062.8 880.6,1061.0 880.5,1059.2 880.4,1057.4 880.3,1055.6 880.2,1053.8 880.0,1052.0 879.9,1050.1 879.8,1048.3 879.8,1046.5 879.7,1044.7 879.6,1042.9 879.5,1041.1 879.5,1039.3 879.4,1037.5 879.3,1035.7 879.3,1033.9 879.2,1032.0 879.1,1030.2 879.1,1028.4 879.1,1026.6 879.0,1024.8 879.0,1023.0 879.0,1021.2 879.0,1019.4 878.9,1017.6 878.9,1015.8 878.9,1014.0 878.9,1012.1 878.8,1010.3 878.8,1008.5 878.8,1006.7 878.8,1004.9 878.7,1003.1 878.7,1001.3 878.7,999.5 878.7,997.7 878.6,995.9 878.6,994.0 878.5,992.2 878.5,990.4 878.5,988.6 878.4,986.8 878.4,985.0" fill="#2B7BBA" stroke="#1F5E92" stroke-width="0.8"/>
<polygon points="1006.3,1043.0 1006.3,1044.5 1006.3,1046.0 1006.2,1047.6 1006.2,1049.1 1006.2,1050.6 1006.2,1052.1 1006.2,1053.6 1006.2,1055.1 1006.1,1056.7 1006.1,1058.2 1006.1,1059.7 1006.1,1061.2 1006.1,1062.7 1006.0,1064.3 1006.0,1065.8 1006.0,1067.3 1006.0,1068.8 1005.9,1070.3 1005.9,1071.8 1005.9,1073.4 1005.9,1074.9 1005.8,1076.4 1005.8,1077.9 1005.8,1079.4 1005.8,1081.0 1005.7,1082.5 1005.7,1084.0 1005.7,1085.5 1005.6,1087.0 1005.6,1088.5 1005.5,1090.1 1005.5,1091.6 1005.4,1093.1 1005.4,1094.6 1005.3,1096.1 1005.3,1097.7 1005.2,1099.2 1005.2,1100.7 1005.1,1102.2 1005.0,1103.7 1005.0,1105.2 1004.9,1106.8 1004.8,1108.3 1004.7,1109.8 1004.7,1111.3 1004.6,1112.8 1004.5,1114.4 1004.4,1115.9 1004.3,1117.4 1004.2,1118.9 1004.2,1120.4 1004.1,1121.9 1004.0,1123.5 1003.9,1125.0 1003.8,1126.5 1003.7,1128.0 1003.6,1129.5 1003.5,1131.0 1003.4,1132.6 1003.3,1134.1 1003.2,1135.6 1003.1,1137.1 1003.0,1138.6 1002.9,1140.2 1002.8,1141.7 1002.7,1143.2 1002.6,1144.7 1002.5,1146.2 1002.4,1147.7 1002.3,1149.3 1002.2,1150.8 1002.1,1152.3 1002.0,1153.8 1001.8,1155.3 1001.7,1156.9 1001.5,1158.4 1001.4,1159.9 1001.3,1161.4 1001.1,1162.9 1001.0,1164.4 1000.9,1166.0 1000.7,1167.5 1000.6,1169.0 1000.4,1170.5 1000.3,1172.0 1000.1,1173.6 1000.0,1175.1 999.8,1176.6 999.7,1178.1 999.5,1179.6 999.4,1181.1 999.2,1182.7 999.1,1184.2 998.9,1185.7 998.8,1187.2 998.6,1188.7 998.4,1190.3 998.2,1191.8 998.0,1193.3 997.8,1194.8 997.6,1196.3 997.4,1197.8 997.2,1199.4 997.0,1200.9 996.8,1202.4 996.6,1203.9 996.4,1205.4 996.1,1207.0 995.9,1208.5 995.6,1210.0 995.4,1211.5 995.1,1213.0 994.8,1214.5 994.6,1216.1 994.3,1217.6 994.0,1219.1 993.8,1220.6 993.5,1222.1 993.3,1223.7 993.0,1225.2 992.8,1226.7 992.6,1228.2 992.4,1229.7 992.2,1231.2 992.0,1232.8 991.8,1234.3 991.6,1235.8 991.4,1237.3 991.2,1238.8 991.0,1240.4 990.8,1241.9 990.7,1243.4 990.6,1244.9 990.4,1246.4 990.3,1247.9 990.2,1249.5 990.0,1251.0 989.9,1252.5 989.8,1254.0 989.7,1255.5 989.6,1257.1 989.5,1258.6 989.4,1260.1 989.3,1261.6 989.2,1263.1 989.2,1264.6 989.2,1266.2 989.3,1267.7 989.5,1269.2 989.7,1270.7 990.0,1272.2 990.4,1273.7 990.9,1275.3 991.5,1276.8 992.2,1278.3 992.9,1279.8 993.7,1281.3 994.4,1282.9 995.2,1284.4 995.9,1285.9 996.7,1287.4 997.3,1288.9 997.9,1290.4 998.4,1292.0 998.8,1293.5 999.2,1295.0 999.4,1296.5 999.5,1298.0 999.5,1299.6 999.4,1301.1 999.1,1302.6 998.8,1304.1 998.4,1305.6 997.9,1307.1 997.4,1308.7 996.8,1310.2 996.2,1311.7 995.6,1313.2 994.8,1314.7 994.0,1316.3 993.0,1317.8 991.9,1319.3 990.7,1320.8 989.4,1322.3 988.2,1323.8 987.0,1325.4 985.8,1326.9 984.6,1328.4 983.4,1329.9 982.2,1331.4 980.9,1333.0 979.9,1334.5 978.9,1336.0 978.1,1337.5 977.4,1339.0 976.9,1340.5 976.3,1342.1 975.9,1343.6 975.5,1345.1 1037.5,1345.1 1037.1,1343.6 1036.7,1342.1 1036.1,1340.5 1035.6,1339.0 1034.9,1337.5 1034.1,1336.0 1033.1,1334.5 1032.1,1333.0 1030.8,1331.4 1029.6,1329.9 1028.4,1328.4 1027.2,1326.9 1026.0,1325.4 1024.8,1323.8 1023.6,1322.3 1022.3,1320.8 1021.1,1319.3 1020.0,1317.8 1019.0,1316.3 1018.2,1314.7 1017.4,1313.2 1016.8,1311.7 1016.2,1310.2 1015.6,1308.7 1015.1,1307.1 1014.6,1305.6 1014.2,1304.1 1013.9,1302.6 1013.6,1301.1 1013.5,1299.6 1013.5,1298.0 1013.6,1296.5 1013.8,1295.0 1014.2,1293.5 1014.6,1292.0 1015.1,1290.4 1015.7,1288.9 1016.3,1287.4 1017.1,1285.9 1017.8,1284.4 1018.6,1282.9 1019.3,1281.3 1020.1,1279.8 1020.8,1278.3 1021.5,1276.8 1022.1,1275.3 1022.6,1273.7 1023.0,1272.2 1023.3,1270.7 1023.5,1269.2 1023.7,1267.7 1023.8,1266.2 1023.8,1264.6 1023.8,1263.1 1023.7,1261.6 1023.6,1260.1 1023.5,1258.6 1023.4,1257.1 1023.3,1255.5 1023.2,1254.0 1023.1,1252.5 1023.0,1251.0 1022.8,1249.5 1022.7,1247.9 1022.6,1246.4 1022.4,1244.9 1022.3,1243.4 1022.2,1241.9 1022.0,1240.4 1021.8,1238.8 1021.6,1237.3 1021.4,1235.8 1021.2,1234.3 1021.0,1232.8 1020.8,1231.2 1020.6,1229.7 1020.4,1228.2 1020.2,1226.7 1020.0,1225.2 1019.7,1223.7 1019.5,1222.1 1019.2,1220.6 1019.0,1219.1 1018.7,1217.6 1018.4,1216.1 1018.2,1214.5 1017.9,1213.0 1017.6,1211.5 1017.4,1210.0 1017.1,1208.5 1016.9,1207.0 1016.6,1205.4 1016.4,1203.9 1016.2,1202.4 1016.0,1200.9 1015.8,1199.4 1015.6,1197.8 1015.4,1196.3 1015.2,1194.8 1015.0,1193.3 1014.8,1191.8 1014.6,1190.3 1014.4,1188.7 1014.2,1187.2 1014.1,1185.7 1013.9,1184.2 1013.8,1182.7 1013.6,1181.1 1013.5,1179.6 1013.3,1178.1 1013.2,1176.6 1013.0,1175.1 1012.9,1173.6 1012.7,1172.0 1012.6,1170.5 1012.4,1169.0 1012.3,1167.5 1012.1,1166.0 1012.0,1164.4 1011.9,1162.9 1011.7,1161.4 1011.6,1159.9 1011.5,1158.4 1011.3,1156.9 1011.2,1155.3 1011.0,1153.8 1010.9,1152.3 1010.8,1150.8 1010.7,1149.3 1010.6,1147.7 1010.5,1146.2 1010.4,1144.7 1010.3,1143.2 1010.2,1141.7 1010.1,1140.2 1010.0,1138.6 1009.9,1137.1 1009.8,1135.6 1009.7,1134.1 1009.6,1132.6 1009.5,1131.0 1009.4,1129.5 1009.3,1128.0 1009.2,1126.5 1009.1,1125.0 1009.0,1123.5 1008.9,1121.9 1008.8,1120.4 1008.8,1118.9 1008.7,1117.4 1008.6,1115.9 1008.5,1114.4 1008.4,1112.8 1008.3,1111.3 1008.3,1109.8 1008.2,1108.3 1008.1,1106.8 1008.0,1105.2 1008.0,1103.7 1007.9,1102.2 1007.8,1100.7 1007.8,1099.2 1007.7,1097.7 1007.7,1096.1 1007.6,1094.6 1007.6,1093.1 1007.5,1091.6 1007.5,1090.1 1007.4,1088.5 1007.4,1087.0 1007.3,1085.5 1007.3,1084.0 1007.3,1082.5 1007.2,1081.0 1007.2,1079.4 1007.2,1077.9 1007.2,1076.4 1007.1,1074.9 1007.1,1073.4 1007.1,1071.8 1007.1,1070.3 1007.0,1068.8 1007.0,1067.3 1007.0,1065.8 1007.0,1064.3 1006.9,1062.7 1006.9,1061.2 1006.9,1059.7 1006.9,1058.2 1006.9,1056.7 1006.8,1055.1 1006.8,1053.6 1006.8,1052.1 1006.8,1050.6 1006.8,1049.1 1006.8,1047.6 1006.7,1046.0 1006.7,1044.5 1006.7,1043.0" fill="#FB8A1E" stroke="#C86A10" stroke-width="0.8"/>
<line x1="878.1" y1="985" x2="878.1" y2="1345" stroke="#1E4E78" stroke-width="0.9"/>
<rect x="869.7" y="1194.3" width="16.1" height="84.3" fill="#1D5182" fill-opacity="0.85" stroke="#173F66" stroke-width="0.8"/>
<line x1="869.7" y1="1241.8" x2="885.8" y2="1241.8" stroke="#173F66" stroke-width="0.9"/>
<line x1="1006.5" y1="1043" x2="1006.5" y2="1345" stroke="#9A5510" stroke-width="0.9"/>
<rect x="998.5" y="1241.3" width="16.1" height="103.5" fill="#A85A12" fill-opacity="0.9" stroke="#7A4210" stroke-width="0.8"/>
<line x1="998.5" y1="1279.3" x2="1014.6" y2="1279.3" stroke="#6A3A0E" stroke-width="0.9"/>
<path d="M1104.4,1344.5 Q1120,1343.5 1135.7,1341.5 Q1150,1343.5 1169.4,1344.5 Z" fill="#2CA02C" stroke="#1E7A1E" stroke-width="0.8"/>
<line x1="1135.7" y1="1212.4" x2="1135.7" y2="1344" stroke="#888" stroke-width="0.9"/>
<line x1="1128.5" y1="1334" x2="1143" y2="1334" stroke="#888" stroke-width="0.9"/>
<polygon points="1135.7,1238.8 1137.2,1241.8 1135.7,1244.8 1134.2,1241.8" fill="#555"/>
<polygon points="1135.7,1275.6 1138.7,1278.6 1135.7,1281.6 1132.7,1278.6" fill="#2E8B2E"/>
<g stroke="#000">
<line x1="816.5" y1="893" x2="816.5" y2="1346.5" stroke-width="2.8"/>
<line x1="815" y1="1345.3" x2="1204.3" y2="1345.3" stroke-width="3"/>
<line x1="809" y1="1345.1" x2="816" y2="1345.1" stroke-width="1.5"/>
<line x1="809" y1="1280.8" x2="816" y2="1280.8" stroke-width="1.5"/>
<line x1="809" y1="1216.5" x2="816" y2="1216.5" stroke-width="1.5"/>
<line x1="809" y1="1152.2" x2="816" y2="1152.2" stroke-width="1.5"/>
<line x1="809" y1="1087.9" x2="816" y2="1087.9" stroke-width="1.5"/>
<line x1="809" y1="1023.6" x2="816" y2="1023.6" stroke-width="1.5"/>
</g>
<text x="807.6" y="1351.6" font-size="25.43" text-anchor="end">0</text>
<text x="807.6" y="1287.3" font-size="25.43" text-anchor="end">1</text>
<text x="807.6" y="1223.0" font-size="25.43" text-anchor="end">2</text>
<text x="807.6" y="1158.7" font-size="25.43" text-anchor="end">3</text>
<text x="807.6" y="1094.4" font-size="25.43" text-anchor="end">4</text>
<text x="807.6" y="1030.1" font-size="25.43" text-anchor="end">5</text>
<g fill="none" stroke="#000" stroke-width="1.5">
<polyline points="873.4,858.7 873.4,821.4 1136.8,821.4 1136.8,858.2"/>
<polyline points="876.8,911.6 876.8,872.9 1140.7,872.9 1140.7,1178.7"/>
<polyline points="876.5,974.5 876.5,918.8 1005,918.8 1005,1035.3"/>
</g>
<text x="949.3" y="811.0" font-size="24.15"><tspan font-style="italic">P</tspan> &lt; 0001</text>
<text x="945.3" y="857.0" font-size="24.15"><tspan font-style="italic">P</tspan> &lt; 0001</text>
<text x="894.6" y="903.4" font-size="24.15"><tspan font-style="italic">P</tspan> &lt; 0001</text>
<text x="761.8" y="1296.9" font-size="31.14" font-weight="bold" transform="rotate(-90 761.8 1296.9)">Log 2 Expression <tspan font-style="italic" font-weight="bold">FOLH1</tspan></text>
<text x="773.0" y="1472.9" font-size="33.43" font-weight="bold" transform="rotate(-37 773.0 1472.9)">Cluster 1</text>
<text x="901.6" y="1463.9" font-size="34.57" font-weight="bold" transform="rotate(-37 901.6 1463.9)">Cluster 2</text>
<text x="1034.0" y="1467.5" font-size="34.24" font-weight="bold" transform="rotate(-37 1034.0 1467.5)">Cluster 3</text>
<text x="738.6" y="1495.8" font-size="18.95">(<tspan font-style="italic" font-weight="normal">n</tspan> = 2427)</text>
<text x="878.5" y="1495.9" font-size="19.26">(<tspan font-style="italic" font-weight="normal">n</tspan> = 743)</text>
<text x="1013.9" y="1495.8" font-size="19.10">(<tspan font-style="italic" font-weight="normal">n</tspan> = 494)</text>
<text x="426.3" y="1495.7" font-size="24.91" font-weight="bold">Cell number per cluster:</text>
<text x="747.7" y="815.6" font-size="62.47" font-weight="bold">d</text>
<g stroke="#E2E2E2" stroke-width="1.2">
<line x1="1392" y1="1229.6" x2="1653" y2="1229.6"/>
<line x1="1392" y1="1143.6" x2="1653" y2="1143.6"/>
<line x1="1392" y1="1057.7" x2="1653" y2="1057.7"/>
<line x1="1392" y1="971.7" x2="1653" y2="971.7"/>
<line x1="1392" y1="885.8" x2="1653" y2="885.8"/>
</g>
<rect x="1400.6" y="1265.7" width="106.2" height="49.8" fill="#A89A24"/>
<rect x="1400.6" y="1176.7" width="106.2" height="88.9" fill="#CC8508"/>
<rect x="1400.6" y="885.8" width="106.2" height="290.9" fill="#0D5C9E"/>
<rect x="1400.6" y="885.8" width="106.2" height="429.7" fill="none" stroke="#000" stroke-width="4"/>
<rect x="1538.5" y="1065.0" width="105.7" height="250.5" fill="#A89A24"/>
<rect x="1538.5" y="1015.1" width="105.7" height="49.8" fill="#CC8508"/>
<rect x="1538.5" y="885.8" width="105.7" height="129.3" fill="#0D5C9E"/>
<rect x="1538.5" y="885.8" width="105.7" height="429.7" fill="none" stroke="#000" stroke-width="4"/>
<g stroke="#000">
<line x1="1379" y1="866" x2="1379" y2="1317" stroke-width="3"/>
<line x1="1377.5" y1="1315.8" x2="1681" y2="1315.8" stroke-width="3"/>
<line x1="1373" y1="1315.5" x2="1379" y2="1315.5" stroke-width="1.5"/>
<line x1="1373" y1="1229.6" x2="1379" y2="1229.6" stroke-width="1.5"/>
<line x1="1373" y1="1143.6" x2="1379" y2="1143.6" stroke-width="1.5"/>
<line x1="1373" y1="1057.7" x2="1379" y2="1057.7" stroke-width="1.5"/>
<line x1="1373" y1="971.7" x2="1379" y2="971.7" stroke-width="1.5"/>
<line x1="1373" y1="885.8" x2="1379" y2="885.8" stroke-width="1.5"/>
</g>
<text x="1373.6" y="1324.4" font-size="25.87" text-anchor="end">0</text>
<text x="1373.6" y="1238.5" font-size="25.87" text-anchor="end">20</text>
<text x="1373.6" y="1152.5" font-size="25.87" text-anchor="end">40</text>
<text x="1373.6" y="1066.6" font-size="25.87" text-anchor="end">60</text>
<text x="1373.6" y="980.7" font-size="25.87" text-anchor="end">80</text>
<text x="1373.6" y="894.7" font-size="25.87" text-anchor="end">100</text>
<circle cx="1433.6" cy="1396.6" r="14" fill="#6CC62A" stroke="#000" stroke-width="2.8"/>
<circle cx="1386.2" cy="1530.6" r="14" fill="#9013FE" stroke="#000" stroke-width="2.8"/>
<circle cx="1697.4" cy="1034.8" r="18.3" fill="#1565A8" stroke="#000" stroke-width="3"/>
<circle cx="1698" cy="1102.6" r="18.3" fill="#E09A27" stroke="#000" stroke-width="3"/>
<circle cx="1696" cy="1171.2" r="18.3" fill="#A89A2A" stroke="#000" stroke-width="3"/>
<text x="1293.2" y="1251.1" font-size="34.08" font-weight="bold" transform="rotate(-90 1293.2 1251.1)">Percentage of cells</text>
<text x="1408.0" y="1299.6" font-size="33.67" font-weight="bold">10.9%</text>
<text x="1544.5" y="1193.2" font-size="33.81" font-weight="bold">58.3%</text>
<text x="1461.5" y="1392.5" font-size="34.54" font-weight="bold" transform="rotate(-43 1461.5 1392.5)">WT</text>
<text x="1419.7" y="1524.8" font-size="33.85" font-weight="bold" transform="rotate(-43 1419.7 1524.8)">Liver metastasis</text>
<text x="1747.7" y="1044.9" font-size="32.53" font-weight="bold">Cluster 1: <tspan font-style="italic" font-weight="normal">FOLH1</tspan><tspan font-weight="normal">-High</tspan></text>
<text x="1748.2" y="1110.0" font-size="32.53" font-weight="bold">Cluster 2: <tspan font-style="italic" font-weight="normal">FOLH1</tspan><tspan font-weight="normal">-Moderate</tspan></text>
<text x="1752.3" y="1179.2" font-size="32.43" font-weight="bold">Cluster 3: <tspan font-style="italic" font-weight="normal">FOLH1</tspan><tspan font-weight="normal">-low</tspan></text>
<text x="1679.6" y="1379.0" font-size="34.08" font-weight="bold"><tspan>:22Rv1 model</tspan></text>
<text x="1295.8" y="815.0" font-size="59.27" font-weight="bold">e</text>
</svg></body></html>
